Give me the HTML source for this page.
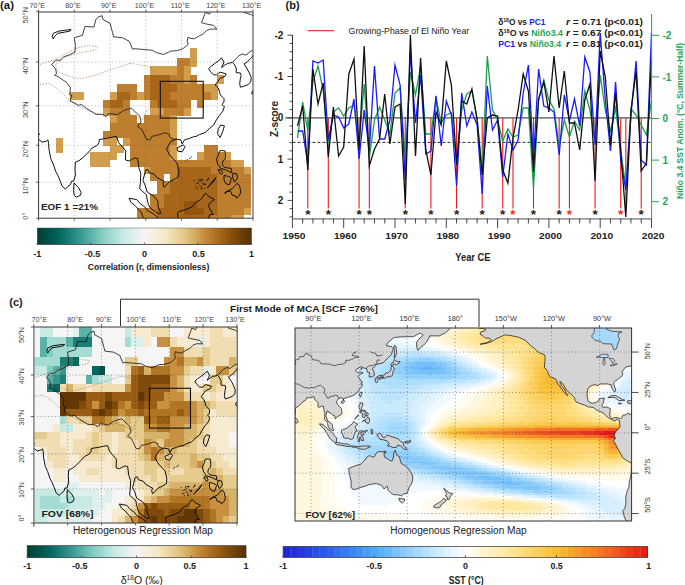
<!DOCTYPE html><html><head><meta charset="utf-8"><style>html,body{margin:0;padding:0;background:#fff;width:685px;height:585px;overflow:hidden}svg{display:block}</style></head><body><svg width="685" height="585" viewBox="0 0 685 585" font-family="'Liberation Sans', sans-serif"><defs><linearGradient id="gbrbg" x1="0" x2="1" y1="0" y2="0"><stop offset="0.000" stop-color="#003c30"/><stop offset="0.025" stop-color="#00473c"/><stop offset="0.050" stop-color="#005147"/><stop offset="0.075" stop-color="#015c53"/><stop offset="0.100" stop-color="#01665e"/><stop offset="0.125" stop-color="#0e726a"/><stop offset="0.150" stop-color="#1b7f77"/><stop offset="0.175" stop-color="#288b83"/><stop offset="0.200" stop-color="#35978f"/><stop offset="0.225" stop-color="#48a49c"/><stop offset="0.250" stop-color="#5ab2a8"/><stop offset="0.275" stop-color="#6dc0b4"/><stop offset="0.300" stop-color="#80cdc1"/><stop offset="0.325" stop-color="#92d4ca"/><stop offset="0.350" stop-color="#a4dcd3"/><stop offset="0.375" stop-color="#b5e3dc"/><stop offset="0.400" stop-color="#c7eae5"/><stop offset="0.425" stop-color="#d2ede9"/><stop offset="0.450" stop-color="#def0ed"/><stop offset="0.475" stop-color="#eaf2f1"/><stop offset="0.500" stop-color="#f5f5f5"/><stop offset="0.525" stop-color="#f5f2e8"/><stop offset="0.550" stop-color="#f6eedc"/><stop offset="0.575" stop-color="#f6ebd0"/><stop offset="0.600" stop-color="#f6e8c3"/><stop offset="0.625" stop-color="#f0deb2"/><stop offset="0.650" stop-color="#ead5a0"/><stop offset="0.675" stop-color="#e5cc8e"/><stop offset="0.700" stop-color="#dfc27d"/><stop offset="0.725" stop-color="#d7b269"/><stop offset="0.750" stop-color="#cfa255"/><stop offset="0.775" stop-color="#c79141"/><stop offset="0.800" stop-color="#bf812d"/><stop offset="0.825" stop-color="#b27524"/><stop offset="0.850" stop-color="#a6691c"/><stop offset="0.875" stop-color="#995d13"/><stop offset="0.900" stop-color="#8c510a"/><stop offset="0.925" stop-color="#7e4909"/><stop offset="0.950" stop-color="#704108"/><stop offset="0.975" stop-color="#623806"/><stop offset="1.000" stop-color="#543005"/></linearGradient><clipPath id="clipA"><rect x="38.6" y="12.0" width="214.4" height="206.2"/></clipPath><clipPath id="clipC"><rect x="33.8" y="327.0" width="203.39999999999998" height="196.0"/></clipPath><clipPath id="clipP"><rect x="295.0" y="328.0" width="336.6" height="193.0"/></clipPath></defs>
<text x="0.0" y="9.2" font-size="11.5" font-weight="bold" fill="#1a1a1a" text-anchor="start" >(a)</text>
<text x="285.5" y="9.2" font-size="11" font-weight="bold" fill="#1a1a1a" text-anchor="start" >(b)</text>
<text x="9.3" y="305.8" font-size="11" font-weight="bold" fill="#1a1a1a" text-anchor="start" >(c)</text>
<g clip-path="url(#clipA)">
<g shape-rendering="crispEdges">
<rect x="38.60" y="12.00" width="214.40" height="206.20" fill="#ffffff" />
<rect x="190.43" y="48.42" width="7.00" height="9.44" fill="#d09e4c" />
<rect x="177.03" y="57.57" width="7.00" height="9.18" fill="#bd7f2f" />
<rect x="183.73" y="57.57" width="7.00" height="9.18" fill="#bd7f2f" />
<rect x="190.43" y="57.57" width="7.00" height="9.18" fill="#d09e4c" />
<rect x="150.24" y="66.45" width="7.00" height="8.95" fill="#d09e4c" />
<rect x="156.94" y="66.45" width="7.00" height="8.95" fill="#d09e4c" />
<rect x="163.64" y="66.45" width="7.00" height="8.95" fill="#d09e4c" />
<rect x="170.34" y="66.45" width="7.00" height="8.95" fill="#d09e4c" />
<rect x="177.03" y="66.45" width="7.00" height="8.95" fill="#bd7f2f" />
<rect x="183.73" y="66.45" width="7.00" height="8.95" fill="#d09e4c" />
<rect x="143.54" y="75.10" width="7.00" height="8.73" fill="#bd7f2f" />
<rect x="150.24" y="75.10" width="7.00" height="8.73" fill="#a8661b" />
<rect x="156.94" y="75.10" width="7.00" height="8.73" fill="#a8661b" />
<rect x="163.64" y="75.10" width="7.00" height="8.73" fill="#a8661b" />
<rect x="170.34" y="75.10" width="7.00" height="8.73" fill="#bd7f2f" />
<rect x="177.03" y="75.10" width="7.00" height="8.73" fill="#bd7f2f" />
<rect x="183.73" y="75.10" width="7.00" height="8.73" fill="#d09e4c" />
<rect x="190.43" y="75.10" width="7.00" height="8.73" fill="#bd7f2f" />
<rect x="217.22" y="75.10" width="7.00" height="8.73" fill="#d09e4c" />
<rect x="116.75" y="83.53" width="7.00" height="8.54" fill="#bd7f2f" />
<rect x="123.45" y="83.53" width="7.00" height="8.54" fill="#bd7f2f" />
<rect x="130.15" y="83.53" width="7.00" height="8.54" fill="#bd7f2f" />
<rect x="143.54" y="83.53" width="7.00" height="8.54" fill="#bd7f2f" />
<rect x="150.24" y="83.53" width="7.00" height="8.54" fill="#a8661b" />
<rect x="156.94" y="83.53" width="7.00" height="8.54" fill="#a8661b" />
<rect x="163.64" y="83.53" width="7.00" height="8.54" fill="#a8661b" />
<rect x="170.34" y="83.53" width="7.00" height="8.54" fill="#a8661b" />
<rect x="177.03" y="83.53" width="7.00" height="8.54" fill="#bd7f2f" />
<rect x="183.73" y="83.53" width="7.00" height="8.54" fill="#bd7f2f" />
<rect x="190.43" y="83.53" width="7.00" height="8.54" fill="#bd7f2f" />
<rect x="197.13" y="83.53" width="7.00" height="8.54" fill="#bd7f2f" />
<rect x="203.83" y="83.53" width="7.00" height="8.54" fill="#d09e4c" />
<rect x="210.53" y="83.53" width="7.00" height="8.54" fill="#d09e4c" />
<rect x="69.86" y="91.77" width="7.00" height="8.36" fill="#d09e4c" />
<rect x="76.56" y="91.77" width="7.00" height="8.36" fill="#d09e4c" />
<rect x="110.05" y="91.77" width="7.00" height="8.36" fill="#d09e4c" />
<rect x="116.75" y="91.77" width="7.00" height="8.36" fill="#a8661b" />
<rect x="123.45" y="91.77" width="7.00" height="8.36" fill="#a8661b" />
<rect x="130.15" y="91.77" width="7.00" height="8.36" fill="#bd7f2f" />
<rect x="136.84" y="91.77" width="7.00" height="8.36" fill="#d09e4c" />
<rect x="143.54" y="91.77" width="7.00" height="8.36" fill="#bd7f2f" />
<rect x="150.24" y="91.77" width="7.00" height="8.36" fill="#a8661b" />
<rect x="156.94" y="91.77" width="7.00" height="8.36" fill="#a8661b" />
<rect x="163.64" y="91.77" width="7.00" height="8.36" fill="#a8661b" />
<rect x="170.34" y="91.77" width="7.00" height="8.36" fill="#bd7f2f" />
<rect x="177.03" y="91.77" width="7.00" height="8.36" fill="#bd7f2f" />
<rect x="183.73" y="91.77" width="7.00" height="8.36" fill="#bd7f2f" />
<rect x="190.43" y="91.77" width="7.00" height="8.36" fill="#bd7f2f" />
<rect x="197.13" y="91.77" width="7.00" height="8.36" fill="#bd7f2f" />
<rect x="203.83" y="91.77" width="7.00" height="8.36" fill="#bd7f2f" />
<rect x="210.53" y="91.77" width="7.00" height="8.36" fill="#d09e4c" />
<rect x="103.35" y="99.82" width="7.00" height="8.20" fill="#bd7f2f" />
<rect x="110.05" y="99.82" width="7.00" height="8.20" fill="#a8661b" />
<rect x="116.75" y="99.82" width="7.00" height="8.20" fill="#a8661b" />
<rect x="123.45" y="99.82" width="7.00" height="8.20" fill="#bd7f2f" />
<rect x="150.24" y="99.82" width="7.00" height="8.20" fill="#bd7f2f" />
<rect x="156.94" y="99.82" width="7.00" height="8.20" fill="#a8661b" />
<rect x="163.64" y="99.82" width="7.00" height="8.20" fill="#a8661b" />
<rect x="170.34" y="99.82" width="7.00" height="8.20" fill="#a8661b" />
<rect x="177.03" y="99.82" width="7.00" height="8.20" fill="#bd7f2f" />
<rect x="183.73" y="99.82" width="7.00" height="8.20" fill="#bd7f2f" />
<rect x="197.13" y="99.82" width="7.00" height="8.20" fill="#bd7f2f" />
<rect x="103.35" y="107.72" width="7.00" height="8.05" fill="#d09e4c" />
<rect x="110.05" y="107.72" width="7.00" height="8.05" fill="#bd7f2f" />
<rect x="116.75" y="107.72" width="7.00" height="8.05" fill="#bd7f2f" />
<rect x="123.45" y="107.72" width="7.00" height="8.05" fill="#bd7f2f" />
<rect x="150.24" y="107.72" width="7.00" height="8.05" fill="#d09e4c" />
<rect x="156.94" y="107.72" width="7.00" height="8.05" fill="#d09e4c" />
<rect x="163.64" y="107.72" width="7.00" height="8.05" fill="#bd7f2f" />
<rect x="170.34" y="107.72" width="7.00" height="8.05" fill="#bd7f2f" />
<rect x="177.03" y="107.72" width="7.00" height="8.05" fill="#bd7f2f" />
<rect x="183.73" y="107.72" width="7.00" height="8.05" fill="#d09e4c" />
<rect x="110.05" y="115.47" width="7.00" height="7.92" fill="#d09e4c" />
<rect x="116.75" y="115.47" width="7.00" height="7.92" fill="#bd7f2f" />
<rect x="123.45" y="115.47" width="7.00" height="7.92" fill="#bd7f2f" />
<rect x="130.15" y="115.47" width="7.00" height="7.92" fill="#bd7f2f" />
<rect x="143.54" y="115.47" width="7.00" height="7.92" fill="#bd7f2f" />
<rect x="150.24" y="115.47" width="7.00" height="7.92" fill="#bd7f2f" />
<rect x="156.94" y="115.47" width="7.00" height="7.92" fill="#bd7f2f" />
<rect x="163.64" y="115.47" width="7.00" height="7.92" fill="#bd7f2f" />
<rect x="170.34" y="115.47" width="7.00" height="7.92" fill="#d09e4c" />
<rect x="110.05" y="123.09" width="7.00" height="7.79" fill="#bd7f2f" />
<rect x="116.75" y="123.09" width="7.00" height="7.79" fill="#bd7f2f" />
<rect x="123.45" y="123.09" width="7.00" height="7.79" fill="#bd7f2f" />
<rect x="130.15" y="123.09" width="7.00" height="7.79" fill="#bd7f2f" />
<rect x="136.84" y="123.09" width="7.00" height="7.79" fill="#bd7f2f" />
<rect x="143.54" y="123.09" width="7.00" height="7.79" fill="#bd7f2f" />
<rect x="150.24" y="123.09" width="7.00" height="7.79" fill="#bd7f2f" />
<rect x="156.94" y="123.09" width="7.00" height="7.79" fill="#bd7f2f" />
<rect x="163.64" y="123.09" width="7.00" height="7.79" fill="#bd7f2f" />
<rect x="170.34" y="123.09" width="7.00" height="7.79" fill="#d09e4c" />
<rect x="103.35" y="130.58" width="7.00" height="7.69" fill="#bd7f2f" />
<rect x="110.05" y="130.58" width="7.00" height="7.69" fill="#bd7f2f" />
<rect x="116.75" y="130.58" width="7.00" height="7.69" fill="#bd7f2f" />
<rect x="123.45" y="130.58" width="7.00" height="7.69" fill="#bd7f2f" />
<rect x="130.15" y="130.58" width="7.00" height="7.69" fill="#bd7f2f" />
<rect x="136.84" y="130.58" width="7.00" height="7.69" fill="#bd7f2f" />
<rect x="143.54" y="130.58" width="7.00" height="7.69" fill="#bd7f2f" />
<rect x="150.24" y="130.58" width="7.00" height="7.69" fill="#bd7f2f" />
<rect x="156.94" y="130.58" width="7.00" height="7.69" fill="#bd7f2f" />
<rect x="163.64" y="130.58" width="7.00" height="7.69" fill="#bd7f2f" />
<rect x="170.34" y="130.58" width="7.00" height="7.69" fill="#d09e4c" />
<rect x="56.46" y="137.96" width="7.00" height="7.59" fill="#d09e4c" />
<rect x="103.35" y="137.96" width="7.00" height="7.59" fill="#d09e4c" />
<rect x="110.05" y="137.96" width="7.00" height="7.59" fill="#d09e4c" />
<rect x="123.45" y="137.96" width="7.00" height="7.59" fill="#d09e4c" />
<rect x="130.15" y="137.96" width="7.00" height="7.59" fill="#bd7f2f" />
<rect x="136.84" y="137.96" width="7.00" height="7.59" fill="#bd7f2f" />
<rect x="143.54" y="137.96" width="7.00" height="7.59" fill="#bd7f2f" />
<rect x="150.24" y="137.96" width="7.00" height="7.59" fill="#bd7f2f" />
<rect x="156.94" y="137.96" width="7.00" height="7.59" fill="#bd7f2f" />
<rect x="163.64" y="137.96" width="7.00" height="7.59" fill="#bd7f2f" />
<rect x="170.34" y="137.96" width="7.00" height="7.59" fill="#bd7f2f" />
<rect x="56.46" y="145.25" width="7.00" height="7.50" fill="#d09e4c" />
<rect x="110.05" y="145.25" width="7.00" height="7.50" fill="#d09e4c" />
<rect x="116.75" y="145.25" width="7.00" height="7.50" fill="#d09e4c" />
<rect x="130.15" y="145.25" width="7.00" height="7.50" fill="#bd7f2f" />
<rect x="136.84" y="145.25" width="7.00" height="7.50" fill="#bd7f2f" />
<rect x="143.54" y="145.25" width="7.00" height="7.50" fill="#bd7f2f" />
<rect x="150.24" y="145.25" width="7.00" height="7.50" fill="#bd7f2f" />
<rect x="156.94" y="145.25" width="7.00" height="7.50" fill="#bd7f2f" />
<rect x="163.64" y="145.25" width="7.00" height="7.50" fill="#bd7f2f" />
<rect x="170.34" y="145.25" width="7.00" height="7.50" fill="#d09e4c" />
<rect x="203.83" y="145.25" width="7.00" height="7.50" fill="#bd7f2f" />
<rect x="210.53" y="145.25" width="7.00" height="7.50" fill="#bd7f2f" />
<rect x="89.95" y="152.45" width="7.00" height="7.42" fill="#d09e4c" />
<rect x="96.65" y="152.45" width="7.00" height="7.42" fill="#d09e4c" />
<rect x="103.35" y="152.45" width="7.00" height="7.42" fill="#d09e4c" />
<rect x="110.05" y="152.45" width="7.00" height="7.42" fill="#d09e4c" />
<rect x="130.15" y="152.45" width="7.00" height="7.42" fill="#bd7f2f" />
<rect x="136.84" y="152.45" width="7.00" height="7.42" fill="#bd7f2f" />
<rect x="143.54" y="152.45" width="7.00" height="7.42" fill="#bd7f2f" />
<rect x="150.24" y="152.45" width="7.00" height="7.42" fill="#bd7f2f" />
<rect x="156.94" y="152.45" width="7.00" height="7.42" fill="#bd7f2f" />
<rect x="163.64" y="152.45" width="7.00" height="7.42" fill="#bd7f2f" />
<rect x="170.34" y="152.45" width="7.00" height="7.42" fill="#d09e4c" />
<rect x="197.13" y="152.45" width="7.00" height="7.42" fill="#d09e4c" />
<rect x="203.83" y="152.45" width="7.00" height="7.42" fill="#bd7f2f" />
<rect x="210.53" y="152.45" width="7.00" height="7.42" fill="#bd7f2f" />
<rect x="217.22" y="152.45" width="7.00" height="7.42" fill="#bd7f2f" />
<rect x="223.92" y="152.45" width="7.00" height="7.42" fill="#d09e4c" />
<rect x="89.95" y="159.57" width="7.00" height="7.35" fill="#d09e4c" />
<rect x="96.65" y="159.57" width="7.00" height="7.35" fill="#d09e4c" />
<rect x="103.35" y="159.57" width="7.00" height="7.35" fill="#d09e4c" />
<rect x="130.15" y="159.57" width="7.00" height="7.35" fill="#bd7f2f" />
<rect x="136.84" y="159.57" width="7.00" height="7.35" fill="#bd7f2f" />
<rect x="143.54" y="159.57" width="7.00" height="7.35" fill="#bd7f2f" />
<rect x="150.24" y="159.57" width="7.00" height="7.35" fill="#bd7f2f" />
<rect x="156.94" y="159.57" width="7.00" height="7.35" fill="#bd7f2f" />
<rect x="163.64" y="159.57" width="7.00" height="7.35" fill="#bd7f2f" />
<rect x="170.34" y="159.57" width="7.00" height="7.35" fill="#bd7f2f" />
<rect x="177.03" y="159.57" width="7.00" height="7.35" fill="#bd7f2f" />
<rect x="183.73" y="159.57" width="7.00" height="7.35" fill="#bd7f2f" />
<rect x="190.43" y="159.57" width="7.00" height="7.35" fill="#bd7f2f" />
<rect x="197.13" y="159.57" width="7.00" height="7.35" fill="#bd7f2f" />
<rect x="203.83" y="159.57" width="7.00" height="7.35" fill="#bd7f2f" />
<rect x="210.53" y="159.57" width="7.00" height="7.35" fill="#bd7f2f" />
<rect x="217.22" y="159.57" width="7.00" height="7.35" fill="#bd7f2f" />
<rect x="223.92" y="159.57" width="7.00" height="7.35" fill="#bd7f2f" />
<rect x="230.62" y="159.57" width="7.00" height="7.35" fill="#d09e4c" />
<rect x="237.32" y="159.57" width="7.00" height="7.35" fill="#d09e4c" />
<rect x="143.54" y="166.63" width="7.00" height="7.29" fill="#d09e4c" />
<rect x="150.24" y="166.63" width="7.00" height="7.29" fill="#bd7f2f" />
<rect x="156.94" y="166.63" width="7.00" height="7.29" fill="#bd7f2f" />
<rect x="163.64" y="166.63" width="7.00" height="7.29" fill="#bd7f2f" />
<rect x="170.34" y="166.63" width="7.00" height="7.29" fill="#bd7f2f" />
<rect x="177.03" y="166.63" width="7.00" height="7.29" fill="#a8661b" />
<rect x="183.73" y="166.63" width="7.00" height="7.29" fill="#a8661b" />
<rect x="190.43" y="166.63" width="7.00" height="7.29" fill="#a8661b" />
<rect x="197.13" y="166.63" width="7.00" height="7.29" fill="#a8661b" />
<rect x="203.83" y="166.63" width="7.00" height="7.29" fill="#a8661b" />
<rect x="210.53" y="166.63" width="7.00" height="7.29" fill="#bd7f2f" />
<rect x="217.22" y="166.63" width="7.00" height="7.29" fill="#bd7f2f" />
<rect x="223.92" y="166.63" width="7.00" height="7.29" fill="#bd7f2f" />
<rect x="230.62" y="166.63" width="7.00" height="7.29" fill="#bd7f2f" />
<rect x="237.32" y="166.63" width="7.00" height="7.29" fill="#bd7f2f" />
<rect x="244.02" y="166.63" width="7.00" height="7.29" fill="#d09e4c" />
<rect x="150.24" y="173.62" width="7.00" height="7.24" fill="#bd7f2f" />
<rect x="156.94" y="173.62" width="7.00" height="7.24" fill="#bd7f2f" />
<rect x="170.34" y="173.62" width="7.00" height="7.24" fill="#bd7f2f" />
<rect x="177.03" y="173.62" width="7.00" height="7.24" fill="#a8661b" />
<rect x="183.73" y="173.62" width="7.00" height="7.24" fill="#a8661b" />
<rect x="190.43" y="173.62" width="7.00" height="7.24" fill="#a8661b" />
<rect x="197.13" y="173.62" width="7.00" height="7.24" fill="#a8661b" />
<rect x="203.83" y="173.62" width="7.00" height="7.24" fill="#a8661b" />
<rect x="210.53" y="173.62" width="7.00" height="7.24" fill="#a8661b" />
<rect x="217.22" y="173.62" width="7.00" height="7.24" fill="#bd7f2f" />
<rect x="223.92" y="173.62" width="7.00" height="7.24" fill="#bd7f2f" />
<rect x="230.62" y="173.62" width="7.00" height="7.24" fill="#bd7f2f" />
<rect x="237.32" y="173.62" width="7.00" height="7.24" fill="#bd7f2f" />
<rect x="244.02" y="173.62" width="7.00" height="7.24" fill="#bd7f2f" />
<rect x="156.94" y="180.56" width="7.00" height="7.20" fill="#bd7f2f" />
<rect x="163.64" y="180.56" width="7.00" height="7.20" fill="#bd7f2f" />
<rect x="170.34" y="180.56" width="7.00" height="7.20" fill="#a8661b" />
<rect x="177.03" y="180.56" width="7.00" height="7.20" fill="#a8661b" />
<rect x="183.73" y="180.56" width="7.00" height="7.20" fill="#a8661b" />
<rect x="190.43" y="180.56" width="7.00" height="7.20" fill="#a8661b" />
<rect x="197.13" y="180.56" width="7.00" height="7.20" fill="#a8661b" />
<rect x="203.83" y="180.56" width="7.00" height="7.20" fill="#a8661b" />
<rect x="210.53" y="180.56" width="7.00" height="7.20" fill="#a8661b" />
<rect x="217.22" y="180.56" width="7.00" height="7.20" fill="#bd7f2f" />
<rect x="223.92" y="180.56" width="7.00" height="7.20" fill="#bd7f2f" />
<rect x="230.62" y="180.56" width="7.00" height="7.20" fill="#bd7f2f" />
<rect x="237.32" y="180.56" width="7.00" height="7.20" fill="#bd7f2f" />
<rect x="244.02" y="180.56" width="7.00" height="7.20" fill="#bd7f2f" />
<rect x="156.94" y="187.46" width="7.00" height="7.17" fill="#bd7f2f" />
<rect x="163.64" y="187.46" width="7.00" height="7.17" fill="#bd7f2f" />
<rect x="170.34" y="187.46" width="7.00" height="7.17" fill="#a8661b" />
<rect x="177.03" y="187.46" width="7.00" height="7.17" fill="#a8661b" />
<rect x="183.73" y="187.46" width="7.00" height="7.17" fill="#a8661b" />
<rect x="190.43" y="187.46" width="7.00" height="7.17" fill="#a8661b" />
<rect x="197.13" y="187.46" width="7.00" height="7.17" fill="#a8661b" />
<rect x="203.83" y="187.46" width="7.00" height="7.17" fill="#a8661b" />
<rect x="210.53" y="187.46" width="7.00" height="7.17" fill="#a8661b" />
<rect x="217.22" y="187.46" width="7.00" height="7.17" fill="#bd7f2f" />
<rect x="223.92" y="187.46" width="7.00" height="7.17" fill="#bd7f2f" />
<rect x="230.62" y="187.46" width="7.00" height="7.17" fill="#bd7f2f" />
<rect x="237.32" y="187.46" width="7.00" height="7.17" fill="#bd7f2f" />
<rect x="244.02" y="187.46" width="7.00" height="7.17" fill="#bd7f2f" />
<rect x="150.24" y="194.33" width="7.00" height="7.14" fill="#bd7f2f" />
<rect x="156.94" y="194.33" width="7.00" height="7.14" fill="#bd7f2f" />
<rect x="163.64" y="194.33" width="7.00" height="7.14" fill="#a8661b" />
<rect x="170.34" y="194.33" width="7.00" height="7.14" fill="#a8661b" />
<rect x="177.03" y="194.33" width="7.00" height="7.14" fill="#a8661b" />
<rect x="183.73" y="194.33" width="7.00" height="7.14" fill="#a8661b" />
<rect x="190.43" y="194.33" width="7.00" height="7.14" fill="#a8661b" />
<rect x="197.13" y="194.33" width="7.00" height="7.14" fill="#a8661b" />
<rect x="203.83" y="194.33" width="7.00" height="7.14" fill="#a8661b" />
<rect x="210.53" y="194.33" width="7.00" height="7.14" fill="#a8661b" />
<rect x="217.22" y="194.33" width="7.00" height="7.14" fill="#bd7f2f" />
<rect x="223.92" y="194.33" width="7.00" height="7.14" fill="#bd7f2f" />
<rect x="230.62" y="194.33" width="7.00" height="7.14" fill="#bd7f2f" />
<rect x="237.32" y="194.33" width="7.00" height="7.14" fill="#bd7f2f" />
<rect x="244.02" y="194.33" width="7.00" height="7.14" fill="#bd7f2f" />
<rect x="150.24" y="201.17" width="7.00" height="7.12" fill="#bd7f2f" />
<rect x="156.94" y="201.17" width="7.00" height="7.12" fill="#bd7f2f" />
<rect x="163.64" y="201.17" width="7.00" height="7.12" fill="#a8661b" />
<rect x="170.34" y="201.17" width="7.00" height="7.12" fill="#a8661b" />
<rect x="177.03" y="201.17" width="7.00" height="7.12" fill="#a8661b" />
<rect x="183.73" y="201.17" width="7.00" height="7.12" fill="#935410" />
<rect x="190.43" y="201.17" width="7.00" height="7.12" fill="#935410" />
<rect x="197.13" y="201.17" width="7.00" height="7.12" fill="#a8661b" />
<rect x="203.83" y="201.17" width="7.00" height="7.12" fill="#a8661b" />
<rect x="210.53" y="201.17" width="7.00" height="7.12" fill="#a8661b" />
<rect x="217.22" y="201.17" width="7.00" height="7.12" fill="#bd7f2f" />
<rect x="223.92" y="201.17" width="7.00" height="7.12" fill="#bd7f2f" />
<rect x="230.62" y="201.17" width="7.00" height="7.12" fill="#bd7f2f" />
<rect x="237.32" y="201.17" width="7.00" height="7.12" fill="#bd7f2f" />
<rect x="244.02" y="201.17" width="7.00" height="7.12" fill="#bd7f2f" />
<rect x="136.84" y="207.99" width="7.00" height="7.11" fill="#bd7f2f" />
<rect x="143.54" y="207.99" width="7.00" height="7.11" fill="#bd7f2f" />
<rect x="150.24" y="207.99" width="7.00" height="7.11" fill="#bd7f2f" />
<rect x="156.94" y="207.99" width="7.00" height="7.11" fill="#a8661b" />
<rect x="163.64" y="207.99" width="7.00" height="7.11" fill="#a8661b" />
<rect x="170.34" y="207.99" width="7.00" height="7.11" fill="#a8661b" />
<rect x="177.03" y="207.99" width="7.00" height="7.11" fill="#a8661b" />
<rect x="183.73" y="207.99" width="7.00" height="7.11" fill="#935410" />
<rect x="190.43" y="207.99" width="7.00" height="7.11" fill="#935410" />
<rect x="197.13" y="207.99" width="7.00" height="7.11" fill="#935410" />
<rect x="203.83" y="207.99" width="7.00" height="7.11" fill="#a8661b" />
<rect x="210.53" y="207.99" width="7.00" height="7.11" fill="#a8661b" />
<rect x="217.22" y="207.99" width="7.00" height="7.11" fill="#bd7f2f" />
<rect x="223.92" y="207.99" width="7.00" height="7.11" fill="#bd7f2f" />
<rect x="230.62" y="207.99" width="7.00" height="7.11" fill="#bd7f2f" />
<rect x="237.32" y="207.99" width="7.00" height="7.11" fill="#bd7f2f" />
<rect x="244.02" y="207.99" width="7.00" height="7.11" fill="#d09e4c" />
<rect x="136.84" y="214.80" width="7.00" height="7.11" fill="#bd7f2f" />
<rect x="143.54" y="214.80" width="7.00" height="7.11" fill="#bd7f2f" />
<rect x="150.24" y="214.80" width="7.00" height="7.11" fill="#bd7f2f" />
<rect x="156.94" y="214.80" width="7.00" height="7.11" fill="#a8661b" />
<rect x="163.64" y="214.80" width="7.00" height="7.11" fill="#a8661b" />
<rect x="170.34" y="214.80" width="7.00" height="7.11" fill="#a8661b" />
<rect x="177.03" y="214.80" width="7.00" height="7.11" fill="#a8661b" />
<rect x="183.73" y="214.80" width="7.00" height="7.11" fill="#a8661b" />
<rect x="190.43" y="214.80" width="7.00" height="7.11" fill="#a8661b" />
<rect x="197.13" y="214.80" width="7.00" height="7.11" fill="#a8661b" />
<rect x="203.83" y="214.80" width="7.00" height="7.11" fill="#a8661b" />
<rect x="210.53" y="214.80" width="7.00" height="7.11" fill="#bd7f2f" />
<rect x="217.22" y="214.80" width="7.00" height="7.11" fill="#bd7f2f" />
<rect x="223.92" y="214.80" width="7.00" height="7.11" fill="#bd7f2f" />
<rect x="230.62" y="214.80" width="7.00" height="7.11" fill="#d09e4c" />
<rect x="237.32" y="214.80" width="7.00" height="7.11" fill="#d09e4c" />
</g>
<line x1="74.32" y1="12.00" x2="74.32" y2="218.20" stroke="#444" stroke-width="0.7" stroke-dasharray="1.3,2.2" stroke-opacity="0.45"/>
<line x1="110.05" y1="12.00" x2="110.05" y2="218.20" stroke="#444" stroke-width="0.7" stroke-dasharray="1.3,2.2" stroke-opacity="0.45"/>
<line x1="145.78" y1="12.00" x2="145.78" y2="218.20" stroke="#444" stroke-width="0.7" stroke-dasharray="1.3,2.2" stroke-opacity="0.45"/>
<line x1="181.50" y1="12.00" x2="181.50" y2="218.20" stroke="#444" stroke-width="0.7" stroke-dasharray="1.3,2.2" stroke-opacity="0.45"/>
<line x1="217.22" y1="12.00" x2="217.22" y2="218.20" stroke="#444" stroke-width="0.7" stroke-dasharray="1.3,2.2" stroke-opacity="0.45"/>
<line x1="38.60" y1="182.29" x2="253.00" y2="182.29" stroke="#444" stroke-width="0.7" stroke-dasharray="1.3,2.2" stroke-opacity="0.45"/>
<line x1="38.60" y1="145.25" x2="253.00" y2="145.25" stroke="#444" stroke-width="0.7" stroke-dasharray="1.3,2.2" stroke-opacity="0.45"/>
<line x1="38.60" y1="105.76" x2="253.00" y2="105.76" stroke="#444" stroke-width="0.7" stroke-dasharray="1.3,2.2" stroke-opacity="0.45"/>
<line x1="38.60" y1="62.03" x2="253.00" y2="62.03" stroke="#444" stroke-width="0.7" stroke-dasharray="1.3,2.2" stroke-opacity="0.45"/>
<path d="M40.0,64.4 L53.3,60.0 L71.1,51.1 L77.8,47.8 L88.9,45.6 L97.8,46.7 L95.6,50.0 L82.2,52.2 L66.7,56.7 L55.6,64.4 L57.8,71.1 L66.7,75.6 L80.0,78.9 L93.3,75.6 L106.7,71.1 L120.0,66.7 L130.0,63.3" fill="none" stroke="#a0663a" stroke-width="0.7" stroke-dasharray="1.2,1.6"/>
<path d="M40.0,84.4 L48.9,83.3 L57.8,88.9 L66.7,97.8 L75.6,104.4 L84.4,108.9 L95.6,113.3 L106.7,115.6 L115.6,115.6 L124.4,113.3 L130.0,111.1" fill="none" stroke="#a0663a" stroke-width="0.7" stroke-dasharray="1.2,1.6"/>
<path d="M130.0,63.3 L135.0,64.0 L149.0,66.7 L156.7,75.6 L158.5,87.0 L155.6,100.0 L146.7,111.0 L142.2,120.0 L135.0,116.0 L124.4,112.2" fill="none" stroke="#a0663a" stroke-width="0.7" stroke-dasharray="1.2,1.6"/>
<path d="M52.2,36.7 L53.3,33.3 L58.9,31.1 L66.7,30.0 L71.1,29.6 L70.0,31.1 L64.4,32.2 L57.8,33.3 L54.4,36.7 L53.3,38.9 Z" fill="none" stroke="#111" stroke-width="1.0" stroke-linejoin="round"/>
<path d="M102.2,15.7 L98.6,16.8 L95.8,19.5 L94.0,27.0 L85.0,26.4 L82.5,35.2 L74.3,37.8 L75.4,45.3 L75.0,52.1 L69.0,55.0 L63.6,56.9 L60.0,60.2 L55.7,60.2 L51.8,64.4 L55.7,69.0 L56.5,73.9 L54.7,75.3 L58.2,76.6 L60.0,78.0 L66.5,82.4 L70.4,87.6 L69.7,94.9 L71.8,95.3 L70.0,100.8 L75.0,103.3 L78.3,105.3 L81.5,104.5 L86.8,108.6 L92.2,111.9 L95.8,114.3 L102.9,114.3 L105.8,116.8 L108.6,113.5 L111.8,113.9 L117.2,114.7 L122.6,111.1 L127.9,109.0 L131.5,108.2 L136.1,112.7 L139.7,115.9 L141.1,121.9 L137.6,126.7 L141.8,129.4 L144.0,134.1 L146.5,139.5 L150.1,139.9 L152.2,136.1 L153.6,136.1 L156.5,135.3 L160.1,134.5 L164.7,132.6 L169.7,134.5 L169.4,136.8 L174.0,139.5" fill="none" stroke="#111" stroke-width="0.8" stroke-linejoin="round"/>
<path d="M102.2,15.7 L102.9,19.5 L110.0,23.3 L112.6,32.7 L113.6,36.8 L122.6,37.8 L129.3,41.3 L132.6,49.2 L135.1,48.7 L145.8,49.7 L152.2,50.2 L156.5,52.6 L163.6,54.5 L170.8,51.1 L177.2,50.6 L182.9,48.7 L188.3,44.3 L187.2,41.3 L187.9,37.3 L190.4,38.3 L194.4,38.8 L199.4,35.8 L202.9,34.2 L206.5,30.6 L210.1,29.1 L216.9,29.1 L213.7,25.4 L205.4,23.8 L201.5,22.7 L205.4,12.4 L209.4,14.1 L211.9,8.5" fill="none" stroke="#111" stroke-width="0.8" stroke-linejoin="round"/>
<path d="M242.2,8.5 L244.0,12.4 L251.2,14.6 L254.7,17.4 L256.5,23.8 L261.9,23.8 L269.7,20.6" fill="none" stroke="#111" stroke-width="0.8" stroke-linejoin="round"/>
<path d="M232.6,62.5 L235.1,59.7 L238.7,55.9 L242.2,54.0 L245.8,55.0 L249.0,52.6 L251.9,50.6 L255.1,50.6 L257.2,48.2 L256.5,42.8 L257.2,37.8 L263.7,37.8" fill="none" stroke="#111" stroke-width="0.8" stroke-linejoin="round"/>
<path d="M258.3,47.7 L255.5,51.1 L251.9,57.3 L250.4,58.8 L247.2,62.0 L244.0,63.9 L247.2,69.0 L249.4,73.0 L251.2,77.5 L250.8,81.9 L247.9,84.6 L243.7,86.3 L240.4,87.2 L239.7,83.7 L240.4,78.0 L241.2,75.7 L240.4,73.0 L236.2,72.6 L236.2,68.0 L234.0,63.9 L232.6,62.5 L227.6,63.4 L225.1,64.8 L221.5,67.6 L222.9,64.8 L224.0,62.0 L221.5,57.8 L218.3,61.1 L215.4,63.0 L211.2,66.2 L208.7,68.5 L210.4,71.7 L213.7,74.8 L216.5,74.8 L220.1,72.1 L226.2,73.9 L225.1,76.2 L220.1,78.4 L215.1,85.0 L218.3,88.0 L220.4,94.9 L224.0,98.7 L224.0,102.0 L221.9,104.5 L224.4,106.6 L222.9,111.1 L219.4,115.5 L215.8,120.8 L213.7,125.1 L210.1,127.9 L205.1,132.6 L199.7,134.5 L196.1,136.4 L193.6,136.8 L189.4,138.4 L184.4,139.9 L182.2,144.1 L180.8,139.9 L176.1,139.1 L170.8,141.4 L169.0,144.5 L166.5,149.0 L169.4,154.7 L173.3,159.2 L177.2,163.2 L179.0,171.4 L178.6,176.5 L174.4,179.4 L170.1,181.2 L164.0,187.4 L162.9,183.7 L164.0,181.2 L161.5,180.1 L156.5,177.2 L154.3,174.3 L149.0,172.5 L147.9,169.5 L145.8,169.9 L142.9,180.5 L145.1,185.2 L147.2,192.0 L150.1,193.8 L153.6,196.0 L157.9,201.0 L157.9,206.0 L160.8,213.2 L158.3,213.6 L154.7,211.1 L150.4,208.2 L148.3,204.3 L146.8,197.8 L146.5,194.9 L139.7,188.8 L140.4,182.3 L140.8,173.2 L139.0,168.4 L137.6,158.4 L134.3,158.0 L129.0,161.0 L125.4,159.9 L125.8,150.9 L122.6,147.1 L118.6,142.6 L116.5,136.4 L111.8,137.2 L106.5,138.4 L99.3,139.5 L99.0,142.6 L96.8,145.6 L92.2,147.9 L89.0,151.7 L82.5,158.0 L79.0,160.7 L75.4,162.1 L75.0,169.5 L75.4,175.0 L73.6,181.2 L71.5,181.2 L70.4,184.8 L67.9,186.3 L65.4,189.2 L62.2,186.3 L60.0,180.5 L57.9,175.4 L55.7,171.4 L53.2,164.0 L50.7,158.4 L49.0,149.4 L48.6,143.3 L47.9,139.9 L46.5,141.1 L42.2,142.2 L38.6,139.1 L35.0,136.1 L39.7,134.1 L35.7,134.5 L32.9,131.8" fill="none" stroke="#111" stroke-width="1.0" stroke-linejoin="round"/>
<path d="M252.6,90.6 L256.2,89.3 L258.7,91.9 L259.7,96.2 L257.6,100.4 L255.1,101.2 L253.7,99.5 L253.7,94.9 L251.5,93.6 Z" fill="none" stroke="#111" stroke-width="1.0" stroke-linejoin="round"/>
<path d="M291.9,55.0 L294.0,59.7 L295.8,64.4 L294.0,69.9 L292.2,72.1 L292.2,78.8 L291.9,81.5 L288.0,85.0 L285.5,83.7 L284.4,86.3 L279.0,86.3 L275.1,88.0 L273.7,91.0 L271.2,89.3 L272.2,85.9 L268.0,85.9 L263.7,87.2 L260.1,89.3 L256.2,87.2 L261.5,82.8 L265.5,82.4 L271.9,81.9 L274.4,80.2 L277.2,74.4 L279.0,76.6 L283.3,73.9 L286.9,69.9 L288.7,63.9 L288.3,59.2 L289.7,56.4 Z" fill="none" stroke="#111" stroke-width="1.0" stroke-linejoin="round"/>
<path d="M262.2,92.3 L265.5,91.9 L269.7,89.8 L269.0,88.0 L265.1,87.2 L262.2,89.3 Z" fill="none" stroke="#111" stroke-width="1.0" stroke-linejoin="round"/>
<path d="M220.8,125.1 L224.4,125.9 L222.6,131.8 L220.1,137.6 L217.6,133.7 L218.3,128.7 Z" fill="none" stroke="#111" stroke-width="1.0" stroke-linejoin="round"/>
<path d="M176.9,147.9 L183.3,144.9 L185.1,146.8 L182.2,151.7 L177.9,151.3 Z" fill="none" stroke="#111" stroke-width="1.0" stroke-linejoin="round"/>
<path d="M219.4,150.9 L221.9,150.5 L225.1,150.9 L225.4,156.2 L225.1,159.2 L222.9,161.0 L222.2,164.7 L224.4,167.3 L227.9,168.0 L231.2,168.4 L231.9,172.8 L226.5,170.3 L220.1,168.0 L219.4,165.8 L217.9,164.7 L216.5,159.2 L218.7,154.3 Z" fill="none" stroke="#111" stroke-width="1.0" stroke-linejoin="round"/>
<path d="M224.4,193.1 L227.2,191.0 L232.2,188.8 L234.4,186.3 L236.9,183.4 L239.4,185.2 L240.8,192.0 L239.4,195.6 L236.5,198.2 L235.8,196.0 L232.2,195.3 L230.8,191.3 L227.9,191.3 L224.7,193.5 Z" fill="none" stroke="#111" stroke-width="1.0" stroke-linejoin="round"/>
<path d="M232.9,173.2 L236.9,173.9 L237.6,177.9 L235.1,181.6 L234.0,181.6 L232.6,177.2 Z" fill="none" stroke="#111" stroke-width="1.0" stroke-linejoin="round"/>
<path d="M224.0,175.4 L228.7,176.5 L231.5,178.3 L229.4,184.8 L225.8,183.7 L224.0,180.1 Z" fill="none" stroke="#111" stroke-width="1.0" stroke-linejoin="round"/>
<path d="M207.2,188.1 L211.2,184.1 L214.7,180.5 L215.8,177.6 L214.7,178.7 L209.0,185.9 Z" fill="none" stroke="#111" stroke-width="1.0" stroke-linejoin="round"/>
<path d="M218.3,169.5 L221.5,169.9 L222.6,172.8 L221.5,174.3 L219.7,173.2 Z" fill="none" stroke="#111" stroke-width="1.0" stroke-linejoin="round"/>
<path d="M177.6,212.8 L180.1,211.1 L185.8,209.6 L192.2,206.8 L195.4,202.5 L200.8,199.6 L202.9,196.7 L205.4,193.1 L209.0,196.7 L214.7,199.6 L209.4,203.2 L208.7,206.8 L213.3,214.6 L209.7,214.6 L208.3,218.2 L207.2,221.4 L205.1,225.3 L204.4,230.4 L202.9,232.1 L197.9,232.9 L192.2,229.6 L187.9,230.7 L182.6,228.6 L181.5,224.3 L179.4,220.7 L177.9,216.8 Z" fill="none" stroke="#111" stroke-width="1.0" stroke-linejoin="round"/>
<path d="M129.0,198.2 L136.8,199.6 L139.7,203.2 L144.7,206.8 L147.6,210.7 L153.6,213.9 L156.8,216.8 L159.4,219.6 L161.9,224.6 L167.2,229.3 L166.9,234.3 L166.5,239.0 L162.2,239.3 L154.0,232.5 L150.4,228.2 L146.1,220.0 L142.9,216.8 L141.1,212.1 L134.7,205.3 L131.1,202.5 Z" fill="none" stroke="#111" stroke-width="1.0" stroke-linejoin="round"/>
<path d="M74.0,183.0 L78.6,187.7 L81.1,192.4 L80.4,195.3 L76.5,197.1 L74.3,195.6 L73.6,190.2 Z" fill="none" stroke="#111" stroke-width="1.0" stroke-linejoin="round"/>
<circle cx="189.7" cy="158.4" r="0.55" fill="#111"/>
<circle cx="187.2" cy="159.5" r="0.55" fill="#111"/>
<circle cx="191.1" cy="156.9" r="0.55" fill="#111"/>
<circle cx="185.8" cy="161.0" r="0.55" fill="#111"/>
<circle cx="196.7" cy="183.6" r="0.55" fill="#111"/>
<circle cx="198.2" cy="183.0" r="0.55" fill="#111"/>
<circle cx="201.2" cy="188.8" r="0.55" fill="#111"/>
<circle cx="194.2" cy="180.4" r="0.55" fill="#111"/>
<circle cx="197.0" cy="187.0" r="0.55" fill="#111"/>
<circle cx="205.4" cy="184.4" r="0.55" fill="#111"/>
<circle cx="203.6" cy="184.4" r="0.55" fill="#111"/>
<circle cx="201.3" cy="187.9" r="0.55" fill="#111"/>
<circle cx="201.3" cy="180.1" r="0.55" fill="#111"/>
<circle cx="200.0" cy="181.5" r="0.55" fill="#111"/>
<circle cx="201.7" cy="188.8" r="0.55" fill="#111"/>
<circle cx="202.7" cy="183.1" r="0.55" fill="#111"/>
<circle cx="197.4" cy="189.2" r="0.55" fill="#111"/>
<circle cx="203.9" cy="184.4" r="0.55" fill="#111"/>
<circle cx="202.2" cy="180.0" r="0.55" fill="#111"/>
<circle cx="202.2" cy="179.5" r="0.55" fill="#111"/>
<circle cx="198.5" cy="180.8" r="0.55" fill="#111"/>
<circle cx="199.1" cy="179.4" r="0.55" fill="#111"/>
<circle cx="204.1" cy="188.5" r="0.55" fill="#111"/>
<circle cx="195.6" cy="187.2" r="0.55" fill="#111"/>
<circle cx="205.0" cy="184.8" r="0.55" fill="#111"/>
<circle cx="201.2" cy="186.3" r="0.55" fill="#111"/>
<circle cx="199.8" cy="185.3" r="0.55" fill="#111"/>
<circle cx="198.0" cy="183.2" r="0.55" fill="#111"/>
<circle cx="200.7" cy="179.7" r="0.55" fill="#111"/>
<circle cx="201.8" cy="179.4" r="0.55" fill="#111"/>
<circle cx="207.9" cy="179.2" r="0.55" fill="#111"/>
<circle cx="208.6" cy="178.4" r="0.55" fill="#111"/>
<circle cx="207.0" cy="180.4" r="0.55" fill="#111"/>
<circle cx="204.5" cy="183.8" r="0.55" fill="#111"/>
<circle cx="208.0" cy="179.2" r="0.55" fill="#111"/>
<circle cx="208.5" cy="178.5" r="0.55" fill="#111"/>
<rect x="160.3" y="81.3" width="42.9" height="36.8" fill="none" stroke="#111" stroke-width="1.1"/>
</g>
<rect x="38.6" y="12.0" width="214.4" height="206.2" fill="none" stroke="#3a3a3a" stroke-width="1"/>
<line x1="38.60" y1="12.00" x2="38.60" y2="9.50" stroke="#3a3a3a" stroke-width="0.8" />
<line x1="38.60" y1="218.20" x2="38.60" y2="220.70" stroke="#3a3a3a" stroke-width="0.8" />
<line x1="74.32" y1="12.00" x2="74.32" y2="9.50" stroke="#3a3a3a" stroke-width="0.8" />
<line x1="74.32" y1="218.20" x2="74.32" y2="220.70" stroke="#3a3a3a" stroke-width="0.8" />
<line x1="110.05" y1="12.00" x2="110.05" y2="9.50" stroke="#3a3a3a" stroke-width="0.8" />
<line x1="110.05" y1="218.20" x2="110.05" y2="220.70" stroke="#3a3a3a" stroke-width="0.8" />
<line x1="145.78" y1="12.00" x2="145.78" y2="9.50" stroke="#3a3a3a" stroke-width="0.8" />
<line x1="145.78" y1="218.20" x2="145.78" y2="220.70" stroke="#3a3a3a" stroke-width="0.8" />
<line x1="181.50" y1="12.00" x2="181.50" y2="9.50" stroke="#3a3a3a" stroke-width="0.8" />
<line x1="181.50" y1="218.20" x2="181.50" y2="220.70" stroke="#3a3a3a" stroke-width="0.8" />
<line x1="217.22" y1="12.00" x2="217.22" y2="9.50" stroke="#3a3a3a" stroke-width="0.8" />
<line x1="217.22" y1="218.20" x2="217.22" y2="220.70" stroke="#3a3a3a" stroke-width="0.8" />
<line x1="252.95" y1="12.00" x2="252.95" y2="9.50" stroke="#3a3a3a" stroke-width="0.8" />
<line x1="252.95" y1="218.20" x2="252.95" y2="220.70" stroke="#3a3a3a" stroke-width="0.8" />
<line x1="38.60" y1="218.20" x2="36.10" y2="218.20" stroke="#3a3a3a" stroke-width="0.8" />
<line x1="38.60" y1="182.29" x2="36.10" y2="182.29" stroke="#3a3a3a" stroke-width="0.8" />
<line x1="38.60" y1="145.25" x2="36.10" y2="145.25" stroke="#3a3a3a" stroke-width="0.8" />
<line x1="38.60" y1="105.76" x2="36.10" y2="105.76" stroke="#3a3a3a" stroke-width="0.8" />
<line x1="38.60" y1="62.03" x2="36.10" y2="62.03" stroke="#3a3a3a" stroke-width="0.8" />
<line x1="38.60" y1="11.31" x2="36.10" y2="11.31" stroke="#3a3a3a" stroke-width="0.8" />
<text x="37.3" y="8.1" font-size="7.1" font-weight="normal" fill="#444" text-anchor="middle" >70°E</text>
<text x="73.0" y="8.1" font-size="7.1" font-weight="normal" fill="#444" text-anchor="middle" >80°E</text>
<text x="108.7" y="8.1" font-size="7.1" font-weight="normal" fill="#444" text-anchor="middle" >90°E</text>
<text x="144.5" y="8.1" font-size="7.1" font-weight="normal" fill="#444" text-anchor="middle" >100°E</text>
<text x="180.2" y="8.1" font-size="7.1" font-weight="normal" fill="#444" text-anchor="middle" >110°E</text>
<text x="215.9" y="8.1" font-size="7.1" font-weight="normal" fill="#444" text-anchor="middle" >120°E</text>
<text x="251.6" y="8.1" font-size="7.1" font-weight="normal" fill="#444" text-anchor="middle" >130°E</text>
<text transform="translate(27.9,216.2) rotate(-90)" font-size="7.4" fill="#444" text-anchor="middle">0°</text>
<text transform="translate(27.9,186.3) rotate(-90)" font-size="7.4" fill="#444" text-anchor="middle">10°N</text>
<text transform="translate(27.9,149.2) rotate(-90)" font-size="7.4" fill="#444" text-anchor="middle">20°N</text>
<text transform="translate(27.9,109.8) rotate(-90)" font-size="7.4" fill="#444" text-anchor="middle">30°N</text>
<text transform="translate(27.9,66.0) rotate(-90)" font-size="7.4" fill="#444" text-anchor="middle">40°N</text>
<text transform="translate(27.9,15.3) rotate(-90)" font-size="7.4" fill="#444" text-anchor="middle">50°N</text>
<text x="41.0" y="210.0" font-size="9.6" font-weight="bold" fill="#222" text-anchor="start" textLength="57" lengthAdjust="spacingAndGlyphs" >EOF 1 =21%</text>
<rect x="37.20" y="228.00" width="214.40" height="16.50" fill="url(#gbrbg)" stroke="#444" stroke-width="0.4"/>
<line x1="37.20" y1="244.50" x2="251.60" y2="244.50" stroke="#555" stroke-width="1" />
<line x1="37.20" y1="244.50" x2="37.20" y2="242.50" stroke="#444" stroke-width="0.8" />
<text x="37.2" y="257.0" font-size="9" font-weight="bold" fill="#222" text-anchor="middle" >-1</text>
<line x1="90.80" y1="244.50" x2="90.80" y2="242.50" stroke="#444" stroke-width="0.8" />
<text x="92.4" y="257.0" font-size="9" font-weight="bold" fill="#222" text-anchor="middle" >-0.5</text>
<line x1="144.40" y1="244.50" x2="144.40" y2="242.50" stroke="#444" stroke-width="0.8" />
<text x="144.4" y="257.0" font-size="9" font-weight="bold" fill="#222" text-anchor="middle" >0</text>
<line x1="198.00" y1="244.50" x2="198.00" y2="242.50" stroke="#444" stroke-width="0.8" />
<text x="198.5" y="257.0" font-size="9" font-weight="bold" fill="#222" text-anchor="middle" >0.5</text>
<line x1="251.60" y1="244.50" x2="251.60" y2="242.50" stroke="#444" stroke-width="0.8" />
<text x="251.6" y="257.0" font-size="9" font-weight="bold" fill="#222" text-anchor="middle" >1</text>
<text x="148.5" y="269.5" font-size="9" font-weight="bold" fill="#222" text-anchor="middle" textLength="121.6" lengthAdjust="spacingAndGlyphs" >Correlation (r, dimensionless)</text>
<g clip-path="url(#clipC)">
<g shape-rendering="crispEdges">
<rect x="33.48" y="327.03" width="6.82" height="10.62" fill="#f5f5f5" />
<rect x="40.00" y="327.03" width="6.82" height="10.62" fill="#c7eae5" />
<rect x="46.52" y="327.03" width="6.82" height="10.62" fill="#c7eae5" />
<rect x="53.05" y="327.03" width="6.82" height="10.62" fill="#f5f5f5" />
<rect x="59.57" y="327.03" width="6.82" height="10.62" fill="#f5f5f5" />
<rect x="66.09" y="327.03" width="6.82" height="10.62" fill="#f5f5f5" />
<rect x="72.61" y="327.03" width="6.82" height="10.62" fill="#def0ed" />
<rect x="79.14" y="327.03" width="6.82" height="10.62" fill="#5ab2a8" />
<rect x="85.66" y="327.03" width="6.82" height="10.62" fill="#5ab2a8" />
<rect x="92.18" y="327.03" width="6.82" height="10.62" fill="#f5f5f5" />
<rect x="98.71" y="327.03" width="6.82" height="10.62" fill="#f5f5f5" />
<rect x="105.23" y="327.03" width="6.82" height="10.62" fill="#f5f5f5" />
<rect x="111.75" y="327.03" width="6.82" height="10.62" fill="#f5f5f5" />
<rect x="118.28" y="327.03" width="6.82" height="10.62" fill="#f5f5f5" />
<rect x="124.80" y="327.03" width="6.82" height="10.62" fill="#c7eae5" />
<rect x="131.32" y="327.03" width="6.82" height="10.62" fill="#f6ebd0" />
<rect x="137.84" y="327.03" width="6.82" height="10.62" fill="#f6ebd0" />
<rect x="144.37" y="327.03" width="6.82" height="10.62" fill="#f6ebd0" />
<rect x="150.89" y="327.03" width="6.82" height="10.62" fill="#f0deb2" />
<rect x="157.41" y="327.03" width="6.82" height="10.62" fill="#f0deb2" />
<rect x="163.94" y="327.03" width="6.82" height="10.62" fill="#f0deb2" />
<rect x="170.46" y="327.03" width="6.82" height="10.62" fill="#f5f5f5" />
<rect x="176.98" y="327.03" width="6.82" height="10.62" fill="#f5f5f5" />
<rect x="183.51" y="327.03" width="6.82" height="10.62" fill="#f6ebd0" />
<rect x="190.03" y="327.03" width="6.82" height="10.62" fill="#f6ebd0" />
<rect x="196.55" y="327.03" width="6.82" height="10.62" fill="#f6ebd0" />
<rect x="203.07" y="327.03" width="6.82" height="10.62" fill="#f6ebd0" />
<rect x="209.60" y="327.03" width="6.82" height="10.62" fill="#f0deb2" />
<rect x="216.12" y="327.03" width="6.82" height="10.62" fill="#f0deb2" />
<rect x="222.64" y="327.03" width="6.82" height="10.62" fill="#f6ebd0" />
<rect x="229.17" y="327.03" width="6.82" height="10.62" fill="#f6ebd0" />
<rect x="235.69" y="327.03" width="6.82" height="10.62" fill="#f6ebd0" />
<rect x="33.48" y="337.35" width="6.82" height="10.23" fill="#f5f5f5" />
<rect x="40.00" y="337.35" width="6.82" height="10.23" fill="#5ab2a8" />
<rect x="46.52" y="337.35" width="6.82" height="10.23" fill="#a4dcd3" />
<rect x="53.05" y="337.35" width="6.82" height="10.23" fill="#a4dcd3" />
<rect x="59.57" y="337.35" width="6.82" height="10.23" fill="#a4dcd3" />
<rect x="66.09" y="337.35" width="6.82" height="10.23" fill="#5ab2a8" />
<rect x="72.61" y="337.35" width="6.82" height="10.23" fill="#1b7f77" />
<rect x="79.14" y="337.35" width="6.82" height="10.23" fill="#1b7f77" />
<rect x="85.66" y="337.35" width="6.82" height="10.23" fill="#1b7f77" />
<rect x="92.18" y="337.35" width="6.82" height="10.23" fill="#f5f5f5" />
<rect x="98.71" y="337.35" width="6.82" height="10.23" fill="#f5f5f5" />
<rect x="105.23" y="337.35" width="6.82" height="10.23" fill="#f5f5f5" />
<rect x="111.75" y="337.35" width="6.82" height="10.23" fill="#f5f5f5" />
<rect x="118.28" y="337.35" width="6.82" height="10.23" fill="#f5f5f5" />
<rect x="124.80" y="337.35" width="6.82" height="10.23" fill="#a4dcd3" />
<rect x="131.32" y="337.35" width="6.82" height="10.23" fill="#def0ed" />
<rect x="137.84" y="337.35" width="6.82" height="10.23" fill="#def0ed" />
<rect x="144.37" y="337.35" width="6.82" height="10.23" fill="#f6ebd0" />
<rect x="150.89" y="337.35" width="6.82" height="10.23" fill="#f5f5f5" />
<rect x="157.41" y="337.35" width="6.82" height="10.23" fill="#c79141" />
<rect x="163.94" y="337.35" width="6.82" height="10.23" fill="#c79141" />
<rect x="170.46" y="337.35" width="6.82" height="10.23" fill="#f0deb2" />
<rect x="176.98" y="337.35" width="6.82" height="10.23" fill="#f6ebd0" />
<rect x="183.51" y="337.35" width="6.82" height="10.23" fill="#f6ebd0" />
<rect x="190.03" y="337.35" width="6.82" height="10.23" fill="#f6ebd0" />
<rect x="196.55" y="337.35" width="6.82" height="10.23" fill="#def0ed" />
<rect x="203.07" y="337.35" width="6.82" height="10.23" fill="#f6ebd0" />
<rect x="209.60" y="337.35" width="6.82" height="10.23" fill="#f0deb2" />
<rect x="216.12" y="337.35" width="6.82" height="10.23" fill="#f0deb2" />
<rect x="222.64" y="337.35" width="6.82" height="10.23" fill="#f0deb2" />
<rect x="229.17" y="337.35" width="6.82" height="10.23" fill="#f0deb2" />
<rect x="235.69" y="337.35" width="6.82" height="10.23" fill="#f6ebd0" />
<rect x="33.48" y="347.27" width="6.82" height="9.87" fill="#f5f5f5" />
<rect x="40.00" y="347.27" width="6.82" height="9.87" fill="#5ab2a8" />
<rect x="46.52" y="347.27" width="6.82" height="9.87" fill="#80cdc1" />
<rect x="53.05" y="347.27" width="6.82" height="9.87" fill="#a4dcd3" />
<rect x="59.57" y="347.27" width="6.82" height="9.87" fill="#a4dcd3" />
<rect x="66.09" y="347.27" width="6.82" height="9.87" fill="#a4dcd3" />
<rect x="72.61" y="347.27" width="6.82" height="9.87" fill="#a4dcd3" />
<rect x="79.14" y="347.27" width="6.82" height="9.87" fill="#a4dcd3" />
<rect x="85.66" y="347.27" width="6.82" height="9.87" fill="#a4dcd3" />
<rect x="92.18" y="347.27" width="6.82" height="9.87" fill="#f5f5f5" />
<rect x="98.71" y="347.27" width="6.82" height="9.87" fill="#f5f5f5" />
<rect x="105.23" y="347.27" width="6.82" height="9.87" fill="#f5f5f5" />
<rect x="111.75" y="347.27" width="6.82" height="9.87" fill="#f5f5f5" />
<rect x="118.28" y="347.27" width="6.82" height="9.87" fill="#f5f5f5" />
<rect x="124.80" y="347.27" width="6.82" height="9.87" fill="#f5f5f5" />
<rect x="131.32" y="347.27" width="6.82" height="9.87" fill="#f5f5f5" />
<rect x="137.84" y="347.27" width="6.82" height="9.87" fill="#f5f5f5" />
<rect x="144.37" y="347.27" width="6.82" height="9.87" fill="#f5f5f5" />
<rect x="150.89" y="347.27" width="6.82" height="9.87" fill="#f5f5f5" />
<rect x="157.41" y="347.27" width="6.82" height="9.87" fill="#f5f5f5" />
<rect x="163.94" y="347.27" width="6.82" height="9.87" fill="#f5f5f5" />
<rect x="170.46" y="347.27" width="6.82" height="9.87" fill="#c79141" />
<rect x="176.98" y="347.27" width="6.82" height="9.87" fill="#c79141" />
<rect x="183.51" y="347.27" width="6.82" height="9.87" fill="#f0deb2" />
<rect x="190.03" y="347.27" width="6.82" height="9.87" fill="#f0deb2" />
<rect x="196.55" y="347.27" width="6.82" height="9.87" fill="#f0deb2" />
<rect x="203.07" y="347.27" width="6.82" height="9.87" fill="#e5cc8e" />
<rect x="209.60" y="347.27" width="6.82" height="9.87" fill="#f0deb2" />
<rect x="216.12" y="347.27" width="6.82" height="9.87" fill="#f0deb2" />
<rect x="222.64" y="347.27" width="6.82" height="9.87" fill="#f0deb2" />
<rect x="229.17" y="347.27" width="6.82" height="9.87" fill="#f0deb2" />
<rect x="235.69" y="347.27" width="6.82" height="9.87" fill="#f6ebd0" />
<rect x="33.48" y="356.85" width="6.82" height="9.56" fill="#a4dcd3" />
<rect x="40.00" y="356.85" width="6.82" height="9.56" fill="#a4dcd3" />
<rect x="46.52" y="356.85" width="6.82" height="9.56" fill="#a4dcd3" />
<rect x="53.05" y="356.85" width="6.82" height="9.56" fill="#a4dcd3" />
<rect x="59.57" y="356.85" width="6.82" height="9.56" fill="#1b7f77" />
<rect x="66.09" y="356.85" width="6.82" height="9.56" fill="#1b7f77" />
<rect x="72.61" y="356.85" width="6.82" height="9.56" fill="#01665e" />
<rect x="79.14" y="356.85" width="6.82" height="9.56" fill="#f5f5f5" />
<rect x="85.66" y="356.85" width="6.82" height="9.56" fill="#f5f5f5" />
<rect x="92.18" y="356.85" width="6.82" height="9.56" fill="#f5f5f5" />
<rect x="98.71" y="356.85" width="6.82" height="9.56" fill="#f5f5f5" />
<rect x="105.23" y="356.85" width="6.82" height="9.56" fill="#f5f5f5" />
<rect x="111.75" y="356.85" width="6.82" height="9.56" fill="#f5f5f5" />
<rect x="118.28" y="356.85" width="6.82" height="9.56" fill="#f5f5f5" />
<rect x="124.80" y="356.85" width="6.82" height="9.56" fill="#e5cc8e" />
<rect x="131.32" y="356.85" width="6.82" height="9.56" fill="#e5cc8e" />
<rect x="137.84" y="356.85" width="6.82" height="9.56" fill="#f5f5f5" />
<rect x="144.37" y="356.85" width="6.82" height="9.56" fill="#f5f5f5" />
<rect x="150.89" y="356.85" width="6.82" height="9.56" fill="#f5f5f5" />
<rect x="157.41" y="356.85" width="6.82" height="9.56" fill="#f5f5f5" />
<rect x="163.94" y="356.85" width="6.82" height="9.56" fill="#c79141" />
<rect x="170.46" y="356.85" width="6.82" height="9.56" fill="#c79141" />
<rect x="176.98" y="356.85" width="6.82" height="9.56" fill="#b27524" />
<rect x="183.51" y="356.85" width="6.82" height="9.56" fill="#d7b269" />
<rect x="190.03" y="356.85" width="6.82" height="9.56" fill="#d7b269" />
<rect x="196.55" y="356.85" width="6.82" height="9.56" fill="#c79141" />
<rect x="203.07" y="356.85" width="6.82" height="9.56" fill="#e5cc8e" />
<rect x="209.60" y="356.85" width="6.82" height="9.56" fill="#f0deb2" />
<rect x="216.12" y="356.85" width="6.82" height="9.56" fill="#f0deb2" />
<rect x="222.64" y="356.85" width="6.82" height="9.56" fill="#f0deb2" />
<rect x="229.17" y="356.85" width="6.82" height="9.56" fill="#d7b269" />
<rect x="235.69" y="356.85" width="6.82" height="9.56" fill="#f0deb2" />
<rect x="33.48" y="366.10" width="6.82" height="9.27" fill="#c7eae5" />
<rect x="40.00" y="366.10" width="6.82" height="9.27" fill="#c7eae5" />
<rect x="46.52" y="366.10" width="6.82" height="9.27" fill="#80cdc1" />
<rect x="53.05" y="366.10" width="6.82" height="9.27" fill="#5ab2a8" />
<rect x="59.57" y="366.10" width="6.82" height="9.27" fill="#35978f" />
<rect x="66.09" y="366.10" width="6.82" height="9.27" fill="#f5f5f5" />
<rect x="72.61" y="366.10" width="6.82" height="9.27" fill="#f5f5f5" />
<rect x="79.14" y="366.10" width="6.82" height="9.27" fill="#f5f5f5" />
<rect x="85.66" y="366.10" width="6.82" height="9.27" fill="#f5f5f5" />
<rect x="92.18" y="366.10" width="6.82" height="9.27" fill="#01665e" />
<rect x="98.71" y="366.10" width="6.82" height="9.27" fill="#005147" />
<rect x="105.23" y="366.10" width="6.82" height="9.27" fill="#f5f5f5" />
<rect x="111.75" y="366.10" width="6.82" height="9.27" fill="#f5f5f5" />
<rect x="118.28" y="366.10" width="6.82" height="9.27" fill="#f5f5f5" />
<rect x="124.80" y="366.10" width="6.82" height="9.27" fill="#f0deb2" />
<rect x="131.32" y="366.10" width="6.82" height="9.27" fill="#b27524" />
<rect x="137.84" y="366.10" width="6.82" height="9.27" fill="#995d13" />
<rect x="144.37" y="366.10" width="6.82" height="9.27" fill="#d7b269" />
<rect x="150.89" y="366.10" width="6.82" height="9.27" fill="#b27524" />
<rect x="157.41" y="366.10" width="6.82" height="9.27" fill="#b27524" />
<rect x="163.94" y="366.10" width="6.82" height="9.27" fill="#b27524" />
<rect x="170.46" y="366.10" width="6.82" height="9.27" fill="#c79141" />
<rect x="176.98" y="366.10" width="6.82" height="9.27" fill="#c79141" />
<rect x="183.51" y="366.10" width="6.82" height="9.27" fill="#e5cc8e" />
<rect x="190.03" y="366.10" width="6.82" height="9.27" fill="#f0deb2" />
<rect x="196.55" y="366.10" width="6.82" height="9.27" fill="#f0deb2" />
<rect x="203.07" y="366.10" width="6.82" height="9.27" fill="#def0ed" />
<rect x="209.60" y="366.10" width="6.82" height="9.27" fill="#f6ebd0" />
<rect x="216.12" y="366.10" width="6.82" height="9.27" fill="#c79141" />
<rect x="222.64" y="366.10" width="6.82" height="9.27" fill="#c79141" />
<rect x="229.17" y="366.10" width="6.82" height="9.27" fill="#e5cc8e" />
<rect x="235.69" y="366.10" width="6.82" height="9.27" fill="#f6ebd0" />
<rect x="33.48" y="375.07" width="6.82" height="9.01" fill="#f5f5f5" />
<rect x="40.00" y="375.07" width="6.82" height="9.01" fill="#f5f5f5" />
<rect x="46.52" y="375.07" width="6.82" height="9.01" fill="#5ab2a8" />
<rect x="53.05" y="375.07" width="6.82" height="9.01" fill="#35978f" />
<rect x="59.57" y="375.07" width="6.82" height="9.01" fill="#1b7f77" />
<rect x="66.09" y="375.07" width="6.82" height="9.01" fill="#f5f5f5" />
<rect x="72.61" y="375.07" width="6.82" height="9.01" fill="#f5f5f5" />
<rect x="79.14" y="375.07" width="6.82" height="9.01" fill="#f5f5f5" />
<rect x="85.66" y="375.07" width="6.82" height="9.01" fill="#5ab2a8" />
<rect x="92.18" y="375.07" width="6.82" height="9.01" fill="#a4dcd3" />
<rect x="98.71" y="375.07" width="6.82" height="9.01" fill="#c7eae5" />
<rect x="105.23" y="375.07" width="6.82" height="9.01" fill="#c7eae5" />
<rect x="111.75" y="375.07" width="6.82" height="9.01" fill="#f5f5f5" />
<rect x="118.28" y="375.07" width="6.82" height="9.01" fill="#f5f5f5" />
<rect x="124.80" y="375.07" width="6.82" height="9.01" fill="#e5cc8e" />
<rect x="131.32" y="375.07" width="6.82" height="9.01" fill="#995d13" />
<rect x="137.84" y="375.07" width="6.82" height="9.01" fill="#7e4909" />
<rect x="144.37" y="375.07" width="6.82" height="9.01" fill="#7e4909" />
<rect x="150.89" y="375.07" width="6.82" height="9.01" fill="#7e4909" />
<rect x="157.41" y="375.07" width="6.82" height="9.01" fill="#7e4909" />
<rect x="163.94" y="375.07" width="6.82" height="9.01" fill="#7e4909" />
<rect x="170.46" y="375.07" width="6.82" height="9.01" fill="#c79141" />
<rect x="176.98" y="375.07" width="6.82" height="9.01" fill="#d7b269" />
<rect x="183.51" y="375.07" width="6.82" height="9.01" fill="#f0deb2" />
<rect x="190.03" y="375.07" width="6.82" height="9.01" fill="#f6ebd0" />
<rect x="196.55" y="375.07" width="6.82" height="9.01" fill="#f5f5f5" />
<rect x="203.07" y="375.07" width="6.82" height="9.01" fill="#f5f5f5" />
<rect x="209.60" y="375.07" width="6.82" height="9.01" fill="#e5cc8e" />
<rect x="216.12" y="375.07" width="6.82" height="9.01" fill="#e5cc8e" />
<rect x="222.64" y="375.07" width="6.82" height="9.01" fill="#f6ebd0" />
<rect x="229.17" y="375.07" width="6.82" height="9.01" fill="#f5f5f5" />
<rect x="235.69" y="375.07" width="6.82" height="9.01" fill="#f5f5f5" />
<rect x="33.48" y="383.78" width="6.82" height="8.78" fill="#f5f5f5" />
<rect x="40.00" y="383.78" width="6.82" height="8.78" fill="#f5f5f5" />
<rect x="46.52" y="383.78" width="6.82" height="8.78" fill="#1b7f77" />
<rect x="53.05" y="383.78" width="6.82" height="8.78" fill="#01665e" />
<rect x="59.57" y="383.78" width="6.82" height="8.78" fill="#f0deb2" />
<rect x="66.09" y="383.78" width="6.82" height="8.78" fill="#d7b269" />
<rect x="72.61" y="383.78" width="6.82" height="8.78" fill="#f0deb2" />
<rect x="79.14" y="383.78" width="6.82" height="8.78" fill="#f0deb2" />
<rect x="85.66" y="383.78" width="6.82" height="8.78" fill="#f6ebd0" />
<rect x="92.18" y="383.78" width="6.82" height="8.78" fill="#f0deb2" />
<rect x="98.71" y="383.78" width="6.82" height="8.78" fill="#f0deb2" />
<rect x="105.23" y="383.78" width="6.82" height="8.78" fill="#f0deb2" />
<rect x="111.75" y="383.78" width="6.82" height="8.78" fill="#f0deb2" />
<rect x="118.28" y="383.78" width="6.82" height="8.78" fill="#f0deb2" />
<rect x="124.80" y="383.78" width="6.82" height="8.78" fill="#c79141" />
<rect x="131.32" y="383.78" width="6.82" height="8.78" fill="#995d13" />
<rect x="137.84" y="383.78" width="6.82" height="8.78" fill="#7e4909" />
<rect x="144.37" y="383.78" width="6.82" height="8.78" fill="#7e4909" />
<rect x="150.89" y="383.78" width="6.82" height="8.78" fill="#995d13" />
<rect x="157.41" y="383.78" width="6.82" height="8.78" fill="#995d13" />
<rect x="163.94" y="383.78" width="6.82" height="8.78" fill="#995d13" />
<rect x="170.46" y="383.78" width="6.82" height="8.78" fill="#c79141" />
<rect x="176.98" y="383.78" width="6.82" height="8.78" fill="#d7b269" />
<rect x="183.51" y="383.78" width="6.82" height="8.78" fill="#f0deb2" />
<rect x="190.03" y="383.78" width="6.82" height="8.78" fill="#f6ebd0" />
<rect x="196.55" y="383.78" width="6.82" height="8.78" fill="#f6ebd0" />
<rect x="203.07" y="383.78" width="6.82" height="8.78" fill="#e5cc8e" />
<rect x="209.60" y="383.78" width="6.82" height="8.78" fill="#e5cc8e" />
<rect x="216.12" y="383.78" width="6.82" height="8.78" fill="#f0deb2" />
<rect x="222.64" y="383.78" width="6.82" height="8.78" fill="#f6ebd0" />
<rect x="229.17" y="383.78" width="6.82" height="8.78" fill="#f6ebd0" />
<rect x="235.69" y="383.78" width="6.82" height="8.78" fill="#f5f5f5" />
<rect x="33.48" y="392.26" width="6.82" height="8.56" fill="#f5f5f5" />
<rect x="40.00" y="392.26" width="6.82" height="8.56" fill="#f5f5f5" />
<rect x="46.52" y="392.26" width="6.82" height="8.56" fill="#f5f5f5" />
<rect x="53.05" y="392.26" width="6.82" height="8.56" fill="#f5f5f5" />
<rect x="59.57" y="392.26" width="6.82" height="8.56" fill="#623806" />
<rect x="66.09" y="392.26" width="6.82" height="8.56" fill="#623806" />
<rect x="72.61" y="392.26" width="6.82" height="8.56" fill="#623806" />
<rect x="79.14" y="392.26" width="6.82" height="8.56" fill="#623806" />
<rect x="85.66" y="392.26" width="6.82" height="8.56" fill="#995d13" />
<rect x="92.18" y="392.26" width="6.82" height="8.56" fill="#995d13" />
<rect x="98.71" y="392.26" width="6.82" height="8.56" fill="#995d13" />
<rect x="105.23" y="392.26" width="6.82" height="8.56" fill="#7e4909" />
<rect x="111.75" y="392.26" width="6.82" height="8.56" fill="#995d13" />
<rect x="118.28" y="392.26" width="6.82" height="8.56" fill="#995d13" />
<rect x="124.80" y="392.26" width="6.82" height="8.56" fill="#995d13" />
<rect x="131.32" y="392.26" width="6.82" height="8.56" fill="#995d13" />
<rect x="137.84" y="392.26" width="6.82" height="8.56" fill="#623806" />
<rect x="144.37" y="392.26" width="6.82" height="8.56" fill="#7e4909" />
<rect x="150.89" y="392.26" width="6.82" height="8.56" fill="#995d13" />
<rect x="157.41" y="392.26" width="6.82" height="8.56" fill="#995d13" />
<rect x="163.94" y="392.26" width="6.82" height="8.56" fill="#c79141" />
<rect x="170.46" y="392.26" width="6.82" height="8.56" fill="#c79141" />
<rect x="176.98" y="392.26" width="6.82" height="8.56" fill="#c79141" />
<rect x="183.51" y="392.26" width="6.82" height="8.56" fill="#e5cc8e" />
<rect x="190.03" y="392.26" width="6.82" height="8.56" fill="#f0deb2" />
<rect x="196.55" y="392.26" width="6.82" height="8.56" fill="#f0deb2" />
<rect x="203.07" y="392.26" width="6.82" height="8.56" fill="#f6ebd0" />
<rect x="209.60" y="392.26" width="6.82" height="8.56" fill="#f0deb2" />
<rect x="216.12" y="392.26" width="6.82" height="8.56" fill="#f6ebd0" />
<rect x="222.64" y="392.26" width="6.82" height="8.56" fill="#f6ebd0" />
<rect x="229.17" y="392.26" width="6.82" height="8.56" fill="#f6ebd0" />
<rect x="235.69" y="392.26" width="6.82" height="8.56" fill="#f5f5f5" />
<rect x="33.48" y="400.52" width="6.82" height="8.37" fill="#f5f5f5" />
<rect x="40.00" y="400.52" width="6.82" height="8.37" fill="#f5f5f5" />
<rect x="46.52" y="400.52" width="6.82" height="8.37" fill="#f5f5f5" />
<rect x="53.05" y="400.52" width="6.82" height="8.37" fill="#f5f5f5" />
<rect x="59.57" y="400.52" width="6.82" height="8.37" fill="#623806" />
<rect x="66.09" y="400.52" width="6.82" height="8.37" fill="#623806" />
<rect x="72.61" y="400.52" width="6.82" height="8.37" fill="#623806" />
<rect x="79.14" y="400.52" width="6.82" height="8.37" fill="#7e4909" />
<rect x="85.66" y="400.52" width="6.82" height="8.37" fill="#995d13" />
<rect x="92.18" y="400.52" width="6.82" height="8.37" fill="#c79141" />
<rect x="98.71" y="400.52" width="6.82" height="8.37" fill="#995d13" />
<rect x="105.23" y="400.52" width="6.82" height="8.37" fill="#623806" />
<rect x="111.75" y="400.52" width="6.82" height="8.37" fill="#7e4909" />
<rect x="118.28" y="400.52" width="6.82" height="8.37" fill="#b27524" />
<rect x="124.80" y="400.52" width="6.82" height="8.37" fill="#c79141" />
<rect x="131.32" y="400.52" width="6.82" height="8.37" fill="#995d13" />
<rect x="137.84" y="400.52" width="6.82" height="8.37" fill="#7e4909" />
<rect x="144.37" y="400.52" width="6.82" height="8.37" fill="#995d13" />
<rect x="150.89" y="400.52" width="6.82" height="8.37" fill="#995d13" />
<rect x="157.41" y="400.52" width="6.82" height="8.37" fill="#c79141" />
<rect x="163.94" y="400.52" width="6.82" height="8.37" fill="#c79141" />
<rect x="170.46" y="400.52" width="6.82" height="8.37" fill="#b27524" />
<rect x="176.98" y="400.52" width="6.82" height="8.37" fill="#b27524" />
<rect x="183.51" y="400.52" width="6.82" height="8.37" fill="#b27524" />
<rect x="190.03" y="400.52" width="6.82" height="8.37" fill="#c79141" />
<rect x="196.55" y="400.52" width="6.82" height="8.37" fill="#d7b269" />
<rect x="203.07" y="400.52" width="6.82" height="8.37" fill="#d7b269" />
<rect x="209.60" y="400.52" width="6.82" height="8.37" fill="#e5cc8e" />
<rect x="216.12" y="400.52" width="6.82" height="8.37" fill="#f0deb2" />
<rect x="222.64" y="400.52" width="6.82" height="8.37" fill="#f0deb2" />
<rect x="229.17" y="400.52" width="6.82" height="8.37" fill="#f0deb2" />
<rect x="235.69" y="400.52" width="6.82" height="8.37" fill="#f6ebd0" />
<rect x="33.48" y="408.59" width="6.82" height="8.20" fill="#f5f5f5" />
<rect x="40.00" y="408.59" width="6.82" height="8.20" fill="#f5f5f5" />
<rect x="46.52" y="408.59" width="6.82" height="8.20" fill="#f5f5f5" />
<rect x="53.05" y="408.59" width="6.82" height="8.20" fill="#f5f5f5" />
<rect x="59.57" y="408.59" width="6.82" height="8.20" fill="#623806" />
<rect x="66.09" y="408.59" width="6.82" height="8.20" fill="#995d13" />
<rect x="72.61" y="408.59" width="6.82" height="8.20" fill="#995d13" />
<rect x="79.14" y="408.59" width="6.82" height="8.20" fill="#995d13" />
<rect x="85.66" y="408.59" width="6.82" height="8.20" fill="#995d13" />
<rect x="92.18" y="408.59" width="6.82" height="8.20" fill="#7e4909" />
<rect x="98.71" y="408.59" width="6.82" height="8.20" fill="#623806" />
<rect x="105.23" y="408.59" width="6.82" height="8.20" fill="#7e4909" />
<rect x="111.75" y="408.59" width="6.82" height="8.20" fill="#995d13" />
<rect x="118.28" y="408.59" width="6.82" height="8.20" fill="#c79141" />
<rect x="124.80" y="408.59" width="6.82" height="8.20" fill="#b27524" />
<rect x="131.32" y="408.59" width="6.82" height="8.20" fill="#b27524" />
<rect x="137.84" y="408.59" width="6.82" height="8.20" fill="#995d13" />
<rect x="144.37" y="408.59" width="6.82" height="8.20" fill="#b27524" />
<rect x="150.89" y="408.59" width="6.82" height="8.20" fill="#b27524" />
<rect x="157.41" y="408.59" width="6.82" height="8.20" fill="#b27524" />
<rect x="163.94" y="408.59" width="6.82" height="8.20" fill="#b27524" />
<rect x="170.46" y="408.59" width="6.82" height="8.20" fill="#b27524" />
<rect x="176.98" y="408.59" width="6.82" height="8.20" fill="#995d13" />
<rect x="183.51" y="408.59" width="6.82" height="8.20" fill="#b27524" />
<rect x="190.03" y="408.59" width="6.82" height="8.20" fill="#c79141" />
<rect x="196.55" y="408.59" width="6.82" height="8.20" fill="#d7b269" />
<rect x="203.07" y="408.59" width="6.82" height="8.20" fill="#e5cc8e" />
<rect x="209.60" y="408.59" width="6.82" height="8.20" fill="#f6ebd0" />
<rect x="216.12" y="408.59" width="6.82" height="8.20" fill="#f0deb2" />
<rect x="222.64" y="408.59" width="6.82" height="8.20" fill="#f0deb2" />
<rect x="229.17" y="408.59" width="6.82" height="8.20" fill="#f0deb2" />
<rect x="235.69" y="408.59" width="6.82" height="8.20" fill="#f6ebd0" />
<rect x="33.48" y="416.49" width="6.82" height="8.04" fill="#f5f5f5" />
<rect x="40.00" y="416.49" width="6.82" height="8.04" fill="#f5f5f5" />
<rect x="46.52" y="416.49" width="6.82" height="8.04" fill="#f5f5f5" />
<rect x="53.05" y="416.49" width="6.82" height="8.04" fill="#f5f5f5" />
<rect x="59.57" y="416.49" width="6.82" height="8.04" fill="#a4dcd3" />
<rect x="66.09" y="416.49" width="6.82" height="8.04" fill="#f0deb2" />
<rect x="72.61" y="416.49" width="6.82" height="8.04" fill="#f0deb2" />
<rect x="79.14" y="416.49" width="6.82" height="8.04" fill="#e5cc8e" />
<rect x="85.66" y="416.49" width="6.82" height="8.04" fill="#e5cc8e" />
<rect x="92.18" y="416.49" width="6.82" height="8.04" fill="#b27524" />
<rect x="98.71" y="416.49" width="6.82" height="8.04" fill="#b27524" />
<rect x="105.23" y="416.49" width="6.82" height="8.04" fill="#c79141" />
<rect x="111.75" y="416.49" width="6.82" height="8.04" fill="#d7b269" />
<rect x="118.28" y="416.49" width="6.82" height="8.04" fill="#e5cc8e" />
<rect x="124.80" y="416.49" width="6.82" height="8.04" fill="#d7b269" />
<rect x="131.32" y="416.49" width="6.82" height="8.04" fill="#e5cc8e" />
<rect x="137.84" y="416.49" width="6.82" height="8.04" fill="#e5cc8e" />
<rect x="144.37" y="416.49" width="6.82" height="8.04" fill="#995d13" />
<rect x="150.89" y="416.49" width="6.82" height="8.04" fill="#b27524" />
<rect x="157.41" y="416.49" width="6.82" height="8.04" fill="#995d13" />
<rect x="163.94" y="416.49" width="6.82" height="8.04" fill="#995d13" />
<rect x="170.46" y="416.49" width="6.82" height="8.04" fill="#c79141" />
<rect x="176.98" y="416.49" width="6.82" height="8.04" fill="#c79141" />
<rect x="183.51" y="416.49" width="6.82" height="8.04" fill="#c79141" />
<rect x="190.03" y="416.49" width="6.82" height="8.04" fill="#c79141" />
<rect x="196.55" y="416.49" width="6.82" height="8.04" fill="#d7b269" />
<rect x="203.07" y="416.49" width="6.82" height="8.04" fill="#e5cc8e" />
<rect x="209.60" y="416.49" width="6.82" height="8.04" fill="#f6ebd0" />
<rect x="216.12" y="416.49" width="6.82" height="8.04" fill="#f6ebd0" />
<rect x="222.64" y="416.49" width="6.82" height="8.04" fill="#f6ebd0" />
<rect x="229.17" y="416.49" width="6.82" height="8.04" fill="#f6ebd0" />
<rect x="235.69" y="416.49" width="6.82" height="8.04" fill="#f6ebd0" />
<rect x="33.48" y="424.23" width="6.82" height="7.90" fill="#f5f5f5" />
<rect x="40.00" y="424.23" width="6.82" height="7.90" fill="#f5f5f5" />
<rect x="46.52" y="424.23" width="6.82" height="7.90" fill="#f5f5f5" />
<rect x="53.05" y="424.23" width="6.82" height="7.90" fill="#f6ebd0" />
<rect x="59.57" y="424.23" width="6.82" height="7.90" fill="#c7eae5" />
<rect x="66.09" y="424.23" width="6.82" height="7.90" fill="#c7eae5" />
<rect x="72.61" y="424.23" width="6.82" height="7.90" fill="#f6ebd0" />
<rect x="79.14" y="424.23" width="6.82" height="7.90" fill="#f6ebd0" />
<rect x="85.66" y="424.23" width="6.82" height="7.90" fill="#f6ebd0" />
<rect x="92.18" y="424.23" width="6.82" height="7.90" fill="#f0deb2" />
<rect x="98.71" y="424.23" width="6.82" height="7.90" fill="#e5cc8e" />
<rect x="105.23" y="424.23" width="6.82" height="7.90" fill="#d7b269" />
<rect x="111.75" y="424.23" width="6.82" height="7.90" fill="#d7b269" />
<rect x="118.28" y="424.23" width="6.82" height="7.90" fill="#d7b269" />
<rect x="124.80" y="424.23" width="6.82" height="7.90" fill="#e5cc8e" />
<rect x="131.32" y="424.23" width="6.82" height="7.90" fill="#e5cc8e" />
<rect x="137.84" y="424.23" width="6.82" height="7.90" fill="#e5cc8e" />
<rect x="144.37" y="424.23" width="6.82" height="7.90" fill="#c79141" />
<rect x="150.89" y="424.23" width="6.82" height="7.90" fill="#c79141" />
<rect x="157.41" y="424.23" width="6.82" height="7.90" fill="#b27524" />
<rect x="163.94" y="424.23" width="6.82" height="7.90" fill="#b27524" />
<rect x="170.46" y="424.23" width="6.82" height="7.90" fill="#c79141" />
<rect x="176.98" y="424.23" width="6.82" height="7.90" fill="#c79141" />
<rect x="183.51" y="424.23" width="6.82" height="7.90" fill="#d7b269" />
<rect x="190.03" y="424.23" width="6.82" height="7.90" fill="#d7b269" />
<rect x="196.55" y="424.23" width="6.82" height="7.90" fill="#e5cc8e" />
<rect x="203.07" y="424.23" width="6.82" height="7.90" fill="#f0deb2" />
<rect x="209.60" y="424.23" width="6.82" height="7.90" fill="#f6ebd0" />
<rect x="216.12" y="424.23" width="6.82" height="7.90" fill="#f6ebd0" />
<rect x="222.64" y="424.23" width="6.82" height="7.90" fill="#f6ebd0" />
<rect x="229.17" y="424.23" width="6.82" height="7.90" fill="#f6ebd0" />
<rect x="235.69" y="424.23" width="6.82" height="7.90" fill="#f5f5f5" />
<rect x="33.48" y="431.83" width="6.82" height="7.77" fill="#e5cc8e" />
<rect x="40.00" y="431.83" width="6.82" height="7.77" fill="#e5cc8e" />
<rect x="46.52" y="431.83" width="6.82" height="7.77" fill="#f0deb2" />
<rect x="53.05" y="431.83" width="6.82" height="7.77" fill="#f0deb2" />
<rect x="59.57" y="431.83" width="6.82" height="7.77" fill="#f6ebd0" />
<rect x="66.09" y="431.83" width="6.82" height="7.77" fill="#f6ebd0" />
<rect x="72.61" y="431.83" width="6.82" height="7.77" fill="#f6ebd0" />
<rect x="79.14" y="431.83" width="6.82" height="7.77" fill="#f6ebd0" />
<rect x="85.66" y="431.83" width="6.82" height="7.77" fill="#f0deb2" />
<rect x="92.18" y="431.83" width="6.82" height="7.77" fill="#e5cc8e" />
<rect x="98.71" y="431.83" width="6.82" height="7.77" fill="#f0deb2" />
<rect x="105.23" y="431.83" width="6.82" height="7.77" fill="#f0deb2" />
<rect x="111.75" y="431.83" width="6.82" height="7.77" fill="#f6ebd0" />
<rect x="118.28" y="431.83" width="6.82" height="7.77" fill="#f0deb2" />
<rect x="124.80" y="431.83" width="6.82" height="7.77" fill="#e5cc8e" />
<rect x="131.32" y="431.83" width="6.82" height="7.77" fill="#e5cc8e" />
<rect x="137.84" y="431.83" width="6.82" height="7.77" fill="#e5cc8e" />
<rect x="144.37" y="431.83" width="6.82" height="7.77" fill="#d7b269" />
<rect x="150.89" y="431.83" width="6.82" height="7.77" fill="#d7b269" />
<rect x="157.41" y="431.83" width="6.82" height="7.77" fill="#d7b269" />
<rect x="163.94" y="431.83" width="6.82" height="7.77" fill="#d7b269" />
<rect x="170.46" y="431.83" width="6.82" height="7.77" fill="#c79141" />
<rect x="176.98" y="431.83" width="6.82" height="7.77" fill="#c79141" />
<rect x="183.51" y="431.83" width="6.82" height="7.77" fill="#d7b269" />
<rect x="190.03" y="431.83" width="6.82" height="7.77" fill="#d7b269" />
<rect x="196.55" y="431.83" width="6.82" height="7.77" fill="#e5cc8e" />
<rect x="203.07" y="431.83" width="6.82" height="7.77" fill="#f0deb2" />
<rect x="209.60" y="431.83" width="6.82" height="7.77" fill="#f6ebd0" />
<rect x="216.12" y="431.83" width="6.82" height="7.77" fill="#f6ebd0" />
<rect x="222.64" y="431.83" width="6.82" height="7.77" fill="#f6ebd0" />
<rect x="229.17" y="431.83" width="6.82" height="7.77" fill="#f5f5f5" />
<rect x="235.69" y="431.83" width="6.82" height="7.77" fill="#f5f5f5" />
<rect x="33.48" y="439.29" width="6.82" height="7.65" fill="#f0deb2" />
<rect x="40.00" y="439.29" width="6.82" height="7.65" fill="#f0deb2" />
<rect x="46.52" y="439.29" width="6.82" height="7.65" fill="#f0deb2" />
<rect x="53.05" y="439.29" width="6.82" height="7.65" fill="#f0deb2" />
<rect x="59.57" y="439.29" width="6.82" height="7.65" fill="#f6ebd0" />
<rect x="66.09" y="439.29" width="6.82" height="7.65" fill="#f6ebd0" />
<rect x="72.61" y="439.29" width="6.82" height="7.65" fill="#f0deb2" />
<rect x="79.14" y="439.29" width="6.82" height="7.65" fill="#f0deb2" />
<rect x="85.66" y="439.29" width="6.82" height="7.65" fill="#f0deb2" />
<rect x="92.18" y="439.29" width="6.82" height="7.65" fill="#e5cc8e" />
<rect x="98.71" y="439.29" width="6.82" height="7.65" fill="#f0deb2" />
<rect x="105.23" y="439.29" width="6.82" height="7.65" fill="#f0deb2" />
<rect x="111.75" y="439.29" width="6.82" height="7.65" fill="#f6ebd0" />
<rect x="118.28" y="439.29" width="6.82" height="7.65" fill="#f0deb2" />
<rect x="124.80" y="439.29" width="6.82" height="7.65" fill="#f0deb2" />
<rect x="131.32" y="439.29" width="6.82" height="7.65" fill="#f0deb2" />
<rect x="137.84" y="439.29" width="6.82" height="7.65" fill="#e5cc8e" />
<rect x="144.37" y="439.29" width="6.82" height="7.65" fill="#c79141" />
<rect x="150.89" y="439.29" width="6.82" height="7.65" fill="#d7b269" />
<rect x="157.41" y="439.29" width="6.82" height="7.65" fill="#e5cc8e" />
<rect x="163.94" y="439.29" width="6.82" height="7.65" fill="#c79141" />
<rect x="170.46" y="439.29" width="6.82" height="7.65" fill="#c79141" />
<rect x="176.98" y="439.29" width="6.82" height="7.65" fill="#c79141" />
<rect x="183.51" y="439.29" width="6.82" height="7.65" fill="#d7b269" />
<rect x="190.03" y="439.29" width="6.82" height="7.65" fill="#e5cc8e" />
<rect x="196.55" y="439.29" width="6.82" height="7.65" fill="#f0deb2" />
<rect x="203.07" y="439.29" width="6.82" height="7.65" fill="#f0deb2" />
<rect x="209.60" y="439.29" width="6.82" height="7.65" fill="#f6ebd0" />
<rect x="216.12" y="439.29" width="6.82" height="7.65" fill="#f6ebd0" />
<rect x="222.64" y="439.29" width="6.82" height="7.65" fill="#f6ebd0" />
<rect x="229.17" y="439.29" width="6.82" height="7.65" fill="#f5f5f5" />
<rect x="235.69" y="439.29" width="6.82" height="7.65" fill="#f5f5f5" />
<rect x="33.48" y="446.65" width="6.82" height="7.55" fill="#f5f5f5" />
<rect x="40.00" y="446.65" width="6.82" height="7.55" fill="#f6ebd0" />
<rect x="46.52" y="446.65" width="6.82" height="7.55" fill="#f0deb2" />
<rect x="53.05" y="446.65" width="6.82" height="7.55" fill="#f0deb2" />
<rect x="59.57" y="446.65" width="6.82" height="7.55" fill="#f0deb2" />
<rect x="66.09" y="446.65" width="6.82" height="7.55" fill="#f6ebd0" />
<rect x="72.61" y="446.65" width="6.82" height="7.55" fill="#f0deb2" />
<rect x="79.14" y="446.65" width="6.82" height="7.55" fill="#f0deb2" />
<rect x="85.66" y="446.65" width="6.82" height="7.55" fill="#e5cc8e" />
<rect x="92.18" y="446.65" width="6.82" height="7.55" fill="#e5cc8e" />
<rect x="98.71" y="446.65" width="6.82" height="7.55" fill="#f0deb2" />
<rect x="105.23" y="446.65" width="6.82" height="7.55" fill="#f0deb2" />
<rect x="111.75" y="446.65" width="6.82" height="7.55" fill="#f6ebd0" />
<rect x="118.28" y="446.65" width="6.82" height="7.55" fill="#f0deb2" />
<rect x="124.80" y="446.65" width="6.82" height="7.55" fill="#f0deb2" />
<rect x="131.32" y="446.65" width="6.82" height="7.55" fill="#f0deb2" />
<rect x="137.84" y="446.65" width="6.82" height="7.55" fill="#e5cc8e" />
<rect x="144.37" y="446.65" width="6.82" height="7.55" fill="#c79141" />
<rect x="150.89" y="446.65" width="6.82" height="7.55" fill="#b27524" />
<rect x="157.41" y="446.65" width="6.82" height="7.55" fill="#c79141" />
<rect x="163.94" y="446.65" width="6.82" height="7.55" fill="#d7b269" />
<rect x="170.46" y="446.65" width="6.82" height="7.55" fill="#d7b269" />
<rect x="176.98" y="446.65" width="6.82" height="7.55" fill="#e5cc8e" />
<rect x="183.51" y="446.65" width="6.82" height="7.55" fill="#e5cc8e" />
<rect x="190.03" y="446.65" width="6.82" height="7.55" fill="#e5cc8e" />
<rect x="196.55" y="446.65" width="6.82" height="7.55" fill="#f0deb2" />
<rect x="203.07" y="446.65" width="6.82" height="7.55" fill="#f0deb2" />
<rect x="209.60" y="446.65" width="6.82" height="7.55" fill="#f0deb2" />
<rect x="216.12" y="446.65" width="6.82" height="7.55" fill="#f6ebd0" />
<rect x="222.64" y="446.65" width="6.82" height="7.55" fill="#f6ebd0" />
<rect x="229.17" y="446.65" width="6.82" height="7.55" fill="#f6ebd0" />
<rect x="235.69" y="446.65" width="6.82" height="7.55" fill="#f6ebd0" />
<rect x="33.48" y="453.90" width="6.82" height="7.46" fill="#f5f5f5" />
<rect x="40.00" y="453.90" width="6.82" height="7.46" fill="#f5f5f5" />
<rect x="46.52" y="453.90" width="6.82" height="7.46" fill="#f0deb2" />
<rect x="53.05" y="453.90" width="6.82" height="7.46" fill="#f0deb2" />
<rect x="59.57" y="453.90" width="6.82" height="7.46" fill="#f0deb2" />
<rect x="66.09" y="453.90" width="6.82" height="7.46" fill="#f6ebd0" />
<rect x="72.61" y="453.90" width="6.82" height="7.46" fill="#f6ebd0" />
<rect x="79.14" y="453.90" width="6.82" height="7.46" fill="#f0deb2" />
<rect x="85.66" y="453.90" width="6.82" height="7.46" fill="#f0deb2" />
<rect x="92.18" y="453.90" width="6.82" height="7.46" fill="#f0deb2" />
<rect x="98.71" y="453.90" width="6.82" height="7.46" fill="#f0deb2" />
<rect x="105.23" y="453.90" width="6.82" height="7.46" fill="#f6ebd0" />
<rect x="111.75" y="453.90" width="6.82" height="7.46" fill="#f0deb2" />
<rect x="118.28" y="453.90" width="6.82" height="7.46" fill="#f0deb2" />
<rect x="124.80" y="453.90" width="6.82" height="7.46" fill="#f0deb2" />
<rect x="131.32" y="453.90" width="6.82" height="7.46" fill="#f0deb2" />
<rect x="137.84" y="453.90" width="6.82" height="7.46" fill="#e5cc8e" />
<rect x="144.37" y="453.90" width="6.82" height="7.46" fill="#d7b269" />
<rect x="150.89" y="453.90" width="6.82" height="7.46" fill="#b27524" />
<rect x="157.41" y="453.90" width="6.82" height="7.46" fill="#d7b269" />
<rect x="163.94" y="453.90" width="6.82" height="7.46" fill="#e5cc8e" />
<rect x="170.46" y="453.90" width="6.82" height="7.46" fill="#e5cc8e" />
<rect x="176.98" y="453.90" width="6.82" height="7.46" fill="#e5cc8e" />
<rect x="183.51" y="453.90" width="6.82" height="7.46" fill="#e5cc8e" />
<rect x="190.03" y="453.90" width="6.82" height="7.46" fill="#d7b269" />
<rect x="196.55" y="453.90" width="6.82" height="7.46" fill="#e5cc8e" />
<rect x="203.07" y="453.90" width="6.82" height="7.46" fill="#e5cc8e" />
<rect x="209.60" y="453.90" width="6.82" height="7.46" fill="#f0deb2" />
<rect x="216.12" y="453.90" width="6.82" height="7.46" fill="#f0deb2" />
<rect x="222.64" y="453.90" width="6.82" height="7.46" fill="#f6ebd0" />
<rect x="229.17" y="453.90" width="6.82" height="7.46" fill="#f6ebd0" />
<rect x="235.69" y="453.90" width="6.82" height="7.46" fill="#f6ebd0" />
<rect x="33.48" y="461.06" width="6.82" height="7.38" fill="#f5f5f5" />
<rect x="40.00" y="461.06" width="6.82" height="7.38" fill="#f5f5f5" />
<rect x="46.52" y="461.06" width="6.82" height="7.38" fill="#f6ebd0" />
<rect x="53.05" y="461.06" width="6.82" height="7.38" fill="#f0deb2" />
<rect x="59.57" y="461.06" width="6.82" height="7.38" fill="#f0deb2" />
<rect x="66.09" y="461.06" width="6.82" height="7.38" fill="#f6ebd0" />
<rect x="72.61" y="461.06" width="6.82" height="7.38" fill="#f6ebd0" />
<rect x="79.14" y="461.06" width="6.82" height="7.38" fill="#f6ebd0" />
<rect x="85.66" y="461.06" width="6.82" height="7.38" fill="#f6ebd0" />
<rect x="92.18" y="461.06" width="6.82" height="7.38" fill="#f6ebd0" />
<rect x="98.71" y="461.06" width="6.82" height="7.38" fill="#f6ebd0" />
<rect x="105.23" y="461.06" width="6.82" height="7.38" fill="#f6ebd0" />
<rect x="111.75" y="461.06" width="6.82" height="7.38" fill="#f0deb2" />
<rect x="118.28" y="461.06" width="6.82" height="7.38" fill="#f0deb2" />
<rect x="124.80" y="461.06" width="6.82" height="7.38" fill="#f0deb2" />
<rect x="131.32" y="461.06" width="6.82" height="7.38" fill="#f0deb2" />
<rect x="137.84" y="461.06" width="6.82" height="7.38" fill="#f0deb2" />
<rect x="144.37" y="461.06" width="6.82" height="7.38" fill="#e5cc8e" />
<rect x="150.89" y="461.06" width="6.82" height="7.38" fill="#e5cc8e" />
<rect x="157.41" y="461.06" width="6.82" height="7.38" fill="#e5cc8e" />
<rect x="163.94" y="461.06" width="6.82" height="7.38" fill="#d7b269" />
<rect x="170.46" y="461.06" width="6.82" height="7.38" fill="#e5cc8e" />
<rect x="176.98" y="461.06" width="6.82" height="7.38" fill="#e5cc8e" />
<rect x="183.51" y="461.06" width="6.82" height="7.38" fill="#e5cc8e" />
<rect x="190.03" y="461.06" width="6.82" height="7.38" fill="#d7b269" />
<rect x="196.55" y="461.06" width="6.82" height="7.38" fill="#c79141" />
<rect x="203.07" y="461.06" width="6.82" height="7.38" fill="#e5cc8e" />
<rect x="209.60" y="461.06" width="6.82" height="7.38" fill="#e5cc8e" />
<rect x="216.12" y="461.06" width="6.82" height="7.38" fill="#f0deb2" />
<rect x="222.64" y="461.06" width="6.82" height="7.38" fill="#f0deb2" />
<rect x="229.17" y="461.06" width="6.82" height="7.38" fill="#f6ebd0" />
<rect x="235.69" y="461.06" width="6.82" height="7.38" fill="#f6ebd0" />
<rect x="33.48" y="468.14" width="6.82" height="7.31" fill="#f5f5f5" />
<rect x="40.00" y="468.14" width="6.82" height="7.31" fill="#f5f5f5" />
<rect x="46.52" y="468.14" width="6.82" height="7.31" fill="#f5f5f5" />
<rect x="53.05" y="468.14" width="6.82" height="7.31" fill="#f6ebd0" />
<rect x="59.57" y="468.14" width="6.82" height="7.31" fill="#f6ebd0" />
<rect x="66.09" y="468.14" width="6.82" height="7.31" fill="#f5f5f5" />
<rect x="72.61" y="468.14" width="6.82" height="7.31" fill="#f6ebd0" />
<rect x="79.14" y="468.14" width="6.82" height="7.31" fill="#f6ebd0" />
<rect x="85.66" y="468.14" width="6.82" height="7.31" fill="#f0deb2" />
<rect x="92.18" y="468.14" width="6.82" height="7.31" fill="#f0deb2" />
<rect x="98.71" y="468.14" width="6.82" height="7.31" fill="#f6ebd0" />
<rect x="105.23" y="468.14" width="6.82" height="7.31" fill="#f6ebd0" />
<rect x="111.75" y="468.14" width="6.82" height="7.31" fill="#f6ebd0" />
<rect x="118.28" y="468.14" width="6.82" height="7.31" fill="#f6ebd0" />
<rect x="124.80" y="468.14" width="6.82" height="7.31" fill="#f0deb2" />
<rect x="131.32" y="468.14" width="6.82" height="7.31" fill="#f0deb2" />
<rect x="137.84" y="468.14" width="6.82" height="7.31" fill="#f0deb2" />
<rect x="144.37" y="468.14" width="6.82" height="7.31" fill="#e5cc8e" />
<rect x="150.89" y="468.14" width="6.82" height="7.31" fill="#e5cc8e" />
<rect x="157.41" y="468.14" width="6.82" height="7.31" fill="#f0deb2" />
<rect x="163.94" y="468.14" width="6.82" height="7.31" fill="#e5cc8e" />
<rect x="170.46" y="468.14" width="6.82" height="7.31" fill="#f0deb2" />
<rect x="176.98" y="468.14" width="6.82" height="7.31" fill="#f0deb2" />
<rect x="183.51" y="468.14" width="6.82" height="7.31" fill="#e5cc8e" />
<rect x="190.03" y="468.14" width="6.82" height="7.31" fill="#e5cc8e" />
<rect x="196.55" y="468.14" width="6.82" height="7.31" fill="#e5cc8e" />
<rect x="203.07" y="468.14" width="6.82" height="7.31" fill="#e5cc8e" />
<rect x="209.60" y="468.14" width="6.82" height="7.31" fill="#d7b269" />
<rect x="216.12" y="468.14" width="6.82" height="7.31" fill="#e5cc8e" />
<rect x="222.64" y="468.14" width="6.82" height="7.31" fill="#f0deb2" />
<rect x="229.17" y="468.14" width="6.82" height="7.31" fill="#f0deb2" />
<rect x="235.69" y="468.14" width="6.82" height="7.31" fill="#f0deb2" />
<rect x="33.48" y="475.14" width="6.82" height="7.25" fill="#f5f5f5" />
<rect x="40.00" y="475.14" width="6.82" height="7.25" fill="#f5f5f5" />
<rect x="46.52" y="475.14" width="6.82" height="7.25" fill="#f5f5f5" />
<rect x="53.05" y="475.14" width="6.82" height="7.25" fill="#f6ebd0" />
<rect x="59.57" y="475.14" width="6.82" height="7.25" fill="#f6ebd0" />
<rect x="66.09" y="475.14" width="6.82" height="7.25" fill="#f5f5f5" />
<rect x="72.61" y="475.14" width="6.82" height="7.25" fill="#f5f5f5" />
<rect x="79.14" y="475.14" width="6.82" height="7.25" fill="#f6ebd0" />
<rect x="85.66" y="475.14" width="6.82" height="7.25" fill="#f6ebd0" />
<rect x="92.18" y="475.14" width="6.82" height="7.25" fill="#f6ebd0" />
<rect x="98.71" y="475.14" width="6.82" height="7.25" fill="#f6ebd0" />
<rect x="105.23" y="475.14" width="6.82" height="7.25" fill="#f6ebd0" />
<rect x="111.75" y="475.14" width="6.82" height="7.25" fill="#f6ebd0" />
<rect x="118.28" y="475.14" width="6.82" height="7.25" fill="#f6ebd0" />
<rect x="124.80" y="475.14" width="6.82" height="7.25" fill="#f6ebd0" />
<rect x="131.32" y="475.14" width="6.82" height="7.25" fill="#f0deb2" />
<rect x="137.84" y="475.14" width="6.82" height="7.25" fill="#f0deb2" />
<rect x="144.37" y="475.14" width="6.82" height="7.25" fill="#f0deb2" />
<rect x="150.89" y="475.14" width="6.82" height="7.25" fill="#e5cc8e" />
<rect x="157.41" y="475.14" width="6.82" height="7.25" fill="#f0deb2" />
<rect x="163.94" y="475.14" width="6.82" height="7.25" fill="#f0deb2" />
<rect x="170.46" y="475.14" width="6.82" height="7.25" fill="#e5cc8e" />
<rect x="176.98" y="475.14" width="6.82" height="7.25" fill="#e5cc8e" />
<rect x="183.51" y="475.14" width="6.82" height="7.25" fill="#e5cc8e" />
<rect x="190.03" y="475.14" width="6.82" height="7.25" fill="#e5cc8e" />
<rect x="196.55" y="475.14" width="6.82" height="7.25" fill="#e5cc8e" />
<rect x="203.07" y="475.14" width="6.82" height="7.25" fill="#d7b269" />
<rect x="209.60" y="475.14" width="6.82" height="7.25" fill="#d7b269" />
<rect x="216.12" y="475.14" width="6.82" height="7.25" fill="#d7b269" />
<rect x="222.64" y="475.14" width="6.82" height="7.25" fill="#e5cc8e" />
<rect x="229.17" y="475.14" width="6.82" height="7.25" fill="#e5cc8e" />
<rect x="235.69" y="475.14" width="6.82" height="7.25" fill="#e5cc8e" />
<rect x="33.48" y="482.09" width="6.82" height="7.20" fill="#f5f5f5" />
<rect x="40.00" y="482.09" width="6.82" height="7.20" fill="#f5f5f5" />
<rect x="46.52" y="482.09" width="6.82" height="7.20" fill="#f5f5f5" />
<rect x="53.05" y="482.09" width="6.82" height="7.20" fill="#f5f5f5" />
<rect x="59.57" y="482.09" width="6.82" height="7.20" fill="#f5f5f5" />
<rect x="66.09" y="482.09" width="6.82" height="7.20" fill="#def0ed" />
<rect x="72.61" y="482.09" width="6.82" height="7.20" fill="#def0ed" />
<rect x="79.14" y="482.09" width="6.82" height="7.20" fill="#f5f5f5" />
<rect x="85.66" y="482.09" width="6.82" height="7.20" fill="#f5f5f5" />
<rect x="92.18" y="482.09" width="6.82" height="7.20" fill="#f5f5f5" />
<rect x="98.71" y="482.09" width="6.82" height="7.20" fill="#f5f5f5" />
<rect x="105.23" y="482.09" width="6.82" height="7.20" fill="#f5f5f5" />
<rect x="111.75" y="482.09" width="6.82" height="7.20" fill="#f5f5f5" />
<rect x="118.28" y="482.09" width="6.82" height="7.20" fill="#f5f5f5" />
<rect x="124.80" y="482.09" width="6.82" height="7.20" fill="#f6ebd0" />
<rect x="131.32" y="482.09" width="6.82" height="7.20" fill="#f6ebd0" />
<rect x="137.84" y="482.09" width="6.82" height="7.20" fill="#f0deb2" />
<rect x="144.37" y="482.09" width="6.82" height="7.20" fill="#f0deb2" />
<rect x="150.89" y="482.09" width="6.82" height="7.20" fill="#f0deb2" />
<rect x="157.41" y="482.09" width="6.82" height="7.20" fill="#e5cc8e" />
<rect x="163.94" y="482.09" width="6.82" height="7.20" fill="#e5cc8e" />
<rect x="170.46" y="482.09" width="6.82" height="7.20" fill="#d7b269" />
<rect x="176.98" y="482.09" width="6.82" height="7.20" fill="#d7b269" />
<rect x="183.51" y="482.09" width="6.82" height="7.20" fill="#d7b269" />
<rect x="190.03" y="482.09" width="6.82" height="7.20" fill="#d7b269" />
<rect x="196.55" y="482.09" width="6.82" height="7.20" fill="#d7b269" />
<rect x="203.07" y="482.09" width="6.82" height="7.20" fill="#c79141" />
<rect x="209.60" y="482.09" width="6.82" height="7.20" fill="#d7b269" />
<rect x="216.12" y="482.09" width="6.82" height="7.20" fill="#d7b269" />
<rect x="222.64" y="482.09" width="6.82" height="7.20" fill="#e5cc8e" />
<rect x="229.17" y="482.09" width="6.82" height="7.20" fill="#e5cc8e" />
<rect x="235.69" y="482.09" width="6.82" height="7.20" fill="#e5cc8e" />
<rect x="33.48" y="488.98" width="6.82" height="7.15" fill="#c7eae5" />
<rect x="40.00" y="488.98" width="6.82" height="7.15" fill="#c7eae5" />
<rect x="46.52" y="488.98" width="6.82" height="7.15" fill="#c7eae5" />
<rect x="53.05" y="488.98" width="6.82" height="7.15" fill="#c7eae5" />
<rect x="59.57" y="488.98" width="6.82" height="7.15" fill="#def0ed" />
<rect x="66.09" y="488.98" width="6.82" height="7.15" fill="#c7eae5" />
<rect x="72.61" y="488.98" width="6.82" height="7.15" fill="#def0ed" />
<rect x="79.14" y="488.98" width="6.82" height="7.15" fill="#def0ed" />
<rect x="85.66" y="488.98" width="6.82" height="7.15" fill="#def0ed" />
<rect x="92.18" y="488.98" width="6.82" height="7.15" fill="#def0ed" />
<rect x="98.71" y="488.98" width="6.82" height="7.15" fill="#f5f5f5" />
<rect x="105.23" y="488.98" width="6.82" height="7.15" fill="#def0ed" />
<rect x="111.75" y="488.98" width="6.82" height="7.15" fill="#f5f5f5" />
<rect x="118.28" y="488.98" width="6.82" height="7.15" fill="#f5f5f5" />
<rect x="124.80" y="488.98" width="6.82" height="7.15" fill="#f5f5f5" />
<rect x="131.32" y="488.98" width="6.82" height="7.15" fill="#f5f5f5" />
<rect x="137.84" y="488.98" width="6.82" height="7.15" fill="#f6ebd0" />
<rect x="144.37" y="488.98" width="6.82" height="7.15" fill="#f0deb2" />
<rect x="150.89" y="488.98" width="6.82" height="7.15" fill="#e5cc8e" />
<rect x="157.41" y="488.98" width="6.82" height="7.15" fill="#e5cc8e" />
<rect x="163.94" y="488.98" width="6.82" height="7.15" fill="#d7b269" />
<rect x="170.46" y="488.98" width="6.82" height="7.15" fill="#c79141" />
<rect x="176.98" y="488.98" width="6.82" height="7.15" fill="#c79141" />
<rect x="183.51" y="488.98" width="6.82" height="7.15" fill="#c79141" />
<rect x="190.03" y="488.98" width="6.82" height="7.15" fill="#c79141" />
<rect x="196.55" y="488.98" width="6.82" height="7.15" fill="#c79141" />
<rect x="203.07" y="488.98" width="6.82" height="7.15" fill="#c79141" />
<rect x="209.60" y="488.98" width="6.82" height="7.15" fill="#c79141" />
<rect x="216.12" y="488.98" width="6.82" height="7.15" fill="#c79141" />
<rect x="222.64" y="488.98" width="6.82" height="7.15" fill="#d7b269" />
<rect x="229.17" y="488.98" width="6.82" height="7.15" fill="#d7b269" />
<rect x="235.69" y="488.98" width="6.82" height="7.15" fill="#d7b269" />
<rect x="33.48" y="495.84" width="6.82" height="7.12" fill="#c7eae5" />
<rect x="40.00" y="495.84" width="6.82" height="7.12" fill="#a4dcd3" />
<rect x="46.52" y="495.84" width="6.82" height="7.12" fill="#a4dcd3" />
<rect x="53.05" y="495.84" width="6.82" height="7.12" fill="#a4dcd3" />
<rect x="59.57" y="495.84" width="6.82" height="7.12" fill="#c7eae5" />
<rect x="66.09" y="495.84" width="6.82" height="7.12" fill="#a4dcd3" />
<rect x="72.61" y="495.84" width="6.82" height="7.12" fill="#c7eae5" />
<rect x="79.14" y="495.84" width="6.82" height="7.12" fill="#c7eae5" />
<rect x="85.66" y="495.84" width="6.82" height="7.12" fill="#c7eae5" />
<rect x="92.18" y="495.84" width="6.82" height="7.12" fill="#def0ed" />
<rect x="98.71" y="495.84" width="6.82" height="7.12" fill="#def0ed" />
<rect x="105.23" y="495.84" width="6.82" height="7.12" fill="#def0ed" />
<rect x="111.75" y="495.84" width="6.82" height="7.12" fill="#f5f5f5" />
<rect x="118.28" y="495.84" width="6.82" height="7.12" fill="#f5f5f5" />
<rect x="124.80" y="495.84" width="6.82" height="7.12" fill="#f6ebd0" />
<rect x="131.32" y="495.84" width="6.82" height="7.12" fill="#f6ebd0" />
<rect x="137.84" y="495.84" width="6.82" height="7.12" fill="#f6ebd0" />
<rect x="144.37" y="495.84" width="6.82" height="7.12" fill="#e5cc8e" />
<rect x="150.89" y="495.84" width="6.82" height="7.12" fill="#d7b269" />
<rect x="157.41" y="495.84" width="6.82" height="7.12" fill="#c79141" />
<rect x="163.94" y="495.84" width="6.82" height="7.12" fill="#c79141" />
<rect x="170.46" y="495.84" width="6.82" height="7.12" fill="#b27524" />
<rect x="176.98" y="495.84" width="6.82" height="7.12" fill="#b27524" />
<rect x="183.51" y="495.84" width="6.82" height="7.12" fill="#b27524" />
<rect x="190.03" y="495.84" width="6.82" height="7.12" fill="#b27524" />
<rect x="196.55" y="495.84" width="6.82" height="7.12" fill="#b27524" />
<rect x="203.07" y="495.84" width="6.82" height="7.12" fill="#b27524" />
<rect x="209.60" y="495.84" width="6.82" height="7.12" fill="#c79141" />
<rect x="216.12" y="495.84" width="6.82" height="7.12" fill="#c79141" />
<rect x="222.64" y="495.84" width="6.82" height="7.12" fill="#c79141" />
<rect x="229.17" y="495.84" width="6.82" height="7.12" fill="#d7b269" />
<rect x="235.69" y="495.84" width="6.82" height="7.12" fill="#d7b269" />
<rect x="33.48" y="502.66" width="6.82" height="7.09" fill="#c7eae5" />
<rect x="40.00" y="502.66" width="6.82" height="7.09" fill="#a4dcd3" />
<rect x="46.52" y="502.66" width="6.82" height="7.09" fill="#a4dcd3" />
<rect x="53.05" y="502.66" width="6.82" height="7.09" fill="#a4dcd3" />
<rect x="59.57" y="502.66" width="6.82" height="7.09" fill="#a4dcd3" />
<rect x="66.09" y="502.66" width="6.82" height="7.09" fill="#c7eae5" />
<rect x="72.61" y="502.66" width="6.82" height="7.09" fill="#c7eae5" />
<rect x="79.14" y="502.66" width="6.82" height="7.09" fill="#c7eae5" />
<rect x="85.66" y="502.66" width="6.82" height="7.09" fill="#c7eae5" />
<rect x="92.18" y="502.66" width="6.82" height="7.09" fill="#def0ed" />
<rect x="98.71" y="502.66" width="6.82" height="7.09" fill="#def0ed" />
<rect x="105.23" y="502.66" width="6.82" height="7.09" fill="#f5f5f5" />
<rect x="111.75" y="502.66" width="6.82" height="7.09" fill="#f5f5f5" />
<rect x="118.28" y="502.66" width="6.82" height="7.09" fill="#f6ebd0" />
<rect x="124.80" y="502.66" width="6.82" height="7.09" fill="#f6ebd0" />
<rect x="131.32" y="502.66" width="6.82" height="7.09" fill="#f0deb2" />
<rect x="137.84" y="502.66" width="6.82" height="7.09" fill="#c79141" />
<rect x="144.37" y="502.66" width="6.82" height="7.09" fill="#995d13" />
<rect x="150.89" y="502.66" width="6.82" height="7.09" fill="#7e4909" />
<rect x="157.41" y="502.66" width="6.82" height="7.09" fill="#995d13" />
<rect x="163.94" y="502.66" width="6.82" height="7.09" fill="#995d13" />
<rect x="170.46" y="502.66" width="6.82" height="7.09" fill="#995d13" />
<rect x="176.98" y="502.66" width="6.82" height="7.09" fill="#995d13" />
<rect x="183.51" y="502.66" width="6.82" height="7.09" fill="#995d13" />
<rect x="190.03" y="502.66" width="6.82" height="7.09" fill="#b27524" />
<rect x="196.55" y="502.66" width="6.82" height="7.09" fill="#b27524" />
<rect x="203.07" y="502.66" width="6.82" height="7.09" fill="#b27524" />
<rect x="209.60" y="502.66" width="6.82" height="7.09" fill="#c79141" />
<rect x="216.12" y="502.66" width="6.82" height="7.09" fill="#c79141" />
<rect x="222.64" y="502.66" width="6.82" height="7.09" fill="#c79141" />
<rect x="229.17" y="502.66" width="6.82" height="7.09" fill="#d7b269" />
<rect x="235.69" y="502.66" width="6.82" height="7.09" fill="#d7b269" />
<rect x="33.48" y="509.45" width="6.82" height="7.08" fill="#c7eae5" />
<rect x="40.00" y="509.45" width="6.82" height="7.08" fill="#c7eae5" />
<rect x="46.52" y="509.45" width="6.82" height="7.08" fill="#c7eae5" />
<rect x="53.05" y="509.45" width="6.82" height="7.08" fill="#c7eae5" />
<rect x="59.57" y="509.45" width="6.82" height="7.08" fill="#c7eae5" />
<rect x="66.09" y="509.45" width="6.82" height="7.08" fill="#c7eae5" />
<rect x="72.61" y="509.45" width="6.82" height="7.08" fill="#def0ed" />
<rect x="79.14" y="509.45" width="6.82" height="7.08" fill="#def0ed" />
<rect x="85.66" y="509.45" width="6.82" height="7.08" fill="#def0ed" />
<rect x="92.18" y="509.45" width="6.82" height="7.08" fill="#def0ed" />
<rect x="98.71" y="509.45" width="6.82" height="7.08" fill="#f5f5f5" />
<rect x="105.23" y="509.45" width="6.82" height="7.08" fill="#f5f5f5" />
<rect x="111.75" y="509.45" width="6.82" height="7.08" fill="#f6ebd0" />
<rect x="118.28" y="509.45" width="6.82" height="7.08" fill="#f6ebd0" />
<rect x="124.80" y="509.45" width="6.82" height="7.08" fill="#f0deb2" />
<rect x="131.32" y="509.45" width="6.82" height="7.08" fill="#e5cc8e" />
<rect x="137.84" y="509.45" width="6.82" height="7.08" fill="#b27524" />
<rect x="144.37" y="509.45" width="6.82" height="7.08" fill="#7e4909" />
<rect x="150.89" y="509.45" width="6.82" height="7.08" fill="#7e4909" />
<rect x="157.41" y="509.45" width="6.82" height="7.08" fill="#7e4909" />
<rect x="163.94" y="509.45" width="6.82" height="7.08" fill="#995d13" />
<rect x="170.46" y="509.45" width="6.82" height="7.08" fill="#7e4909" />
<rect x="176.98" y="509.45" width="6.82" height="7.08" fill="#7e4909" />
<rect x="183.51" y="509.45" width="6.82" height="7.08" fill="#623806" />
<rect x="190.03" y="509.45" width="6.82" height="7.08" fill="#623806" />
<rect x="196.55" y="509.45" width="6.82" height="7.08" fill="#7e4909" />
<rect x="203.07" y="509.45" width="6.82" height="7.08" fill="#995d13" />
<rect x="209.60" y="509.45" width="6.82" height="7.08" fill="#b27524" />
<rect x="216.12" y="509.45" width="6.82" height="7.08" fill="#c79141" />
<rect x="222.64" y="509.45" width="6.82" height="7.08" fill="#c79141" />
<rect x="229.17" y="509.45" width="6.82" height="7.08" fill="#d7b269" />
<rect x="235.69" y="509.45" width="6.82" height="7.08" fill="#e5cc8e" />
<rect x="33.48" y="516.23" width="6.82" height="7.07" fill="#c7eae5" />
<rect x="40.00" y="516.23" width="6.82" height="7.07" fill="#c7eae5" />
<rect x="46.52" y="516.23" width="6.82" height="7.07" fill="#def0ed" />
<rect x="53.05" y="516.23" width="6.82" height="7.07" fill="#def0ed" />
<rect x="59.57" y="516.23" width="6.82" height="7.07" fill="#def0ed" />
<rect x="66.09" y="516.23" width="6.82" height="7.07" fill="#def0ed" />
<rect x="72.61" y="516.23" width="6.82" height="7.07" fill="#def0ed" />
<rect x="79.14" y="516.23" width="6.82" height="7.07" fill="#def0ed" />
<rect x="85.66" y="516.23" width="6.82" height="7.07" fill="#def0ed" />
<rect x="92.18" y="516.23" width="6.82" height="7.07" fill="#f5f5f5" />
<rect x="98.71" y="516.23" width="6.82" height="7.07" fill="#f5f5f5" />
<rect x="105.23" y="516.23" width="6.82" height="7.07" fill="#f5f5f5" />
<rect x="111.75" y="516.23" width="6.82" height="7.07" fill="#f6ebd0" />
<rect x="118.28" y="516.23" width="6.82" height="7.07" fill="#f0deb2" />
<rect x="124.80" y="516.23" width="6.82" height="7.07" fill="#d7b269" />
<rect x="131.32" y="516.23" width="6.82" height="7.07" fill="#c79141" />
<rect x="137.84" y="516.23" width="6.82" height="7.07" fill="#995d13" />
<rect x="144.37" y="516.23" width="6.82" height="7.07" fill="#7e4909" />
<rect x="150.89" y="516.23" width="6.82" height="7.07" fill="#623806" />
<rect x="157.41" y="516.23" width="6.82" height="7.07" fill="#7e4909" />
<rect x="163.94" y="516.23" width="6.82" height="7.07" fill="#7e4909" />
<rect x="170.46" y="516.23" width="6.82" height="7.07" fill="#7e4909" />
<rect x="176.98" y="516.23" width="6.82" height="7.07" fill="#623806" />
<rect x="183.51" y="516.23" width="6.82" height="7.07" fill="#623806" />
<rect x="190.03" y="516.23" width="6.82" height="7.07" fill="#623806" />
<rect x="196.55" y="516.23" width="6.82" height="7.07" fill="#7e4909" />
<rect x="203.07" y="516.23" width="6.82" height="7.07" fill="#995d13" />
<rect x="209.60" y="516.23" width="6.82" height="7.07" fill="#b27524" />
<rect x="216.12" y="516.23" width="6.82" height="7.07" fill="#c79141" />
<rect x="222.64" y="516.23" width="6.82" height="7.07" fill="#d7b269" />
<rect x="229.17" y="516.23" width="6.82" height="7.07" fill="#e5cc8e" />
<rect x="235.69" y="516.23" width="6.82" height="7.07" fill="#e5cc8e" />
</g>
<line x1="67.65" y1="327.00" x2="67.65" y2="523.00" stroke="#333" stroke-width="0.7" stroke-dasharray="1.3,2.2" stroke-opacity="0.55"/>
<line x1="101.50" y1="327.00" x2="101.50" y2="523.00" stroke="#333" stroke-width="0.7" stroke-dasharray="1.3,2.2" stroke-opacity="0.55"/>
<line x1="135.35" y1="327.00" x2="135.35" y2="523.00" stroke="#333" stroke-width="0.7" stroke-dasharray="1.3,2.2" stroke-opacity="0.55"/>
<line x1="169.20" y1="327.00" x2="169.20" y2="523.00" stroke="#333" stroke-width="0.7" stroke-dasharray="1.3,2.2" stroke-opacity="0.55"/>
<line x1="203.05" y1="327.00" x2="203.05" y2="523.00" stroke="#333" stroke-width="0.7" stroke-dasharray="1.3,2.2" stroke-opacity="0.55"/>
<line x1="33.80" y1="488.98" x2="237.20" y2="488.98" stroke="#333" stroke-width="0.7" stroke-dasharray="1.3,2.2" stroke-opacity="0.55"/>
<line x1="33.80" y1="453.90" x2="237.20" y2="453.90" stroke="#333" stroke-width="0.7" stroke-dasharray="1.3,2.2" stroke-opacity="0.55"/>
<line x1="33.80" y1="416.49" x2="237.20" y2="416.49" stroke="#333" stroke-width="0.7" stroke-dasharray="1.3,2.2" stroke-opacity="0.55"/>
<line x1="33.80" y1="375.07" x2="237.20" y2="375.07" stroke="#333" stroke-width="0.7" stroke-dasharray="1.3,2.2" stroke-opacity="0.55"/>
<path d="M35.1,377.4 L47.8,373.1 L64.6,364.7 L70.9,361.6 L81.4,359.5 L89.9,360.5 L87.8,363.7 L75.1,365.8 L60.4,370.0 L49.9,377.4 L52.0,383.7 L60.4,387.9 L73.0,391.0 L85.7,387.9 L98.3,383.7 L110.9,379.5 L120.4,376.3" fill="none" stroke="#a0663a" stroke-width="0.7" stroke-dasharray="1.2,1.6"/>
<path d="M35.1,396.3 L43.5,395.2 L52.0,400.5 L60.4,408.9 L68.8,415.2 L77.2,419.5 L87.8,423.7 L98.3,425.8 L106.7,425.8 L115.1,423.7 L120.4,421.6" fill="none" stroke="#a0663a" stroke-width="0.7" stroke-dasharray="1.2,1.6"/>
<path d="M120.4,376.3 L125.1,376.9 L138.4,379.5 L145.7,387.9 L147.4,398.7 L144.7,411.0 L136.2,421.5 L132.0,430.0 L125.1,426.2 L115.1,422.6" fill="none" stroke="#a0663a" stroke-width="0.7" stroke-dasharray="1.2,1.6"/>
<path d="M46.7,351.0 L47.8,347.9 L53.0,345.8 L60.4,344.7 L64.6,344.3 L63.6,345.8 L58.3,346.8 L52.0,347.9 L48.8,351.0 L47.8,353.1 Z" fill="none" stroke="#111" stroke-width="1.0" stroke-linejoin="round"/>
<path d="M94.1,331.2 L90.7,332.2 L88.0,334.8 L86.3,341.9 L77.8,341.4 L75.4,349.7 L67.6,352.1 L68.7,359.2 L68.3,365.6 L62.6,368.4 L57.5,370.2 L54.1,373.3 L50.0,373.3 L46.3,377.3 L50.0,381.6 L50.7,386.3 L49.0,387.6 L52.4,388.9 L54.1,390.2 L60.2,394.3 L63.9,399.3 L63.2,406.2 L65.3,406.6 L63.6,411.8 L68.3,414.1 L71.4,416.1 L74.4,415.3 L79.5,419.2 L84.6,422.3 L88.0,424.6 L94.7,424.6 L97.4,426.9 L100.1,423.8 L103.2,424.2 L108.3,425.0 L113.3,421.5 L118.4,419.6 L121.8,418.8 L126.2,423.1 L129.6,426.1 L130.9,431.8 L127.6,436.3 L131.6,438.9 L133.7,443.4 L136.0,448.5 L139.4,448.8 L141.4,445.2 L142.8,445.2 L145.5,444.5 L148.9,443.7 L153.3,441.9 L158.0,443.7 L157.7,445.9 L162.1,448.5" fill="none" stroke="#111" stroke-width="0.8" stroke-linejoin="round"/>
<path d="M94.1,331.2 L94.7,334.8 L101.5,338.4 L103.9,347.3 L104.9,351.1 L113.3,352.1 L119.8,355.4 L122.8,362.9 L125.2,362.4 L135.3,363.4 L141.4,363.8 L145.5,366.1 L152.3,367.9 L159.0,364.7 L165.1,364.3 L170.6,362.4 L175.6,358.3 L174.6,355.4 L175.3,351.6 L177.7,352.6 L181.4,353.1 L186.1,350.2 L189.5,348.7 L192.9,345.3 L196.3,343.8 L202.7,343.8 L199.7,340.4 L191.9,338.9 L188.2,337.9 L191.9,328.1 L195.6,329.6 L198.0,324.4" fill="none" stroke="#111" stroke-width="0.8" stroke-linejoin="round"/>
<path d="M226.7,324.4 L228.4,328.1 L235.2,330.2 L238.6,332.8 L240.3,338.9 L245.4,338.9 L252.8,335.8" fill="none" stroke="#111" stroke-width="0.8" stroke-linejoin="round"/>
<path d="M217.6,375.5 L220.0,372.9 L223.4,369.3 L226.7,367.5 L230.1,368.4 L233.2,366.1 L235.9,364.3 L238.9,364.3 L241.0,362.0 L240.3,356.8 L241.0,352.1 L247.1,352.1" fill="none" stroke="#111" stroke-width="0.8" stroke-linejoin="round"/>
<path d="M242.0,361.5 L239.3,364.7 L235.9,370.6 L234.5,372.0 L231.5,375.1 L228.4,376.8 L231.5,381.6 L233.5,385.5 L235.2,389.7 L234.9,393.9 L232.2,396.4 L228.1,398.1 L225.1,398.9 L224.4,395.6 L225.1,390.2 L225.7,388.0 L225.1,385.5 L221.0,385.1 L221.0,380.8 L219.0,376.8 L217.6,375.5 L212.9,376.4 L210.5,377.7 L207.1,380.3 L208.5,377.7 L209.5,375.1 L207.1,371.1 L204.1,374.2 L201.4,376.0 L197.3,379.0 L194.9,381.2 L196.6,384.2 L199.7,387.2 L202.4,387.2 L205.8,384.6 L211.5,386.3 L210.5,388.5 L205.8,390.6 L201.0,396.8 L204.1,399.7 L206.1,406.2 L209.5,409.8 L209.5,413.0 L207.5,415.3 L209.8,417.3 L208.5,421.5 L205.1,425.8 L201.7,430.7 L199.7,434.8 L196.3,437.4 L191.5,441.9 L186.5,443.7 L183.1,445.6 L180.7,445.9 L176.6,447.4 L171.9,448.8 L169.9,452.8 L168.5,448.8 L164.1,448.1 L159.0,450.3 L157.4,453.2 L155.0,457.5 L157.7,462.8 L161.4,467.1 L165.1,470.9 L166.8,478.6 L166.5,483.5 L162.4,486.2 L158.4,488.0 L152.6,493.8 L151.6,490.4 L152.6,488.0 L150.2,486.9 L145.5,484.2 L143.5,481.4 L138.4,479.7 L137.4,476.9 L135.3,477.2 L132.6,487.3 L134.7,491.7 L136.7,498.2 L139.4,499.9 L142.8,502.0 L146.9,506.7 L146.9,511.5 L149.6,518.3 L147.2,518.6 L143.8,516.2 L139.8,513.5 L137.7,509.8 L136.4,503.7 L136.0,501.0 L129.6,495.2 L130.3,489.0 L130.6,480.4 L128.9,475.8 L127.6,466.4 L124.5,466.0 L119.4,468.8 L116.1,467.8 L116.4,459.3 L113.3,455.7 L109.6,451.4 L107.6,445.6 L103.2,446.3 L98.1,447.4 L91.3,448.5 L91.0,451.4 L89.0,454.3 L84.6,456.4 L81.5,460.0 L75.4,466.0 L72.1,468.5 L68.7,469.9 L68.3,476.9 L68.7,482.1 L67.0,488.0 L64.9,488.0 L63.9,491.4 L61.6,492.8 L59.2,495.5 L56.1,492.8 L54.1,487.3 L52.1,482.4 L50.0,478.6 L47.7,471.6 L45.3,466.4 L43.6,457.8 L43.3,452.1 L42.6,448.8 L41.2,449.9 L37.2,451.0 L33.8,448.1 L30.4,445.2 L34.8,443.4 L31.1,443.7 L28.4,441.1" fill="none" stroke="#111" stroke-width="1.0" stroke-linejoin="round"/>
<path d="M236.6,402.2 L239.9,400.9 L242.3,403.4 L243.3,407.4 L241.3,411.4 L238.9,412.2 L237.6,410.6 L237.6,406.2 L235.5,405.0 Z" fill="none" stroke="#111" stroke-width="1.0" stroke-linejoin="round"/>
<path d="M273.8,368.4 L275.8,372.9 L277.5,377.3 L275.8,382.5 L274.1,384.6 L274.1,391.0 L273.8,393.5 L270.1,396.8 L267.7,395.6 L266.7,398.1 L261.6,398.1 L257.9,399.7 L256.5,402.6 L254.2,400.9 L255.2,397.7 L251.1,397.7 L247.1,398.9 L243.7,400.9 L239.9,398.9 L245.0,394.8 L248.7,394.3 L254.8,393.9 L257.2,392.3 L259.9,386.8 L261.6,388.9 L265.7,386.3 L269.1,382.5 L270.8,376.8 L270.4,372.4 L271.8,369.7 Z" fill="none" stroke="#111" stroke-width="1.0" stroke-linejoin="round"/>
<path d="M245.7,403.8 L248.7,403.4 L252.8,401.3 L252.1,399.7 L248.4,398.9 L245.7,400.9 Z" fill="none" stroke="#111" stroke-width="1.0" stroke-linejoin="round"/>
<path d="M206.4,434.8 L209.8,435.6 L208.1,441.1 L205.8,446.6 L203.4,443.0 L204.1,438.2 Z" fill="none" stroke="#111" stroke-width="1.0" stroke-linejoin="round"/>
<path d="M164.8,456.4 L170.9,453.5 L172.6,455.3 L169.9,460.0 L165.8,459.6 Z" fill="none" stroke="#111" stroke-width="1.0" stroke-linejoin="round"/>
<path d="M205.1,459.3 L207.5,458.9 L210.5,459.3 L210.8,464.3 L210.5,467.1 L208.5,468.8 L207.8,472.3 L209.8,474.8 L213.2,475.5 L216.3,475.8 L216.9,480.0 L211.9,477.6 L205.8,475.5 L205.1,473.4 L203.7,472.3 L202.4,467.1 L204.4,462.5 Z" fill="none" stroke="#111" stroke-width="1.0" stroke-linejoin="round"/>
<path d="M209.8,499.3 L212.5,497.2 L217.3,495.2 L219.3,492.8 L221.7,490.0 L224.0,491.7 L225.4,498.2 L224.0,501.6 L221.3,504.0 L220.7,502.0 L217.3,501.3 L215.9,497.5 L213.2,497.5 L210.2,499.6 Z" fill="none" stroke="#111" stroke-width="1.0" stroke-linejoin="round"/>
<path d="M217.9,480.4 L221.7,481.1 L222.3,484.9 L220.0,488.3 L219.0,488.3 L217.6,484.2 Z" fill="none" stroke="#111" stroke-width="1.0" stroke-linejoin="round"/>
<path d="M209.5,482.4 L213.9,483.5 L216.6,485.2 L214.6,491.4 L211.2,490.4 L209.5,486.9 Z" fill="none" stroke="#111" stroke-width="1.0" stroke-linejoin="round"/>
<path d="M193.6,494.5 L197.3,490.7 L200.7,487.3 L201.7,484.5 L200.7,485.5 L195.3,492.4 Z" fill="none" stroke="#111" stroke-width="1.0" stroke-linejoin="round"/>
<path d="M204.1,476.9 L207.1,477.2 L208.1,480.0 L207.1,481.4 L205.4,480.4 Z" fill="none" stroke="#111" stroke-width="1.0" stroke-linejoin="round"/>
<path d="M165.5,517.9 L167.8,516.2 L173.3,514.9 L179.4,512.2 L182.4,508.1 L187.5,505.4 L189.5,502.7 L191.9,499.3 L195.3,502.7 L200.7,505.4 L195.6,508.8 L194.9,512.2 L199.3,519.6 L195.9,519.6 L194.6,523.0 L193.6,526.0 L191.5,529.8 L190.9,534.5 L189.5,536.2 L184.8,536.9 L179.4,533.8 L175.3,534.9 L170.2,532.8 L169.2,528.8 L167.2,525.4 L165.8,521.6 Z" fill="none" stroke="#111" stroke-width="1.0" stroke-linejoin="round"/>
<path d="M119.4,504.0 L126.9,505.4 L129.6,508.8 L134.3,512.2 L137.0,515.9 L142.8,518.9 L145.8,521.6 L148.2,524.4 L150.6,529.1 L155.7,533.5 L155.3,538.2 L155.0,542.7 L150.9,543.0 L143.1,536.5 L139.8,532.5 L135.7,524.7 L132.6,521.6 L130.9,517.2 L124.9,510.8 L121.5,508.1 Z" fill="none" stroke="#111" stroke-width="1.0" stroke-linejoin="round"/>
<path d="M67.3,489.7 L71.7,494.1 L74.1,498.6 L73.4,501.3 L69.7,503.0 L67.6,501.6 L67.0,496.5 Z" fill="none" stroke="#111" stroke-width="1.0" stroke-linejoin="round"/>
<circle cx="177.0" cy="466.4" r="0.55" fill="#111"/>
<circle cx="174.6" cy="467.4" r="0.55" fill="#111"/>
<circle cx="178.3" cy="465.0" r="0.55" fill="#111"/>
<circle cx="173.3" cy="468.8" r="0.55" fill="#111"/>
<circle cx="183.6" cy="490.2" r="0.55" fill="#111"/>
<circle cx="185.1" cy="489.6" r="0.55" fill="#111"/>
<circle cx="187.8" cy="495.2" r="0.55" fill="#111"/>
<circle cx="181.2" cy="487.2" r="0.55" fill="#111"/>
<circle cx="183.9" cy="493.4" r="0.55" fill="#111"/>
<circle cx="191.8" cy="491.0" r="0.55" fill="#111"/>
<circle cx="190.1" cy="490.9" r="0.55" fill="#111"/>
<circle cx="188.0" cy="494.3" r="0.55" fill="#111"/>
<circle cx="187.9" cy="486.9" r="0.55" fill="#111"/>
<circle cx="186.7" cy="488.2" r="0.55" fill="#111"/>
<circle cx="188.3" cy="495.2" r="0.55" fill="#111"/>
<circle cx="189.3" cy="489.8" r="0.55" fill="#111"/>
<circle cx="184.3" cy="495.5" r="0.55" fill="#111"/>
<circle cx="190.4" cy="491.0" r="0.55" fill="#111"/>
<circle cx="188.8" cy="486.8" r="0.55" fill="#111"/>
<circle cx="188.8" cy="486.4" r="0.55" fill="#111"/>
<circle cx="185.3" cy="487.6" r="0.55" fill="#111"/>
<circle cx="185.9" cy="486.2" r="0.55" fill="#111"/>
<circle cx="190.6" cy="494.8" r="0.55" fill="#111"/>
<circle cx="182.5" cy="493.6" r="0.55" fill="#111"/>
<circle cx="191.5" cy="491.4" r="0.55" fill="#111"/>
<circle cx="187.8" cy="492.7" r="0.55" fill="#111"/>
<circle cx="186.5" cy="491.9" r="0.55" fill="#111"/>
<circle cx="184.8" cy="489.8" r="0.55" fill="#111"/>
<circle cx="187.4" cy="486.5" r="0.55" fill="#111"/>
<circle cx="188.4" cy="486.3" r="0.55" fill="#111"/>
<circle cx="194.2" cy="486.1" r="0.55" fill="#111"/>
<circle cx="194.9" cy="485.3" r="0.55" fill="#111"/>
<circle cx="193.4" cy="487.2" r="0.55" fill="#111"/>
<circle cx="191.0" cy="490.4" r="0.55" fill="#111"/>
<circle cx="194.3" cy="486.1" r="0.55" fill="#111"/>
<circle cx="194.8" cy="485.4" r="0.55" fill="#111"/>
<rect x="149.4" y="388.3" width="41.1" height="39.8" fill="none" stroke="#111" stroke-width="1.1"/>
</g>
<rect x="33.8" y="327.0" width="203.39999999999998" height="196.0" fill="none" stroke="#3a3a3a" stroke-width="1"/>
<line x1="33.80" y1="327.50" x2="33.80" y2="527.00" stroke="#9a9a9a" stroke-width="1.3" />
<line x1="33.80" y1="327.00" x2="33.80" y2="324.00" stroke="#3a3a3a" stroke-width="0.8" />
<line x1="33.80" y1="523.00" x2="33.80" y2="525.50" stroke="#3a3a3a" stroke-width="0.8" />
<line x1="67.65" y1="327.00" x2="67.65" y2="324.00" stroke="#3a3a3a" stroke-width="0.8" />
<line x1="67.65" y1="523.00" x2="67.65" y2="525.50" stroke="#3a3a3a" stroke-width="0.8" />
<line x1="101.50" y1="327.00" x2="101.50" y2="324.00" stroke="#3a3a3a" stroke-width="0.8" />
<line x1="101.50" y1="523.00" x2="101.50" y2="525.50" stroke="#3a3a3a" stroke-width="0.8" />
<line x1="135.35" y1="327.00" x2="135.35" y2="324.00" stroke="#3a3a3a" stroke-width="0.8" />
<line x1="135.35" y1="523.00" x2="135.35" y2="525.50" stroke="#3a3a3a" stroke-width="0.8" />
<line x1="169.20" y1="327.00" x2="169.20" y2="324.00" stroke="#3a3a3a" stroke-width="0.8" />
<line x1="169.20" y1="523.00" x2="169.20" y2="525.50" stroke="#3a3a3a" stroke-width="0.8" />
<line x1="203.05" y1="327.00" x2="203.05" y2="324.00" stroke="#3a3a3a" stroke-width="0.8" />
<line x1="203.05" y1="523.00" x2="203.05" y2="525.50" stroke="#3a3a3a" stroke-width="0.8" />
<line x1="236.90" y1="327.00" x2="236.90" y2="324.00" stroke="#3a3a3a" stroke-width="0.8" />
<line x1="236.90" y1="523.00" x2="236.90" y2="525.50" stroke="#3a3a3a" stroke-width="0.8" />
<line x1="33.80" y1="523.00" x2="30.80" y2="523.00" stroke="#3a3a3a" stroke-width="0.8" />
<line x1="33.80" y1="488.98" x2="30.80" y2="488.98" stroke="#3a3a3a" stroke-width="0.8" />
<line x1="33.80" y1="453.90" x2="30.80" y2="453.90" stroke="#3a3a3a" stroke-width="0.8" />
<line x1="33.80" y1="416.49" x2="30.80" y2="416.49" stroke="#3a3a3a" stroke-width="0.8" />
<line x1="33.80" y1="375.07" x2="30.80" y2="375.07" stroke="#3a3a3a" stroke-width="0.8" />
<line x1="33.80" y1="327.03" x2="30.80" y2="327.03" stroke="#3a3a3a" stroke-width="0.8" />
<text x="39.4" y="322.3" font-size="7.2" font-weight="normal" fill="#444" text-anchor="middle" >70°E</text>
<text x="75.2" y="322.3" font-size="7.2" font-weight="normal" fill="#444" text-anchor="middle" >80°E</text>
<text x="103.7" y="322.3" font-size="7.2" font-weight="normal" fill="#444" text-anchor="middle" >90°E</text>
<text x="136.2" y="322.3" font-size="7.2" font-weight="normal" fill="#444" text-anchor="middle" >100°E</text>
<text x="171.8" y="322.3" font-size="7.2" font-weight="normal" fill="#444" text-anchor="middle" >110°E</text>
<text x="204.3" y="322.3" font-size="7.2" font-weight="normal" fill="#444" text-anchor="middle" >120°E</text>
<text x="235.1" y="322.3" font-size="7.2" font-weight="normal" fill="#444" text-anchor="middle" >130°E</text>
<text transform="translate(24.2,518.0) rotate(-90)" font-size="7.2" fill="#444" text-anchor="middle">0°</text>
<text transform="translate(24.2,490.0) rotate(-90)" font-size="7.2" fill="#444" text-anchor="middle">10°N</text>
<text transform="translate(24.2,454.9) rotate(-90)" font-size="7.2" fill="#444" text-anchor="middle">20°N</text>
<text transform="translate(24.2,417.5) rotate(-90)" font-size="7.2" fill="#444" text-anchor="middle">30°N</text>
<text transform="translate(24.2,376.1) rotate(-90)" font-size="7.2" fill="#444" text-anchor="middle">40°N</text>
<text transform="translate(24.2,335.0) rotate(-90)" font-size="7.2" fill="#444" text-anchor="middle">50°N</text>
<text x="41.5" y="516.5" font-size="9.6" font-weight="bold" fill="#222" text-anchor="start" textLength="52" lengthAdjust="spacingAndGlyphs" >FOV [68%]</text>
<text x="142.9" y="534.2" font-size="10" font-weight="normal" fill="#222" text-anchor="middle" textLength="140" lengthAdjust="spacingAndGlyphs" >Heterogenous Regression Map</text>
<rect x="27.20" y="545.70" width="218.80" height="12.00" fill="url(#gbrbg)" stroke="#333" stroke-width="0.7"/>
<line x1="27.20" y1="557.70" x2="27.20" y2="555.50" stroke="#444" stroke-width="0.8" />
<text x="27.2" y="568.5" font-size="9" font-weight="bold" fill="#222" text-anchor="middle" >-1</text>
<line x1="81.90" y1="557.70" x2="81.90" y2="555.50" stroke="#444" stroke-width="0.8" />
<text x="79.7" y="568.5" font-size="9" font-weight="bold" fill="#222" text-anchor="middle" >-0.5</text>
<line x1="136.60" y1="557.70" x2="136.60" y2="555.50" stroke="#444" stroke-width="0.8" />
<text x="136.6" y="568.5" font-size="9" font-weight="bold" fill="#222" text-anchor="middle" >0</text>
<line x1="191.30" y1="557.70" x2="191.30" y2="555.50" stroke="#444" stroke-width="0.8" />
<text x="189.8" y="568.5" font-size="9" font-weight="bold" fill="#222" text-anchor="middle" >0.5</text>
<line x1="246.00" y1="557.70" x2="246.00" y2="555.50" stroke="#444" stroke-width="0.8" />
<text x="246.0" y="568.5" font-size="9" font-weight="bold" fill="#222" text-anchor="middle" >1</text>
<text x="141.7" y="583.5" font-size="10.5" fill="#222" text-anchor="middle" textLength="42" lengthAdjust="spacingAndGlyphs">δ<tspan font-size="6.5" dy="-4">18</tspan><tspan dy="4">O (‰)</tspan></text>
<path d="M120.5,326 V299.2 H479 V327" fill="none" stroke="#333" stroke-width="1"/>
<text x="230.0" y="312.2" font-size="9.6" font-weight="bold" fill="#1a1a1a" text-anchor="start" textLength="148" lengthAdjust="spacingAndGlyphs" >First Mode of MCA [SCF =76%]</text>
<g clip-path="url(#clipP)">
<rect x="295.0" y="328.0" width="336.6" height="193.0" fill="#fff"/>
<rect x="372.5" y="328.0" width="20.2" height="2.7" fill="#f1f9ff"/>
<rect x="427.5" y="328.0" width="15.2" height="2.7" fill="#fffbee"/>
<rect x="442.5" y="328.0" width="12.7" height="2.7" fill="#fff7dd"/>
<rect x="455.0" y="328.0" width="10.2" height="2.7" fill="#fff3cd"/>
<rect x="465.0" y="328.0" width="12.7" height="2.7" fill="#feefbc"/>
<rect x="477.5" y="328.0" width="15.2" height="2.7" fill="#feebab"/>
<rect x="492.5" y="328.0" width="62.7" height="2.7" fill="#fee79a"/>
<rect x="555.0" y="328.0" width="15.2" height="2.7" fill="#feebab"/>
<rect x="570.0" y="328.0" width="17.7" height="2.7" fill="#feefbc"/>
<rect x="587.5" y="328.0" width="12.7" height="2.7" fill="#fff3cd"/>
<rect x="600.0" y="328.0" width="15.2" height="2.7" fill="#fff7dd"/>
<rect x="615.0" y="328.0" width="17.7" height="2.7" fill="#fffbee"/>
<rect x="360.0" y="330.5" width="40.2" height="2.7" fill="#f1f9ff"/>
<rect x="425.0" y="330.5" width="12.7" height="2.7" fill="#fffbee"/>
<rect x="437.5" y="330.5" width="10.2" height="2.7" fill="#fff7dd"/>
<rect x="447.5" y="330.5" width="10.2" height="2.7" fill="#fff3cd"/>
<rect x="457.5" y="330.5" width="10.2" height="2.7" fill="#feefbc"/>
<rect x="467.5" y="330.5" width="10.2" height="2.7" fill="#feebab"/>
<rect x="477.5" y="330.5" width="15.2" height="2.7" fill="#fee79a"/>
<rect x="492.5" y="330.5" width="57.7" height="2.7" fill="#fee18a"/>
<rect x="550.0" y="330.5" width="12.7" height="2.7" fill="#fee79a"/>
<rect x="562.5" y="330.5" width="17.7" height="2.7" fill="#feebab"/>
<rect x="580.0" y="330.5" width="15.2" height="2.7" fill="#feefbc"/>
<rect x="595.0" y="330.5" width="10.2" height="2.7" fill="#fff3cd"/>
<rect x="605.0" y="330.5" width="12.7" height="2.7" fill="#fff7dd"/>
<rect x="617.5" y="330.5" width="15.2" height="2.7" fill="#fffbee"/>
<rect x="352.5" y="333.0" width="52.7" height="2.7" fill="#f1f9ff"/>
<rect x="425.0" y="333.0" width="10.2" height="2.7" fill="#fffbee"/>
<rect x="435.0" y="333.0" width="10.2" height="2.7" fill="#fff7dd"/>
<rect x="445.0" y="333.0" width="7.7" height="2.7" fill="#fff3cd"/>
<rect x="452.5" y="333.0" width="7.7" height="2.7" fill="#feefbc"/>
<rect x="460.0" y="333.0" width="10.2" height="2.7" fill="#feebab"/>
<rect x="470.0" y="333.0" width="10.2" height="2.7" fill="#fee79a"/>
<rect x="480.0" y="333.0" width="17.7" height="2.7" fill="#fee18a"/>
<rect x="497.5" y="333.0" width="42.7" height="2.7" fill="#fddb7a"/>
<rect x="540.0" y="333.0" width="17.7" height="2.7" fill="#fee18a"/>
<rect x="557.5" y="333.0" width="15.2" height="2.7" fill="#fee79a"/>
<rect x="572.5" y="333.0" width="15.2" height="2.7" fill="#feebab"/>
<rect x="587.5" y="333.0" width="10.2" height="2.7" fill="#feefbc"/>
<rect x="597.5" y="333.0" width="10.2" height="2.7" fill="#fff3cd"/>
<rect x="607.5" y="333.0" width="10.2" height="2.7" fill="#fff7dd"/>
<rect x="617.5" y="333.0" width="15.2" height="2.7" fill="#fffbee"/>
<rect x="347.5" y="335.5" width="62.7" height="2.7" fill="#f1f9ff"/>
<rect x="425.0" y="335.5" width="10.2" height="2.7" fill="#fffbee"/>
<rect x="435.0" y="335.5" width="7.7" height="2.7" fill="#fff7dd"/>
<rect x="442.5" y="335.5" width="7.7" height="2.7" fill="#fff3cd"/>
<rect x="450.0" y="335.5" width="7.7" height="2.7" fill="#feefbc"/>
<rect x="457.5" y="335.5" width="7.7" height="2.7" fill="#feebab"/>
<rect x="465.0" y="335.5" width="10.2" height="2.7" fill="#fee79a"/>
<rect x="475.0" y="335.5" width="12.7" height="2.7" fill="#fee18a"/>
<rect x="487.5" y="335.5" width="60.2" height="2.7" fill="#fddb7a"/>
<rect x="547.5" y="335.5" width="15.2" height="2.7" fill="#fee18a"/>
<rect x="562.5" y="335.5" width="17.7" height="2.7" fill="#fee79a"/>
<rect x="580.0" y="335.5" width="12.7" height="2.7" fill="#feebab"/>
<rect x="592.5" y="335.5" width="10.2" height="2.7" fill="#feefbc"/>
<rect x="602.5" y="335.5" width="7.7" height="2.7" fill="#fff3cd"/>
<rect x="610.0" y="335.5" width="10.2" height="2.7" fill="#fff7dd"/>
<rect x="620.0" y="335.5" width="12.7" height="2.7" fill="#fffbee"/>
<rect x="342.5" y="338.0" width="70.2" height="2.7" fill="#f1f9ff"/>
<rect x="427.5" y="338.0" width="7.7" height="2.7" fill="#fffbee"/>
<rect x="435.0" y="338.0" width="7.7" height="2.7" fill="#fff7dd"/>
<rect x="442.5" y="338.0" width="7.7" height="2.7" fill="#fff3cd"/>
<rect x="450.0" y="338.0" width="7.7" height="2.7" fill="#feefbc"/>
<rect x="457.5" y="338.0" width="7.7" height="2.7" fill="#feebab"/>
<rect x="465.0" y="338.0" width="10.2" height="2.7" fill="#fee79a"/>
<rect x="475.0" y="338.0" width="12.7" height="2.7" fill="#fee18a"/>
<rect x="487.5" y="338.0" width="65.2" height="2.7" fill="#fddb7a"/>
<rect x="552.5" y="338.0" width="15.2" height="2.7" fill="#fee18a"/>
<rect x="567.5" y="338.0" width="20.2" height="2.7" fill="#fee79a"/>
<rect x="587.5" y="338.0" width="7.7" height="2.7" fill="#feebab"/>
<rect x="595.0" y="338.0" width="10.2" height="2.7" fill="#feefbc"/>
<rect x="605.0" y="338.0" width="7.7" height="2.7" fill="#fff3cd"/>
<rect x="612.5" y="338.0" width="7.7" height="2.7" fill="#fff7dd"/>
<rect x="620.0" y="338.0" width="12.7" height="2.7" fill="#fffbee"/>
<rect x="340.0" y="340.5" width="77.7" height="2.7" fill="#f1f9ff"/>
<rect x="430.0" y="340.5" width="7.7" height="2.7" fill="#fffbee"/>
<rect x="437.5" y="340.5" width="7.7" height="2.7" fill="#fff7dd"/>
<rect x="445.0" y="340.5" width="7.7" height="2.7" fill="#fff3cd"/>
<rect x="452.5" y="340.5" width="7.7" height="2.7" fill="#feefbc"/>
<rect x="460.0" y="340.5" width="7.7" height="2.7" fill="#feebab"/>
<rect x="467.5" y="340.5" width="10.2" height="2.7" fill="#fee79a"/>
<rect x="477.5" y="340.5" width="17.7" height="2.7" fill="#fee18a"/>
<rect x="495.0" y="340.5" width="60.2" height="2.7" fill="#fddb7a"/>
<rect x="555.0" y="340.5" width="22.7" height="2.7" fill="#fee18a"/>
<rect x="577.5" y="340.5" width="15.2" height="2.7" fill="#fee79a"/>
<rect x="592.5" y="340.5" width="7.7" height="2.7" fill="#feebab"/>
<rect x="600.0" y="340.5" width="7.7" height="2.7" fill="#feefbc"/>
<rect x="607.5" y="340.5" width="7.7" height="2.7" fill="#fff3cd"/>
<rect x="615.0" y="340.5" width="5.2" height="2.7" fill="#fff7dd"/>
<rect x="620.0" y="340.5" width="12.7" height="2.7" fill="#fffbee"/>
<rect x="337.5" y="343.0" width="32.7" height="2.7" fill="#f1f9ff"/>
<rect x="370.0" y="343.0" width="40.2" height="2.7" fill="#e4f4fe"/>
<rect x="410.0" y="343.0" width="15.2" height="2.7" fill="#f1f9ff"/>
<rect x="435.0" y="343.0" width="7.7" height="2.7" fill="#fffbee"/>
<rect x="442.5" y="343.0" width="7.7" height="2.7" fill="#fff7dd"/>
<rect x="450.0" y="343.0" width="7.7" height="2.7" fill="#fff3cd"/>
<rect x="457.5" y="343.0" width="7.7" height="2.7" fill="#feefbc"/>
<rect x="465.0" y="343.0" width="10.2" height="2.7" fill="#feebab"/>
<rect x="475.0" y="343.0" width="12.7" height="2.7" fill="#fee79a"/>
<rect x="487.5" y="343.0" width="35.2" height="2.7" fill="#fee18a"/>
<rect x="522.5" y="343.0" width="37.7" height="2.7" fill="#fddb7a"/>
<rect x="560.0" y="343.0" width="27.7" height="2.7" fill="#fee18a"/>
<rect x="587.5" y="343.0" width="7.7" height="2.7" fill="#fee79a"/>
<rect x="595.0" y="343.0" width="7.7" height="2.7" fill="#feebab"/>
<rect x="602.5" y="343.0" width="7.7" height="2.7" fill="#feefbc"/>
<rect x="610.0" y="343.0" width="5.2" height="2.7" fill="#fff3cd"/>
<rect x="615.0" y="343.0" width="5.2" height="2.7" fill="#fff7dd"/>
<rect x="620.0" y="343.0" width="12.7" height="2.7" fill="#fffbee"/>
<rect x="335.0" y="345.5" width="27.7" height="2.7" fill="#f1f9ff"/>
<rect x="362.5" y="345.5" width="57.7" height="2.7" fill="#e4f4fe"/>
<rect x="420.0" y="345.5" width="12.7" height="2.7" fill="#f1f9ff"/>
<rect x="442.5" y="345.5" width="7.7" height="2.7" fill="#fffbee"/>
<rect x="450.0" y="345.5" width="7.7" height="2.7" fill="#fff7dd"/>
<rect x="457.5" y="345.5" width="7.7" height="2.7" fill="#fff3cd"/>
<rect x="465.0" y="345.5" width="10.2" height="2.7" fill="#feefbc"/>
<rect x="475.0" y="345.5" width="10.2" height="2.7" fill="#feebab"/>
<rect x="485.0" y="345.5" width="20.2" height="2.7" fill="#fee79a"/>
<rect x="505.0" y="345.5" width="22.7" height="2.7" fill="#fee18a"/>
<rect x="527.5" y="345.5" width="50.2" height="2.7" fill="#fddb7a"/>
<rect x="577.5" y="345.5" width="15.2" height="2.7" fill="#fee18a"/>
<rect x="592.5" y="345.5" width="5.2" height="2.7" fill="#fee79a"/>
<rect x="597.5" y="345.5" width="7.7" height="2.7" fill="#feebab"/>
<rect x="605.0" y="345.5" width="5.2" height="2.7" fill="#feefbc"/>
<rect x="610.0" y="345.5" width="5.2" height="2.7" fill="#fff3cd"/>
<rect x="615.0" y="345.5" width="5.2" height="2.7" fill="#fff7dd"/>
<rect x="620.0" y="345.5" width="7.7" height="2.7" fill="#fffbee"/>
<rect x="332.5" y="348.0" width="22.7" height="2.7" fill="#f1f9ff"/>
<rect x="355.0" y="348.0" width="27.7" height="2.7" fill="#e4f4fe"/>
<rect x="382.5" y="348.0" width="37.7" height="2.7" fill="#d6eefe"/>
<rect x="420.0" y="348.0" width="12.7" height="2.7" fill="#e4f4fe"/>
<rect x="432.5" y="348.0" width="10.2" height="2.7" fill="#f1f9ff"/>
<rect x="450.0" y="348.0" width="7.7" height="2.7" fill="#fffbee"/>
<rect x="457.5" y="348.0" width="7.7" height="2.7" fill="#fff7dd"/>
<rect x="465.0" y="348.0" width="10.2" height="2.7" fill="#fff3cd"/>
<rect x="475.0" y="348.0" width="10.2" height="2.7" fill="#feefbc"/>
<rect x="485.0" y="348.0" width="12.7" height="2.7" fill="#feebab"/>
<rect x="497.5" y="348.0" width="17.7" height="2.7" fill="#fee79a"/>
<rect x="515.0" y="348.0" width="12.7" height="2.7" fill="#fee18a"/>
<rect x="527.5" y="348.0" width="12.7" height="2.7" fill="#fddb7a"/>
<rect x="540.0" y="348.0" width="17.7" height="2.7" fill="#fcd46a"/>
<rect x="557.5" y="348.0" width="30.2" height="2.7" fill="#fddb7a"/>
<rect x="587.5" y="348.0" width="7.7" height="2.7" fill="#fee18a"/>
<rect x="595.0" y="348.0" width="5.2" height="2.7" fill="#fee79a"/>
<rect x="600.0" y="348.0" width="7.7" height="2.7" fill="#feebab"/>
<rect x="607.5" y="348.0" width="5.2" height="2.7" fill="#feefbc"/>
<rect x="612.5" y="348.0" width="5.2" height="2.7" fill="#fff3cd"/>
<rect x="617.5" y="348.0" width="2.7" height="2.7" fill="#fff7dd"/>
<rect x="620.0" y="348.0" width="7.7" height="2.7" fill="#fffbee"/>
<rect x="330.0" y="350.5" width="22.7" height="2.7" fill="#f1f9ff"/>
<rect x="352.5" y="350.5" width="20.2" height="2.7" fill="#e4f4fe"/>
<rect x="372.5" y="350.5" width="25.2" height="2.7" fill="#d6eefe"/>
<rect x="397.5" y="350.5" width="22.7" height="2.7" fill="#c9e9fd"/>
<rect x="420.0" y="350.5" width="15.2" height="2.7" fill="#d6eefe"/>
<rect x="435.0" y="350.5" width="10.2" height="2.7" fill="#e4f4fe"/>
<rect x="445.0" y="350.5" width="7.7" height="2.7" fill="#f1f9ff"/>
<rect x="460.0" y="350.5" width="7.7" height="2.7" fill="#fffbee"/>
<rect x="467.5" y="350.5" width="7.7" height="2.7" fill="#fff7dd"/>
<rect x="475.0" y="350.5" width="7.7" height="2.7" fill="#fff3cd"/>
<rect x="482.5" y="350.5" width="10.2" height="2.7" fill="#feefbc"/>
<rect x="492.5" y="350.5" width="15.2" height="2.7" fill="#feebab"/>
<rect x="507.5" y="350.5" width="10.2" height="2.7" fill="#fee79a"/>
<rect x="517.5" y="350.5" width="10.2" height="2.7" fill="#fee18a"/>
<rect x="527.5" y="350.5" width="7.7" height="2.7" fill="#fddb7a"/>
<rect x="535.0" y="350.5" width="47.7" height="2.7" fill="#fcd46a"/>
<rect x="582.5" y="350.5" width="10.2" height="2.7" fill="#fddb7a"/>
<rect x="592.5" y="350.5" width="5.2" height="2.7" fill="#fee18a"/>
<rect x="597.5" y="350.5" width="5.2" height="2.7" fill="#fee79a"/>
<rect x="602.5" y="350.5" width="5.2" height="2.7" fill="#feebab"/>
<rect x="607.5" y="350.5" width="5.2" height="2.7" fill="#feefbc"/>
<rect x="612.5" y="350.5" width="5.2" height="2.7" fill="#fff3cd"/>
<rect x="617.5" y="350.5" width="2.7" height="2.7" fill="#fff7dd"/>
<rect x="620.0" y="350.5" width="5.2" height="2.7" fill="#fffbee"/>
<rect x="327.5" y="353.0" width="20.2" height="2.7" fill="#f1f9ff"/>
<rect x="347.5" y="353.0" width="20.2" height="2.7" fill="#e4f4fe"/>
<rect x="367.5" y="353.0" width="17.7" height="2.7" fill="#d6eefe"/>
<rect x="385.0" y="353.0" width="20.2" height="2.7" fill="#c9e9fd"/>
<rect x="405.0" y="353.0" width="22.7" height="2.7" fill="#bbe3fd"/>
<rect x="427.5" y="353.0" width="12.7" height="2.7" fill="#c9e9fd"/>
<rect x="440.0" y="353.0" width="7.7" height="2.7" fill="#d6eefe"/>
<rect x="447.5" y="353.0" width="7.7" height="2.7" fill="#e4f4fe"/>
<rect x="455.0" y="353.0" width="5.2" height="2.7" fill="#f1f9ff"/>
<rect x="467.5" y="353.0" width="7.7" height="2.7" fill="#fffbee"/>
<rect x="475.0" y="353.0" width="7.7" height="2.7" fill="#fff7dd"/>
<rect x="482.5" y="353.0" width="7.7" height="2.7" fill="#fff3cd"/>
<rect x="490.0" y="353.0" width="10.2" height="2.7" fill="#feefbc"/>
<rect x="500.0" y="353.0" width="10.2" height="2.7" fill="#feebab"/>
<rect x="510.0" y="353.0" width="10.2" height="2.7" fill="#fee79a"/>
<rect x="520.0" y="353.0" width="7.7" height="2.7" fill="#fee18a"/>
<rect x="527.5" y="353.0" width="5.2" height="2.7" fill="#fddb7a"/>
<rect x="532.5" y="353.0" width="10.2" height="2.7" fill="#fcd46a"/>
<rect x="542.5" y="353.0" width="20.2" height="2.7" fill="#fcce5a"/>
<rect x="562.5" y="353.0" width="27.7" height="2.7" fill="#fcd46a"/>
<rect x="590.0" y="353.0" width="5.2" height="2.7" fill="#fddb7a"/>
<rect x="595.0" y="353.0" width="5.2" height="2.7" fill="#fee18a"/>
<rect x="600.0" y="353.0" width="5.2" height="2.7" fill="#fee79a"/>
<rect x="605.0" y="353.0" width="5.2" height="2.7" fill="#feebab"/>
<rect x="610.0" y="353.0" width="2.7" height="2.7" fill="#feefbc"/>
<rect x="612.5" y="353.0" width="5.2" height="2.7" fill="#fff3cd"/>
<rect x="617.5" y="353.0" width="2.7" height="2.7" fill="#fff7dd"/>
<rect x="620.0" y="353.0" width="5.2" height="2.7" fill="#fffbee"/>
<rect x="327.5" y="355.5" width="17.7" height="2.7" fill="#f1f9ff"/>
<rect x="345.0" y="355.5" width="17.7" height="2.7" fill="#e4f4fe"/>
<rect x="362.5" y="355.5" width="15.2" height="2.7" fill="#d6eefe"/>
<rect x="377.5" y="355.5" width="12.7" height="2.7" fill="#c9e9fd"/>
<rect x="390.0" y="355.5" width="15.2" height="2.7" fill="#bbe3fd"/>
<rect x="405.0" y="355.5" width="30.2" height="2.7" fill="#adddfc"/>
<rect x="435.0" y="355.5" width="10.2" height="2.7" fill="#bbe3fd"/>
<rect x="445.0" y="355.5" width="5.2" height="2.7" fill="#c9e9fd"/>
<rect x="450.0" y="355.5" width="7.7" height="2.7" fill="#d6eefe"/>
<rect x="457.5" y="355.5" width="5.2" height="2.7" fill="#e4f4fe"/>
<rect x="462.5" y="355.5" width="5.2" height="2.7" fill="#f1f9ff"/>
<rect x="472.5" y="355.5" width="7.7" height="2.7" fill="#fffbee"/>
<rect x="480.0" y="355.5" width="7.7" height="2.7" fill="#fff7dd"/>
<rect x="487.5" y="355.5" width="7.7" height="2.7" fill="#fff3cd"/>
<rect x="495.0" y="355.5" width="7.7" height="2.7" fill="#feefbc"/>
<rect x="502.5" y="355.5" width="7.7" height="2.7" fill="#feebab"/>
<rect x="510.0" y="355.5" width="7.7" height="2.7" fill="#fee79a"/>
<rect x="517.5" y="355.5" width="7.7" height="2.7" fill="#fee18a"/>
<rect x="525.0" y="355.5" width="7.7" height="2.7" fill="#fddb7a"/>
<rect x="532.5" y="355.5" width="5.2" height="2.7" fill="#fcd46a"/>
<rect x="537.5" y="355.5" width="47.7" height="2.7" fill="#fcce5a"/>
<rect x="585.0" y="355.5" width="7.7" height="2.7" fill="#fcd46a"/>
<rect x="592.5" y="355.5" width="5.2" height="2.7" fill="#fddb7a"/>
<rect x="597.5" y="355.5" width="5.2" height="2.7" fill="#fee18a"/>
<rect x="602.5" y="355.5" width="5.2" height="2.7" fill="#fee79a"/>
<rect x="607.5" y="355.5" width="2.7" height="2.7" fill="#feebab"/>
<rect x="610.0" y="355.5" width="5.2" height="2.7" fill="#feefbc"/>
<rect x="615.0" y="355.5" width="2.7" height="2.7" fill="#fff3cd"/>
<rect x="617.5" y="355.5" width="2.7" height="2.7" fill="#fff7dd"/>
<rect x="620.0" y="355.5" width="5.2" height="2.7" fill="#fffbee"/>
<rect x="327.5" y="358.0" width="17.7" height="2.7" fill="#f1f9ff"/>
<rect x="345.0" y="358.0" width="12.7" height="2.7" fill="#e4f4fe"/>
<rect x="357.5" y="358.0" width="15.2" height="2.7" fill="#d6eefe"/>
<rect x="372.5" y="358.0" width="10.2" height="2.7" fill="#c9e9fd"/>
<rect x="382.5" y="358.0" width="12.7" height="2.7" fill="#bbe3fd"/>
<rect x="395.0" y="358.0" width="10.2" height="2.7" fill="#adddfc"/>
<rect x="405.0" y="358.0" width="12.7" height="2.7" fill="#9fd6fc"/>
<rect x="417.5" y="358.0" width="12.7" height="2.7" fill="#8fcefb"/>
<rect x="430.0" y="358.0" width="10.2" height="2.7" fill="#9fd6fc"/>
<rect x="440.0" y="358.0" width="7.7" height="2.7" fill="#adddfc"/>
<rect x="447.5" y="358.0" width="5.2" height="2.7" fill="#bbe3fd"/>
<rect x="452.5" y="358.0" width="5.2" height="2.7" fill="#c9e9fd"/>
<rect x="457.5" y="358.0" width="5.2" height="2.7" fill="#d6eefe"/>
<rect x="462.5" y="358.0" width="5.2" height="2.7" fill="#e4f4fe"/>
<rect x="467.5" y="358.0" width="5.2" height="2.7" fill="#f1f9ff"/>
<rect x="477.5" y="358.0" width="7.7" height="2.7" fill="#fffbee"/>
<rect x="485.0" y="358.0" width="5.2" height="2.7" fill="#fff7dd"/>
<rect x="490.0" y="358.0" width="7.7" height="2.7" fill="#fff3cd"/>
<rect x="497.5" y="358.0" width="7.7" height="2.7" fill="#feefbc"/>
<rect x="505.0" y="358.0" width="7.7" height="2.7" fill="#feebab"/>
<rect x="512.5" y="358.0" width="5.2" height="2.7" fill="#fee79a"/>
<rect x="517.5" y="358.0" width="7.7" height="2.7" fill="#fee18a"/>
<rect x="525.0" y="358.0" width="5.2" height="2.7" fill="#fddb7a"/>
<rect x="530.0" y="358.0" width="5.2" height="2.7" fill="#fcd46a"/>
<rect x="535.0" y="358.0" width="7.7" height="2.7" fill="#fcce5a"/>
<rect x="542.5" y="358.0" width="37.7" height="2.7" fill="#fbc84a"/>
<rect x="580.0" y="358.0" width="10.2" height="2.7" fill="#fcce5a"/>
<rect x="590.0" y="358.0" width="5.2" height="2.7" fill="#fcd46a"/>
<rect x="595.0" y="358.0" width="5.2" height="2.7" fill="#fddb7a"/>
<rect x="600.0" y="358.0" width="5.2" height="2.7" fill="#fee18a"/>
<rect x="605.0" y="358.0" width="2.7" height="2.7" fill="#fee79a"/>
<rect x="607.5" y="358.0" width="5.2" height="2.7" fill="#feebab"/>
<rect x="612.5" y="358.0" width="2.7" height="2.7" fill="#feefbc"/>
<rect x="615.0" y="358.0" width="2.7" height="2.7" fill="#fff3cd"/>
<rect x="617.5" y="358.0" width="2.7" height="2.7" fill="#fff7dd"/>
<rect x="620.0" y="358.0" width="5.2" height="2.7" fill="#fffbee"/>
<rect x="325.0" y="360.5" width="17.7" height="2.7" fill="#f1f9ff"/>
<rect x="342.5" y="360.5" width="12.7" height="2.7" fill="#e4f4fe"/>
<rect x="355.0" y="360.5" width="12.7" height="2.7" fill="#d6eefe"/>
<rect x="367.5" y="360.5" width="10.2" height="2.7" fill="#c9e9fd"/>
<rect x="377.5" y="360.5" width="10.2" height="2.7" fill="#bbe3fd"/>
<rect x="387.5" y="360.5" width="10.2" height="2.7" fill="#adddfc"/>
<rect x="397.5" y="360.5" width="7.7" height="2.7" fill="#9fd6fc"/>
<rect x="405.0" y="360.5" width="10.2" height="2.7" fill="#8fcefb"/>
<rect x="415.0" y="360.5" width="20.2" height="2.7" fill="#80c6fb"/>
<rect x="435.0" y="360.5" width="7.7" height="2.7" fill="#8fcefb"/>
<rect x="442.5" y="360.5" width="7.7" height="2.7" fill="#9fd6fc"/>
<rect x="450.0" y="360.5" width="5.2" height="2.7" fill="#adddfc"/>
<rect x="455.0" y="360.5" width="2.7" height="2.7" fill="#bbe3fd"/>
<rect x="457.5" y="360.5" width="5.2" height="2.7" fill="#c9e9fd"/>
<rect x="462.5" y="360.5" width="5.2" height="2.7" fill="#d6eefe"/>
<rect x="467.5" y="360.5" width="5.2" height="2.7" fill="#e4f4fe"/>
<rect x="472.5" y="360.5" width="5.2" height="2.7" fill="#f1f9ff"/>
<rect x="482.5" y="360.5" width="5.2" height="2.7" fill="#fffbee"/>
<rect x="487.5" y="360.5" width="5.2" height="2.7" fill="#fff7dd"/>
<rect x="492.5" y="360.5" width="7.7" height="2.7" fill="#fff3cd"/>
<rect x="500.0" y="360.5" width="5.2" height="2.7" fill="#feefbc"/>
<rect x="505.0" y="360.5" width="7.7" height="2.7" fill="#feebab"/>
<rect x="512.5" y="360.5" width="5.2" height="2.7" fill="#fee79a"/>
<rect x="517.5" y="360.5" width="5.2" height="2.7" fill="#fee18a"/>
<rect x="522.5" y="360.5" width="5.2" height="2.7" fill="#fddb7a"/>
<rect x="527.5" y="360.5" width="5.2" height="2.7" fill="#fcd46a"/>
<rect x="532.5" y="360.5" width="7.7" height="2.7" fill="#fcce5a"/>
<rect x="540.0" y="360.5" width="45.2" height="2.7" fill="#fbc84a"/>
<rect x="585.0" y="360.5" width="7.7" height="2.7" fill="#fcce5a"/>
<rect x="592.5" y="360.5" width="5.2" height="2.7" fill="#fcd46a"/>
<rect x="597.5" y="360.5" width="2.7" height="2.7" fill="#fddb7a"/>
<rect x="600.0" y="360.5" width="5.2" height="2.7" fill="#fee18a"/>
<rect x="605.0" y="360.5" width="2.7" height="2.7" fill="#fee79a"/>
<rect x="607.5" y="360.5" width="5.2" height="2.7" fill="#feebab"/>
<rect x="612.5" y="360.5" width="2.7" height="2.7" fill="#feefbc"/>
<rect x="615.0" y="360.5" width="2.7" height="2.7" fill="#fff3cd"/>
<rect x="617.5" y="360.5" width="2.7" height="2.7" fill="#fff7dd"/>
<rect x="620.0" y="360.5" width="2.7" height="2.7" fill="#fffbee"/>
<rect x="627.5" y="360.5" width="5.2" height="2.7" fill="#f1f9ff"/>
<rect x="325.0" y="363.0" width="15.2" height="2.7" fill="#f1f9ff"/>
<rect x="340.0" y="363.0" width="12.7" height="2.7" fill="#e4f4fe"/>
<rect x="352.5" y="363.0" width="12.7" height="2.7" fill="#d6eefe"/>
<rect x="365.0" y="363.0" width="10.2" height="2.7" fill="#c9e9fd"/>
<rect x="375.0" y="363.0" width="10.2" height="2.7" fill="#bbe3fd"/>
<rect x="385.0" y="363.0" width="7.7" height="2.7" fill="#adddfc"/>
<rect x="392.5" y="363.0" width="7.7" height="2.7" fill="#9fd6fc"/>
<rect x="400.0" y="363.0" width="7.7" height="2.7" fill="#8fcefb"/>
<rect x="407.5" y="363.0" width="7.7" height="2.7" fill="#80c6fb"/>
<rect x="415.0" y="363.0" width="22.7" height="2.7" fill="#71befb"/>
<rect x="437.5" y="363.0" width="7.7" height="2.7" fill="#80c6fb"/>
<rect x="445.0" y="363.0" width="5.2" height="2.7" fill="#8fcefb"/>
<rect x="450.0" y="363.0" width="5.2" height="2.7" fill="#9fd6fc"/>
<rect x="455.0" y="363.0" width="2.7" height="2.7" fill="#adddfc"/>
<rect x="457.5" y="363.0" width="5.2" height="2.7" fill="#bbe3fd"/>
<rect x="462.5" y="363.0" width="5.2" height="2.7" fill="#c9e9fd"/>
<rect x="467.5" y="363.0" width="5.2" height="2.7" fill="#d6eefe"/>
<rect x="472.5" y="363.0" width="5.2" height="2.7" fill="#e4f4fe"/>
<rect x="477.5" y="363.0" width="2.7" height="2.7" fill="#f1f9ff"/>
<rect x="485.0" y="363.0" width="7.7" height="2.7" fill="#fffbee"/>
<rect x="492.5" y="363.0" width="5.2" height="2.7" fill="#fff7dd"/>
<rect x="497.5" y="363.0" width="5.2" height="2.7" fill="#fff3cd"/>
<rect x="502.5" y="363.0" width="5.2" height="2.7" fill="#feefbc"/>
<rect x="507.5" y="363.0" width="5.2" height="2.7" fill="#feebab"/>
<rect x="512.5" y="363.0" width="5.2" height="2.7" fill="#fee79a"/>
<rect x="517.5" y="363.0" width="5.2" height="2.7" fill="#fee18a"/>
<rect x="522.5" y="363.0" width="5.2" height="2.7" fill="#fddb7a"/>
<rect x="527.5" y="363.0" width="5.2" height="2.7" fill="#fcd46a"/>
<rect x="532.5" y="363.0" width="5.2" height="2.7" fill="#fcce5a"/>
<rect x="537.5" y="363.0" width="7.7" height="2.7" fill="#fbc84a"/>
<rect x="545.0" y="363.0" width="35.2" height="2.7" fill="#fac13a"/>
<rect x="580.0" y="363.0" width="10.2" height="2.7" fill="#fbc84a"/>
<rect x="590.0" y="363.0" width="5.2" height="2.7" fill="#fcce5a"/>
<rect x="595.0" y="363.0" width="2.7" height="2.7" fill="#fcd46a"/>
<rect x="597.5" y="363.0" width="5.2" height="2.7" fill="#fddb7a"/>
<rect x="602.5" y="363.0" width="2.7" height="2.7" fill="#fee18a"/>
<rect x="605.0" y="363.0" width="5.2" height="2.7" fill="#fee79a"/>
<rect x="610.0" y="363.0" width="2.7" height="2.7" fill="#feebab"/>
<rect x="612.5" y="363.0" width="2.7" height="2.7" fill="#feefbc"/>
<rect x="615.0" y="363.0" width="2.7" height="2.7" fill="#fff3cd"/>
<rect x="617.5" y="363.0" width="2.7" height="2.7" fill="#fff7dd"/>
<rect x="620.0" y="363.0" width="2.7" height="2.7" fill="#fffbee"/>
<rect x="627.5" y="363.0" width="5.2" height="2.7" fill="#f1f9ff"/>
<rect x="325.0" y="365.5" width="15.2" height="2.7" fill="#f1f9ff"/>
<rect x="340.0" y="365.5" width="12.7" height="2.7" fill="#e4f4fe"/>
<rect x="352.5" y="365.5" width="10.2" height="2.7" fill="#d6eefe"/>
<rect x="362.5" y="365.5" width="10.2" height="2.7" fill="#c9e9fd"/>
<rect x="372.5" y="365.5" width="10.2" height="2.7" fill="#bbe3fd"/>
<rect x="382.5" y="365.5" width="7.7" height="2.7" fill="#adddfc"/>
<rect x="390.0" y="365.5" width="7.7" height="2.7" fill="#9fd6fc"/>
<rect x="397.5" y="365.5" width="5.2" height="2.7" fill="#8fcefb"/>
<rect x="402.5" y="365.5" width="7.7" height="2.7" fill="#80c6fb"/>
<rect x="410.0" y="365.5" width="12.7" height="2.7" fill="#71befb"/>
<rect x="422.5" y="365.5" width="10.2" height="2.7" fill="#62b6fa"/>
<rect x="432.5" y="365.5" width="10.2" height="2.7" fill="#71befb"/>
<rect x="442.5" y="365.5" width="5.2" height="2.7" fill="#80c6fb"/>
<rect x="447.5" y="365.5" width="5.2" height="2.7" fill="#8fcefb"/>
<rect x="452.5" y="365.5" width="5.2" height="2.7" fill="#9fd6fc"/>
<rect x="457.5" y="365.5" width="5.2" height="2.7" fill="#adddfc"/>
<rect x="462.5" y="365.5" width="5.2" height="2.7" fill="#bbe3fd"/>
<rect x="467.5" y="365.5" width="5.2" height="2.7" fill="#c9e9fd"/>
<rect x="472.5" y="365.5" width="5.2" height="2.7" fill="#d6eefe"/>
<rect x="477.5" y="365.5" width="2.7" height="2.7" fill="#e4f4fe"/>
<rect x="480.0" y="365.5" width="5.2" height="2.7" fill="#f1f9ff"/>
<rect x="490.0" y="365.5" width="5.2" height="2.7" fill="#fffbee"/>
<rect x="495.0" y="365.5" width="5.2" height="2.7" fill="#fff7dd"/>
<rect x="500.0" y="365.5" width="5.2" height="2.7" fill="#fff3cd"/>
<rect x="505.0" y="365.5" width="5.2" height="2.7" fill="#feefbc"/>
<rect x="510.0" y="365.5" width="5.2" height="2.7" fill="#feebab"/>
<rect x="515.0" y="365.5" width="5.2" height="2.7" fill="#fee79a"/>
<rect x="520.0" y="365.5" width="2.7" height="2.7" fill="#fee18a"/>
<rect x="522.5" y="365.5" width="5.2" height="2.7" fill="#fddb7a"/>
<rect x="527.5" y="365.5" width="5.2" height="2.7" fill="#fcd46a"/>
<rect x="532.5" y="365.5" width="2.7" height="2.7" fill="#fcce5a"/>
<rect x="535.0" y="365.5" width="7.7" height="2.7" fill="#fbc84a"/>
<rect x="542.5" y="365.5" width="40.2" height="2.7" fill="#fac13a"/>
<rect x="582.5" y="365.5" width="7.7" height="2.7" fill="#fbc84a"/>
<rect x="590.0" y="365.5" width="5.2" height="2.7" fill="#fcce5a"/>
<rect x="595.0" y="365.5" width="2.7" height="2.7" fill="#fcd46a"/>
<rect x="597.5" y="365.5" width="5.2" height="2.7" fill="#fddb7a"/>
<rect x="602.5" y="365.5" width="2.7" height="2.7" fill="#fee18a"/>
<rect x="605.0" y="365.5" width="5.2" height="2.7" fill="#fee79a"/>
<rect x="610.0" y="365.5" width="2.7" height="2.7" fill="#feebab"/>
<rect x="612.5" y="365.5" width="2.7" height="2.7" fill="#feefbc"/>
<rect x="615.0" y="365.5" width="2.7" height="2.7" fill="#fff3cd"/>
<rect x="617.5" y="365.5" width="2.7" height="2.7" fill="#fff7dd"/>
<rect x="620.0" y="365.5" width="2.7" height="2.7" fill="#fffbee"/>
<rect x="625.0" y="365.5" width="7.7" height="2.7" fill="#f1f9ff"/>
<rect x="325.0" y="368.0" width="15.2" height="2.7" fill="#f1f9ff"/>
<rect x="340.0" y="368.0" width="10.2" height="2.7" fill="#e4f4fe"/>
<rect x="350.0" y="368.0" width="10.2" height="2.7" fill="#d6eefe"/>
<rect x="360.0" y="368.0" width="10.2" height="2.7" fill="#c9e9fd"/>
<rect x="370.0" y="368.0" width="10.2" height="2.7" fill="#bbe3fd"/>
<rect x="380.0" y="368.0" width="7.7" height="2.7" fill="#adddfc"/>
<rect x="387.5" y="368.0" width="7.7" height="2.7" fill="#9fd6fc"/>
<rect x="395.0" y="368.0" width="7.7" height="2.7" fill="#8fcefb"/>
<rect x="402.5" y="368.0" width="7.7" height="2.7" fill="#80c6fb"/>
<rect x="410.0" y="368.0" width="10.2" height="2.7" fill="#71befb"/>
<rect x="420.0" y="368.0" width="15.2" height="2.7" fill="#62b6fa"/>
<rect x="435.0" y="368.0" width="10.2" height="2.7" fill="#71befb"/>
<rect x="445.0" y="368.0" width="5.2" height="2.7" fill="#80c6fb"/>
<rect x="450.0" y="368.0" width="7.7" height="2.7" fill="#8fcefb"/>
<rect x="457.5" y="368.0" width="5.2" height="2.7" fill="#9fd6fc"/>
<rect x="462.5" y="368.0" width="5.2" height="2.7" fill="#adddfc"/>
<rect x="467.5" y="368.0" width="5.2" height="2.7" fill="#bbe3fd"/>
<rect x="472.5" y="368.0" width="5.2" height="2.7" fill="#c9e9fd"/>
<rect x="477.5" y="368.0" width="5.2" height="2.7" fill="#d6eefe"/>
<rect x="482.5" y="368.0" width="5.2" height="2.7" fill="#e4f4fe"/>
<rect x="487.5" y="368.0" width="5.2" height="2.7" fill="#f1f9ff"/>
<rect x="497.5" y="368.0" width="2.7" height="2.7" fill="#fffbee"/>
<rect x="500.0" y="368.0" width="5.2" height="2.7" fill="#fff7dd"/>
<rect x="505.0" y="368.0" width="5.2" height="2.7" fill="#fff3cd"/>
<rect x="510.0" y="368.0" width="2.7" height="2.7" fill="#feefbc"/>
<rect x="512.5" y="368.0" width="5.2" height="2.7" fill="#feebab"/>
<rect x="517.5" y="368.0" width="2.7" height="2.7" fill="#fee79a"/>
<rect x="520.0" y="368.0" width="5.2" height="2.7" fill="#fee18a"/>
<rect x="525.0" y="368.0" width="2.7" height="2.7" fill="#fddb7a"/>
<rect x="527.5" y="368.0" width="5.2" height="2.7" fill="#fcd46a"/>
<rect x="532.5" y="368.0" width="2.7" height="2.7" fill="#fcce5a"/>
<rect x="535.0" y="368.0" width="5.2" height="2.7" fill="#fbc84a"/>
<rect x="540.0" y="368.0" width="10.2" height="2.7" fill="#fac13a"/>
<rect x="550.0" y="368.0" width="7.7" height="2.7" fill="#f9b831"/>
<rect x="557.5" y="368.0" width="27.7" height="2.7" fill="#fac13a"/>
<rect x="585.0" y="368.0" width="5.2" height="2.7" fill="#fbc84a"/>
<rect x="590.0" y="368.0" width="5.2" height="2.7" fill="#fcce5a"/>
<rect x="595.0" y="368.0" width="2.7" height="2.7" fill="#fcd46a"/>
<rect x="597.5" y="368.0" width="5.2" height="2.7" fill="#fddb7a"/>
<rect x="602.5" y="368.0" width="2.7" height="2.7" fill="#fee18a"/>
<rect x="605.0" y="368.0" width="2.7" height="2.7" fill="#fee79a"/>
<rect x="607.5" y="368.0" width="5.2" height="2.7" fill="#feebab"/>
<rect x="612.5" y="368.0" width="2.7" height="2.7" fill="#feefbc"/>
<rect x="615.0" y="368.0" width="2.7" height="2.7" fill="#fff3cd"/>
<rect x="617.5" y="368.0" width="2.7" height="2.7" fill="#fff7dd"/>
<rect x="620.0" y="368.0" width="2.7" height="2.7" fill="#fffbee"/>
<rect x="625.0" y="368.0" width="7.7" height="2.7" fill="#f1f9ff"/>
<rect x="325.0" y="370.5" width="12.7" height="2.7" fill="#f1f9ff"/>
<rect x="337.5" y="370.5" width="12.7" height="2.7" fill="#e4f4fe"/>
<rect x="350.0" y="370.5" width="10.2" height="2.7" fill="#d6eefe"/>
<rect x="360.0" y="370.5" width="10.2" height="2.7" fill="#c9e9fd"/>
<rect x="370.0" y="370.5" width="10.2" height="2.7" fill="#bbe3fd"/>
<rect x="380.0" y="370.5" width="7.7" height="2.7" fill="#adddfc"/>
<rect x="387.5" y="370.5" width="7.7" height="2.7" fill="#9fd6fc"/>
<rect x="395.0" y="370.5" width="10.2" height="2.7" fill="#8fcefb"/>
<rect x="405.0" y="370.5" width="7.7" height="2.7" fill="#80c6fb"/>
<rect x="412.5" y="370.5" width="32.7" height="2.7" fill="#71befb"/>
<rect x="445.0" y="370.5" width="7.7" height="2.7" fill="#80c6fb"/>
<rect x="452.5" y="370.5" width="7.7" height="2.7" fill="#8fcefb"/>
<rect x="460.0" y="370.5" width="5.2" height="2.7" fill="#9fd6fc"/>
<rect x="465.0" y="370.5" width="7.7" height="2.7" fill="#adddfc"/>
<rect x="472.5" y="370.5" width="5.2" height="2.7" fill="#bbe3fd"/>
<rect x="477.5" y="370.5" width="5.2" height="2.7" fill="#c9e9fd"/>
<rect x="482.5" y="370.5" width="5.2" height="2.7" fill="#d6eefe"/>
<rect x="487.5" y="370.5" width="5.2" height="2.7" fill="#e4f4fe"/>
<rect x="492.5" y="370.5" width="5.2" height="2.7" fill="#f1f9ff"/>
<rect x="500.0" y="370.5" width="5.2" height="2.7" fill="#fffbee"/>
<rect x="505.0" y="370.5" width="2.7" height="2.7" fill="#fff7dd"/>
<rect x="507.5" y="370.5" width="5.2" height="2.7" fill="#fff3cd"/>
<rect x="512.5" y="370.5" width="2.7" height="2.7" fill="#feefbc"/>
<rect x="515.0" y="370.5" width="5.2" height="2.7" fill="#feebab"/>
<rect x="520.0" y="370.5" width="2.7" height="2.7" fill="#fee79a"/>
<rect x="522.5" y="370.5" width="2.7" height="2.7" fill="#fee18a"/>
<rect x="525.0" y="370.5" width="2.7" height="2.7" fill="#fddb7a"/>
<rect x="527.5" y="370.5" width="5.2" height="2.7" fill="#fcd46a"/>
<rect x="532.5" y="370.5" width="2.7" height="2.7" fill="#fcce5a"/>
<rect x="535.0" y="370.5" width="5.2" height="2.7" fill="#fbc84a"/>
<rect x="540.0" y="370.5" width="7.7" height="2.7" fill="#fac13a"/>
<rect x="547.5" y="370.5" width="20.2" height="2.7" fill="#f9b831"/>
<rect x="567.5" y="370.5" width="17.7" height="2.7" fill="#fac13a"/>
<rect x="585.0" y="370.5" width="5.2" height="2.7" fill="#fbc84a"/>
<rect x="590.0" y="370.5" width="5.2" height="2.7" fill="#fcce5a"/>
<rect x="595.0" y="370.5" width="2.7" height="2.7" fill="#fcd46a"/>
<rect x="597.5" y="370.5" width="2.7" height="2.7" fill="#fddb7a"/>
<rect x="600.0" y="370.5" width="5.2" height="2.7" fill="#fee18a"/>
<rect x="605.0" y="370.5" width="2.7" height="2.7" fill="#fee79a"/>
<rect x="607.5" y="370.5" width="2.7" height="2.7" fill="#feebab"/>
<rect x="610.0" y="370.5" width="2.7" height="2.7" fill="#feefbc"/>
<rect x="612.5" y="370.5" width="2.7" height="2.7" fill="#fff3cd"/>
<rect x="615.0" y="370.5" width="2.7" height="2.7" fill="#fff7dd"/>
<rect x="617.5" y="370.5" width="2.7" height="2.7" fill="#fffbee"/>
<rect x="622.5" y="370.5" width="5.2" height="2.7" fill="#f1f9ff"/>
<rect x="627.5" y="370.5" width="2.7" height="2.7" fill="#e4f4fe"/>
<rect x="630.0" y="370.5" width="2.7" height="2.7" fill="#f1f9ff"/>
<rect x="325.0" y="373.0" width="12.7" height="2.7" fill="#f1f9ff"/>
<rect x="337.5" y="373.0" width="12.7" height="2.7" fill="#e4f4fe"/>
<rect x="350.0" y="373.0" width="10.2" height="2.7" fill="#d6eefe"/>
<rect x="360.0" y="373.0" width="10.2" height="2.7" fill="#c9e9fd"/>
<rect x="370.0" y="373.0" width="7.7" height="2.7" fill="#bbe3fd"/>
<rect x="377.5" y="373.0" width="10.2" height="2.7" fill="#adddfc"/>
<rect x="387.5" y="373.0" width="10.2" height="2.7" fill="#9fd6fc"/>
<rect x="397.5" y="373.0" width="10.2" height="2.7" fill="#8fcefb"/>
<rect x="407.5" y="373.0" width="20.2" height="2.7" fill="#80c6fb"/>
<rect x="427.5" y="373.0" width="5.2" height="2.7" fill="#71befb"/>
<rect x="432.5" y="373.0" width="17.7" height="2.7" fill="#80c6fb"/>
<rect x="450.0" y="373.0" width="10.2" height="2.7" fill="#8fcefb"/>
<rect x="460.0" y="373.0" width="10.2" height="2.7" fill="#9fd6fc"/>
<rect x="470.0" y="373.0" width="7.7" height="2.7" fill="#adddfc"/>
<rect x="477.5" y="373.0" width="5.2" height="2.7" fill="#bbe3fd"/>
<rect x="482.5" y="373.0" width="5.2" height="2.7" fill="#c9e9fd"/>
<rect x="487.5" y="373.0" width="5.2" height="2.7" fill="#d6eefe"/>
<rect x="492.5" y="373.0" width="5.2" height="2.7" fill="#e4f4fe"/>
<rect x="497.5" y="373.0" width="2.7" height="2.7" fill="#f1f9ff"/>
<rect x="505.0" y="373.0" width="2.7" height="2.7" fill="#fffbee"/>
<rect x="507.5" y="373.0" width="2.7" height="2.7" fill="#fff7dd"/>
<rect x="510.0" y="373.0" width="5.2" height="2.7" fill="#fff3cd"/>
<rect x="515.0" y="373.0" width="2.7" height="2.7" fill="#feefbc"/>
<rect x="517.5" y="373.0" width="2.7" height="2.7" fill="#feebab"/>
<rect x="520.0" y="373.0" width="2.7" height="2.7" fill="#fee79a"/>
<rect x="522.5" y="373.0" width="2.7" height="2.7" fill="#fee18a"/>
<rect x="525.0" y="373.0" width="5.2" height="2.7" fill="#fddb7a"/>
<rect x="530.0" y="373.0" width="2.7" height="2.7" fill="#fcd46a"/>
<rect x="532.5" y="373.0" width="2.7" height="2.7" fill="#fcce5a"/>
<rect x="535.0" y="373.0" width="5.2" height="2.7" fill="#fbc84a"/>
<rect x="540.0" y="373.0" width="5.2" height="2.7" fill="#fac13a"/>
<rect x="545.0" y="373.0" width="25.2" height="2.7" fill="#f9b831"/>
<rect x="570.0" y="373.0" width="12.7" height="2.7" fill="#fac13a"/>
<rect x="582.5" y="373.0" width="5.2" height="2.7" fill="#fbc84a"/>
<rect x="587.5" y="373.0" width="5.2" height="2.7" fill="#fcce5a"/>
<rect x="592.5" y="373.0" width="5.2" height="2.7" fill="#fcd46a"/>
<rect x="597.5" y="373.0" width="2.7" height="2.7" fill="#fddb7a"/>
<rect x="600.0" y="373.0" width="2.7" height="2.7" fill="#fee18a"/>
<rect x="602.5" y="373.0" width="5.2" height="2.7" fill="#fee79a"/>
<rect x="607.5" y="373.0" width="2.7" height="2.7" fill="#feebab"/>
<rect x="610.0" y="373.0" width="2.7" height="2.7" fill="#feefbc"/>
<rect x="612.5" y="373.0" width="2.7" height="2.7" fill="#fff3cd"/>
<rect x="615.0" y="373.0" width="2.7" height="2.7" fill="#fff7dd"/>
<rect x="617.5" y="373.0" width="2.7" height="2.7" fill="#fffbee"/>
<rect x="622.5" y="373.0" width="2.7" height="2.7" fill="#f1f9ff"/>
<rect x="625.0" y="373.0" width="7.7" height="2.7" fill="#e4f4fe"/>
<rect x="295.0" y="375.5" width="5.2" height="2.7" fill="#fffbee"/>
<rect x="325.0" y="375.5" width="12.7" height="2.7" fill="#f1f9ff"/>
<rect x="337.5" y="375.5" width="12.7" height="2.7" fill="#e4f4fe"/>
<rect x="350.0" y="375.5" width="7.7" height="2.7" fill="#d6eefe"/>
<rect x="357.5" y="375.5" width="10.2" height="2.7" fill="#c9e9fd"/>
<rect x="367.5" y="375.5" width="12.7" height="2.7" fill="#bbe3fd"/>
<rect x="380.0" y="375.5" width="10.2" height="2.7" fill="#adddfc"/>
<rect x="390.0" y="375.5" width="12.7" height="2.7" fill="#9fd6fc"/>
<rect x="402.5" y="375.5" width="52.7" height="2.7" fill="#8fcefb"/>
<rect x="455.0" y="375.5" width="12.7" height="2.7" fill="#9fd6fc"/>
<rect x="467.5" y="375.5" width="10.2" height="2.7" fill="#adddfc"/>
<rect x="477.5" y="375.5" width="7.7" height="2.7" fill="#bbe3fd"/>
<rect x="485.0" y="375.5" width="5.2" height="2.7" fill="#c9e9fd"/>
<rect x="490.0" y="375.5" width="5.2" height="2.7" fill="#d6eefe"/>
<rect x="495.0" y="375.5" width="2.7" height="2.7" fill="#e4f4fe"/>
<rect x="497.5" y="375.5" width="5.2" height="2.7" fill="#f1f9ff"/>
<rect x="505.0" y="375.5" width="2.7" height="2.7" fill="#fffbee"/>
<rect x="507.5" y="375.5" width="5.2" height="2.7" fill="#fff7dd"/>
<rect x="512.5" y="375.5" width="2.7" height="2.7" fill="#fff3cd"/>
<rect x="515.0" y="375.5" width="2.7" height="2.7" fill="#feefbc"/>
<rect x="517.5" y="375.5" width="2.7" height="2.7" fill="#feebab"/>
<rect x="520.0" y="375.5" width="2.7" height="2.7" fill="#fee79a"/>
<rect x="522.5" y="375.5" width="2.7" height="2.7" fill="#fee18a"/>
<rect x="525.0" y="375.5" width="5.2" height="2.7" fill="#fddb7a"/>
<rect x="530.0" y="375.5" width="2.7" height="2.7" fill="#fcd46a"/>
<rect x="532.5" y="375.5" width="2.7" height="2.7" fill="#fcce5a"/>
<rect x="535.0" y="375.5" width="5.2" height="2.7" fill="#fbc84a"/>
<rect x="540.0" y="375.5" width="5.2" height="2.7" fill="#fac13a"/>
<rect x="545.0" y="375.5" width="25.2" height="2.7" fill="#f9b831"/>
<rect x="570.0" y="375.5" width="10.2" height="2.7" fill="#fac13a"/>
<rect x="580.0" y="375.5" width="7.7" height="2.7" fill="#fbc84a"/>
<rect x="587.5" y="375.5" width="2.7" height="2.7" fill="#fcce5a"/>
<rect x="590.0" y="375.5" width="5.2" height="2.7" fill="#fcd46a"/>
<rect x="595.0" y="375.5" width="2.7" height="2.7" fill="#fddb7a"/>
<rect x="597.5" y="375.5" width="2.7" height="2.7" fill="#fee18a"/>
<rect x="600.0" y="375.5" width="5.2" height="2.7" fill="#fee79a"/>
<rect x="605.0" y="375.5" width="2.7" height="2.7" fill="#feebab"/>
<rect x="607.5" y="375.5" width="2.7" height="2.7" fill="#feefbc"/>
<rect x="610.0" y="375.5" width="5.2" height="2.7" fill="#fff3cd"/>
<rect x="615.0" y="375.5" width="2.7" height="2.7" fill="#fff7dd"/>
<rect x="617.5" y="375.5" width="2.7" height="2.7" fill="#fffbee"/>
<rect x="622.5" y="375.5" width="2.7" height="2.7" fill="#f1f9ff"/>
<rect x="625.0" y="375.5" width="7.7" height="2.7" fill="#e4f4fe"/>
<rect x="295.0" y="378.0" width="12.7" height="2.7" fill="#fffbee"/>
<rect x="327.5" y="378.0" width="10.2" height="2.7" fill="#f1f9ff"/>
<rect x="337.5" y="378.0" width="12.7" height="2.7" fill="#e4f4fe"/>
<rect x="350.0" y="378.0" width="7.7" height="2.7" fill="#d6eefe"/>
<rect x="357.5" y="378.0" width="10.2" height="2.7" fill="#c9e9fd"/>
<rect x="367.5" y="378.0" width="12.7" height="2.7" fill="#bbe3fd"/>
<rect x="380.0" y="378.0" width="15.2" height="2.7" fill="#adddfc"/>
<rect x="395.0" y="378.0" width="57.7" height="2.7" fill="#9fd6fc"/>
<rect x="452.5" y="378.0" width="20.2" height="2.7" fill="#adddfc"/>
<rect x="472.5" y="378.0" width="7.7" height="2.7" fill="#bbe3fd"/>
<rect x="480.0" y="378.0" width="7.7" height="2.7" fill="#c9e9fd"/>
<rect x="487.5" y="378.0" width="5.2" height="2.7" fill="#d6eefe"/>
<rect x="492.5" y="378.0" width="2.7" height="2.7" fill="#e4f4fe"/>
<rect x="495.0" y="378.0" width="5.2" height="2.7" fill="#f1f9ff"/>
<rect x="502.5" y="378.0" width="5.2" height="2.7" fill="#fffbee"/>
<rect x="507.5" y="378.0" width="2.7" height="2.7" fill="#fff7dd"/>
<rect x="510.0" y="378.0" width="2.7" height="2.7" fill="#fff3cd"/>
<rect x="512.5" y="378.0" width="5.2" height="2.7" fill="#feefbc"/>
<rect x="517.5" y="378.0" width="2.7" height="2.7" fill="#feebab"/>
<rect x="520.0" y="378.0" width="2.7" height="2.7" fill="#fee79a"/>
<rect x="522.5" y="378.0" width="2.7" height="2.7" fill="#fee18a"/>
<rect x="525.0" y="378.0" width="5.2" height="2.7" fill="#fddb7a"/>
<rect x="530.0" y="378.0" width="2.7" height="2.7" fill="#fcd46a"/>
<rect x="532.5" y="378.0" width="2.7" height="2.7" fill="#fcce5a"/>
<rect x="535.0" y="378.0" width="5.2" height="2.7" fill="#fbc84a"/>
<rect x="540.0" y="378.0" width="5.2" height="2.7" fill="#fac13a"/>
<rect x="545.0" y="378.0" width="22.7" height="2.7" fill="#f9b831"/>
<rect x="567.5" y="378.0" width="10.2" height="2.7" fill="#fac13a"/>
<rect x="577.5" y="378.0" width="5.2" height="2.7" fill="#fbc84a"/>
<rect x="582.5" y="378.0" width="5.2" height="2.7" fill="#fcce5a"/>
<rect x="587.5" y="378.0" width="2.7" height="2.7" fill="#fcd46a"/>
<rect x="590.0" y="378.0" width="5.2" height="2.7" fill="#fddb7a"/>
<rect x="595.0" y="378.0" width="2.7" height="2.7" fill="#fee18a"/>
<rect x="597.5" y="378.0" width="2.7" height="2.7" fill="#fee79a"/>
<rect x="600.0" y="378.0" width="5.2" height="2.7" fill="#feebab"/>
<rect x="605.0" y="378.0" width="2.7" height="2.7" fill="#feefbc"/>
<rect x="607.5" y="378.0" width="5.2" height="2.7" fill="#fff3cd"/>
<rect x="612.5" y="378.0" width="2.7" height="2.7" fill="#fff7dd"/>
<rect x="615.0" y="378.0" width="2.7" height="2.7" fill="#fffbee"/>
<rect x="620.0" y="378.0" width="2.7" height="2.7" fill="#f1f9ff"/>
<rect x="622.5" y="378.0" width="5.2" height="2.7" fill="#e4f4fe"/>
<rect x="627.5" y="378.0" width="2.7" height="2.7" fill="#d6eefe"/>
<rect x="630.0" y="378.0" width="2.7" height="2.7" fill="#e4f4fe"/>
<rect x="295.0" y="380.5" width="15.2" height="2.7" fill="#fffbee"/>
<rect x="327.5" y="380.5" width="12.7" height="2.7" fill="#f1f9ff"/>
<rect x="340.0" y="380.5" width="10.2" height="2.7" fill="#e4f4fe"/>
<rect x="350.0" y="380.5" width="10.2" height="2.7" fill="#d6eefe"/>
<rect x="360.0" y="380.5" width="7.7" height="2.7" fill="#c9e9fd"/>
<rect x="367.5" y="380.5" width="12.7" height="2.7" fill="#bbe3fd"/>
<rect x="380.0" y="380.5" width="65.2" height="2.7" fill="#adddfc"/>
<rect x="445.0" y="380.5" width="22.7" height="2.7" fill="#bbe3fd"/>
<rect x="467.5" y="380.5" width="12.7" height="2.7" fill="#c9e9fd"/>
<rect x="480.0" y="380.5" width="5.2" height="2.7" fill="#d6eefe"/>
<rect x="485.0" y="380.5" width="7.7" height="2.7" fill="#e4f4fe"/>
<rect x="492.5" y="380.5" width="2.7" height="2.7" fill="#f1f9ff"/>
<rect x="500.0" y="380.5" width="5.2" height="2.7" fill="#fffbee"/>
<rect x="505.0" y="380.5" width="2.7" height="2.7" fill="#fff7dd"/>
<rect x="507.5" y="380.5" width="5.2" height="2.7" fill="#fff3cd"/>
<rect x="512.5" y="380.5" width="2.7" height="2.7" fill="#feefbc"/>
<rect x="515.0" y="380.5" width="2.7" height="2.7" fill="#feebab"/>
<rect x="517.5" y="380.5" width="5.2" height="2.7" fill="#fee79a"/>
<rect x="522.5" y="380.5" width="2.7" height="2.7" fill="#fee18a"/>
<rect x="525.0" y="380.5" width="2.7" height="2.7" fill="#fddb7a"/>
<rect x="527.5" y="380.5" width="2.7" height="2.7" fill="#fcd46a"/>
<rect x="530.0" y="380.5" width="5.2" height="2.7" fill="#fcce5a"/>
<rect x="535.0" y="380.5" width="2.7" height="2.7" fill="#fbc84a"/>
<rect x="537.5" y="380.5" width="7.7" height="2.7" fill="#fac13a"/>
<rect x="545.0" y="380.5" width="20.2" height="2.7" fill="#f9b831"/>
<rect x="565.0" y="380.5" width="10.2" height="2.7" fill="#fac13a"/>
<rect x="575.0" y="380.5" width="5.2" height="2.7" fill="#fbc84a"/>
<rect x="580.0" y="380.5" width="5.2" height="2.7" fill="#fcce5a"/>
<rect x="585.0" y="380.5" width="2.7" height="2.7" fill="#fcd46a"/>
<rect x="587.5" y="380.5" width="2.7" height="2.7" fill="#fddb7a"/>
<rect x="590.0" y="380.5" width="5.2" height="2.7" fill="#fee18a"/>
<rect x="595.0" y="380.5" width="2.7" height="2.7" fill="#fee79a"/>
<rect x="597.5" y="380.5" width="2.7" height="2.7" fill="#feebab"/>
<rect x="600.0" y="380.5" width="5.2" height="2.7" fill="#feefbc"/>
<rect x="605.0" y="380.5" width="2.7" height="2.7" fill="#fff3cd"/>
<rect x="607.5" y="380.5" width="5.2" height="2.7" fill="#fff7dd"/>
<rect x="612.5" y="380.5" width="2.7" height="2.7" fill="#fffbee"/>
<rect x="617.5" y="380.5" width="2.7" height="2.7" fill="#f1f9ff"/>
<rect x="620.0" y="380.5" width="5.2" height="2.7" fill="#e4f4fe"/>
<rect x="625.0" y="380.5" width="7.7" height="2.7" fill="#d6eefe"/>
<rect x="295.0" y="383.0" width="20.2" height="2.7" fill="#fffbee"/>
<rect x="330.0" y="383.0" width="10.2" height="2.7" fill="#f1f9ff"/>
<rect x="340.0" y="383.0" width="10.2" height="2.7" fill="#e4f4fe"/>
<rect x="350.0" y="383.0" width="10.2" height="2.7" fill="#d6eefe"/>
<rect x="360.0" y="383.0" width="10.2" height="2.7" fill="#c9e9fd"/>
<rect x="370.0" y="383.0" width="12.7" height="2.7" fill="#bbe3fd"/>
<rect x="382.5" y="383.0" width="37.7" height="2.7" fill="#adddfc"/>
<rect x="420.0" y="383.0" width="20.2" height="2.7" fill="#bbe3fd"/>
<rect x="440.0" y="383.0" width="20.2" height="2.7" fill="#c9e9fd"/>
<rect x="460.0" y="383.0" width="15.2" height="2.7" fill="#d6eefe"/>
<rect x="475.0" y="383.0" width="7.7" height="2.7" fill="#e4f4fe"/>
<rect x="482.5" y="383.0" width="7.7" height="2.7" fill="#f1f9ff"/>
<rect x="495.0" y="383.0" width="5.2" height="2.7" fill="#fffbee"/>
<rect x="500.0" y="383.0" width="5.2" height="2.7" fill="#fff7dd"/>
<rect x="505.0" y="383.0" width="2.7" height="2.7" fill="#fff3cd"/>
<rect x="507.5" y="383.0" width="5.2" height="2.7" fill="#feefbc"/>
<rect x="512.5" y="383.0" width="2.7" height="2.7" fill="#feebab"/>
<rect x="515.0" y="383.0" width="5.2" height="2.7" fill="#fee79a"/>
<rect x="520.0" y="383.0" width="2.7" height="2.7" fill="#fee18a"/>
<rect x="522.5" y="383.0" width="5.2" height="2.7" fill="#fddb7a"/>
<rect x="527.5" y="383.0" width="2.7" height="2.7" fill="#fcd46a"/>
<rect x="530.0" y="383.0" width="5.2" height="2.7" fill="#fcce5a"/>
<rect x="535.0" y="383.0" width="2.7" height="2.7" fill="#fbc84a"/>
<rect x="537.5" y="383.0" width="7.7" height="2.7" fill="#fac13a"/>
<rect x="545.0" y="383.0" width="15.2" height="2.7" fill="#f9b831"/>
<rect x="560.0" y="383.0" width="10.2" height="2.7" fill="#fac13a"/>
<rect x="570.0" y="383.0" width="7.7" height="2.7" fill="#fbc84a"/>
<rect x="577.5" y="383.0" width="2.7" height="2.7" fill="#fcce5a"/>
<rect x="580.0" y="383.0" width="5.2" height="2.7" fill="#fcd46a"/>
<rect x="585.0" y="383.0" width="2.7" height="2.7" fill="#fddb7a"/>
<rect x="587.5" y="383.0" width="2.7" height="2.7" fill="#fee18a"/>
<rect x="590.0" y="383.0" width="2.7" height="2.7" fill="#fee79a"/>
<rect x="592.5" y="383.0" width="5.2" height="2.7" fill="#feebab"/>
<rect x="597.5" y="383.0" width="2.7" height="2.7" fill="#feefbc"/>
<rect x="600.0" y="383.0" width="2.7" height="2.7" fill="#fff3cd"/>
<rect x="602.5" y="383.0" width="5.2" height="2.7" fill="#fff7dd"/>
<rect x="607.5" y="383.0" width="5.2" height="2.7" fill="#fffbee"/>
<rect x="615.0" y="383.0" width="5.2" height="2.7" fill="#f1f9ff"/>
<rect x="620.0" y="383.0" width="2.7" height="2.7" fill="#e4f4fe"/>
<rect x="622.5" y="383.0" width="10.2" height="2.7" fill="#d6eefe"/>
<rect x="295.0" y="385.5" width="22.7" height="2.7" fill="#fffbee"/>
<rect x="330.0" y="385.5" width="12.7" height="2.7" fill="#f1f9ff"/>
<rect x="342.5" y="385.5" width="10.2" height="2.7" fill="#e4f4fe"/>
<rect x="352.5" y="385.5" width="7.7" height="2.7" fill="#d6eefe"/>
<rect x="360.0" y="385.5" width="10.2" height="2.7" fill="#c9e9fd"/>
<rect x="370.0" y="385.5" width="17.7" height="2.7" fill="#bbe3fd"/>
<rect x="387.5" y="385.5" width="17.7" height="2.7" fill="#adddfc"/>
<rect x="405.0" y="385.5" width="20.2" height="2.7" fill="#bbe3fd"/>
<rect x="425.0" y="385.5" width="17.7" height="2.7" fill="#c9e9fd"/>
<rect x="442.5" y="385.5" width="15.2" height="2.7" fill="#d6eefe"/>
<rect x="457.5" y="385.5" width="12.7" height="2.7" fill="#e4f4fe"/>
<rect x="470.0" y="385.5" width="10.2" height="2.7" fill="#f1f9ff"/>
<rect x="487.5" y="385.5" width="5.2" height="2.7" fill="#fffbee"/>
<rect x="492.5" y="385.5" width="7.7" height="2.7" fill="#fff7dd"/>
<rect x="500.0" y="385.5" width="5.2" height="2.7" fill="#fff3cd"/>
<rect x="505.0" y="385.5" width="5.2" height="2.7" fill="#feefbc"/>
<rect x="510.0" y="385.5" width="2.7" height="2.7" fill="#feebab"/>
<rect x="512.5" y="385.5" width="5.2" height="2.7" fill="#fee79a"/>
<rect x="517.5" y="385.5" width="5.2" height="2.7" fill="#fee18a"/>
<rect x="522.5" y="385.5" width="2.7" height="2.7" fill="#fddb7a"/>
<rect x="525.0" y="385.5" width="5.2" height="2.7" fill="#fcd46a"/>
<rect x="530.0" y="385.5" width="2.7" height="2.7" fill="#fcce5a"/>
<rect x="532.5" y="385.5" width="5.2" height="2.7" fill="#fbc84a"/>
<rect x="537.5" y="385.5" width="7.7" height="2.7" fill="#fac13a"/>
<rect x="545.0" y="385.5" width="12.7" height="2.7" fill="#f9b831"/>
<rect x="557.5" y="385.5" width="10.2" height="2.7" fill="#fac13a"/>
<rect x="567.5" y="385.5" width="5.2" height="2.7" fill="#fbc84a"/>
<rect x="572.5" y="385.5" width="5.2" height="2.7" fill="#fcce5a"/>
<rect x="577.5" y="385.5" width="5.2" height="2.7" fill="#fcd46a"/>
<rect x="582.5" y="385.5" width="2.7" height="2.7" fill="#fddb7a"/>
<rect x="585.0" y="385.5" width="2.7" height="2.7" fill="#fee18a"/>
<rect x="587.5" y="385.5" width="2.7" height="2.7" fill="#fee79a"/>
<rect x="590.0" y="385.5" width="2.7" height="2.7" fill="#feebab"/>
<rect x="592.5" y="385.5" width="2.7" height="2.7" fill="#feefbc"/>
<rect x="595.0" y="385.5" width="2.7" height="2.7" fill="#fff3cd"/>
<rect x="597.5" y="385.5" width="5.2" height="2.7" fill="#fff7dd"/>
<rect x="602.5" y="385.5" width="5.2" height="2.7" fill="#fffbee"/>
<rect x="612.5" y="385.5" width="5.2" height="2.7" fill="#f1f9ff"/>
<rect x="617.5" y="385.5" width="2.7" height="2.7" fill="#e4f4fe"/>
<rect x="620.0" y="385.5" width="12.7" height="2.7" fill="#d6eefe"/>
<rect x="295.0" y="388.0" width="25.2" height="2.7" fill="#fffbee"/>
<rect x="332.5" y="388.0" width="12.7" height="2.7" fill="#f1f9ff"/>
<rect x="345.0" y="388.0" width="10.2" height="2.7" fill="#e4f4fe"/>
<rect x="355.0" y="388.0" width="7.7" height="2.7" fill="#d6eefe"/>
<rect x="362.5" y="388.0" width="7.7" height="2.7" fill="#c9e9fd"/>
<rect x="370.0" y="388.0" width="47.7" height="2.7" fill="#bbe3fd"/>
<rect x="417.5" y="388.0" width="15.2" height="2.7" fill="#c9e9fd"/>
<rect x="432.5" y="388.0" width="12.7" height="2.7" fill="#d6eefe"/>
<rect x="445.0" y="388.0" width="12.7" height="2.7" fill="#e4f4fe"/>
<rect x="457.5" y="388.0" width="12.7" height="2.7" fill="#f1f9ff"/>
<rect x="477.5" y="388.0" width="10.2" height="2.7" fill="#fffbee"/>
<rect x="487.5" y="388.0" width="5.2" height="2.7" fill="#fff7dd"/>
<rect x="492.5" y="388.0" width="7.7" height="2.7" fill="#fff3cd"/>
<rect x="500.0" y="388.0" width="5.2" height="2.7" fill="#feefbc"/>
<rect x="505.0" y="388.0" width="5.2" height="2.7" fill="#feebab"/>
<rect x="510.0" y="388.0" width="5.2" height="2.7" fill="#fee79a"/>
<rect x="515.0" y="388.0" width="5.2" height="2.7" fill="#fee18a"/>
<rect x="520.0" y="388.0" width="5.2" height="2.7" fill="#fddb7a"/>
<rect x="525.0" y="388.0" width="5.2" height="2.7" fill="#fcd46a"/>
<rect x="530.0" y="388.0" width="2.7" height="2.7" fill="#fcce5a"/>
<rect x="532.5" y="388.0" width="7.7" height="2.7" fill="#fbc84a"/>
<rect x="540.0" y="388.0" width="25.2" height="2.7" fill="#fac13a"/>
<rect x="565.0" y="388.0" width="5.2" height="2.7" fill="#fbc84a"/>
<rect x="570.0" y="388.0" width="5.2" height="2.7" fill="#fcce5a"/>
<rect x="575.0" y="388.0" width="5.2" height="2.7" fill="#fcd46a"/>
<rect x="580.0" y="388.0" width="2.7" height="2.7" fill="#fddb7a"/>
<rect x="582.5" y="388.0" width="2.7" height="2.7" fill="#fee18a"/>
<rect x="585.0" y="388.0" width="2.7" height="2.7" fill="#fee79a"/>
<rect x="587.5" y="388.0" width="2.7" height="2.7" fill="#feebab"/>
<rect x="590.0" y="388.0" width="2.7" height="2.7" fill="#feefbc"/>
<rect x="592.5" y="388.0" width="2.7" height="2.7" fill="#fff3cd"/>
<rect x="595.0" y="388.0" width="2.7" height="2.7" fill="#fff7dd"/>
<rect x="597.5" y="388.0" width="2.7" height="2.7" fill="#fffbee"/>
<rect x="605.0" y="388.0" width="7.7" height="2.7" fill="#f1f9ff"/>
<rect x="612.5" y="388.0" width="5.2" height="2.7" fill="#e4f4fe"/>
<rect x="617.5" y="388.0" width="7.7" height="2.7" fill="#d6eefe"/>
<rect x="625.0" y="388.0" width="5.2" height="2.7" fill="#c9e9fd"/>
<rect x="630.0" y="388.0" width="2.7" height="2.7" fill="#d6eefe"/>
<rect x="295.0" y="390.5" width="27.7" height="2.7" fill="#fffbee"/>
<rect x="335.0" y="390.5" width="12.7" height="2.7" fill="#f1f9ff"/>
<rect x="347.5" y="390.5" width="7.7" height="2.7" fill="#e4f4fe"/>
<rect x="355.0" y="390.5" width="7.7" height="2.7" fill="#d6eefe"/>
<rect x="362.5" y="390.5" width="10.2" height="2.7" fill="#c9e9fd"/>
<rect x="372.5" y="390.5" width="40.2" height="2.7" fill="#bbe3fd"/>
<rect x="412.5" y="390.5" width="12.7" height="2.7" fill="#c9e9fd"/>
<rect x="425.0" y="390.5" width="12.7" height="2.7" fill="#d6eefe"/>
<rect x="437.5" y="390.5" width="12.7" height="2.7" fill="#e4f4fe"/>
<rect x="450.0" y="390.5" width="12.7" height="2.7" fill="#f1f9ff"/>
<rect x="472.5" y="390.5" width="7.7" height="2.7" fill="#fffbee"/>
<rect x="480.0" y="390.5" width="10.2" height="2.7" fill="#fff7dd"/>
<rect x="490.0" y="390.5" width="5.2" height="2.7" fill="#fff3cd"/>
<rect x="495.0" y="390.5" width="7.7" height="2.7" fill="#feefbc"/>
<rect x="502.5" y="390.5" width="7.7" height="2.7" fill="#feebab"/>
<rect x="510.0" y="390.5" width="5.2" height="2.7" fill="#fee79a"/>
<rect x="515.0" y="390.5" width="5.2" height="2.7" fill="#fee18a"/>
<rect x="520.0" y="390.5" width="5.2" height="2.7" fill="#fddb7a"/>
<rect x="525.0" y="390.5" width="5.2" height="2.7" fill="#fcd46a"/>
<rect x="530.0" y="390.5" width="5.2" height="2.7" fill="#fcce5a"/>
<rect x="535.0" y="390.5" width="5.2" height="2.7" fill="#fbc84a"/>
<rect x="540.0" y="390.5" width="20.2" height="2.7" fill="#fac13a"/>
<rect x="560.0" y="390.5" width="7.7" height="2.7" fill="#fbc84a"/>
<rect x="567.5" y="390.5" width="5.2" height="2.7" fill="#fcce5a"/>
<rect x="572.5" y="390.5" width="5.2" height="2.7" fill="#fcd46a"/>
<rect x="577.5" y="390.5" width="2.7" height="2.7" fill="#fddb7a"/>
<rect x="580.0" y="390.5" width="2.7" height="2.7" fill="#fee18a"/>
<rect x="582.5" y="390.5" width="2.7" height="2.7" fill="#fee79a"/>
<rect x="585.0" y="390.5" width="2.7" height="2.7" fill="#feebab"/>
<rect x="587.5" y="390.5" width="2.7" height="2.7" fill="#feefbc"/>
<rect x="590.0" y="390.5" width="2.7" height="2.7" fill="#fff3cd"/>
<rect x="592.5" y="390.5" width="2.7" height="2.7" fill="#fff7dd"/>
<rect x="595.0" y="390.5" width="2.7" height="2.7" fill="#fffbee"/>
<rect x="600.0" y="390.5" width="7.7" height="2.7" fill="#f1f9ff"/>
<rect x="607.5" y="390.5" width="7.7" height="2.7" fill="#e4f4fe"/>
<rect x="615.0" y="390.5" width="7.7" height="2.7" fill="#d6eefe"/>
<rect x="622.5" y="390.5" width="7.7" height="2.7" fill="#c9e9fd"/>
<rect x="630.0" y="390.5" width="2.7" height="2.7" fill="#d6eefe"/>
<rect x="295.0" y="393.0" width="2.7" height="2.7" fill="#fffbee"/>
<rect x="297.5" y="393.0" width="12.7" height="2.7" fill="#fff7dd"/>
<rect x="310.0" y="393.0" width="15.2" height="2.7" fill="#fffbee"/>
<rect x="337.5" y="393.0" width="12.7" height="2.7" fill="#f1f9ff"/>
<rect x="350.0" y="393.0" width="7.7" height="2.7" fill="#e4f4fe"/>
<rect x="357.5" y="393.0" width="7.7" height="2.7" fill="#d6eefe"/>
<rect x="365.0" y="393.0" width="10.2" height="2.7" fill="#c9e9fd"/>
<rect x="375.0" y="393.0" width="32.7" height="2.7" fill="#bbe3fd"/>
<rect x="407.5" y="393.0" width="15.2" height="2.7" fill="#c9e9fd"/>
<rect x="422.5" y="393.0" width="12.7" height="2.7" fill="#d6eefe"/>
<rect x="435.0" y="393.0" width="10.2" height="2.7" fill="#e4f4fe"/>
<rect x="445.0" y="393.0" width="12.7" height="2.7" fill="#f1f9ff"/>
<rect x="467.5" y="393.0" width="10.2" height="2.7" fill="#fffbee"/>
<rect x="477.5" y="393.0" width="7.7" height="2.7" fill="#fff7dd"/>
<rect x="485.0" y="393.0" width="10.2" height="2.7" fill="#fff3cd"/>
<rect x="495.0" y="393.0" width="7.7" height="2.7" fill="#feefbc"/>
<rect x="502.5" y="393.0" width="5.2" height="2.7" fill="#feebab"/>
<rect x="507.5" y="393.0" width="7.7" height="2.7" fill="#fee79a"/>
<rect x="515.0" y="393.0" width="5.2" height="2.7" fill="#fee18a"/>
<rect x="520.0" y="393.0" width="5.2" height="2.7" fill="#fddb7a"/>
<rect x="525.0" y="393.0" width="5.2" height="2.7" fill="#fcd46a"/>
<rect x="530.0" y="393.0" width="7.7" height="2.7" fill="#fcce5a"/>
<rect x="537.5" y="393.0" width="7.7" height="2.7" fill="#fbc84a"/>
<rect x="545.0" y="393.0" width="10.2" height="2.7" fill="#fac13a"/>
<rect x="555.0" y="393.0" width="10.2" height="2.7" fill="#fbc84a"/>
<rect x="565.0" y="393.0" width="5.2" height="2.7" fill="#fcce5a"/>
<rect x="570.0" y="393.0" width="5.2" height="2.7" fill="#fcd46a"/>
<rect x="575.0" y="393.0" width="2.7" height="2.7" fill="#fddb7a"/>
<rect x="577.5" y="393.0" width="2.7" height="2.7" fill="#fee18a"/>
<rect x="580.0" y="393.0" width="2.7" height="2.7" fill="#fee79a"/>
<rect x="582.5" y="393.0" width="2.7" height="2.7" fill="#feebab"/>
<rect x="585.0" y="393.0" width="2.7" height="2.7" fill="#feefbc"/>
<rect x="587.5" y="393.0" width="2.7" height="2.7" fill="#fff3cd"/>
<rect x="590.0" y="393.0" width="2.7" height="2.7" fill="#fff7dd"/>
<rect x="592.5" y="393.0" width="2.7" height="2.7" fill="#fffbee"/>
<rect x="597.5" y="393.0" width="5.2" height="2.7" fill="#f1f9ff"/>
<rect x="602.5" y="393.0" width="10.2" height="2.7" fill="#e4f4fe"/>
<rect x="612.5" y="393.0" width="7.7" height="2.7" fill="#d6eefe"/>
<rect x="620.0" y="393.0" width="10.2" height="2.7" fill="#c9e9fd"/>
<rect x="630.0" y="393.0" width="2.7" height="2.7" fill="#d6eefe"/>
<rect x="295.0" y="395.5" width="20.2" height="2.7" fill="#fff7dd"/>
<rect x="315.0" y="395.5" width="12.7" height="2.7" fill="#fffbee"/>
<rect x="342.5" y="395.5" width="10.2" height="2.7" fill="#f1f9ff"/>
<rect x="352.5" y="395.5" width="7.7" height="2.7" fill="#e4f4fe"/>
<rect x="360.0" y="395.5" width="5.2" height="2.7" fill="#d6eefe"/>
<rect x="365.0" y="395.5" width="12.7" height="2.7" fill="#c9e9fd"/>
<rect x="377.5" y="395.5" width="27.7" height="2.7" fill="#bbe3fd"/>
<rect x="405.0" y="395.5" width="15.2" height="2.7" fill="#c9e9fd"/>
<rect x="420.0" y="395.5" width="10.2" height="2.7" fill="#d6eefe"/>
<rect x="430.0" y="395.5" width="12.7" height="2.7" fill="#e4f4fe"/>
<rect x="442.5" y="395.5" width="10.2" height="2.7" fill="#f1f9ff"/>
<rect x="465.0" y="395.5" width="10.2" height="2.7" fill="#fffbee"/>
<rect x="475.0" y="395.5" width="10.2" height="2.7" fill="#fff7dd"/>
<rect x="485.0" y="395.5" width="7.7" height="2.7" fill="#fff3cd"/>
<rect x="492.5" y="395.5" width="7.7" height="2.7" fill="#feefbc"/>
<rect x="500.0" y="395.5" width="7.7" height="2.7" fill="#feebab"/>
<rect x="507.5" y="395.5" width="7.7" height="2.7" fill="#fee79a"/>
<rect x="515.0" y="395.5" width="7.7" height="2.7" fill="#fee18a"/>
<rect x="522.5" y="395.5" width="5.2" height="2.7" fill="#fddb7a"/>
<rect x="527.5" y="395.5" width="5.2" height="2.7" fill="#fcd46a"/>
<rect x="532.5" y="395.5" width="7.7" height="2.7" fill="#fcce5a"/>
<rect x="540.0" y="395.5" width="20.2" height="2.7" fill="#fbc84a"/>
<rect x="560.0" y="395.5" width="7.7" height="2.7" fill="#fcce5a"/>
<rect x="567.5" y="395.5" width="5.2" height="2.7" fill="#fcd46a"/>
<rect x="572.5" y="395.5" width="5.2" height="2.7" fill="#fddb7a"/>
<rect x="577.5" y="395.5" width="2.7" height="2.7" fill="#fee18a"/>
<rect x="580.0" y="395.5" width="2.7" height="2.7" fill="#fee79a"/>
<rect x="582.5" y="395.5" width="2.7" height="2.7" fill="#feebab"/>
<rect x="585.0" y="395.5" width="2.7" height="2.7" fill="#feefbc"/>
<rect x="587.5" y="395.5" width="2.7" height="2.7" fill="#fff3cd"/>
<rect x="590.0" y="395.5" width="2.7" height="2.7" fill="#fff7dd"/>
<rect x="592.5" y="395.5" width="2.7" height="2.7" fill="#fffbee"/>
<rect x="597.5" y="395.5" width="5.2" height="2.7" fill="#f1f9ff"/>
<rect x="602.5" y="395.5" width="7.7" height="2.7" fill="#e4f4fe"/>
<rect x="610.0" y="395.5" width="12.7" height="2.7" fill="#d6eefe"/>
<rect x="622.5" y="395.5" width="5.2" height="2.7" fill="#c9e9fd"/>
<rect x="627.5" y="395.5" width="5.2" height="2.7" fill="#d6eefe"/>
<rect x="295.0" y="398.0" width="25.2" height="2.7" fill="#fff7dd"/>
<rect x="320.0" y="398.0" width="10.2" height="2.7" fill="#fffbee"/>
<rect x="350.0" y="398.0" width="5.2" height="2.7" fill="#f1f9ff"/>
<rect x="355.0" y="398.0" width="5.2" height="2.7" fill="#e4f4fe"/>
<rect x="360.0" y="398.0" width="7.7" height="2.7" fill="#d6eefe"/>
<rect x="367.5" y="398.0" width="12.7" height="2.7" fill="#c9e9fd"/>
<rect x="380.0" y="398.0" width="20.2" height="2.7" fill="#bbe3fd"/>
<rect x="400.0" y="398.0" width="15.2" height="2.7" fill="#c9e9fd"/>
<rect x="415.0" y="398.0" width="12.7" height="2.7" fill="#d6eefe"/>
<rect x="427.5" y="398.0" width="12.7" height="2.7" fill="#e4f4fe"/>
<rect x="440.0" y="398.0" width="10.2" height="2.7" fill="#f1f9ff"/>
<rect x="462.5" y="398.0" width="10.2" height="2.7" fill="#fffbee"/>
<rect x="472.5" y="398.0" width="12.7" height="2.7" fill="#fff7dd"/>
<rect x="485.0" y="398.0" width="7.7" height="2.7" fill="#fff3cd"/>
<rect x="492.5" y="398.0" width="10.2" height="2.7" fill="#feefbc"/>
<rect x="502.5" y="398.0" width="7.7" height="2.7" fill="#feebab"/>
<rect x="510.0" y="398.0" width="7.7" height="2.7" fill="#fee79a"/>
<rect x="517.5" y="398.0" width="5.2" height="2.7" fill="#fee18a"/>
<rect x="522.5" y="398.0" width="5.2" height="2.7" fill="#fddb7a"/>
<rect x="527.5" y="398.0" width="7.7" height="2.7" fill="#fcd46a"/>
<rect x="535.0" y="398.0" width="7.7" height="2.7" fill="#fcce5a"/>
<rect x="542.5" y="398.0" width="12.7" height="2.7" fill="#fbc84a"/>
<rect x="555.0" y="398.0" width="10.2" height="2.7" fill="#fcce5a"/>
<rect x="565.0" y="398.0" width="5.2" height="2.7" fill="#fcd46a"/>
<rect x="570.0" y="398.0" width="5.2" height="2.7" fill="#fddb7a"/>
<rect x="575.0" y="398.0" width="2.7" height="2.7" fill="#fee18a"/>
<rect x="577.5" y="398.0" width="5.2" height="2.7" fill="#fee79a"/>
<rect x="582.5" y="398.0" width="2.7" height="2.7" fill="#feebab"/>
<rect x="585.0" y="398.0" width="2.7" height="2.7" fill="#feefbc"/>
<rect x="587.5" y="398.0" width="2.7" height="2.7" fill="#fff3cd"/>
<rect x="590.0" y="398.0" width="2.7" height="2.7" fill="#fff7dd"/>
<rect x="592.5" y="398.0" width="2.7" height="2.7" fill="#fffbee"/>
<rect x="597.5" y="398.0" width="5.2" height="2.7" fill="#f1f9ff"/>
<rect x="602.5" y="398.0" width="12.7" height="2.7" fill="#e4f4fe"/>
<rect x="615.0" y="398.0" width="17.7" height="2.7" fill="#d6eefe"/>
<rect x="295.0" y="400.5" width="7.7" height="2.7" fill="#fff7dd"/>
<rect x="302.5" y="400.5" width="7.7" height="2.7" fill="#fff3cd"/>
<rect x="310.0" y="400.5" width="12.7" height="2.7" fill="#fff7dd"/>
<rect x="322.5" y="400.5" width="10.2" height="2.7" fill="#fffbee"/>
<rect x="352.5" y="400.5" width="5.2" height="2.7" fill="#f1f9ff"/>
<rect x="357.5" y="400.5" width="5.2" height="2.7" fill="#e4f4fe"/>
<rect x="362.5" y="400.5" width="5.2" height="2.7" fill="#d6eefe"/>
<rect x="367.5" y="400.5" width="17.7" height="2.7" fill="#c9e9fd"/>
<rect x="385.0" y="400.5" width="7.7" height="2.7" fill="#bbe3fd"/>
<rect x="392.5" y="400.5" width="20.2" height="2.7" fill="#c9e9fd"/>
<rect x="412.5" y="400.5" width="12.7" height="2.7" fill="#d6eefe"/>
<rect x="425.0" y="400.5" width="12.7" height="2.7" fill="#e4f4fe"/>
<rect x="437.5" y="400.5" width="10.2" height="2.7" fill="#f1f9ff"/>
<rect x="460.0" y="400.5" width="12.7" height="2.7" fill="#fffbee"/>
<rect x="472.5" y="400.5" width="10.2" height="2.7" fill="#fff7dd"/>
<rect x="482.5" y="400.5" width="10.2" height="2.7" fill="#fff3cd"/>
<rect x="492.5" y="400.5" width="10.2" height="2.7" fill="#feefbc"/>
<rect x="502.5" y="400.5" width="7.7" height="2.7" fill="#feebab"/>
<rect x="510.0" y="400.5" width="7.7" height="2.7" fill="#fee79a"/>
<rect x="517.5" y="400.5" width="7.7" height="2.7" fill="#fee18a"/>
<rect x="525.0" y="400.5" width="5.2" height="2.7" fill="#fddb7a"/>
<rect x="530.0" y="400.5" width="7.7" height="2.7" fill="#fcd46a"/>
<rect x="537.5" y="400.5" width="25.2" height="2.7" fill="#fcce5a"/>
<rect x="562.5" y="400.5" width="7.7" height="2.7" fill="#fcd46a"/>
<rect x="570.0" y="400.5" width="5.2" height="2.7" fill="#fddb7a"/>
<rect x="575.0" y="400.5" width="2.7" height="2.7" fill="#fee18a"/>
<rect x="577.5" y="400.5" width="5.2" height="2.7" fill="#fee79a"/>
<rect x="582.5" y="400.5" width="2.7" height="2.7" fill="#feebab"/>
<rect x="585.0" y="400.5" width="2.7" height="2.7" fill="#feefbc"/>
<rect x="587.5" y="400.5" width="2.7" height="2.7" fill="#fff3cd"/>
<rect x="590.0" y="400.5" width="2.7" height="2.7" fill="#fff7dd"/>
<rect x="592.5" y="400.5" width="2.7" height="2.7" fill="#fffbee"/>
<rect x="600.0" y="400.5" width="7.7" height="2.7" fill="#f1f9ff"/>
<rect x="607.5" y="400.5" width="12.7" height="2.7" fill="#e4f4fe"/>
<rect x="620.0" y="400.5" width="10.2" height="2.7" fill="#d6eefe"/>
<rect x="630.0" y="400.5" width="2.7" height="2.7" fill="#e4f4fe"/>
<rect x="295.0" y="403.0" width="2.7" height="2.7" fill="#fff7dd"/>
<rect x="297.5" y="403.0" width="17.7" height="2.7" fill="#fff3cd"/>
<rect x="315.0" y="403.0" width="10.2" height="2.7" fill="#fff7dd"/>
<rect x="325.0" y="403.0" width="12.7" height="2.7" fill="#fffbee"/>
<rect x="355.0" y="403.0" width="2.7" height="2.7" fill="#f1f9ff"/>
<rect x="357.5" y="403.0" width="5.2" height="2.7" fill="#e4f4fe"/>
<rect x="362.5" y="403.0" width="7.7" height="2.7" fill="#d6eefe"/>
<rect x="370.0" y="403.0" width="42.7" height="2.7" fill="#c9e9fd"/>
<rect x="412.5" y="403.0" width="10.2" height="2.7" fill="#d6eefe"/>
<rect x="422.5" y="403.0" width="10.2" height="2.7" fill="#e4f4fe"/>
<rect x="432.5" y="403.0" width="12.7" height="2.7" fill="#f1f9ff"/>
<rect x="457.5" y="403.0" width="12.7" height="2.7" fill="#fffbee"/>
<rect x="470.0" y="403.0" width="12.7" height="2.7" fill="#fff7dd"/>
<rect x="482.5" y="403.0" width="10.2" height="2.7" fill="#fff3cd"/>
<rect x="492.5" y="403.0" width="10.2" height="2.7" fill="#feefbc"/>
<rect x="502.5" y="403.0" width="7.7" height="2.7" fill="#feebab"/>
<rect x="510.0" y="403.0" width="10.2" height="2.7" fill="#fee79a"/>
<rect x="520.0" y="403.0" width="5.2" height="2.7" fill="#fee18a"/>
<rect x="525.0" y="403.0" width="7.7" height="2.7" fill="#fddb7a"/>
<rect x="532.5" y="403.0" width="10.2" height="2.7" fill="#fcd46a"/>
<rect x="542.5" y="403.0" width="15.2" height="2.7" fill="#fcce5a"/>
<rect x="557.5" y="403.0" width="10.2" height="2.7" fill="#fcd46a"/>
<rect x="567.5" y="403.0" width="5.2" height="2.7" fill="#fddb7a"/>
<rect x="572.5" y="403.0" width="5.2" height="2.7" fill="#fee18a"/>
<rect x="577.5" y="403.0" width="5.2" height="2.7" fill="#fee79a"/>
<rect x="582.5" y="403.0" width="2.7" height="2.7" fill="#feebab"/>
<rect x="585.0" y="403.0" width="2.7" height="2.7" fill="#feefbc"/>
<rect x="587.5" y="403.0" width="5.2" height="2.7" fill="#fff3cd"/>
<rect x="592.5" y="403.0" width="2.7" height="2.7" fill="#fff7dd"/>
<rect x="595.0" y="403.0" width="5.2" height="2.7" fill="#fffbee"/>
<rect x="605.0" y="403.0" width="12.7" height="2.7" fill="#f1f9ff"/>
<rect x="617.5" y="403.0" width="15.2" height="2.7" fill="#e4f4fe"/>
<rect x="295.0" y="405.5" width="22.7" height="2.7" fill="#fff3cd"/>
<rect x="317.5" y="405.5" width="10.2" height="2.7" fill="#fff7dd"/>
<rect x="327.5" y="405.5" width="20.2" height="2.7" fill="#fffbee"/>
<rect x="355.0" y="405.5" width="5.2" height="2.7" fill="#f1f9ff"/>
<rect x="360.0" y="405.5" width="5.2" height="2.7" fill="#e4f4fe"/>
<rect x="365.0" y="405.5" width="5.2" height="2.7" fill="#d6eefe"/>
<rect x="370.0" y="405.5" width="40.2" height="2.7" fill="#c9e9fd"/>
<rect x="410.0" y="405.5" width="10.2" height="2.7" fill="#d6eefe"/>
<rect x="420.0" y="405.5" width="10.2" height="2.7" fill="#e4f4fe"/>
<rect x="430.0" y="405.5" width="10.2" height="2.7" fill="#f1f9ff"/>
<rect x="452.5" y="405.5" width="12.7" height="2.7" fill="#fffbee"/>
<rect x="465.0" y="405.5" width="15.2" height="2.7" fill="#fff7dd"/>
<rect x="480.0" y="405.5" width="10.2" height="2.7" fill="#fff3cd"/>
<rect x="490.0" y="405.5" width="12.7" height="2.7" fill="#feefbc"/>
<rect x="502.5" y="405.5" width="7.7" height="2.7" fill="#feebab"/>
<rect x="510.0" y="405.5" width="10.2" height="2.7" fill="#fee79a"/>
<rect x="520.0" y="405.5" width="7.7" height="2.7" fill="#fee18a"/>
<rect x="527.5" y="405.5" width="7.7" height="2.7" fill="#fddb7a"/>
<rect x="535.0" y="405.5" width="30.2" height="2.7" fill="#fcd46a"/>
<rect x="565.0" y="405.5" width="7.7" height="2.7" fill="#fddb7a"/>
<rect x="572.5" y="405.5" width="5.2" height="2.7" fill="#fee18a"/>
<rect x="577.5" y="405.5" width="5.2" height="2.7" fill="#fee79a"/>
<rect x="582.5" y="405.5" width="5.2" height="2.7" fill="#feebab"/>
<rect x="587.5" y="405.5" width="2.7" height="2.7" fill="#feefbc"/>
<rect x="590.0" y="405.5" width="5.2" height="2.7" fill="#fff3cd"/>
<rect x="595.0" y="405.5" width="5.2" height="2.7" fill="#fff7dd"/>
<rect x="600.0" y="405.5" width="5.2" height="2.7" fill="#fffbee"/>
<rect x="615.0" y="405.5" width="17.7" height="2.7" fill="#f1f9ff"/>
<rect x="295.0" y="408.0" width="10.2" height="2.7" fill="#fff3cd"/>
<rect x="305.0" y="408.0" width="2.7" height="2.7" fill="#feefbc"/>
<rect x="307.5" y="408.0" width="12.7" height="2.7" fill="#fff3cd"/>
<rect x="320.0" y="408.0" width="7.7" height="2.7" fill="#fff7dd"/>
<rect x="327.5" y="408.0" width="22.7" height="2.7" fill="#fffbee"/>
<rect x="355.0" y="408.0" width="5.2" height="2.7" fill="#f1f9ff"/>
<rect x="360.0" y="408.0" width="5.2" height="2.7" fill="#e4f4fe"/>
<rect x="365.0" y="408.0" width="5.2" height="2.7" fill="#d6eefe"/>
<rect x="370.0" y="408.0" width="40.2" height="2.7" fill="#c9e9fd"/>
<rect x="410.0" y="408.0" width="10.2" height="2.7" fill="#d6eefe"/>
<rect x="420.0" y="408.0" width="7.7" height="2.7" fill="#e4f4fe"/>
<rect x="427.5" y="408.0" width="10.2" height="2.7" fill="#f1f9ff"/>
<rect x="447.5" y="408.0" width="12.7" height="2.7" fill="#fffbee"/>
<rect x="460.0" y="408.0" width="15.2" height="2.7" fill="#fff7dd"/>
<rect x="475.0" y="408.0" width="12.7" height="2.7" fill="#fff3cd"/>
<rect x="487.5" y="408.0" width="12.7" height="2.7" fill="#feefbc"/>
<rect x="500.0" y="408.0" width="10.2" height="2.7" fill="#feebab"/>
<rect x="510.0" y="408.0" width="10.2" height="2.7" fill="#fee79a"/>
<rect x="520.0" y="408.0" width="7.7" height="2.7" fill="#fee18a"/>
<rect x="527.5" y="408.0" width="7.7" height="2.7" fill="#fddb7a"/>
<rect x="535.0" y="408.0" width="30.2" height="2.7" fill="#fcd46a"/>
<rect x="565.0" y="408.0" width="10.2" height="2.7" fill="#fddb7a"/>
<rect x="575.0" y="408.0" width="5.2" height="2.7" fill="#fee18a"/>
<rect x="580.0" y="408.0" width="5.2" height="2.7" fill="#fee79a"/>
<rect x="585.0" y="408.0" width="5.2" height="2.7" fill="#feebab"/>
<rect x="590.0" y="408.0" width="5.2" height="2.7" fill="#feefbc"/>
<rect x="595.0" y="408.0" width="5.2" height="2.7" fill="#fff3cd"/>
<rect x="600.0" y="408.0" width="7.7" height="2.7" fill="#fff7dd"/>
<rect x="607.5" y="408.0" width="7.7" height="2.7" fill="#fffbee"/>
<rect x="625.0" y="408.0" width="5.2" height="2.7" fill="#f1f9ff"/>
<rect x="295.0" y="410.5" width="5.2" height="2.7" fill="#fff3cd"/>
<rect x="300.0" y="410.5" width="12.7" height="2.7" fill="#feefbc"/>
<rect x="312.5" y="410.5" width="10.2" height="2.7" fill="#fff3cd"/>
<rect x="322.5" y="410.5" width="7.7" height="2.7" fill="#fff7dd"/>
<rect x="330.0" y="410.5" width="20.2" height="2.7" fill="#fffbee"/>
<rect x="355.0" y="410.5" width="5.2" height="2.7" fill="#f1f9ff"/>
<rect x="360.0" y="410.5" width="5.2" height="2.7" fill="#e4f4fe"/>
<rect x="365.0" y="410.5" width="5.2" height="2.7" fill="#d6eefe"/>
<rect x="370.0" y="410.5" width="40.2" height="2.7" fill="#c9e9fd"/>
<rect x="410.0" y="410.5" width="10.2" height="2.7" fill="#d6eefe"/>
<rect x="420.0" y="410.5" width="7.7" height="2.7" fill="#e4f4fe"/>
<rect x="427.5" y="410.5" width="7.7" height="2.7" fill="#f1f9ff"/>
<rect x="442.5" y="410.5" width="10.2" height="2.7" fill="#fffbee"/>
<rect x="452.5" y="410.5" width="15.2" height="2.7" fill="#fff7dd"/>
<rect x="467.5" y="410.5" width="15.2" height="2.7" fill="#fff3cd"/>
<rect x="482.5" y="410.5" width="12.7" height="2.7" fill="#feefbc"/>
<rect x="495.0" y="410.5" width="12.7" height="2.7" fill="#feebab"/>
<rect x="507.5" y="410.5" width="10.2" height="2.7" fill="#fee79a"/>
<rect x="517.5" y="410.5" width="10.2" height="2.7" fill="#fee18a"/>
<rect x="527.5" y="410.5" width="10.2" height="2.7" fill="#fddb7a"/>
<rect x="537.5" y="410.5" width="27.7" height="2.7" fill="#fcd46a"/>
<rect x="565.0" y="410.5" width="10.2" height="2.7" fill="#fddb7a"/>
<rect x="575.0" y="410.5" width="7.7" height="2.7" fill="#fee18a"/>
<rect x="582.5" y="410.5" width="5.2" height="2.7" fill="#fee79a"/>
<rect x="587.5" y="410.5" width="7.7" height="2.7" fill="#feebab"/>
<rect x="595.0" y="410.5" width="5.2" height="2.7" fill="#feefbc"/>
<rect x="600.0" y="410.5" width="7.7" height="2.7" fill="#fff3cd"/>
<rect x="607.5" y="410.5" width="7.7" height="2.7" fill="#fff7dd"/>
<rect x="615.0" y="410.5" width="7.7" height="2.7" fill="#fffbee"/>
<rect x="630.0" y="410.5" width="2.7" height="2.7" fill="#fffbee"/>
<rect x="295.0" y="413.0" width="2.7" height="2.7" fill="#fff3cd"/>
<rect x="297.5" y="413.0" width="17.7" height="2.7" fill="#feefbc"/>
<rect x="315.0" y="413.0" width="7.7" height="2.7" fill="#fff3cd"/>
<rect x="322.5" y="413.0" width="7.7" height="2.7" fill="#fff7dd"/>
<rect x="330.0" y="413.0" width="20.2" height="2.7" fill="#fffbee"/>
<rect x="355.0" y="413.0" width="5.2" height="2.7" fill="#f1f9ff"/>
<rect x="360.0" y="413.0" width="5.2" height="2.7" fill="#e4f4fe"/>
<rect x="365.0" y="413.0" width="5.2" height="2.7" fill="#d6eefe"/>
<rect x="370.0" y="413.0" width="12.7" height="2.7" fill="#c9e9fd"/>
<rect x="382.5" y="413.0" width="20.2" height="2.7" fill="#bbe3fd"/>
<rect x="402.5" y="413.0" width="10.2" height="2.7" fill="#c9e9fd"/>
<rect x="412.5" y="413.0" width="7.7" height="2.7" fill="#d6eefe"/>
<rect x="420.0" y="413.0" width="5.2" height="2.7" fill="#e4f4fe"/>
<rect x="425.0" y="413.0" width="7.7" height="2.7" fill="#f1f9ff"/>
<rect x="440.0" y="413.0" width="5.2" height="2.7" fill="#fffbee"/>
<rect x="445.0" y="413.0" width="12.7" height="2.7" fill="#fff7dd"/>
<rect x="457.5" y="413.0" width="17.7" height="2.7" fill="#fff3cd"/>
<rect x="475.0" y="413.0" width="15.2" height="2.7" fill="#feefbc"/>
<rect x="490.0" y="413.0" width="12.7" height="2.7" fill="#feebab"/>
<rect x="502.5" y="413.0" width="12.7" height="2.7" fill="#fee79a"/>
<rect x="515.0" y="413.0" width="10.2" height="2.7" fill="#fee18a"/>
<rect x="525.0" y="413.0" width="10.2" height="2.7" fill="#fddb7a"/>
<rect x="535.0" y="413.0" width="32.7" height="2.7" fill="#fcd46a"/>
<rect x="567.5" y="413.0" width="10.2" height="2.7" fill="#fddb7a"/>
<rect x="577.5" y="413.0" width="10.2" height="2.7" fill="#fee18a"/>
<rect x="587.5" y="413.0" width="5.2" height="2.7" fill="#fee79a"/>
<rect x="592.5" y="413.0" width="7.7" height="2.7" fill="#feebab"/>
<rect x="600.0" y="413.0" width="7.7" height="2.7" fill="#feefbc"/>
<rect x="607.5" y="413.0" width="10.2" height="2.7" fill="#fff3cd"/>
<rect x="617.5" y="413.0" width="7.7" height="2.7" fill="#fff7dd"/>
<rect x="625.0" y="413.0" width="7.7" height="2.7" fill="#fffbee"/>
<rect x="295.0" y="415.5" width="2.7" height="2.7" fill="#fff3cd"/>
<rect x="297.5" y="415.5" width="17.7" height="2.7" fill="#feefbc"/>
<rect x="315.0" y="415.5" width="7.7" height="2.7" fill="#fff3cd"/>
<rect x="322.5" y="415.5" width="7.7" height="2.7" fill="#fff7dd"/>
<rect x="330.0" y="415.5" width="15.2" height="2.7" fill="#fffbee"/>
<rect x="355.0" y="415.5" width="2.7" height="2.7" fill="#f1f9ff"/>
<rect x="357.5" y="415.5" width="5.2" height="2.7" fill="#e4f4fe"/>
<rect x="362.5" y="415.5" width="5.2" height="2.7" fill="#d6eefe"/>
<rect x="367.5" y="415.5" width="10.2" height="2.7" fill="#c9e9fd"/>
<rect x="377.5" y="415.5" width="30.2" height="2.7" fill="#bbe3fd"/>
<rect x="407.5" y="415.5" width="7.7" height="2.7" fill="#c9e9fd"/>
<rect x="415.0" y="415.5" width="5.2" height="2.7" fill="#d6eefe"/>
<rect x="420.0" y="415.5" width="5.2" height="2.7" fill="#e4f4fe"/>
<rect x="425.0" y="415.5" width="5.2" height="2.7" fill="#f1f9ff"/>
<rect x="437.5" y="415.5" width="5.2" height="2.7" fill="#fffbee"/>
<rect x="442.5" y="415.5" width="5.2" height="2.7" fill="#fff7dd"/>
<rect x="447.5" y="415.5" width="15.2" height="2.7" fill="#fff3cd"/>
<rect x="462.5" y="415.5" width="17.7" height="2.7" fill="#feefbc"/>
<rect x="480.0" y="415.5" width="17.7" height="2.7" fill="#feebab"/>
<rect x="497.5" y="415.5" width="12.7" height="2.7" fill="#fee79a"/>
<rect x="510.0" y="415.5" width="12.7" height="2.7" fill="#fee18a"/>
<rect x="522.5" y="415.5" width="12.7" height="2.7" fill="#fddb7a"/>
<rect x="535.0" y="415.5" width="35.2" height="2.7" fill="#fcd46a"/>
<rect x="570.0" y="415.5" width="12.7" height="2.7" fill="#fddb7a"/>
<rect x="582.5" y="415.5" width="10.2" height="2.7" fill="#fee18a"/>
<rect x="592.5" y="415.5" width="7.7" height="2.7" fill="#fee79a"/>
<rect x="600.0" y="415.5" width="10.2" height="2.7" fill="#feebab"/>
<rect x="610.0" y="415.5" width="7.7" height="2.7" fill="#feefbc"/>
<rect x="617.5" y="415.5" width="7.7" height="2.7" fill="#fff3cd"/>
<rect x="625.0" y="415.5" width="5.2" height="2.7" fill="#fff7dd"/>
<rect x="630.0" y="415.5" width="2.7" height="2.7" fill="#fff3cd"/>
<rect x="295.0" y="418.0" width="2.7" height="2.7" fill="#fff3cd"/>
<rect x="297.5" y="418.0" width="17.7" height="2.7" fill="#feefbc"/>
<rect x="315.0" y="418.0" width="7.7" height="2.7" fill="#fff3cd"/>
<rect x="322.5" y="418.0" width="5.2" height="2.7" fill="#fff7dd"/>
<rect x="327.5" y="418.0" width="12.7" height="2.7" fill="#fffbee"/>
<rect x="352.5" y="418.0" width="5.2" height="2.7" fill="#f1f9ff"/>
<rect x="357.5" y="418.0" width="5.2" height="2.7" fill="#e4f4fe"/>
<rect x="362.5" y="418.0" width="5.2" height="2.7" fill="#d6eefe"/>
<rect x="367.5" y="418.0" width="7.7" height="2.7" fill="#c9e9fd"/>
<rect x="375.0" y="418.0" width="15.2" height="2.7" fill="#bbe3fd"/>
<rect x="390.0" y="418.0" width="12.7" height="2.7" fill="#adddfc"/>
<rect x="402.5" y="418.0" width="7.7" height="2.7" fill="#bbe3fd"/>
<rect x="410.0" y="418.0" width="5.2" height="2.7" fill="#c9e9fd"/>
<rect x="415.0" y="418.0" width="5.2" height="2.7" fill="#d6eefe"/>
<rect x="420.0" y="418.0" width="5.2" height="2.7" fill="#e4f4fe"/>
<rect x="425.0" y="418.0" width="5.2" height="2.7" fill="#f1f9ff"/>
<rect x="435.0" y="418.0" width="5.2" height="2.7" fill="#fffbee"/>
<rect x="440.0" y="418.0" width="5.2" height="2.7" fill="#fff7dd"/>
<rect x="445.0" y="418.0" width="5.2" height="2.7" fill="#fff3cd"/>
<rect x="450.0" y="418.0" width="17.7" height="2.7" fill="#feefbc"/>
<rect x="467.5" y="418.0" width="17.7" height="2.7" fill="#feebab"/>
<rect x="485.0" y="418.0" width="17.7" height="2.7" fill="#fee79a"/>
<rect x="502.5" y="418.0" width="15.2" height="2.7" fill="#fee18a"/>
<rect x="517.5" y="418.0" width="12.7" height="2.7" fill="#fddb7a"/>
<rect x="530.0" y="418.0" width="15.2" height="2.7" fill="#fcd46a"/>
<rect x="545.0" y="418.0" width="10.2" height="2.7" fill="#fcce5a"/>
<rect x="555.0" y="418.0" width="22.7" height="2.7" fill="#fcd46a"/>
<rect x="577.5" y="418.0" width="12.7" height="2.7" fill="#fddb7a"/>
<rect x="590.0" y="418.0" width="12.7" height="2.7" fill="#fee18a"/>
<rect x="602.5" y="418.0" width="10.2" height="2.7" fill="#fee79a"/>
<rect x="612.5" y="418.0" width="7.7" height="2.7" fill="#feebab"/>
<rect x="620.0" y="418.0" width="12.7" height="2.7" fill="#feefbc"/>
<rect x="295.0" y="420.5" width="2.7" height="2.7" fill="#fff3cd"/>
<rect x="297.5" y="420.5" width="15.2" height="2.7" fill="#feefbc"/>
<rect x="312.5" y="420.5" width="7.7" height="2.7" fill="#fff3cd"/>
<rect x="320.0" y="420.5" width="7.7" height="2.7" fill="#fff7dd"/>
<rect x="327.5" y="420.5" width="7.7" height="2.7" fill="#fffbee"/>
<rect x="350.0" y="420.5" width="5.2" height="2.7" fill="#f1f9ff"/>
<rect x="355.0" y="420.5" width="5.2" height="2.7" fill="#e4f4fe"/>
<rect x="360.0" y="420.5" width="5.2" height="2.7" fill="#d6eefe"/>
<rect x="365.0" y="420.5" width="7.7" height="2.7" fill="#c9e9fd"/>
<rect x="372.5" y="420.5" width="10.2" height="2.7" fill="#bbe3fd"/>
<rect x="382.5" y="420.5" width="25.2" height="2.7" fill="#adddfc"/>
<rect x="407.5" y="420.5" width="5.2" height="2.7" fill="#bbe3fd"/>
<rect x="412.5" y="420.5" width="5.2" height="2.7" fill="#c9e9fd"/>
<rect x="417.5" y="420.5" width="5.2" height="2.7" fill="#d6eefe"/>
<rect x="422.5" y="420.5" width="2.7" height="2.7" fill="#e4f4fe"/>
<rect x="425.0" y="420.5" width="5.2" height="2.7" fill="#f1f9ff"/>
<rect x="432.5" y="420.5" width="5.2" height="2.7" fill="#fffbee"/>
<rect x="437.5" y="420.5" width="2.7" height="2.7" fill="#fff7dd"/>
<rect x="440.0" y="420.5" width="5.2" height="2.7" fill="#fff3cd"/>
<rect x="445.0" y="420.5" width="7.7" height="2.7" fill="#feefbc"/>
<rect x="452.5" y="420.5" width="15.2" height="2.7" fill="#feebab"/>
<rect x="467.5" y="420.5" width="20.2" height="2.7" fill="#fee79a"/>
<rect x="487.5" y="420.5" width="17.7" height="2.7" fill="#fee18a"/>
<rect x="505.0" y="420.5" width="15.2" height="2.7" fill="#fddb7a"/>
<rect x="520.0" y="420.5" width="15.2" height="2.7" fill="#fcd46a"/>
<rect x="535.0" y="420.5" width="40.2" height="2.7" fill="#fcce5a"/>
<rect x="575.0" y="420.5" width="17.7" height="2.7" fill="#fcd46a"/>
<rect x="592.5" y="420.5" width="12.7" height="2.7" fill="#fddb7a"/>
<rect x="605.0" y="420.5" width="10.2" height="2.7" fill="#fee18a"/>
<rect x="615.0" y="420.5" width="7.7" height="2.7" fill="#fee79a"/>
<rect x="622.5" y="420.5" width="10.2" height="2.7" fill="#feebab"/>
<rect x="295.0" y="423.0" width="2.7" height="2.7" fill="#fff3cd"/>
<rect x="297.5" y="423.0" width="12.7" height="2.7" fill="#feefbc"/>
<rect x="310.0" y="423.0" width="7.7" height="2.7" fill="#fff3cd"/>
<rect x="317.5" y="423.0" width="7.7" height="2.7" fill="#fff7dd"/>
<rect x="325.0" y="423.0" width="7.7" height="2.7" fill="#fffbee"/>
<rect x="345.0" y="423.0" width="7.7" height="2.7" fill="#f1f9ff"/>
<rect x="352.5" y="423.0" width="7.7" height="2.7" fill="#e4f4fe"/>
<rect x="360.0" y="423.0" width="5.2" height="2.7" fill="#d6eefe"/>
<rect x="365.0" y="423.0" width="5.2" height="2.7" fill="#c9e9fd"/>
<rect x="370.0" y="423.0" width="10.2" height="2.7" fill="#bbe3fd"/>
<rect x="380.0" y="423.0" width="12.7" height="2.7" fill="#adddfc"/>
<rect x="392.5" y="423.0" width="10.2" height="2.7" fill="#9fd6fc"/>
<rect x="402.5" y="423.0" width="7.7" height="2.7" fill="#adddfc"/>
<rect x="410.0" y="423.0" width="5.2" height="2.7" fill="#bbe3fd"/>
<rect x="415.0" y="423.0" width="2.7" height="2.7" fill="#c9e9fd"/>
<rect x="417.5" y="423.0" width="5.2" height="2.7" fill="#d6eefe"/>
<rect x="422.5" y="423.0" width="2.7" height="2.7" fill="#e4f4fe"/>
<rect x="425.0" y="423.0" width="2.7" height="2.7" fill="#f1f9ff"/>
<rect x="430.0" y="423.0" width="5.2" height="2.7" fill="#fffbee"/>
<rect x="435.0" y="423.0" width="2.7" height="2.7" fill="#fff7dd"/>
<rect x="437.5" y="423.0" width="5.2" height="2.7" fill="#fff3cd"/>
<rect x="442.5" y="423.0" width="2.7" height="2.7" fill="#feefbc"/>
<rect x="445.0" y="423.0" width="5.2" height="2.7" fill="#feebab"/>
<rect x="450.0" y="423.0" width="10.2" height="2.7" fill="#fee79a"/>
<rect x="460.0" y="423.0" width="17.7" height="2.7" fill="#fee18a"/>
<rect x="477.5" y="423.0" width="20.2" height="2.7" fill="#fddb7a"/>
<rect x="497.5" y="423.0" width="17.7" height="2.7" fill="#fcd46a"/>
<rect x="515.0" y="423.0" width="12.7" height="2.7" fill="#fcce5a"/>
<rect x="527.5" y="423.0" width="22.7" height="2.7" fill="#fbc84a"/>
<rect x="550.0" y="423.0" width="5.2" height="2.7" fill="#fac13a"/>
<rect x="555.0" y="423.0" width="35.2" height="2.7" fill="#fbc84a"/>
<rect x="590.0" y="423.0" width="22.7" height="2.7" fill="#fcce5a"/>
<rect x="612.5" y="423.0" width="7.7" height="2.7" fill="#fcd46a"/>
<rect x="620.0" y="423.0" width="12.7" height="2.7" fill="#fddb7a"/>
<rect x="295.0" y="425.5" width="7.7" height="2.7" fill="#fff3cd"/>
<rect x="302.5" y="425.5" width="2.7" height="2.7" fill="#feefbc"/>
<rect x="305.0" y="425.5" width="10.2" height="2.7" fill="#fff3cd"/>
<rect x="315.0" y="425.5" width="7.7" height="2.7" fill="#fff7dd"/>
<rect x="322.5" y="425.5" width="7.7" height="2.7" fill="#fffbee"/>
<rect x="340.0" y="425.5" width="10.2" height="2.7" fill="#f1f9ff"/>
<rect x="350.0" y="425.5" width="7.7" height="2.7" fill="#e4f4fe"/>
<rect x="357.5" y="425.5" width="5.2" height="2.7" fill="#d6eefe"/>
<rect x="362.5" y="425.5" width="7.7" height="2.7" fill="#c9e9fd"/>
<rect x="370.0" y="425.5" width="7.7" height="2.7" fill="#bbe3fd"/>
<rect x="377.5" y="425.5" width="10.2" height="2.7" fill="#adddfc"/>
<rect x="387.5" y="425.5" width="20.2" height="2.7" fill="#9fd6fc"/>
<rect x="407.5" y="425.5" width="2.7" height="2.7" fill="#adddfc"/>
<rect x="410.0" y="425.5" width="5.2" height="2.7" fill="#bbe3fd"/>
<rect x="415.0" y="425.5" width="2.7" height="2.7" fill="#c9e9fd"/>
<rect x="417.5" y="425.5" width="2.7" height="2.7" fill="#d6eefe"/>
<rect x="420.0" y="425.5" width="2.7" height="2.7" fill="#e4f4fe"/>
<rect x="422.5" y="425.5" width="2.7" height="2.7" fill="#f1f9ff"/>
<rect x="430.0" y="425.5" width="2.7" height="2.7" fill="#fffbee"/>
<rect x="432.5" y="425.5" width="2.7" height="2.7" fill="#fff7dd"/>
<rect x="435.0" y="425.5" width="2.7" height="2.7" fill="#fff3cd"/>
<rect x="437.5" y="425.5" width="2.7" height="2.7" fill="#feefbc"/>
<rect x="440.0" y="425.5" width="2.7" height="2.7" fill="#feebab"/>
<rect x="442.5" y="425.5" width="5.2" height="2.7" fill="#fee79a"/>
<rect x="447.5" y="425.5" width="2.7" height="2.7" fill="#fee18a"/>
<rect x="450.0" y="425.5" width="10.2" height="2.7" fill="#fddb7a"/>
<rect x="460.0" y="425.5" width="12.7" height="2.7" fill="#fcd46a"/>
<rect x="472.5" y="425.5" width="15.2" height="2.7" fill="#fcce5a"/>
<rect x="487.5" y="425.5" width="17.7" height="2.7" fill="#fbc84a"/>
<rect x="505.0" y="425.5" width="12.7" height="2.7" fill="#fac13a"/>
<rect x="517.5" y="425.5" width="15.2" height="2.7" fill="#f9b831"/>
<rect x="532.5" y="425.5" width="87.7" height="2.7" fill="#f8ac2e"/>
<rect x="620.0" y="425.5" width="5.2" height="2.7" fill="#f9b831"/>
<rect x="625.0" y="425.5" width="7.7" height="2.7" fill="#fac13a"/>
<rect x="295.0" y="428.0" width="17.7" height="2.7" fill="#fff3cd"/>
<rect x="312.5" y="428.0" width="7.7" height="2.7" fill="#fff7dd"/>
<rect x="320.0" y="428.0" width="7.7" height="2.7" fill="#fffbee"/>
<rect x="335.0" y="428.0" width="10.2" height="2.7" fill="#f1f9ff"/>
<rect x="345.0" y="428.0" width="10.2" height="2.7" fill="#e4f4fe"/>
<rect x="355.0" y="428.0" width="5.2" height="2.7" fill="#d6eefe"/>
<rect x="360.0" y="428.0" width="7.7" height="2.7" fill="#c9e9fd"/>
<rect x="367.5" y="428.0" width="10.2" height="2.7" fill="#bbe3fd"/>
<rect x="377.5" y="428.0" width="10.2" height="2.7" fill="#adddfc"/>
<rect x="387.5" y="428.0" width="20.2" height="2.7" fill="#9fd6fc"/>
<rect x="407.5" y="428.0" width="5.2" height="2.7" fill="#adddfc"/>
<rect x="412.5" y="428.0" width="2.7" height="2.7" fill="#bbe3fd"/>
<rect x="415.0" y="428.0" width="2.7" height="2.7" fill="#c9e9fd"/>
<rect x="417.5" y="428.0" width="2.7" height="2.7" fill="#d6eefe"/>
<rect x="420.0" y="428.0" width="2.7" height="2.7" fill="#e4f4fe"/>
<rect x="422.5" y="428.0" width="2.7" height="2.7" fill="#f1f9ff"/>
<rect x="427.5" y="428.0" width="2.7" height="2.7" fill="#fffbee"/>
<rect x="430.0" y="428.0" width="2.7" height="2.7" fill="#fff3cd"/>
<rect x="432.5" y="428.0" width="2.7" height="2.7" fill="#feefbc"/>
<rect x="435.0" y="428.0" width="2.7" height="2.7" fill="#feebab"/>
<rect x="437.5" y="428.0" width="2.7" height="2.7" fill="#fee79a"/>
<rect x="440.0" y="428.0" width="2.7" height="2.7" fill="#fee18a"/>
<rect x="442.5" y="428.0" width="2.7" height="2.7" fill="#fddb7a"/>
<rect x="445.0" y="428.0" width="2.7" height="2.7" fill="#fcd46a"/>
<rect x="447.5" y="428.0" width="5.2" height="2.7" fill="#fcce5a"/>
<rect x="452.5" y="428.0" width="7.7" height="2.7" fill="#fbc84a"/>
<rect x="460.0" y="428.0" width="10.2" height="2.7" fill="#fac13a"/>
<rect x="470.0" y="428.0" width="15.2" height="2.7" fill="#f9b831"/>
<rect x="485.0" y="428.0" width="12.7" height="2.7" fill="#f8ac2e"/>
<rect x="497.5" y="428.0" width="12.7" height="2.7" fill="#f7a02b"/>
<rect x="510.0" y="428.0" width="12.7" height="2.7" fill="#f69428"/>
<rect x="522.5" y="428.0" width="12.7" height="2.7" fill="#f48825"/>
<rect x="535.0" y="428.0" width="20.2" height="2.7" fill="#f37c22"/>
<rect x="555.0" y="428.0" width="40.2" height="2.7" fill="#f26f1f"/>
<rect x="595.0" y="428.0" width="12.7" height="2.7" fill="#f0601d"/>
<rect x="607.5" y="428.0" width="7.7" height="2.7" fill="#ee521a"/>
<rect x="615.0" y="428.0" width="7.7" height="2.7" fill="#f0601d"/>
<rect x="622.5" y="428.0" width="5.2" height="2.7" fill="#f26f1f"/>
<rect x="627.5" y="428.0" width="5.2" height="2.7" fill="#f37c22"/>
<rect x="295.0" y="430.5" width="15.2" height="2.7" fill="#fff3cd"/>
<rect x="310.0" y="430.5" width="7.7" height="2.7" fill="#fff7dd"/>
<rect x="317.5" y="430.5" width="7.7" height="2.7" fill="#fffbee"/>
<rect x="332.5" y="430.5" width="7.7" height="2.7" fill="#f1f9ff"/>
<rect x="340.0" y="430.5" width="10.2" height="2.7" fill="#e4f4fe"/>
<rect x="350.0" y="430.5" width="7.7" height="2.7" fill="#d6eefe"/>
<rect x="357.5" y="430.5" width="10.2" height="2.7" fill="#c9e9fd"/>
<rect x="367.5" y="430.5" width="7.7" height="2.7" fill="#bbe3fd"/>
<rect x="375.0" y="430.5" width="12.7" height="2.7" fill="#adddfc"/>
<rect x="387.5" y="430.5" width="20.2" height="2.7" fill="#9fd6fc"/>
<rect x="407.5" y="430.5" width="5.2" height="2.7" fill="#adddfc"/>
<rect x="412.5" y="430.5" width="2.7" height="2.7" fill="#bbe3fd"/>
<rect x="415.0" y="430.5" width="2.7" height="2.7" fill="#c9e9fd"/>
<rect x="417.5" y="430.5" width="2.7" height="2.7" fill="#d6eefe"/>
<rect x="420.0" y="430.5" width="2.7" height="2.7" fill="#e4f4fe"/>
<rect x="425.0" y="430.5" width="2.7" height="2.7" fill="#fffbee"/>
<rect x="427.5" y="430.5" width="2.7" height="2.7" fill="#fff7dd"/>
<rect x="430.0" y="430.5" width="2.7" height="2.7" fill="#feefbc"/>
<rect x="432.5" y="430.5" width="2.7" height="2.7" fill="#feebab"/>
<rect x="435.0" y="430.5" width="2.7" height="2.7" fill="#fee79a"/>
<rect x="437.5" y="430.5" width="2.7" height="2.7" fill="#fee18a"/>
<rect x="440.0" y="430.5" width="2.7" height="2.7" fill="#fcd46a"/>
<rect x="442.5" y="430.5" width="5.2" height="2.7" fill="#fcce5a"/>
<rect x="447.5" y="430.5" width="2.7" height="2.7" fill="#fbc84a"/>
<rect x="450.0" y="430.5" width="5.2" height="2.7" fill="#fac13a"/>
<rect x="455.0" y="430.5" width="5.2" height="2.7" fill="#f9b831"/>
<rect x="460.0" y="430.5" width="7.7" height="2.7" fill="#f8ac2e"/>
<rect x="467.5" y="430.5" width="10.2" height="2.7" fill="#f7a02b"/>
<rect x="477.5" y="430.5" width="12.7" height="2.7" fill="#f69428"/>
<rect x="490.0" y="430.5" width="12.7" height="2.7" fill="#f48825"/>
<rect x="502.5" y="430.5" width="10.2" height="2.7" fill="#f37c22"/>
<rect x="512.5" y="430.5" width="10.2" height="2.7" fill="#f26f1f"/>
<rect x="522.5" y="430.5" width="12.7" height="2.7" fill="#f0601d"/>
<rect x="535.0" y="430.5" width="15.2" height="2.7" fill="#ee521a"/>
<rect x="550.0" y="430.5" width="27.7" height="2.7" fill="#ed4318"/>
<rect x="577.5" y="430.5" width="17.7" height="2.7" fill="#eb3415"/>
<rect x="595.0" y="430.5" width="7.7" height="2.7" fill="#ea2513"/>
<rect x="602.5" y="430.5" width="20.2" height="2.7" fill="#e81610"/>
<rect x="622.5" y="430.5" width="5.2" height="2.7" fill="#ea2513"/>
<rect x="627.5" y="430.5" width="5.2" height="2.7" fill="#eb3415"/>
<rect x="295.0" y="433.0" width="12.7" height="2.7" fill="#fff3cd"/>
<rect x="307.5" y="433.0" width="7.7" height="2.7" fill="#fff7dd"/>
<rect x="315.0" y="433.0" width="7.7" height="2.7" fill="#fffbee"/>
<rect x="327.5" y="433.0" width="7.7" height="2.7" fill="#f1f9ff"/>
<rect x="335.0" y="433.0" width="10.2" height="2.7" fill="#e4f4fe"/>
<rect x="345.0" y="433.0" width="10.2" height="2.7" fill="#d6eefe"/>
<rect x="355.0" y="433.0" width="10.2" height="2.7" fill="#c9e9fd"/>
<rect x="365.0" y="433.0" width="10.2" height="2.7" fill="#bbe3fd"/>
<rect x="375.0" y="433.0" width="17.7" height="2.7" fill="#adddfc"/>
<rect x="392.5" y="433.0" width="12.7" height="2.7" fill="#9fd6fc"/>
<rect x="405.0" y="433.0" width="5.2" height="2.7" fill="#adddfc"/>
<rect x="410.0" y="433.0" width="5.2" height="2.7" fill="#bbe3fd"/>
<rect x="415.0" y="433.0" width="2.7" height="2.7" fill="#c9e9fd"/>
<rect x="417.5" y="433.0" width="2.7" height="2.7" fill="#d6eefe"/>
<rect x="420.0" y="433.0" width="2.7" height="2.7" fill="#e4f4fe"/>
<rect x="425.0" y="433.0" width="2.7" height="2.7" fill="#fffbee"/>
<rect x="427.5" y="433.0" width="2.7" height="2.7" fill="#fff7dd"/>
<rect x="430.0" y="433.0" width="2.7" height="2.7" fill="#fff3cd"/>
<rect x="432.5" y="433.0" width="2.7" height="2.7" fill="#feebab"/>
<rect x="435.0" y="433.0" width="2.7" height="2.7" fill="#fee79a"/>
<rect x="437.5" y="433.0" width="2.7" height="2.7" fill="#fee18a"/>
<rect x="440.0" y="433.0" width="2.7" height="2.7" fill="#fddb7a"/>
<rect x="442.5" y="433.0" width="2.7" height="2.7" fill="#fcd46a"/>
<rect x="445.0" y="433.0" width="2.7" height="2.7" fill="#fcce5a"/>
<rect x="447.5" y="433.0" width="2.7" height="2.7" fill="#fbc84a"/>
<rect x="450.0" y="433.0" width="5.2" height="2.7" fill="#fac13a"/>
<rect x="455.0" y="433.0" width="7.7" height="2.7" fill="#f9b831"/>
<rect x="462.5" y="433.0" width="7.7" height="2.7" fill="#f8ac2e"/>
<rect x="470.0" y="433.0" width="10.2" height="2.7" fill="#f7a02b"/>
<rect x="480.0" y="433.0" width="12.7" height="2.7" fill="#f69428"/>
<rect x="492.5" y="433.0" width="12.7" height="2.7" fill="#f48825"/>
<rect x="505.0" y="433.0" width="10.2" height="2.7" fill="#f37c22"/>
<rect x="515.0" y="433.0" width="12.7" height="2.7" fill="#f26f1f"/>
<rect x="527.5" y="433.0" width="12.7" height="2.7" fill="#f0601d"/>
<rect x="540.0" y="433.0" width="20.2" height="2.7" fill="#ee521a"/>
<rect x="560.0" y="433.0" width="22.7" height="2.7" fill="#ed4318"/>
<rect x="582.5" y="433.0" width="12.7" height="2.7" fill="#eb3415"/>
<rect x="595.0" y="433.0" width="5.2" height="2.7" fill="#ea2513"/>
<rect x="600.0" y="433.0" width="25.2" height="2.7" fill="#e81610"/>
<rect x="625.0" y="433.0" width="2.7" height="2.7" fill="#ea2513"/>
<rect x="627.5" y="433.0" width="5.2" height="2.7" fill="#eb3415"/>
<rect x="295.0" y="435.5" width="2.7" height="2.7" fill="#fff7dd"/>
<rect x="297.5" y="435.5" width="7.7" height="2.7" fill="#fff3cd"/>
<rect x="305.0" y="435.5" width="7.7" height="2.7" fill="#fff7dd"/>
<rect x="312.5" y="435.5" width="7.7" height="2.7" fill="#fffbee"/>
<rect x="327.5" y="435.5" width="5.2" height="2.7" fill="#f1f9ff"/>
<rect x="332.5" y="435.5" width="7.7" height="2.7" fill="#e4f4fe"/>
<rect x="340.0" y="435.5" width="10.2" height="2.7" fill="#d6eefe"/>
<rect x="350.0" y="435.5" width="10.2" height="2.7" fill="#c9e9fd"/>
<rect x="360.0" y="435.5" width="15.2" height="2.7" fill="#bbe3fd"/>
<rect x="375.0" y="435.5" width="35.2" height="2.7" fill="#adddfc"/>
<rect x="410.0" y="435.5" width="5.2" height="2.7" fill="#bbe3fd"/>
<rect x="415.0" y="435.5" width="2.7" height="2.7" fill="#c9e9fd"/>
<rect x="417.5" y="435.5" width="2.7" height="2.7" fill="#d6eefe"/>
<rect x="420.0" y="435.5" width="2.7" height="2.7" fill="#e4f4fe"/>
<rect x="422.5" y="435.5" width="2.7" height="2.7" fill="#f1f9ff"/>
<rect x="427.5" y="435.5" width="2.7" height="2.7" fill="#fffbee"/>
<rect x="430.0" y="435.5" width="2.7" height="2.7" fill="#fff7dd"/>
<rect x="432.5" y="435.5" width="2.7" height="2.7" fill="#feefbc"/>
<rect x="435.0" y="435.5" width="2.7" height="2.7" fill="#feebab"/>
<rect x="437.5" y="435.5" width="2.7" height="2.7" fill="#fee79a"/>
<rect x="440.0" y="435.5" width="2.7" height="2.7" fill="#fee18a"/>
<rect x="442.5" y="435.5" width="5.2" height="2.7" fill="#fddb7a"/>
<rect x="447.5" y="435.5" width="2.7" height="2.7" fill="#fcd46a"/>
<rect x="450.0" y="435.5" width="5.2" height="2.7" fill="#fcce5a"/>
<rect x="455.0" y="435.5" width="10.2" height="2.7" fill="#fbc84a"/>
<rect x="465.0" y="435.5" width="10.2" height="2.7" fill="#fac13a"/>
<rect x="475.0" y="435.5" width="15.2" height="2.7" fill="#f9b831"/>
<rect x="490.0" y="435.5" width="12.7" height="2.7" fill="#f8ac2e"/>
<rect x="502.5" y="435.5" width="12.7" height="2.7" fill="#f7a02b"/>
<rect x="515.0" y="435.5" width="15.2" height="2.7" fill="#f69428"/>
<rect x="530.0" y="435.5" width="17.7" height="2.7" fill="#f48825"/>
<rect x="547.5" y="435.5" width="37.7" height="2.7" fill="#f37c22"/>
<rect x="585.0" y="435.5" width="12.7" height="2.7" fill="#f26f1f"/>
<rect x="597.5" y="435.5" width="5.2" height="2.7" fill="#f0601d"/>
<rect x="602.5" y="435.5" width="2.7" height="2.7" fill="#ee521a"/>
<rect x="605.0" y="435.5" width="2.7" height="2.7" fill="#ed4318"/>
<rect x="607.5" y="435.5" width="2.7" height="2.7" fill="#eb3415"/>
<rect x="610.0" y="435.5" width="7.7" height="2.7" fill="#ea2513"/>
<rect x="617.5" y="435.5" width="2.7" height="2.7" fill="#eb3415"/>
<rect x="620.0" y="435.5" width="2.7" height="2.7" fill="#ed4318"/>
<rect x="622.5" y="435.5" width="2.7" height="2.7" fill="#ee521a"/>
<rect x="625.0" y="435.5" width="2.7" height="2.7" fill="#f0601d"/>
<rect x="627.5" y="435.5" width="2.7" height="2.7" fill="#f26f1f"/>
<rect x="630.0" y="435.5" width="2.7" height="2.7" fill="#f37c22"/>
<rect x="295.0" y="438.0" width="17.7" height="2.7" fill="#fff7dd"/>
<rect x="312.5" y="438.0" width="5.2" height="2.7" fill="#fffbee"/>
<rect x="325.0" y="438.0" width="5.2" height="2.7" fill="#f1f9ff"/>
<rect x="330.0" y="438.0" width="7.7" height="2.7" fill="#e4f4fe"/>
<rect x="337.5" y="438.0" width="7.7" height="2.7" fill="#d6eefe"/>
<rect x="345.0" y="438.0" width="10.2" height="2.7" fill="#c9e9fd"/>
<rect x="355.0" y="438.0" width="15.2" height="2.7" fill="#bbe3fd"/>
<rect x="370.0" y="438.0" width="40.2" height="2.7" fill="#adddfc"/>
<rect x="410.0" y="438.0" width="5.2" height="2.7" fill="#bbe3fd"/>
<rect x="415.0" y="438.0" width="2.7" height="2.7" fill="#c9e9fd"/>
<rect x="417.5" y="438.0" width="2.7" height="2.7" fill="#d6eefe"/>
<rect x="420.0" y="438.0" width="5.2" height="2.7" fill="#e4f4fe"/>
<rect x="425.0" y="438.0" width="2.7" height="2.7" fill="#f1f9ff"/>
<rect x="430.0" y="438.0" width="2.7" height="2.7" fill="#fffbee"/>
<rect x="432.5" y="438.0" width="2.7" height="2.7" fill="#fff7dd"/>
<rect x="435.0" y="438.0" width="2.7" height="2.7" fill="#fff3cd"/>
<rect x="437.5" y="438.0" width="2.7" height="2.7" fill="#feefbc"/>
<rect x="440.0" y="438.0" width="5.2" height="2.7" fill="#feebab"/>
<rect x="445.0" y="438.0" width="2.7" height="2.7" fill="#fee79a"/>
<rect x="447.5" y="438.0" width="5.2" height="2.7" fill="#fee18a"/>
<rect x="452.5" y="438.0" width="7.7" height="2.7" fill="#fddb7a"/>
<rect x="460.0" y="438.0" width="15.2" height="2.7" fill="#fcd46a"/>
<rect x="475.0" y="438.0" width="17.7" height="2.7" fill="#fcce5a"/>
<rect x="492.5" y="438.0" width="15.2" height="2.7" fill="#fbc84a"/>
<rect x="507.5" y="438.0" width="17.7" height="2.7" fill="#fac13a"/>
<rect x="525.0" y="438.0" width="20.2" height="2.7" fill="#f9b831"/>
<rect x="545.0" y="438.0" width="52.7" height="2.7" fill="#f8ac2e"/>
<rect x="597.5" y="438.0" width="2.7" height="2.7" fill="#f7a02b"/>
<rect x="600.0" y="438.0" width="2.7" height="2.7" fill="#f69428"/>
<rect x="602.5" y="438.0" width="2.7" height="2.7" fill="#f48825"/>
<rect x="605.0" y="438.0" width="2.7" height="2.7" fill="#f37c22"/>
<rect x="607.5" y="438.0" width="5.2" height="2.7" fill="#f26f1f"/>
<rect x="612.5" y="438.0" width="5.2" height="2.7" fill="#f0601d"/>
<rect x="617.5" y="438.0" width="2.7" height="2.7" fill="#f26f1f"/>
<rect x="620.0" y="438.0" width="2.7" height="2.7" fill="#f37c22"/>
<rect x="622.5" y="438.0" width="2.7" height="2.7" fill="#f48825"/>
<rect x="625.0" y="438.0" width="2.7" height="2.7" fill="#f7a02b"/>
<rect x="627.5" y="438.0" width="2.7" height="2.7" fill="#f8ac2e"/>
<rect x="630.0" y="438.0" width="2.7" height="2.7" fill="#f9b831"/>
<rect x="295.0" y="440.5" width="17.7" height="2.7" fill="#fff7dd"/>
<rect x="312.5" y="440.5" width="5.2" height="2.7" fill="#fffbee"/>
<rect x="325.0" y="440.5" width="5.2" height="2.7" fill="#f1f9ff"/>
<rect x="330.0" y="440.5" width="7.7" height="2.7" fill="#e4f4fe"/>
<rect x="337.5" y="440.5" width="5.2" height="2.7" fill="#d6eefe"/>
<rect x="342.5" y="440.5" width="10.2" height="2.7" fill="#c9e9fd"/>
<rect x="352.5" y="440.5" width="10.2" height="2.7" fill="#bbe3fd"/>
<rect x="362.5" y="440.5" width="47.7" height="2.7" fill="#adddfc"/>
<rect x="410.0" y="440.5" width="5.2" height="2.7" fill="#bbe3fd"/>
<rect x="415.0" y="440.5" width="5.2" height="2.7" fill="#c9e9fd"/>
<rect x="420.0" y="440.5" width="2.7" height="2.7" fill="#d6eefe"/>
<rect x="422.5" y="440.5" width="5.2" height="2.7" fill="#e4f4fe"/>
<rect x="427.5" y="440.5" width="2.7" height="2.7" fill="#f1f9ff"/>
<rect x="432.5" y="440.5" width="2.7" height="2.7" fill="#fffbee"/>
<rect x="435.0" y="440.5" width="5.2" height="2.7" fill="#fff7dd"/>
<rect x="440.0" y="440.5" width="2.7" height="2.7" fill="#fff3cd"/>
<rect x="442.5" y="440.5" width="5.2" height="2.7" fill="#feefbc"/>
<rect x="447.5" y="440.5" width="2.7" height="2.7" fill="#feebab"/>
<rect x="450.0" y="440.5" width="10.2" height="2.7" fill="#fee79a"/>
<rect x="460.0" y="440.5" width="17.7" height="2.7" fill="#fee18a"/>
<rect x="477.5" y="440.5" width="17.7" height="2.7" fill="#fddb7a"/>
<rect x="495.0" y="440.5" width="17.7" height="2.7" fill="#fcd46a"/>
<rect x="512.5" y="440.5" width="17.7" height="2.7" fill="#fcce5a"/>
<rect x="530.0" y="440.5" width="67.7" height="2.7" fill="#fbc84a"/>
<rect x="597.5" y="440.5" width="2.7" height="2.7" fill="#fac13a"/>
<rect x="600.0" y="440.5" width="2.7" height="2.7" fill="#f9b831"/>
<rect x="602.5" y="440.5" width="2.7" height="2.7" fill="#f8ac2e"/>
<rect x="605.0" y="440.5" width="2.7" height="2.7" fill="#f7a02b"/>
<rect x="607.5" y="440.5" width="2.7" height="2.7" fill="#f69428"/>
<rect x="610.0" y="440.5" width="10.2" height="2.7" fill="#f48825"/>
<rect x="620.0" y="440.5" width="2.7" height="2.7" fill="#f7a02b"/>
<rect x="622.5" y="440.5" width="2.7" height="2.7" fill="#f8ac2e"/>
<rect x="625.0" y="440.5" width="2.7" height="2.7" fill="#f9b831"/>
<rect x="627.5" y="440.5" width="2.7" height="2.7" fill="#fbc84a"/>
<rect x="630.0" y="440.5" width="2.7" height="2.7" fill="#fcce5a"/>
<rect x="295.0" y="443.0" width="17.7" height="2.7" fill="#fff7dd"/>
<rect x="312.5" y="443.0" width="5.2" height="2.7" fill="#fffbee"/>
<rect x="325.0" y="443.0" width="5.2" height="2.7" fill="#f1f9ff"/>
<rect x="330.0" y="443.0" width="5.2" height="2.7" fill="#e4f4fe"/>
<rect x="335.0" y="443.0" width="7.7" height="2.7" fill="#d6eefe"/>
<rect x="342.5" y="443.0" width="7.7" height="2.7" fill="#c9e9fd"/>
<rect x="350.0" y="443.0" width="7.7" height="2.7" fill="#bbe3fd"/>
<rect x="357.5" y="443.0" width="25.2" height="2.7" fill="#adddfc"/>
<rect x="382.5" y="443.0" width="15.2" height="2.7" fill="#9fd6fc"/>
<rect x="397.5" y="443.0" width="12.7" height="2.7" fill="#adddfc"/>
<rect x="410.0" y="443.0" width="7.7" height="2.7" fill="#bbe3fd"/>
<rect x="417.5" y="443.0" width="2.7" height="2.7" fill="#c9e9fd"/>
<rect x="420.0" y="443.0" width="5.2" height="2.7" fill="#d6eefe"/>
<rect x="425.0" y="443.0" width="5.2" height="2.7" fill="#e4f4fe"/>
<rect x="430.0" y="443.0" width="2.7" height="2.7" fill="#f1f9ff"/>
<rect x="435.0" y="443.0" width="5.2" height="2.7" fill="#fffbee"/>
<rect x="440.0" y="443.0" width="2.7" height="2.7" fill="#fff7dd"/>
<rect x="442.5" y="443.0" width="5.2" height="2.7" fill="#fff3cd"/>
<rect x="447.5" y="443.0" width="5.2" height="2.7" fill="#feefbc"/>
<rect x="452.5" y="443.0" width="12.7" height="2.7" fill="#feebab"/>
<rect x="465.0" y="443.0" width="15.2" height="2.7" fill="#fee79a"/>
<rect x="480.0" y="443.0" width="17.7" height="2.7" fill="#fee18a"/>
<rect x="497.5" y="443.0" width="17.7" height="2.7" fill="#fddb7a"/>
<rect x="515.0" y="443.0" width="17.7" height="2.7" fill="#fcd46a"/>
<rect x="532.5" y="443.0" width="65.2" height="2.7" fill="#fcce5a"/>
<rect x="597.5" y="443.0" width="2.7" height="2.7" fill="#fbc84a"/>
<rect x="600.0" y="443.0" width="2.7" height="2.7" fill="#fac13a"/>
<rect x="602.5" y="443.0" width="2.7" height="2.7" fill="#f9b831"/>
<rect x="605.0" y="443.0" width="2.7" height="2.7" fill="#f8ac2e"/>
<rect x="607.5" y="443.0" width="2.7" height="2.7" fill="#f7a02b"/>
<rect x="610.0" y="443.0" width="2.7" height="2.7" fill="#f69428"/>
<rect x="612.5" y="443.0" width="2.7" height="2.7" fill="#f48825"/>
<rect x="615.0" y="443.0" width="5.2" height="2.7" fill="#f69428"/>
<rect x="620.0" y="443.0" width="2.7" height="2.7" fill="#f8ac2e"/>
<rect x="622.5" y="443.0" width="2.7" height="2.7" fill="#f9b831"/>
<rect x="625.0" y="443.0" width="2.7" height="2.7" fill="#fbc84a"/>
<rect x="627.5" y="443.0" width="2.7" height="2.7" fill="#fcce5a"/>
<rect x="630.0" y="443.0" width="2.7" height="2.7" fill="#fcd46a"/>
<rect x="295.0" y="445.5" width="17.7" height="2.7" fill="#fff7dd"/>
<rect x="312.5" y="445.5" width="7.7" height="2.7" fill="#fffbee"/>
<rect x="325.0" y="445.5" width="5.2" height="2.7" fill="#f1f9ff"/>
<rect x="330.0" y="445.5" width="7.7" height="2.7" fill="#e4f4fe"/>
<rect x="337.5" y="445.5" width="5.2" height="2.7" fill="#d6eefe"/>
<rect x="342.5" y="445.5" width="7.7" height="2.7" fill="#c9e9fd"/>
<rect x="350.0" y="445.5" width="7.7" height="2.7" fill="#bbe3fd"/>
<rect x="357.5" y="445.5" width="12.7" height="2.7" fill="#adddfc"/>
<rect x="370.0" y="445.5" width="37.7" height="2.7" fill="#9fd6fc"/>
<rect x="407.5" y="445.5" width="7.7" height="2.7" fill="#adddfc"/>
<rect x="415.0" y="445.5" width="5.2" height="2.7" fill="#bbe3fd"/>
<rect x="420.0" y="445.5" width="5.2" height="2.7" fill="#c9e9fd"/>
<rect x="425.0" y="445.5" width="2.7" height="2.7" fill="#d6eefe"/>
<rect x="427.5" y="445.5" width="5.2" height="2.7" fill="#e4f4fe"/>
<rect x="432.5" y="445.5" width="2.7" height="2.7" fill="#f1f9ff"/>
<rect x="440.0" y="445.5" width="5.2" height="2.7" fill="#fffbee"/>
<rect x="445.0" y="445.5" width="2.7" height="2.7" fill="#fff7dd"/>
<rect x="447.5" y="445.5" width="7.7" height="2.7" fill="#fff3cd"/>
<rect x="455.0" y="445.5" width="10.2" height="2.7" fill="#feefbc"/>
<rect x="465.0" y="445.5" width="12.7" height="2.7" fill="#feebab"/>
<rect x="477.5" y="445.5" width="15.2" height="2.7" fill="#fee79a"/>
<rect x="492.5" y="445.5" width="15.2" height="2.7" fill="#fee18a"/>
<rect x="507.5" y="445.5" width="15.2" height="2.7" fill="#fddb7a"/>
<rect x="522.5" y="445.5" width="22.7" height="2.7" fill="#fcd46a"/>
<rect x="545.0" y="445.5" width="30.2" height="2.7" fill="#fcce5a"/>
<rect x="575.0" y="445.5" width="20.2" height="2.7" fill="#fcd46a"/>
<rect x="595.0" y="445.5" width="5.2" height="2.7" fill="#fcce5a"/>
<rect x="600.0" y="445.5" width="2.7" height="2.7" fill="#fbc84a"/>
<rect x="602.5" y="445.5" width="2.7" height="2.7" fill="#fac13a"/>
<rect x="605.0" y="445.5" width="2.7" height="2.7" fill="#f9b831"/>
<rect x="607.5" y="445.5" width="2.7" height="2.7" fill="#f7a02b"/>
<rect x="610.0" y="445.5" width="7.7" height="2.7" fill="#f69428"/>
<rect x="617.5" y="445.5" width="2.7" height="2.7" fill="#f7a02b"/>
<rect x="620.0" y="445.5" width="2.7" height="2.7" fill="#f8ac2e"/>
<rect x="622.5" y="445.5" width="2.7" height="2.7" fill="#fac13a"/>
<rect x="625.0" y="445.5" width="2.7" height="2.7" fill="#fbc84a"/>
<rect x="627.5" y="445.5" width="2.7" height="2.7" fill="#fcd46a"/>
<rect x="630.0" y="445.5" width="2.7" height="2.7" fill="#fddb7a"/>
<rect x="295.0" y="448.0" width="17.7" height="2.7" fill="#fff7dd"/>
<rect x="312.5" y="448.0" width="7.7" height="2.7" fill="#fffbee"/>
<rect x="327.5" y="448.0" width="5.2" height="2.7" fill="#f1f9ff"/>
<rect x="332.5" y="448.0" width="5.2" height="2.7" fill="#e4f4fe"/>
<rect x="337.5" y="448.0" width="7.7" height="2.7" fill="#d6eefe"/>
<rect x="345.0" y="448.0" width="5.2" height="2.7" fill="#c9e9fd"/>
<rect x="350.0" y="448.0" width="7.7" height="2.7" fill="#bbe3fd"/>
<rect x="357.5" y="448.0" width="10.2" height="2.7" fill="#adddfc"/>
<rect x="367.5" y="448.0" width="45.2" height="2.7" fill="#9fd6fc"/>
<rect x="412.5" y="448.0" width="7.7" height="2.7" fill="#adddfc"/>
<rect x="420.0" y="448.0" width="5.2" height="2.7" fill="#bbe3fd"/>
<rect x="425.0" y="448.0" width="2.7" height="2.7" fill="#c9e9fd"/>
<rect x="427.5" y="448.0" width="5.2" height="2.7" fill="#d6eefe"/>
<rect x="432.5" y="448.0" width="5.2" height="2.7" fill="#e4f4fe"/>
<rect x="437.5" y="448.0" width="2.7" height="2.7" fill="#f1f9ff"/>
<rect x="445.0" y="448.0" width="5.2" height="2.7" fill="#fffbee"/>
<rect x="450.0" y="448.0" width="5.2" height="2.7" fill="#fff7dd"/>
<rect x="455.0" y="448.0" width="10.2" height="2.7" fill="#fff3cd"/>
<rect x="465.0" y="448.0" width="10.2" height="2.7" fill="#feefbc"/>
<rect x="475.0" y="448.0" width="12.7" height="2.7" fill="#feebab"/>
<rect x="487.5" y="448.0" width="12.7" height="2.7" fill="#fee79a"/>
<rect x="500.0" y="448.0" width="12.7" height="2.7" fill="#fee18a"/>
<rect x="512.5" y="448.0" width="15.2" height="2.7" fill="#fddb7a"/>
<rect x="527.5" y="448.0" width="27.7" height="2.7" fill="#fcd46a"/>
<rect x="555.0" y="448.0" width="7.7" height="2.7" fill="#fcce5a"/>
<rect x="562.5" y="448.0" width="35.2" height="2.7" fill="#fcd46a"/>
<rect x="597.5" y="448.0" width="5.2" height="2.7" fill="#fcce5a"/>
<rect x="602.5" y="448.0" width="2.7" height="2.7" fill="#fac13a"/>
<rect x="605.0" y="448.0" width="2.7" height="2.7" fill="#f9b831"/>
<rect x="607.5" y="448.0" width="2.7" height="2.7" fill="#f8ac2e"/>
<rect x="610.0" y="448.0" width="7.7" height="2.7" fill="#f7a02b"/>
<rect x="617.5" y="448.0" width="2.7" height="2.7" fill="#f8ac2e"/>
<rect x="620.0" y="448.0" width="2.7" height="2.7" fill="#f9b831"/>
<rect x="622.5" y="448.0" width="2.7" height="2.7" fill="#fbc84a"/>
<rect x="625.0" y="448.0" width="2.7" height="2.7" fill="#fcce5a"/>
<rect x="627.5" y="448.0" width="2.7" height="2.7" fill="#fddb7a"/>
<rect x="630.0" y="448.0" width="2.7" height="2.7" fill="#fee18a"/>
<rect x="295.0" y="450.5" width="20.2" height="2.7" fill="#fff7dd"/>
<rect x="315.0" y="450.5" width="7.7" height="2.7" fill="#fffbee"/>
<rect x="327.5" y="450.5" width="7.7" height="2.7" fill="#f1f9ff"/>
<rect x="335.0" y="450.5" width="5.2" height="2.7" fill="#e4f4fe"/>
<rect x="340.0" y="450.5" width="5.2" height="2.7" fill="#d6eefe"/>
<rect x="345.0" y="450.5" width="7.7" height="2.7" fill="#c9e9fd"/>
<rect x="352.5" y="450.5" width="7.7" height="2.7" fill="#bbe3fd"/>
<rect x="360.0" y="450.5" width="7.7" height="2.7" fill="#adddfc"/>
<rect x="367.5" y="450.5" width="15.2" height="2.7" fill="#9fd6fc"/>
<rect x="382.5" y="450.5" width="27.7" height="2.7" fill="#8fcefb"/>
<rect x="410.0" y="450.5" width="7.7" height="2.7" fill="#9fd6fc"/>
<rect x="417.5" y="450.5" width="7.7" height="2.7" fill="#adddfc"/>
<rect x="425.0" y="450.5" width="5.2" height="2.7" fill="#bbe3fd"/>
<rect x="430.0" y="450.5" width="2.7" height="2.7" fill="#c9e9fd"/>
<rect x="432.5" y="450.5" width="5.2" height="2.7" fill="#d6eefe"/>
<rect x="437.5" y="450.5" width="5.2" height="2.7" fill="#e4f4fe"/>
<rect x="442.5" y="450.5" width="2.7" height="2.7" fill="#f1f9ff"/>
<rect x="450.0" y="450.5" width="7.7" height="2.7" fill="#fffbee"/>
<rect x="457.5" y="450.5" width="7.7" height="2.7" fill="#fff7dd"/>
<rect x="465.0" y="450.5" width="10.2" height="2.7" fill="#fff3cd"/>
<rect x="475.0" y="450.5" width="10.2" height="2.7" fill="#feefbc"/>
<rect x="485.0" y="450.5" width="10.2" height="2.7" fill="#feebab"/>
<rect x="495.0" y="450.5" width="10.2" height="2.7" fill="#fee79a"/>
<rect x="505.0" y="450.5" width="12.7" height="2.7" fill="#fee18a"/>
<rect x="517.5" y="450.5" width="15.2" height="2.7" fill="#fddb7a"/>
<rect x="532.5" y="450.5" width="67.7" height="2.7" fill="#fcd46a"/>
<rect x="600.0" y="450.5" width="2.7" height="2.7" fill="#fcce5a"/>
<rect x="602.5" y="450.5" width="2.7" height="2.7" fill="#fbc84a"/>
<rect x="605.0" y="450.5" width="2.7" height="2.7" fill="#fac13a"/>
<rect x="607.5" y="450.5" width="2.7" height="2.7" fill="#f9b831"/>
<rect x="610.0" y="450.5" width="7.7" height="2.7" fill="#f8ac2e"/>
<rect x="617.5" y="450.5" width="2.7" height="2.7" fill="#f9b831"/>
<rect x="620.0" y="450.5" width="2.7" height="2.7" fill="#fac13a"/>
<rect x="622.5" y="450.5" width="2.7" height="2.7" fill="#fcce5a"/>
<rect x="625.0" y="450.5" width="2.7" height="2.7" fill="#fcd46a"/>
<rect x="627.5" y="450.5" width="2.7" height="2.7" fill="#fddb7a"/>
<rect x="630.0" y="450.5" width="2.7" height="2.7" fill="#fee18a"/>
<rect x="295.0" y="453.0" width="22.7" height="2.7" fill="#fff7dd"/>
<rect x="317.5" y="453.0" width="7.7" height="2.7" fill="#fffbee"/>
<rect x="330.0" y="453.0" width="7.7" height="2.7" fill="#f1f9ff"/>
<rect x="337.5" y="453.0" width="5.2" height="2.7" fill="#e4f4fe"/>
<rect x="342.5" y="453.0" width="5.2" height="2.7" fill="#d6eefe"/>
<rect x="347.5" y="453.0" width="7.7" height="2.7" fill="#c9e9fd"/>
<rect x="355.0" y="453.0" width="7.7" height="2.7" fill="#bbe3fd"/>
<rect x="362.5" y="453.0" width="7.7" height="2.7" fill="#adddfc"/>
<rect x="370.0" y="453.0" width="12.7" height="2.7" fill="#9fd6fc"/>
<rect x="382.5" y="453.0" width="35.2" height="2.7" fill="#8fcefb"/>
<rect x="417.5" y="453.0" width="7.7" height="2.7" fill="#9fd6fc"/>
<rect x="425.0" y="453.0" width="5.2" height="2.7" fill="#adddfc"/>
<rect x="430.0" y="453.0" width="5.2" height="2.7" fill="#bbe3fd"/>
<rect x="435.0" y="453.0" width="5.2" height="2.7" fill="#c9e9fd"/>
<rect x="440.0" y="453.0" width="5.2" height="2.7" fill="#d6eefe"/>
<rect x="445.0" y="453.0" width="2.7" height="2.7" fill="#e4f4fe"/>
<rect x="447.5" y="453.0" width="7.7" height="2.7" fill="#f1f9ff"/>
<rect x="460.0" y="453.0" width="7.7" height="2.7" fill="#fffbee"/>
<rect x="467.5" y="453.0" width="7.7" height="2.7" fill="#fff7dd"/>
<rect x="475.0" y="453.0" width="7.7" height="2.7" fill="#fff3cd"/>
<rect x="482.5" y="453.0" width="10.2" height="2.7" fill="#feefbc"/>
<rect x="492.5" y="453.0" width="10.2" height="2.7" fill="#feebab"/>
<rect x="502.5" y="453.0" width="10.2" height="2.7" fill="#fee79a"/>
<rect x="512.5" y="453.0" width="10.2" height="2.7" fill="#fee18a"/>
<rect x="522.5" y="453.0" width="15.2" height="2.7" fill="#fddb7a"/>
<rect x="537.5" y="453.0" width="45.2" height="2.7" fill="#fcd46a"/>
<rect x="582.5" y="453.0" width="15.2" height="2.7" fill="#fddb7a"/>
<rect x="597.5" y="453.0" width="5.2" height="2.7" fill="#fcd46a"/>
<rect x="602.5" y="453.0" width="2.7" height="2.7" fill="#fcce5a"/>
<rect x="605.0" y="453.0" width="2.7" height="2.7" fill="#fbc84a"/>
<rect x="607.5" y="453.0" width="12.7" height="2.7" fill="#fac13a"/>
<rect x="620.0" y="453.0" width="2.7" height="2.7" fill="#fbc84a"/>
<rect x="622.5" y="453.0" width="2.7" height="2.7" fill="#fcd46a"/>
<rect x="625.0" y="453.0" width="2.7" height="2.7" fill="#fddb7a"/>
<rect x="627.5" y="453.0" width="2.7" height="2.7" fill="#fee18a"/>
<rect x="630.0" y="453.0" width="2.7" height="2.7" fill="#fee79a"/>
<rect x="295.0" y="455.5" width="5.2" height="2.7" fill="#fff7dd"/>
<rect x="300.0" y="455.5" width="2.7" height="2.7" fill="#fff3cd"/>
<rect x="302.5" y="455.5" width="15.2" height="2.7" fill="#fff7dd"/>
<rect x="317.5" y="455.5" width="7.7" height="2.7" fill="#fffbee"/>
<rect x="332.5" y="455.5" width="7.7" height="2.7" fill="#f1f9ff"/>
<rect x="340.0" y="455.5" width="5.2" height="2.7" fill="#e4f4fe"/>
<rect x="345.0" y="455.5" width="7.7" height="2.7" fill="#d6eefe"/>
<rect x="352.5" y="455.5" width="5.2" height="2.7" fill="#c9e9fd"/>
<rect x="357.5" y="455.5" width="7.7" height="2.7" fill="#bbe3fd"/>
<rect x="365.0" y="455.5" width="10.2" height="2.7" fill="#adddfc"/>
<rect x="375.0" y="455.5" width="10.2" height="2.7" fill="#9fd6fc"/>
<rect x="385.0" y="455.5" width="15.2" height="2.7" fill="#8fcefb"/>
<rect x="400.0" y="455.5" width="12.7" height="2.7" fill="#80c6fb"/>
<rect x="412.5" y="455.5" width="12.7" height="2.7" fill="#8fcefb"/>
<rect x="425.0" y="455.5" width="7.7" height="2.7" fill="#9fd6fc"/>
<rect x="432.5" y="455.5" width="5.2" height="2.7" fill="#adddfc"/>
<rect x="437.5" y="455.5" width="5.2" height="2.7" fill="#bbe3fd"/>
<rect x="442.5" y="455.5" width="5.2" height="2.7" fill="#c9e9fd"/>
<rect x="447.5" y="455.5" width="5.2" height="2.7" fill="#d6eefe"/>
<rect x="452.5" y="455.5" width="5.2" height="2.7" fill="#e4f4fe"/>
<rect x="457.5" y="455.5" width="7.7" height="2.7" fill="#f1f9ff"/>
<rect x="470.0" y="455.5" width="7.7" height="2.7" fill="#fffbee"/>
<rect x="477.5" y="455.5" width="7.7" height="2.7" fill="#fff7dd"/>
<rect x="485.0" y="455.5" width="7.7" height="2.7" fill="#fff3cd"/>
<rect x="492.5" y="455.5" width="7.7" height="2.7" fill="#feefbc"/>
<rect x="500.0" y="455.5" width="7.7" height="2.7" fill="#feebab"/>
<rect x="507.5" y="455.5" width="10.2" height="2.7" fill="#fee79a"/>
<rect x="517.5" y="455.5" width="10.2" height="2.7" fill="#fee18a"/>
<rect x="527.5" y="455.5" width="17.7" height="2.7" fill="#fddb7a"/>
<rect x="545.0" y="455.5" width="30.2" height="2.7" fill="#fcd46a"/>
<rect x="575.0" y="455.5" width="27.7" height="2.7" fill="#fddb7a"/>
<rect x="602.5" y="455.5" width="2.7" height="2.7" fill="#fcd46a"/>
<rect x="605.0" y="455.5" width="5.2" height="2.7" fill="#fcce5a"/>
<rect x="610.0" y="455.5" width="5.2" height="2.7" fill="#fbc84a"/>
<rect x="615.0" y="455.5" width="5.2" height="2.7" fill="#fcce5a"/>
<rect x="620.0" y="455.5" width="2.7" height="2.7" fill="#fcd46a"/>
<rect x="622.5" y="455.5" width="2.7" height="2.7" fill="#fddb7a"/>
<rect x="625.0" y="455.5" width="2.7" height="2.7" fill="#fee18a"/>
<rect x="627.5" y="455.5" width="2.7" height="2.7" fill="#fee79a"/>
<rect x="630.0" y="455.5" width="2.7" height="2.7" fill="#feebab"/>
<rect x="295.0" y="458.0" width="25.2" height="2.7" fill="#fff7dd"/>
<rect x="320.0" y="458.0" width="7.7" height="2.7" fill="#fffbee"/>
<rect x="335.0" y="458.0" width="7.7" height="2.7" fill="#f1f9ff"/>
<rect x="342.5" y="458.0" width="5.2" height="2.7" fill="#e4f4fe"/>
<rect x="347.5" y="458.0" width="7.7" height="2.7" fill="#d6eefe"/>
<rect x="355.0" y="458.0" width="7.7" height="2.7" fill="#c9e9fd"/>
<rect x="362.5" y="458.0" width="10.2" height="2.7" fill="#bbe3fd"/>
<rect x="372.5" y="458.0" width="7.7" height="2.7" fill="#adddfc"/>
<rect x="380.0" y="458.0" width="12.7" height="2.7" fill="#9fd6fc"/>
<rect x="392.5" y="458.0" width="10.2" height="2.7" fill="#8fcefb"/>
<rect x="402.5" y="458.0" width="20.2" height="2.7" fill="#80c6fb"/>
<rect x="422.5" y="458.0" width="10.2" height="2.7" fill="#8fcefb"/>
<rect x="432.5" y="458.0" width="7.7" height="2.7" fill="#9fd6fc"/>
<rect x="440.0" y="458.0" width="5.2" height="2.7" fill="#adddfc"/>
<rect x="445.0" y="458.0" width="5.2" height="2.7" fill="#bbe3fd"/>
<rect x="450.0" y="458.0" width="7.7" height="2.7" fill="#c9e9fd"/>
<rect x="457.5" y="458.0" width="5.2" height="2.7" fill="#d6eefe"/>
<rect x="462.5" y="458.0" width="5.2" height="2.7" fill="#e4f4fe"/>
<rect x="467.5" y="458.0" width="7.7" height="2.7" fill="#f1f9ff"/>
<rect x="480.0" y="458.0" width="5.2" height="2.7" fill="#fffbee"/>
<rect x="485.0" y="458.0" width="7.7" height="2.7" fill="#fff7dd"/>
<rect x="492.5" y="458.0" width="7.7" height="2.7" fill="#fff3cd"/>
<rect x="500.0" y="458.0" width="7.7" height="2.7" fill="#feefbc"/>
<rect x="507.5" y="458.0" width="7.7" height="2.7" fill="#feebab"/>
<rect x="515.0" y="458.0" width="10.2" height="2.7" fill="#fee79a"/>
<rect x="525.0" y="458.0" width="12.7" height="2.7" fill="#fee18a"/>
<rect x="537.5" y="458.0" width="47.7" height="2.7" fill="#fddb7a"/>
<rect x="585.0" y="458.0" width="15.2" height="2.7" fill="#fee18a"/>
<rect x="600.0" y="458.0" width="7.7" height="2.7" fill="#fddb7a"/>
<rect x="607.5" y="458.0" width="10.2" height="2.7" fill="#fcd46a"/>
<rect x="617.5" y="458.0" width="5.2" height="2.7" fill="#fddb7a"/>
<rect x="622.5" y="458.0" width="2.7" height="2.7" fill="#fee18a"/>
<rect x="625.0" y="458.0" width="2.7" height="2.7" fill="#fee79a"/>
<rect x="627.5" y="458.0" width="5.2" height="2.7" fill="#feebab"/>
<rect x="295.0" y="460.5" width="25.2" height="2.7" fill="#fff7dd"/>
<rect x="320.0" y="460.5" width="10.2" height="2.7" fill="#fffbee"/>
<rect x="337.5" y="460.5" width="7.7" height="2.7" fill="#f1f9ff"/>
<rect x="345.0" y="460.5" width="7.7" height="2.7" fill="#e4f4fe"/>
<rect x="352.5" y="460.5" width="7.7" height="2.7" fill="#d6eefe"/>
<rect x="360.0" y="460.5" width="10.2" height="2.7" fill="#c9e9fd"/>
<rect x="370.0" y="460.5" width="7.7" height="2.7" fill="#bbe3fd"/>
<rect x="377.5" y="460.5" width="10.2" height="2.7" fill="#adddfc"/>
<rect x="387.5" y="460.5" width="10.2" height="2.7" fill="#9fd6fc"/>
<rect x="397.5" y="460.5" width="12.7" height="2.7" fill="#8fcefb"/>
<rect x="410.0" y="460.5" width="20.2" height="2.7" fill="#80c6fb"/>
<rect x="430.0" y="460.5" width="10.2" height="2.7" fill="#8fcefb"/>
<rect x="440.0" y="460.5" width="7.7" height="2.7" fill="#9fd6fc"/>
<rect x="447.5" y="460.5" width="7.7" height="2.7" fill="#adddfc"/>
<rect x="455.0" y="460.5" width="5.2" height="2.7" fill="#bbe3fd"/>
<rect x="460.0" y="460.5" width="7.7" height="2.7" fill="#c9e9fd"/>
<rect x="467.5" y="460.5" width="5.2" height="2.7" fill="#d6eefe"/>
<rect x="472.5" y="460.5" width="5.2" height="2.7" fill="#e4f4fe"/>
<rect x="477.5" y="460.5" width="5.2" height="2.7" fill="#f1f9ff"/>
<rect x="490.0" y="460.5" width="5.2" height="2.7" fill="#fffbee"/>
<rect x="495.0" y="460.5" width="5.2" height="2.7" fill="#fff7dd"/>
<rect x="500.0" y="460.5" width="7.7" height="2.7" fill="#fff3cd"/>
<rect x="507.5" y="460.5" width="7.7" height="2.7" fill="#feefbc"/>
<rect x="515.0" y="460.5" width="7.7" height="2.7" fill="#feebab"/>
<rect x="522.5" y="460.5" width="12.7" height="2.7" fill="#fee79a"/>
<rect x="535.0" y="460.5" width="22.7" height="2.7" fill="#fee18a"/>
<rect x="557.5" y="460.5" width="7.7" height="2.7" fill="#fddb7a"/>
<rect x="565.0" y="460.5" width="30.2" height="2.7" fill="#fee18a"/>
<rect x="595.0" y="460.5" width="2.7" height="2.7" fill="#fee79a"/>
<rect x="597.5" y="460.5" width="22.7" height="2.7" fill="#fee18a"/>
<rect x="620.0" y="460.5" width="5.2" height="2.7" fill="#fee79a"/>
<rect x="625.0" y="460.5" width="5.2" height="2.7" fill="#feebab"/>
<rect x="630.0" y="460.5" width="2.7" height="2.7" fill="#feefbc"/>
<rect x="295.0" y="463.0" width="27.7" height="2.7" fill="#fff7dd"/>
<rect x="322.5" y="463.0" width="7.7" height="2.7" fill="#fffbee"/>
<rect x="337.5" y="463.0" width="10.2" height="2.7" fill="#f1f9ff"/>
<rect x="347.5" y="463.0" width="7.7" height="2.7" fill="#e4f4fe"/>
<rect x="355.0" y="463.0" width="10.2" height="2.7" fill="#d6eefe"/>
<rect x="365.0" y="463.0" width="10.2" height="2.7" fill="#c9e9fd"/>
<rect x="375.0" y="463.0" width="12.7" height="2.7" fill="#bbe3fd"/>
<rect x="387.5" y="463.0" width="10.2" height="2.7" fill="#adddfc"/>
<rect x="397.5" y="463.0" width="7.7" height="2.7" fill="#9fd6fc"/>
<rect x="405.0" y="463.0" width="15.2" height="2.7" fill="#8fcefb"/>
<rect x="420.0" y="463.0" width="17.7" height="2.7" fill="#80c6fb"/>
<rect x="437.5" y="463.0" width="12.7" height="2.7" fill="#8fcefb"/>
<rect x="450.0" y="463.0" width="10.2" height="2.7" fill="#9fd6fc"/>
<rect x="460.0" y="463.0" width="5.2" height="2.7" fill="#adddfc"/>
<rect x="465.0" y="463.0" width="7.7" height="2.7" fill="#bbe3fd"/>
<rect x="472.5" y="463.0" width="5.2" height="2.7" fill="#c9e9fd"/>
<rect x="477.5" y="463.0" width="5.2" height="2.7" fill="#d6eefe"/>
<rect x="482.5" y="463.0" width="5.2" height="2.7" fill="#e4f4fe"/>
<rect x="487.5" y="463.0" width="5.2" height="2.7" fill="#f1f9ff"/>
<rect x="500.0" y="463.0" width="5.2" height="2.7" fill="#fffbee"/>
<rect x="505.0" y="463.0" width="5.2" height="2.7" fill="#fff7dd"/>
<rect x="510.0" y="463.0" width="7.7" height="2.7" fill="#fff3cd"/>
<rect x="517.5" y="463.0" width="7.7" height="2.7" fill="#feefbc"/>
<rect x="525.0" y="463.0" width="10.2" height="2.7" fill="#feebab"/>
<rect x="535.0" y="463.0" width="20.2" height="2.7" fill="#fee79a"/>
<rect x="555.0" y="463.0" width="17.7" height="2.7" fill="#fee18a"/>
<rect x="572.5" y="463.0" width="45.2" height="2.7" fill="#fee79a"/>
<rect x="617.5" y="463.0" width="7.7" height="2.7" fill="#feebab"/>
<rect x="625.0" y="463.0" width="5.2" height="2.7" fill="#feefbc"/>
<rect x="630.0" y="463.0" width="2.7" height="2.7" fill="#fff3cd"/>
<rect x="295.0" y="465.5" width="27.7" height="2.7" fill="#fff7dd"/>
<rect x="322.5" y="465.5" width="10.2" height="2.7" fill="#fffbee"/>
<rect x="340.0" y="465.5" width="10.2" height="2.7" fill="#f1f9ff"/>
<rect x="350.0" y="465.5" width="10.2" height="2.7" fill="#e4f4fe"/>
<rect x="360.0" y="465.5" width="12.7" height="2.7" fill="#d6eefe"/>
<rect x="372.5" y="465.5" width="12.7" height="2.7" fill="#c9e9fd"/>
<rect x="385.0" y="465.5" width="10.2" height="2.7" fill="#bbe3fd"/>
<rect x="395.0" y="465.5" width="10.2" height="2.7" fill="#adddfc"/>
<rect x="405.0" y="465.5" width="10.2" height="2.7" fill="#9fd6fc"/>
<rect x="415.0" y="465.5" width="15.2" height="2.7" fill="#8fcefb"/>
<rect x="430.0" y="465.5" width="20.2" height="2.7" fill="#80c6fb"/>
<rect x="450.0" y="465.5" width="12.7" height="2.7" fill="#8fcefb"/>
<rect x="462.5" y="465.5" width="7.7" height="2.7" fill="#9fd6fc"/>
<rect x="470.0" y="465.5" width="7.7" height="2.7" fill="#adddfc"/>
<rect x="477.5" y="465.5" width="5.2" height="2.7" fill="#bbe3fd"/>
<rect x="482.5" y="465.5" width="5.2" height="2.7" fill="#c9e9fd"/>
<rect x="487.5" y="465.5" width="5.2" height="2.7" fill="#d6eefe"/>
<rect x="492.5" y="465.5" width="5.2" height="2.7" fill="#e4f4fe"/>
<rect x="497.5" y="465.5" width="5.2" height="2.7" fill="#f1f9ff"/>
<rect x="510.0" y="465.5" width="5.2" height="2.7" fill="#fffbee"/>
<rect x="515.0" y="465.5" width="7.7" height="2.7" fill="#fff7dd"/>
<rect x="522.5" y="465.5" width="7.7" height="2.7" fill="#fff3cd"/>
<rect x="530.0" y="465.5" width="10.2" height="2.7" fill="#feefbc"/>
<rect x="540.0" y="465.5" width="20.2" height="2.7" fill="#feebab"/>
<rect x="560.0" y="465.5" width="15.2" height="2.7" fill="#fee79a"/>
<rect x="575.0" y="465.5" width="40.2" height="2.7" fill="#feebab"/>
<rect x="615.0" y="465.5" width="10.2" height="2.7" fill="#feefbc"/>
<rect x="625.0" y="465.5" width="7.7" height="2.7" fill="#fff3cd"/>
<rect x="295.0" y="468.0" width="27.7" height="2.7" fill="#fff7dd"/>
<rect x="322.5" y="468.0" width="10.2" height="2.7" fill="#fffbee"/>
<rect x="342.5" y="468.0" width="10.2" height="2.7" fill="#f1f9ff"/>
<rect x="352.5" y="468.0" width="12.7" height="2.7" fill="#e4f4fe"/>
<rect x="365.0" y="468.0" width="17.7" height="2.7" fill="#d6eefe"/>
<rect x="382.5" y="468.0" width="12.7" height="2.7" fill="#c9e9fd"/>
<rect x="395.0" y="468.0" width="12.7" height="2.7" fill="#bbe3fd"/>
<rect x="407.5" y="468.0" width="7.7" height="2.7" fill="#adddfc"/>
<rect x="415.0" y="468.0" width="10.2" height="2.7" fill="#9fd6fc"/>
<rect x="425.0" y="468.0" width="15.2" height="2.7" fill="#8fcefb"/>
<rect x="440.0" y="468.0" width="25.2" height="2.7" fill="#80c6fb"/>
<rect x="465.0" y="468.0" width="10.2" height="2.7" fill="#8fcefb"/>
<rect x="475.0" y="468.0" width="7.7" height="2.7" fill="#9fd6fc"/>
<rect x="482.5" y="468.0" width="5.2" height="2.7" fill="#adddfc"/>
<rect x="487.5" y="468.0" width="5.2" height="2.7" fill="#bbe3fd"/>
<rect x="492.5" y="468.0" width="7.7" height="2.7" fill="#c9e9fd"/>
<rect x="500.0" y="468.0" width="5.2" height="2.7" fill="#d6eefe"/>
<rect x="505.0" y="468.0" width="5.2" height="2.7" fill="#e4f4fe"/>
<rect x="510.0" y="468.0" width="5.2" height="2.7" fill="#f1f9ff"/>
<rect x="520.0" y="468.0" width="7.7" height="2.7" fill="#fffbee"/>
<rect x="527.5" y="468.0" width="7.7" height="2.7" fill="#fff7dd"/>
<rect x="535.0" y="468.0" width="10.2" height="2.7" fill="#fff3cd"/>
<rect x="545.0" y="468.0" width="70.2" height="2.7" fill="#feefbc"/>
<rect x="615.0" y="468.0" width="12.7" height="2.7" fill="#fff3cd"/>
<rect x="627.5" y="468.0" width="5.2" height="2.7" fill="#fff7dd"/>
<rect x="295.0" y="470.5" width="27.7" height="2.7" fill="#fff7dd"/>
<rect x="322.5" y="470.5" width="10.2" height="2.7" fill="#fffbee"/>
<rect x="342.5" y="470.5" width="12.7" height="2.7" fill="#f1f9ff"/>
<rect x="355.0" y="470.5" width="17.7" height="2.7" fill="#e4f4fe"/>
<rect x="372.5" y="470.5" width="22.7" height="2.7" fill="#d6eefe"/>
<rect x="395.0" y="470.5" width="12.7" height="2.7" fill="#c9e9fd"/>
<rect x="407.5" y="470.5" width="10.2" height="2.7" fill="#bbe3fd"/>
<rect x="417.5" y="470.5" width="10.2" height="2.7" fill="#adddfc"/>
<rect x="427.5" y="470.5" width="7.7" height="2.7" fill="#9fd6fc"/>
<rect x="435.0" y="470.5" width="12.7" height="2.7" fill="#8fcefb"/>
<rect x="447.5" y="470.5" width="30.2" height="2.7" fill="#80c6fb"/>
<rect x="477.5" y="470.5" width="10.2" height="2.7" fill="#8fcefb"/>
<rect x="487.5" y="470.5" width="5.2" height="2.7" fill="#9fd6fc"/>
<rect x="492.5" y="470.5" width="7.7" height="2.7" fill="#adddfc"/>
<rect x="500.0" y="470.5" width="5.2" height="2.7" fill="#bbe3fd"/>
<rect x="505.0" y="470.5" width="5.2" height="2.7" fill="#c9e9fd"/>
<rect x="510.0" y="470.5" width="5.2" height="2.7" fill="#d6eefe"/>
<rect x="515.0" y="470.5" width="5.2" height="2.7" fill="#e4f4fe"/>
<rect x="520.0" y="470.5" width="7.7" height="2.7" fill="#f1f9ff"/>
<rect x="532.5" y="470.5" width="10.2" height="2.7" fill="#fffbee"/>
<rect x="542.5" y="470.5" width="10.2" height="2.7" fill="#fff7dd"/>
<rect x="552.5" y="470.5" width="65.2" height="2.7" fill="#fff3cd"/>
<rect x="617.5" y="470.5" width="15.2" height="2.7" fill="#fff7dd"/>
<rect x="295.0" y="473.0" width="27.7" height="2.7" fill="#fff7dd"/>
<rect x="322.5" y="473.0" width="10.2" height="2.7" fill="#fffbee"/>
<rect x="342.5" y="473.0" width="15.2" height="2.7" fill="#f1f9ff"/>
<rect x="357.5" y="473.0" width="27.7" height="2.7" fill="#e4f4fe"/>
<rect x="385.0" y="473.0" width="22.7" height="2.7" fill="#d6eefe"/>
<rect x="407.5" y="473.0" width="12.7" height="2.7" fill="#c9e9fd"/>
<rect x="420.0" y="473.0" width="7.7" height="2.7" fill="#bbe3fd"/>
<rect x="427.5" y="473.0" width="10.2" height="2.7" fill="#adddfc"/>
<rect x="437.5" y="473.0" width="7.7" height="2.7" fill="#9fd6fc"/>
<rect x="445.0" y="473.0" width="10.2" height="2.7" fill="#8fcefb"/>
<rect x="455.0" y="473.0" width="35.2" height="2.7" fill="#80c6fb"/>
<rect x="490.0" y="473.0" width="7.7" height="2.7" fill="#8fcefb"/>
<rect x="497.5" y="473.0" width="7.7" height="2.7" fill="#9fd6fc"/>
<rect x="505.0" y="473.0" width="5.2" height="2.7" fill="#adddfc"/>
<rect x="510.0" y="473.0" width="7.7" height="2.7" fill="#bbe3fd"/>
<rect x="517.5" y="473.0" width="5.2" height="2.7" fill="#c9e9fd"/>
<rect x="522.5" y="473.0" width="5.2" height="2.7" fill="#d6eefe"/>
<rect x="527.5" y="473.0" width="5.2" height="2.7" fill="#e4f4fe"/>
<rect x="532.5" y="473.0" width="7.7" height="2.7" fill="#f1f9ff"/>
<rect x="547.5" y="473.0" width="12.7" height="2.7" fill="#fffbee"/>
<rect x="560.0" y="473.0" width="65.2" height="2.7" fill="#fff7dd"/>
<rect x="625.0" y="473.0" width="7.7" height="2.7" fill="#fffbee"/>
<rect x="295.0" y="475.5" width="27.7" height="2.7" fill="#fff7dd"/>
<rect x="322.5" y="475.5" width="12.7" height="2.7" fill="#fffbee"/>
<rect x="345.0" y="475.5" width="15.2" height="2.7" fill="#f1f9ff"/>
<rect x="360.0" y="475.5" width="42.7" height="2.7" fill="#e4f4fe"/>
<rect x="402.5" y="475.5" width="17.7" height="2.7" fill="#d6eefe"/>
<rect x="420.0" y="475.5" width="10.2" height="2.7" fill="#c9e9fd"/>
<rect x="430.0" y="475.5" width="10.2" height="2.7" fill="#bbe3fd"/>
<rect x="440.0" y="475.5" width="7.7" height="2.7" fill="#adddfc"/>
<rect x="447.5" y="475.5" width="7.7" height="2.7" fill="#9fd6fc"/>
<rect x="455.0" y="475.5" width="7.7" height="2.7" fill="#8fcefb"/>
<rect x="462.5" y="475.5" width="15.2" height="2.7" fill="#80c6fb"/>
<rect x="477.5" y="475.5" width="12.7" height="2.7" fill="#71befb"/>
<rect x="490.0" y="475.5" width="12.7" height="2.7" fill="#80c6fb"/>
<rect x="502.5" y="475.5" width="7.7" height="2.7" fill="#8fcefb"/>
<rect x="510.0" y="475.5" width="7.7" height="2.7" fill="#9fd6fc"/>
<rect x="517.5" y="475.5" width="5.2" height="2.7" fill="#adddfc"/>
<rect x="522.5" y="475.5" width="5.2" height="2.7" fill="#bbe3fd"/>
<rect x="527.5" y="475.5" width="7.7" height="2.7" fill="#c9e9fd"/>
<rect x="535.0" y="475.5" width="5.2" height="2.7" fill="#d6eefe"/>
<rect x="540.0" y="475.5" width="7.7" height="2.7" fill="#e4f4fe"/>
<rect x="547.5" y="475.5" width="7.7" height="2.7" fill="#f1f9ff"/>
<rect x="567.5" y="475.5" width="65.2" height="2.7" fill="#fffbee"/>
<rect x="295.0" y="478.0" width="27.7" height="2.7" fill="#fff7dd"/>
<rect x="322.5" y="478.0" width="12.7" height="2.7" fill="#fffbee"/>
<rect x="345.0" y="478.0" width="17.7" height="2.7" fill="#f1f9ff"/>
<rect x="362.5" y="478.0" width="55.2" height="2.7" fill="#e4f4fe"/>
<rect x="417.5" y="478.0" width="15.2" height="2.7" fill="#d6eefe"/>
<rect x="432.5" y="478.0" width="7.7" height="2.7" fill="#c9e9fd"/>
<rect x="440.0" y="478.0" width="10.2" height="2.7" fill="#bbe3fd"/>
<rect x="450.0" y="478.0" width="7.7" height="2.7" fill="#adddfc"/>
<rect x="457.5" y="478.0" width="7.7" height="2.7" fill="#9fd6fc"/>
<rect x="465.0" y="478.0" width="7.7" height="2.7" fill="#8fcefb"/>
<rect x="472.5" y="478.0" width="12.7" height="2.7" fill="#80c6fb"/>
<rect x="485.0" y="478.0" width="17.7" height="2.7" fill="#71befb"/>
<rect x="502.5" y="478.0" width="10.2" height="2.7" fill="#80c6fb"/>
<rect x="512.5" y="478.0" width="7.7" height="2.7" fill="#8fcefb"/>
<rect x="520.0" y="478.0" width="7.7" height="2.7" fill="#9fd6fc"/>
<rect x="527.5" y="478.0" width="7.7" height="2.7" fill="#adddfc"/>
<rect x="535.0" y="478.0" width="5.2" height="2.7" fill="#bbe3fd"/>
<rect x="540.0" y="478.0" width="7.7" height="2.7" fill="#c9e9fd"/>
<rect x="547.5" y="478.0" width="5.2" height="2.7" fill="#d6eefe"/>
<rect x="552.5" y="478.0" width="7.7" height="2.7" fill="#e4f4fe"/>
<rect x="560.0" y="478.0" width="10.2" height="2.7" fill="#f1f9ff"/>
<rect x="590.0" y="478.0" width="42.7" height="2.7" fill="#fffbee"/>
<rect x="295.0" y="480.5" width="27.7" height="2.7" fill="#fff7dd"/>
<rect x="322.5" y="480.5" width="12.7" height="2.7" fill="#fffbee"/>
<rect x="347.5" y="480.5" width="20.2" height="2.7" fill="#f1f9ff"/>
<rect x="367.5" y="480.5" width="65.2" height="2.7" fill="#e4f4fe"/>
<rect x="432.5" y="480.5" width="10.2" height="2.7" fill="#d6eefe"/>
<rect x="442.5" y="480.5" width="10.2" height="2.7" fill="#c9e9fd"/>
<rect x="452.5" y="480.5" width="7.7" height="2.7" fill="#bbe3fd"/>
<rect x="460.0" y="480.5" width="5.2" height="2.7" fill="#adddfc"/>
<rect x="465.0" y="480.5" width="7.7" height="2.7" fill="#9fd6fc"/>
<rect x="472.5" y="480.5" width="10.2" height="2.7" fill="#8fcefb"/>
<rect x="482.5" y="480.5" width="10.2" height="2.7" fill="#80c6fb"/>
<rect x="492.5" y="480.5" width="20.2" height="2.7" fill="#71befb"/>
<rect x="512.5" y="480.5" width="12.7" height="2.7" fill="#80c6fb"/>
<rect x="525.0" y="480.5" width="7.7" height="2.7" fill="#8fcefb"/>
<rect x="532.5" y="480.5" width="5.2" height="2.7" fill="#9fd6fc"/>
<rect x="537.5" y="480.5" width="7.7" height="2.7" fill="#adddfc"/>
<rect x="545.0" y="480.5" width="7.7" height="2.7" fill="#bbe3fd"/>
<rect x="552.5" y="480.5" width="5.2" height="2.7" fill="#c9e9fd"/>
<rect x="557.5" y="480.5" width="7.7" height="2.7" fill="#d6eefe"/>
<rect x="565.0" y="480.5" width="10.2" height="2.7" fill="#e4f4fe"/>
<rect x="575.0" y="480.5" width="12.7" height="2.7" fill="#f1f9ff"/>
<rect x="295.0" y="483.0" width="27.7" height="2.7" fill="#fff7dd"/>
<rect x="322.5" y="483.0" width="12.7" height="2.7" fill="#fffbee"/>
<rect x="347.5" y="483.0" width="77.7" height="2.7" fill="#f1f9ff"/>
<rect x="425.0" y="483.0" width="17.7" height="2.7" fill="#e4f4fe"/>
<rect x="442.5" y="483.0" width="10.2" height="2.7" fill="#d6eefe"/>
<rect x="452.5" y="483.0" width="10.2" height="2.7" fill="#c9e9fd"/>
<rect x="462.5" y="483.0" width="7.7" height="2.7" fill="#bbe3fd"/>
<rect x="470.0" y="483.0" width="5.2" height="2.7" fill="#adddfc"/>
<rect x="475.0" y="483.0" width="7.7" height="2.7" fill="#9fd6fc"/>
<rect x="482.5" y="483.0" width="10.2" height="2.7" fill="#8fcefb"/>
<rect x="492.5" y="483.0" width="12.7" height="2.7" fill="#80c6fb"/>
<rect x="505.0" y="483.0" width="15.2" height="2.7" fill="#71befb"/>
<rect x="520.0" y="483.0" width="12.7" height="2.7" fill="#80c6fb"/>
<rect x="532.5" y="483.0" width="7.7" height="2.7" fill="#8fcefb"/>
<rect x="540.0" y="483.0" width="7.7" height="2.7" fill="#9fd6fc"/>
<rect x="547.5" y="483.0" width="7.7" height="2.7" fill="#adddfc"/>
<rect x="555.0" y="483.0" width="7.7" height="2.7" fill="#bbe3fd"/>
<rect x="562.5" y="483.0" width="7.7" height="2.7" fill="#c9e9fd"/>
<rect x="570.0" y="483.0" width="7.7" height="2.7" fill="#d6eefe"/>
<rect x="577.5" y="483.0" width="10.2" height="2.7" fill="#e4f4fe"/>
<rect x="587.5" y="483.0" width="15.2" height="2.7" fill="#f1f9ff"/>
<rect x="295.0" y="485.5" width="27.7" height="2.7" fill="#fff7dd"/>
<rect x="322.5" y="485.5" width="12.7" height="2.7" fill="#fffbee"/>
<rect x="347.5" y="485.5" width="92.7" height="2.7" fill="#f1f9ff"/>
<rect x="440.0" y="485.5" width="15.2" height="2.7" fill="#e4f4fe"/>
<rect x="455.0" y="485.5" width="10.2" height="2.7" fill="#d6eefe"/>
<rect x="465.0" y="485.5" width="7.7" height="2.7" fill="#c9e9fd"/>
<rect x="472.5" y="485.5" width="7.7" height="2.7" fill="#bbe3fd"/>
<rect x="480.0" y="485.5" width="7.7" height="2.7" fill="#adddfc"/>
<rect x="487.5" y="485.5" width="7.7" height="2.7" fill="#9fd6fc"/>
<rect x="495.0" y="485.5" width="10.2" height="2.7" fill="#8fcefb"/>
<rect x="505.0" y="485.5" width="35.2" height="2.7" fill="#80c6fb"/>
<rect x="540.0" y="485.5" width="10.2" height="2.7" fill="#8fcefb"/>
<rect x="550.0" y="485.5" width="7.7" height="2.7" fill="#9fd6fc"/>
<rect x="557.5" y="485.5" width="5.2" height="2.7" fill="#adddfc"/>
<rect x="562.5" y="485.5" width="7.7" height="2.7" fill="#bbe3fd"/>
<rect x="570.0" y="485.5" width="7.7" height="2.7" fill="#c9e9fd"/>
<rect x="577.5" y="485.5" width="10.2" height="2.7" fill="#d6eefe"/>
<rect x="587.5" y="485.5" width="10.2" height="2.7" fill="#e4f4fe"/>
<rect x="597.5" y="485.5" width="17.7" height="2.7" fill="#f1f9ff"/>
<rect x="295.0" y="488.0" width="27.7" height="2.7" fill="#fff7dd"/>
<rect x="322.5" y="488.0" width="12.7" height="2.7" fill="#fffbee"/>
<rect x="350.0" y="488.0" width="105.2" height="2.7" fill="#f1f9ff"/>
<rect x="455.0" y="488.0" width="12.7" height="2.7" fill="#e4f4fe"/>
<rect x="467.5" y="488.0" width="10.2" height="2.7" fill="#d6eefe"/>
<rect x="477.5" y="488.0" width="7.7" height="2.7" fill="#c9e9fd"/>
<rect x="485.0" y="488.0" width="7.7" height="2.7" fill="#bbe3fd"/>
<rect x="492.5" y="488.0" width="7.7" height="2.7" fill="#adddfc"/>
<rect x="500.0" y="488.0" width="10.2" height="2.7" fill="#9fd6fc"/>
<rect x="510.0" y="488.0" width="12.7" height="2.7" fill="#8fcefb"/>
<rect x="522.5" y="488.0" width="17.7" height="2.7" fill="#80c6fb"/>
<rect x="540.0" y="488.0" width="15.2" height="2.7" fill="#8fcefb"/>
<rect x="555.0" y="488.0" width="7.7" height="2.7" fill="#9fd6fc"/>
<rect x="562.5" y="488.0" width="7.7" height="2.7" fill="#adddfc"/>
<rect x="570.0" y="488.0" width="7.7" height="2.7" fill="#bbe3fd"/>
<rect x="577.5" y="488.0" width="7.7" height="2.7" fill="#c9e9fd"/>
<rect x="585.0" y="488.0" width="10.2" height="2.7" fill="#d6eefe"/>
<rect x="595.0" y="488.0" width="12.7" height="2.7" fill="#e4f4fe"/>
<rect x="607.5" y="488.0" width="20.2" height="2.7" fill="#f1f9ff"/>
<rect x="295.0" y="490.5" width="27.7" height="2.7" fill="#fff7dd"/>
<rect x="322.5" y="490.5" width="12.7" height="2.7" fill="#fffbee"/>
<rect x="350.0" y="490.5" width="67.7" height="2.7" fill="#f1f9ff"/>
<rect x="450.0" y="490.5" width="22.7" height="2.7" fill="#f1f9ff"/>
<rect x="472.5" y="490.5" width="10.2" height="2.7" fill="#e4f4fe"/>
<rect x="482.5" y="490.5" width="10.2" height="2.7" fill="#d6eefe"/>
<rect x="492.5" y="490.5" width="10.2" height="2.7" fill="#c9e9fd"/>
<rect x="502.5" y="490.5" width="7.7" height="2.7" fill="#bbe3fd"/>
<rect x="510.0" y="490.5" width="10.2" height="2.7" fill="#adddfc"/>
<rect x="520.0" y="490.5" width="12.7" height="2.7" fill="#9fd6fc"/>
<rect x="532.5" y="490.5" width="17.7" height="2.7" fill="#8fcefb"/>
<rect x="550.0" y="490.5" width="15.2" height="2.7" fill="#9fd6fc"/>
<rect x="565.0" y="490.5" width="10.2" height="2.7" fill="#adddfc"/>
<rect x="575.0" y="490.5" width="10.2" height="2.7" fill="#bbe3fd"/>
<rect x="585.0" y="490.5" width="7.7" height="2.7" fill="#c9e9fd"/>
<rect x="592.5" y="490.5" width="10.2" height="2.7" fill="#d6eefe"/>
<rect x="602.5" y="490.5" width="12.7" height="2.7" fill="#e4f4fe"/>
<rect x="615.0" y="490.5" width="17.7" height="2.7" fill="#f1f9ff"/>
<rect x="295.0" y="493.0" width="27.7" height="2.7" fill="#fff7dd"/>
<rect x="322.5" y="493.0" width="12.7" height="2.7" fill="#fffbee"/>
<rect x="352.5" y="493.0" width="57.7" height="2.7" fill="#f1f9ff"/>
<rect x="480.0" y="493.0" width="15.2" height="2.7" fill="#f1f9ff"/>
<rect x="495.0" y="493.0" width="10.2" height="2.7" fill="#e4f4fe"/>
<rect x="505.0" y="493.0" width="10.2" height="2.7" fill="#d6eefe"/>
<rect x="515.0" y="493.0" width="7.7" height="2.7" fill="#c9e9fd"/>
<rect x="522.5" y="493.0" width="12.7" height="2.7" fill="#bbe3fd"/>
<rect x="535.0" y="493.0" width="40.2" height="2.7" fill="#adddfc"/>
<rect x="575.0" y="493.0" width="12.7" height="2.7" fill="#bbe3fd"/>
<rect x="587.5" y="493.0" width="10.2" height="2.7" fill="#c9e9fd"/>
<rect x="597.5" y="493.0" width="10.2" height="2.7" fill="#d6eefe"/>
<rect x="607.5" y="493.0" width="12.7" height="2.7" fill="#e4f4fe"/>
<rect x="620.0" y="493.0" width="12.7" height="2.7" fill="#f1f9ff"/>
<rect x="295.0" y="495.5" width="25.2" height="2.7" fill="#fff7dd"/>
<rect x="320.0" y="495.5" width="15.2" height="2.7" fill="#fffbee"/>
<rect x="352.5" y="495.5" width="50.2" height="2.7" fill="#f1f9ff"/>
<rect x="437.5" y="495.5" width="62.7" height="2.7" fill="#fffbee"/>
<rect x="512.5" y="495.5" width="10.2" height="2.7" fill="#f1f9ff"/>
<rect x="522.5" y="495.5" width="10.2" height="2.7" fill="#e4f4fe"/>
<rect x="532.5" y="495.5" width="7.7" height="2.7" fill="#d6eefe"/>
<rect x="540.0" y="495.5" width="12.7" height="2.7" fill="#c9e9fd"/>
<rect x="552.5" y="495.5" width="32.7" height="2.7" fill="#bbe3fd"/>
<rect x="585.0" y="495.5" width="15.2" height="2.7" fill="#c9e9fd"/>
<rect x="600.0" y="495.5" width="12.7" height="2.7" fill="#d6eefe"/>
<rect x="612.5" y="495.5" width="15.2" height="2.7" fill="#e4f4fe"/>
<rect x="627.5" y="495.5" width="5.2" height="2.7" fill="#f1f9ff"/>
<rect x="295.0" y="498.0" width="25.2" height="2.7" fill="#fff7dd"/>
<rect x="320.0" y="498.0" width="17.7" height="2.7" fill="#fffbee"/>
<rect x="355.0" y="498.0" width="42.7" height="2.7" fill="#f1f9ff"/>
<rect x="427.5" y="498.0" width="22.7" height="2.7" fill="#fffbee"/>
<rect x="450.0" y="498.0" width="20.2" height="2.7" fill="#fff7dd"/>
<rect x="470.0" y="498.0" width="40.2" height="2.7" fill="#fff3cd"/>
<rect x="510.0" y="498.0" width="12.7" height="2.7" fill="#fff7dd"/>
<rect x="522.5" y="498.0" width="10.2" height="2.7" fill="#fffbee"/>
<rect x="540.0" y="498.0" width="7.7" height="2.7" fill="#f1f9ff"/>
<rect x="547.5" y="498.0" width="10.2" height="2.7" fill="#e4f4fe"/>
<rect x="557.5" y="498.0" width="12.7" height="2.7" fill="#d6eefe"/>
<rect x="570.0" y="498.0" width="30.2" height="2.7" fill="#c9e9fd"/>
<rect x="600.0" y="498.0" width="17.7" height="2.7" fill="#d6eefe"/>
<rect x="617.5" y="498.0" width="15.2" height="2.7" fill="#e4f4fe"/>
<rect x="295.0" y="500.5" width="25.2" height="2.7" fill="#fff7dd"/>
<rect x="320.0" y="500.5" width="17.7" height="2.7" fill="#fffbee"/>
<rect x="357.5" y="500.5" width="35.2" height="2.7" fill="#f1f9ff"/>
<rect x="422.5" y="500.5" width="20.2" height="2.7" fill="#fffbee"/>
<rect x="442.5" y="500.5" width="15.2" height="2.7" fill="#fff7dd"/>
<rect x="457.5" y="500.5" width="12.7" height="2.7" fill="#fff3cd"/>
<rect x="470.0" y="500.5" width="17.7" height="2.7" fill="#feefbc"/>
<rect x="487.5" y="500.5" width="27.7" height="2.7" fill="#feebab"/>
<rect x="515.0" y="500.5" width="12.7" height="2.7" fill="#feefbc"/>
<rect x="527.5" y="500.5" width="10.2" height="2.7" fill="#fff3cd"/>
<rect x="537.5" y="500.5" width="7.7" height="2.7" fill="#fff7dd"/>
<rect x="545.0" y="500.5" width="7.7" height="2.7" fill="#fffbee"/>
<rect x="560.0" y="500.5" width="7.7" height="2.7" fill="#f1f9ff"/>
<rect x="567.5" y="500.5" width="10.2" height="2.7" fill="#e4f4fe"/>
<rect x="577.5" y="500.5" width="45.2" height="2.7" fill="#d6eefe"/>
<rect x="622.5" y="500.5" width="10.2" height="2.7" fill="#e4f4fe"/>
<rect x="295.0" y="503.0" width="25.2" height="2.7" fill="#fff7dd"/>
<rect x="320.0" y="503.0" width="17.7" height="2.7" fill="#fffbee"/>
<rect x="362.5" y="503.0" width="25.2" height="2.7" fill="#f1f9ff"/>
<rect x="420.0" y="503.0" width="17.7" height="2.7" fill="#fffbee"/>
<rect x="437.5" y="503.0" width="15.2" height="2.7" fill="#fff7dd"/>
<rect x="452.5" y="503.0" width="12.7" height="2.7" fill="#fff3cd"/>
<rect x="465.0" y="503.0" width="12.7" height="2.7" fill="#feefbc"/>
<rect x="477.5" y="503.0" width="12.7" height="2.7" fill="#feebab"/>
<rect x="490.0" y="503.0" width="35.2" height="2.7" fill="#fee79a"/>
<rect x="525.0" y="503.0" width="10.2" height="2.7" fill="#feebab"/>
<rect x="535.0" y="503.0" width="10.2" height="2.7" fill="#feefbc"/>
<rect x="545.0" y="503.0" width="5.2" height="2.7" fill="#fff3cd"/>
<rect x="550.0" y="503.0" width="7.7" height="2.7" fill="#fff7dd"/>
<rect x="557.5" y="503.0" width="7.7" height="2.7" fill="#fffbee"/>
<rect x="570.0" y="503.0" width="10.2" height="2.7" fill="#f1f9ff"/>
<rect x="580.0" y="503.0" width="10.2" height="2.7" fill="#e4f4fe"/>
<rect x="590.0" y="503.0" width="40.2" height="2.7" fill="#d6eefe"/>
<rect x="630.0" y="503.0" width="2.7" height="2.7" fill="#e4f4fe"/>
<rect x="295.0" y="505.5" width="25.2" height="2.7" fill="#fff7dd"/>
<rect x="320.0" y="505.5" width="20.2" height="2.7" fill="#fffbee"/>
<rect x="420.0" y="505.5" width="17.7" height="2.7" fill="#fffbee"/>
<rect x="437.5" y="505.5" width="15.2" height="2.7" fill="#fff7dd"/>
<rect x="452.5" y="505.5" width="12.7" height="2.7" fill="#fff3cd"/>
<rect x="465.0" y="505.5" width="12.7" height="2.7" fill="#feefbc"/>
<rect x="477.5" y="505.5" width="12.7" height="2.7" fill="#feebab"/>
<rect x="490.0" y="505.5" width="42.7" height="2.7" fill="#fee79a"/>
<rect x="532.5" y="505.5" width="10.2" height="2.7" fill="#feebab"/>
<rect x="542.5" y="505.5" width="7.7" height="2.7" fill="#feefbc"/>
<rect x="550.0" y="505.5" width="7.7" height="2.7" fill="#fff3cd"/>
<rect x="557.5" y="505.5" width="7.7" height="2.7" fill="#fff7dd"/>
<rect x="565.0" y="505.5" width="5.2" height="2.7" fill="#fffbee"/>
<rect x="577.5" y="505.5" width="7.7" height="2.7" fill="#f1f9ff"/>
<rect x="585.0" y="505.5" width="12.7" height="2.7" fill="#e4f4fe"/>
<rect x="597.5" y="505.5" width="35.2" height="2.7" fill="#d6eefe"/>
<rect x="295.0" y="508.0" width="27.7" height="2.7" fill="#fff7dd"/>
<rect x="322.5" y="508.0" width="22.7" height="2.7" fill="#fffbee"/>
<rect x="420.0" y="508.0" width="22.7" height="2.7" fill="#fffbee"/>
<rect x="442.5" y="508.0" width="15.2" height="2.7" fill="#fff7dd"/>
<rect x="457.5" y="508.0" width="15.2" height="2.7" fill="#fff3cd"/>
<rect x="472.5" y="508.0" width="12.7" height="2.7" fill="#feefbc"/>
<rect x="485.0" y="508.0" width="20.2" height="2.7" fill="#feebab"/>
<rect x="505.0" y="508.0" width="20.2" height="2.7" fill="#fee79a"/>
<rect x="525.0" y="508.0" width="17.7" height="2.7" fill="#feebab"/>
<rect x="542.5" y="508.0" width="7.7" height="2.7" fill="#feefbc"/>
<rect x="550.0" y="508.0" width="10.2" height="2.7" fill="#fff3cd"/>
<rect x="560.0" y="508.0" width="7.7" height="2.7" fill="#fff7dd"/>
<rect x="567.5" y="508.0" width="5.2" height="2.7" fill="#fffbee"/>
<rect x="582.5" y="508.0" width="7.7" height="2.7" fill="#f1f9ff"/>
<rect x="590.0" y="508.0" width="12.7" height="2.7" fill="#e4f4fe"/>
<rect x="602.5" y="508.0" width="30.2" height="2.7" fill="#d6eefe"/>
<rect x="295.0" y="510.5" width="35.2" height="2.7" fill="#fff7dd"/>
<rect x="330.0" y="510.5" width="25.2" height="2.7" fill="#fffbee"/>
<rect x="422.5" y="510.5" width="27.7" height="2.7" fill="#fffbee"/>
<rect x="450.0" y="510.5" width="20.2" height="2.7" fill="#fff7dd"/>
<rect x="470.0" y="510.5" width="17.7" height="2.7" fill="#fff3cd"/>
<rect x="487.5" y="510.5" width="55.2" height="2.7" fill="#feefbc"/>
<rect x="542.5" y="510.5" width="12.7" height="2.7" fill="#fff3cd"/>
<rect x="555.0" y="510.5" width="10.2" height="2.7" fill="#fff7dd"/>
<rect x="565.0" y="510.5" width="10.2" height="2.7" fill="#fffbee"/>
<rect x="582.5" y="510.5" width="10.2" height="2.7" fill="#f1f9ff"/>
<rect x="592.5" y="510.5" width="12.7" height="2.7" fill="#e4f4fe"/>
<rect x="605.0" y="510.5" width="27.7" height="2.7" fill="#d6eefe"/>
<rect x="295.0" y="513.0" width="47.7" height="2.7" fill="#fff7dd"/>
<rect x="342.5" y="513.0" width="37.7" height="2.7" fill="#fffbee"/>
<rect x="427.5" y="513.0" width="37.7" height="2.7" fill="#fffbee"/>
<rect x="465.0" y="513.0" width="27.7" height="2.7" fill="#fff7dd"/>
<rect x="492.5" y="513.0" width="47.7" height="2.7" fill="#fff3cd"/>
<rect x="540.0" y="513.0" width="17.7" height="2.7" fill="#fff7dd"/>
<rect x="557.5" y="513.0" width="15.2" height="2.7" fill="#fffbee"/>
<rect x="582.5" y="513.0" width="12.7" height="2.7" fill="#f1f9ff"/>
<rect x="595.0" y="513.0" width="17.7" height="2.7" fill="#e4f4fe"/>
<rect x="612.5" y="513.0" width="20.2" height="2.7" fill="#d6eefe"/>
<rect x="295.0" y="515.5" width="60.2" height="2.7" fill="#fff7dd"/>
<rect x="355.0" y="515.5" width="47.7" height="2.7" fill="#fffbee"/>
<rect x="442.5" y="515.5" width="52.7" height="2.7" fill="#fffbee"/>
<rect x="495.0" y="515.5" width="45.2" height="2.7" fill="#fff7dd"/>
<rect x="540.0" y="515.5" width="27.7" height="2.7" fill="#fffbee"/>
<rect x="585.0" y="515.5" width="15.2" height="2.7" fill="#f1f9ff"/>
<rect x="600.0" y="515.5" width="27.7" height="2.7" fill="#e4f4fe"/>
<rect x="627.5" y="515.5" width="5.2" height="2.7" fill="#d6eefe"/>
<rect x="295.0" y="518.0" width="17.7" height="2.7" fill="#fff7dd"/>
<rect x="312.5" y="518.0" width="17.7" height="2.7" fill="#fff3cd"/>
<rect x="330.0" y="518.0" width="37.7" height="2.7" fill="#fff7dd"/>
<rect x="367.5" y="518.0" width="40.2" height="2.7" fill="#fffbee"/>
<rect x="467.5" y="518.0" width="87.7" height="2.7" fill="#fffbee"/>
<rect x="585.0" y="518.0" width="25.2" height="2.7" fill="#f1f9ff"/>
<rect x="610.0" y="518.0" width="22.7" height="2.7" fill="#e4f4fe"/>
<rect x="295.0" y="520.5" width="70.2" height="2.7" fill="#fff7dd"/>
<rect x="365.0" y="520.5" width="42.7" height="2.7" fill="#fffbee"/>
<rect x="590.0" y="520.5" width="35.2" height="2.7" fill="#f1f9ff"/>
<rect x="625.0" y="520.5" width="7.7" height="2.7" fill="#e4f4fe"/>
<path d="M279.0,319.8 L448.9,319.8 L448.9,326.2 L450.5,328.1 L445.7,332.7 L439.3,335.9 L429.7,335.9 L428.9,338.3 L426.4,342.4 L423.2,345.6 L420.8,347.5 L418.0,350.4 L416.8,347.2 L416.5,342.4 L418.4,339.5 L423.2,335.1 L420.0,333.0 L413.6,336.7 L407.2,336.7 L399.2,337.0 L394.4,337.5 L392.0,339.1 L387.2,343.2 L386.4,345.6 L392.0,346.7 L393.6,348.3 L392.0,352.1 L391.7,354.5 L388.0,357.7 L383.6,362.5 L380.0,363.7 L377.6,364.0 L376.3,364.5 L374.7,366.6 L372.4,368.5 L374.0,372.2 L374.3,375.5 L372.7,376.4 L369.5,377.2 L369.1,375.5 L369.9,373.0 L367.1,371.8 L366.8,368.8 L362.6,367.6 L360.9,369.8 L362.0,366.9 L360.7,366.7 L358.3,368.4 L355.9,369.7 L355.3,370.6 L357.4,372.4 L358.0,372.9 L360.2,371.8 L363.1,372.9 L359.6,374.7 L358.0,376.6 L359.6,378.5 L360.7,380.8 L362.2,381.6 L362.2,382.9 L360.7,383.9 L362.5,384.7 L361.5,386.8 L359.9,388.7 L358.5,390.8 L356.7,393.1 L354.3,394.8 L351.9,396.0 L349.5,396.8 L348.2,397.1 L345.5,398.1 L343.7,398.6 L343.4,400.0 L342.6,398.1 L340.7,397.9 L338.3,398.9 L337.5,400.2 L336.4,402.1 L337.6,404.5 L339.4,406.5 L341.2,408.3 L342.0,411.8 L341.8,414.1 L339.9,415.4 L338.0,416.2 L335.2,418.9 L334.8,417.3 L335.2,416.2 L334.1,415.7 L331.9,414.4 L330.9,413.1 L328.5,412.3 L328.0,411.0 L327.1,411.2 L325.8,415.8 L326.7,417.9 L327.7,421.0 L329.0,421.8 L330.6,422.8 L332.5,425.0 L332.5,427.3 L333.8,430.5 L332.7,430.7 L331.1,429.6 L329.1,428.3 L328.2,426.5 L327.5,423.6 L327.4,422.3 L324.3,419.6 L324.7,416.7 L324.8,412.6 L324.0,410.5 L323.4,406.2 L321.9,406.0 L319.5,407.3 L317.9,406.8 L318.1,402.9 L316.6,401.3 L314.9,399.4 L313.9,396.8 L311.8,397.1 L309.4,397.6 L306.2,398.1 L306.1,399.4 L305.1,400.7 L303.0,401.6 L301.6,403.2 L298.7,406.0 L297.1,407.1 L295.5,407.8 L295.3,411.0 L295.5,413.4 L294.7,416.2 L293.4,416.7 L279.0,416.7 Z" fill="#d4d4d4" stroke="#111" stroke-width="0.7" stroke-linejoin="round"/>
<path d="M294.8,417.0 L296.9,419.1 L298.0,421.2 L297.7,422.5 L296.0,423.3 L295.0,422.6 L294.7,420.2 Z" fill="#d4d4d4" stroke="#111" stroke-width="0.7" stroke-linejoin="round"/>
<path d="M394.2,359.3 L396.3,361.3 L398.4,361.8 L399.8,361.3 L399.7,362.9 L397.3,364.2 L396.5,365.1 L393.9,364.0 L392.6,365.3 L391.2,365.9 L391.0,364.5 L392.0,362.9 L393.4,362.9 L393.7,361.3 Z" fill="#d4d4d4" stroke="#111" stroke-width="0.7" stroke-linejoin="round"/>
<path d="M392.6,365.8 L393.6,367.4 L394.4,369.0 L393.6,370.9 L392.8,371.8 L392.8,374.2 L392.6,375.1 L390.9,376.4 L389.7,376.0 L389.3,376.9 L386.9,376.9 L385.1,377.6 L384.4,378.7 L383.3,378.1 L383.8,376.8 L381.9,376.8 L380.0,377.2 L378.4,378.1 L376.6,377.2 L379.0,375.6 L380.8,375.5 L383.6,375.3 L384.8,374.7 L386.1,372.6 L386.9,373.4 L388.8,372.4 L390.4,370.9 L391.2,368.8 L391.0,367.2 L391.7,366.3 Z" fill="#d4d4d4" stroke="#111" stroke-width="0.7" stroke-linejoin="round"/>
<path d="M375.0,378.5 L376.6,378.1 L377.7,379.0 L378.2,380.6 L377.2,382.3 L376.1,382.6 L375.5,381.9 L375.5,380.2 L374.5,379.7 Z" fill="#d4d4d4" stroke="#111" stroke-width="0.7" stroke-linejoin="round"/>
<path d="M379.3,379.2 L380.8,379.0 L382.7,378.2 L382.4,377.6 L380.6,377.2 L379.3,378.1 Z" fill="#d4d4d4" stroke="#111" stroke-width="0.7" stroke-linejoin="round"/>
<path d="M394.4,345.3 L396.0,346.4 L396.3,349.3 L396.8,353.2 L395.2,356.9 L394.4,358.3 L394.1,357.5 L394.4,354.5 L394.5,351.2 L393.9,348.0 Z" fill="#d4d4d4" stroke="#111" stroke-width="0.7" stroke-linejoin="round"/>
<path d="M360.7,392.1 L362.3,392.4 L361.5,394.8 L360.4,397.3 L359.3,395.7 L359.6,393.6 Z" fill="#d4d4d4" stroke="#111" stroke-width="0.7" stroke-linejoin="round"/>
<path d="M341.0,401.6 L343.9,400.3 L344.7,401.1 L343.4,403.2 L341.5,403.1 Z" fill="#d4d4d4" stroke="#111" stroke-width="0.7" stroke-linejoin="round"/>
<path d="M360.1,402.9 L361.2,402.8 L362.6,402.9 L362.8,405.2 L362.6,406.5 L361.7,407.3 L361.4,408.9 L362.3,410.0 L363.9,410.4 L365.4,410.5 L365.7,412.5 L363.3,411.3 L360.4,410.4 L360.1,409.4 L359.4,408.9 L358.8,406.5 L359.8,404.4 Z" fill="#d4d4d4" stroke="#111" stroke-width="0.7" stroke-linejoin="round"/>
<path d="M362.3,421.5 L363.6,420.5 L365.9,419.6 L366.8,418.4 L367.9,417.1 L369.1,417.9 L369.7,421.0 L369.1,422.6 L367.8,423.8 L367.5,422.8 L365.9,422.5 L365.2,420.7 L363.9,420.7 L362.5,421.7 Z" fill="#d4d4d4" stroke="#111" stroke-width="0.7" stroke-linejoin="round"/>
<path d="M366.2,412.6 L367.9,412.9 L368.3,414.7 L367.1,416.3 L366.7,416.3 L366.0,414.4 Z" fill="#d4d4d4" stroke="#111" stroke-width="0.7" stroke-linejoin="round"/>
<path d="M362.2,413.6 L364.2,414.1 L365.5,414.9 L364.6,417.8 L363.0,417.3 L362.2,415.7 Z" fill="#d4d4d4" stroke="#111" stroke-width="0.7" stroke-linejoin="round"/>
<path d="M354.6,419.2 L356.4,417.5 L358.0,415.8 L358.5,414.6 L358.0,415.0 L355.4,418.3 Z" fill="#d4d4d4" stroke="#111" stroke-width="0.7" stroke-linejoin="round"/>
<path d="M359.6,411.0 L361.0,411.2 L361.5,412.5 L361.0,413.1 L360.2,412.6 Z" fill="#d4d4d4" stroke="#111" stroke-width="0.7" stroke-linejoin="round"/>
<path d="M341.3,430.4 L342.4,429.6 L345.0,428.9 L347.9,427.6 L349.3,425.7 L351.7,424.4 L352.7,423.1 L353.8,421.5 L355.4,423.1 L358.0,424.4 L355.6,426.0 L355.3,427.6 L357.4,431.2 L355.8,431.2 L355.1,432.8 L354.6,434.3 L353.7,436.0 L353.3,438.3 L352.7,439.1 L350.5,439.4 L347.9,438.0 L346.0,438.5 L343.6,437.5 L343.1,435.5 L342.1,433.9 L341.5,432.2 Z" fill="#d4d4d4" stroke="#111" stroke-width="0.7" stroke-linejoin="round"/>
<path d="M319.5,423.8 L323.1,424.4 L324.3,426.0 L326.6,427.6 L327.9,429.4 L330.6,430.9 L332.0,432.2 L333.2,433.4 L334.3,435.7 L336.7,437.8 L336.5,440.1 L336.4,442.2 L334.4,442.3 L330.7,439.3 L329.1,437.3 L327.2,433.6 L325.8,432.2 L325.0,430.1 L322.1,427.0 L320.5,425.7 Z" fill="#d4d4d4" stroke="#111" stroke-width="0.7" stroke-linejoin="round"/>
<path d="M335.4,443.8 L336.7,442.3 L340.4,443.0 L343.7,443.9 L347.3,443.9 L350.1,445.2 L350.1,446.7 L344.7,446.0 L341.0,445.2 L337.3,444.8 Z" fill="#d4d4d4" stroke="#111" stroke-width="0.7" stroke-linejoin="round"/>
<path d="M351.3,445.9 L357.5,446.5 L363.8,446.0 L366.3,445.9 L370.3,446.2 L370.0,447.0 L367.1,448.1 L364.7,449.4 L359.1,448.9 L355.9,447.3 L351.9,447.0 Z" fill="#d4d4d4" stroke="#111" stroke-width="0.7" stroke-linejoin="round"/>
<path d="M358.2,441.7 L358.3,438.5 L357.2,437.3 L358.8,432.6 L359.3,431.5 L360.7,430.7 L363.9,431.3 L366.3,430.4 L367.5,430.4 L366.0,432.2 L363.9,432.0 L361.0,432.2 L359.9,433.6 L361.5,434.4 L364.4,434.1 L362.3,435.9 L361.2,435.9 L363.1,437.8 L363.6,440.6 L361.5,440.4 L360.4,437.2 L359.6,437.5 L359.8,441.7 Z" fill="#d4d4d4" stroke="#111" stroke-width="0.7" stroke-linejoin="round"/>
<path d="M371.1,429.2 L373.1,430.4 L372.3,432.0 L373.1,433.6 L371.6,434.1 L371.0,432.0 Z" fill="#d4d4d4" stroke="#111" stroke-width="0.7" stroke-linejoin="round"/>
<path d="M376.8,434.7 L379.2,433.4 L381.6,434.3 L382.4,436.8 L384.0,438.1 L387.2,435.2 L392.8,437.0 L398.4,438.9 L400.8,441.7 L403.2,442.5 L403.7,445.7 L407.2,449.4 L404.0,449.3 L400.8,445.9 L397.6,445.1 L396.5,447.3 L392.8,447.5 L389.6,445.9 L388.0,446.4 L387.7,444.9 L389.3,443.8 L387.2,440.9 L383.5,439.9 L380.0,439.3 L378.4,437.3 Z" fill="#d4d4d4" stroke="#111" stroke-width="0.7" stroke-linejoin="round"/>
<path d="M404.8,441.7 L408.0,441.7 L410.4,440.1 L410.9,441.7 L408.0,443.0 L404.8,442.7 Z" fill="#d4d4d4" stroke="#111" stroke-width="0.7" stroke-linejoin="round"/>
<path d="M348.7,468.3 L349.5,474.8 L351.1,481.2 L351.1,487.1 L352.7,489.3 L355.9,489.3 L360.7,487.4 L365.5,486.1 L368.7,484.8 L373.5,483.8 L376.8,483.7 L381.6,485.3 L384.0,489.0 L387.2,486.1 L388.0,490.1 L391.2,493.4 L393.6,494.7 L397.6,494.8 L401.3,495.8 L404.0,493.8 L407.2,493.4 L409.1,487.5 L412.0,482.9 L412.8,478.0 L412.0,474.0 L408.5,469.1 L405.6,465.9 L401.3,463.5 L399.8,458.6 L399.7,456.7 L396.8,455.4 L395.2,450.2 L393.7,453.1 L393.6,457.0 L392.0,461.1 L389.6,460.3 L387.2,458.6 L384.4,457.0 L384.0,452.5 L386.1,452.7 L385.6,451.0 L381.6,451.9 L379.2,451.4 L376.8,452.5 L374.3,456.7 L371.9,457.0 L369.5,455.4 L367.1,457.0 L364.7,460.3 L362.6,462.2 L360.7,464.3 L354.3,466.1 L350.3,467.8 Z" fill="#d4d4d4" stroke="#111" stroke-width="0.7" stroke-linejoin="round"/>
<path d="M398.6,498.5 L404.5,498.9 L404.5,501.0 L402.4,503.1 L400.0,501.4 Z" fill="#d4d4d4" stroke="#111" stroke-width="0.7" stroke-linejoin="round"/>
<path d="M443.6,488.4 L446.2,490.1 L448.6,492.6 L452.9,493.7 L450.5,496.3 L448.9,499.8 L447.0,499.5 L447.3,497.1 L445.4,496.1 L446.6,493.4 Z" fill="#d4d4d4" stroke="#111" stroke-width="0.7" stroke-linejoin="round"/>
<path d="M443.6,498.2 L446.2,500.1 L444.9,502.2 L441.2,504.7 L440.1,507.1 L437.7,508.1 L433.7,507.1 L433.7,505.8 L436.5,503.9 L440.1,501.9 L442.5,499.8 Z" fill="#d4d4d4" stroke="#111" stroke-width="0.7" stroke-linejoin="round"/>
<path d="M477.7,319.8 L477.7,327.8 L481.7,328.5 L485.8,329.0 L485.0,330.7 L480.9,331.9 L480.1,334.3 L483.4,336.2 L485.0,337.8 L489.8,338.3 L491.4,339.9 L487.4,342.4 L480.9,344.0 L480.1,344.3 L485.8,343.5 L490.6,342.0 L493.8,340.4 L497.0,338.3 L501.0,336.7 L504.2,335.1 L508.2,335.1 L512.2,335.9 L517.8,337.0 L521.8,338.6 L525.8,340.7 L529.0,344.0 L530.6,345.6 L533.8,348.0 L537.1,351.2 L540.3,353.3 L544.3,354.6 L545.1,356.9 L545.1,358.5 L544.9,361.7 L544.4,365.0 L544.6,367.6 L546.0,369.2 L547.5,371.4 L548.4,373.4 L548.6,374.7 L550.5,377.1 L553.7,377.9 L556.0,379.5 L556.3,380.3 L556.8,381.6 L557.9,383.9 L559.3,385.5 L560.8,388.1 L561.9,389.2 L564.0,392.1 L567.3,395.8 L568.0,394.8 L566.4,393.2 L564.8,390.0 L562.9,387.7 L561.1,385.2 L560.0,382.7 L559.8,381.4 L561.4,382.3 L563.2,384.4 L565.1,387.6 L566.4,390.0 L569.1,392.4 L572.3,395.3 L574.7,398.1 L574.9,399.9 L576.0,401.8 L579.5,403.4 L584.3,405.0 L588.8,407.0 L593.2,407.4 L596.4,409.9 L599.6,411.3 L603.3,413.1 L606.3,415.8 L607.6,417.3 L610.5,418.9 L613.4,420.7 L615.6,420.7 L616.1,419.4 L617.7,419.6 L618.8,420.5 L619.6,420.7 L619.6,423.9 L620.1,426.7 L618.5,428.8 L617.2,430.4 L615.9,431.2 L615.0,433.1 L614.2,435.2 L614.5,437.0 L615.9,438.3 L613.7,439.7 L613.8,441.7 L615.3,443.8 L616.9,447.0 L618.8,450.6 L621.4,454.8 L622.5,457.5 L625.2,459.4 L628.4,461.5 L631.1,462.7 L631.5,465.1 L631.3,469.9 L631.0,473.2 L630.5,477.2 L629.4,481.2 L629.1,484.5 L628.7,487.7 L627.1,490.9 L626.5,493.5 L625.9,496.6 L625.7,499.8 L626.0,502.2 L625.5,505.5 L624.6,508.7 L622.8,511.1 L623.6,514.4 L624.4,516.8 L625.2,519.2 L626.8,520.8 L634.8,523.2 L634.8,414.2 L629.2,414.2 L628.4,412.8 L626.0,414.7 L622.8,415.4 L622.0,417.5 L620.4,418.7 L618.0,417.8 L615.6,417.5 L614.0,417.9 L611.8,418.6 L610.5,417.3 L609.7,415.2 L609.8,413.4 L610.3,410.2 L610.3,408.6 L606.8,407.0 L602.8,407.3 L602.1,406.5 L602.3,404.5 L603.6,402.9 L603.7,400.5 L604.4,398.1 L600.4,398.4 L599.1,398.7 L598.8,400.5 L596.4,402.1 L594.8,402.8 L592.0,403.2 L590.0,402.4 L588.3,401.3 L587.7,398.9 L587.2,396.5 L587.1,393.2 L587.5,390.8 L588.0,388.4 L589.3,386.8 L592.4,385.2 L595.2,384.7 L598.0,385.6 L600.5,383.9 L602.5,384.0 L608.4,383.9 L609.2,384.8 L611.3,384.7 L611.3,386.8 L612.4,389.2 L613.7,391.1 L614.6,392.1 L615.6,391.1 L615.6,389.2 L614.5,386.8 L614.0,384.4 L613.7,382.7 L615.6,380.8 L618.0,379.2 L619.6,377.9 L622.0,376.0 L622.8,373.9 L622.0,372.2 L623.3,370.1 L625.2,367.4 L627.6,366.6 L631.3,365.8 L634.8,365.6 L634.8,319.8 Z" fill="#d4d4d4" stroke="#111" stroke-width="0.7" stroke-linejoin="round"/>
<path d="M607.9,397.6 L611.6,395.7 L615.6,395.5 L618.8,397.3 L622.8,399.7 L624.9,400.2 L618.8,400.7 L615.6,397.9 L611.8,397.3 Z" fill="#d4d4d4" stroke="#111" stroke-width="0.7" stroke-linejoin="round"/>
<path d="M627.6,400.8 L632.4,400.7 L634.0,402.9 L629.2,403.7 L627.8,403.1 Z" fill="#d4d4d4" stroke="#111" stroke-width="0.7" stroke-linejoin="round"/>
<path d="M618.2,403.1 L621.4,403.4 L620.7,404.1 L618.5,403.6 Z" fill="#d4d4d4" stroke="#111" stroke-width="0.7" stroke-linejoin="round"/>
<path d="M307.5,353.3 L305.9,353.7 L304.6,354.5 L303.8,356.7 L299.8,356.6 L298.7,359.3 L295.0,360.1 L295.5,362.5 L295.3,364.8 L292.6,365.8 L290.2,366.4 L288.6,367.6 L286.7,367.6 L284.9,369.0 L286.7,370.6 L287.0,372.4 L286.2,372.9 L287.8,373.4 L288.6,373.9 L291.5,375.5 L293.2,377.4 L292.9,380.2 L293.9,380.3 L293.1,382.4 L295.3,383.4 L296.8,384.2 L298.2,383.9 L300.6,385.5 L303.0,386.8 L304.6,387.7 L307.8,387.7 L309.1,388.7 L310.4,387.4 L311.8,387.6 L314.2,387.9 L316.6,386.4 L319.0,385.6 L320.6,385.3 L322.7,387.1 L324.3,388.4 L325.0,390.8 L323.4,392.7 L325.3,393.9 L326.3,395.8 L327.4,398.1 L329.0,398.2 L329.9,396.6 L330.6,396.6 L331.9,396.3 L333.5,396.0 L335.6,395.2 L337.8,396.0 L337.6,396.9 L339.7,398.1" fill="none" stroke="#111" stroke-width="0.6"/>
<path d="M307.5,353.3 L307.8,354.5 L311.0,355.6 L312.2,358.5 L312.6,359.8 L316.6,360.1 L319.7,361.3 L321.1,363.8 L322.3,363.7 L327.1,364.0 L329.9,364.2 L331.9,365.0 L335.1,365.6 L338.3,364.5 L341.2,364.3 L343.7,363.7 L346.1,362.2 L345.7,361.3 L346.0,360.0 L347.1,360.3 L348.9,360.4 L351.1,359.5 L352.7,359.0 L354.3,357.9 L355.9,357.4 L359.0,357.4 L357.5,356.2 L353.8,355.8 L352.1,355.4 L353.8,352.4 L355.6,352.9 L356.7,351.2" fill="none" stroke="#111" stroke-width="0.6"/>
<path d="M370.3,351.2 L371.1,352.4 L374.3,353.0 L376.0,353.8 L376.8,355.8 L379.2,355.8 L382.7,354.8" fill="none" stroke="#111" stroke-width="0.6"/>
<path d="M366.0,368.4 L367.1,367.4 L368.7,366.1 L370.3,365.5 L371.9,365.8 L373.4,365.0 L374.7,364.3 L376.1,364.3 L377.1,363.5 L376.8,361.7 L377.1,360.1 L380.0,360.1" fill="none" stroke="#111" stroke-width="0.6"/>
<path d="M592.4,337.8 L595.6,340.7 L600.4,341.1 L602.8,343.7 L611.6,344.0 L614.0,350.0 L616.4,348.8 L618.0,343.2 L619.6,339.1 L618.0,335.9 L618.8,333.0 L622.0,331.9 L612.4,331.4 L606.8,329.4 L605.2,326.2 L594.8,326.2 L594.0,332.7 L591.6,335.9 Z" fill="#a8d8fa" stroke="#111" stroke-width="0.6" stroke-linejoin="round"/>
<path d="M596.4,357.2 L602.8,354.0 L608.1,354.5 L608.1,357.5 L602.8,357.5 Z" fill="#b8e0fa" stroke="#111" stroke-width="0.6" stroke-linejoin="round"/>
<path d="M603.6,358.5 L604.7,358.5 L605.2,363.4 L603.6,365.3 L602.9,363.4 Z" fill="#c8e6fb" stroke="#111" stroke-width="0.6" stroke-linejoin="round"/>
<path d="M609.2,358.2 L613.2,358.8 L614.8,360.9 L612.7,363.2 L611.6,360.9 L610.0,359.8 Z" fill="#c8e6fb" stroke="#111" stroke-width="0.6" stroke-linejoin="round"/>
<path d="M610.1,365.6 L612.4,364.6 L617.2,363.5 L616.4,364.5 L612.4,365.8 Z" fill="#d8eefc" stroke="#111" stroke-width="0.6" stroke-linejoin="round"/>
<line x1="311.03" y1="328.00" x2="311.03" y2="521.00" stroke="#555" stroke-width="0.6" stroke-dasharray="1,2.5"/>
<line x1="359.12" y1="328.00" x2="359.12" y2="521.00" stroke="#555" stroke-width="0.6" stroke-dasharray="1,2.5"/>
<line x1="407.21" y1="328.00" x2="407.21" y2="521.00" stroke="#555" stroke-width="0.6" stroke-dasharray="1,2.5"/>
<line x1="455.30" y1="328.00" x2="455.30" y2="521.00" stroke="#555" stroke-width="0.6" stroke-dasharray="1,2.5"/>
<line x1="503.39" y1="328.00" x2="503.39" y2="521.00" stroke="#555" stroke-width="0.6" stroke-dasharray="1,2.5"/>
<line x1="551.48" y1="328.00" x2="551.48" y2="521.00" stroke="#555" stroke-width="0.6" stroke-dasharray="1,2.5"/>
<line x1="599.57" y1="328.00" x2="599.57" y2="521.00" stroke="#555" stroke-width="0.6" stroke-dasharray="1,2.5"/>
<line x1="295.00" y1="352.05" x2="631.60" y2="352.05" stroke="#555" stroke-width="0.6" stroke-dasharray="1,2.5"/>
<line x1="295.00" y1="392.43" x2="631.60" y2="392.43" stroke="#555" stroke-width="0.6" stroke-dasharray="1,2.5"/>
<line x1="295.00" y1="432.80" x2="631.60" y2="432.80" stroke="#555" stroke-width="0.6" stroke-dasharray="1,2.5"/>
<line x1="295.00" y1="473.18" x2="631.60" y2="473.18" stroke="#555" stroke-width="0.6" stroke-dasharray="1,2.5"/>
<line x1="295.00" y1="513.55" x2="631.60" y2="513.55" stroke="#555" stroke-width="0.6" stroke-dasharray="1,2.5"/>
</g>
<rect x="295.0" y="328.0" width="336.6" height="193.0" fill="none" stroke="#333" stroke-width="1"/>
<line x1="311.03" y1="328.00" x2="311.03" y2="325.00" stroke="#333" stroke-width="0.8" />
<text x="313.4" y="320.9" font-size="7.4" font-weight="normal" fill="#333" text-anchor="middle" >90°E</text>
<line x1="359.12" y1="328.00" x2="359.12" y2="325.00" stroke="#333" stroke-width="0.8" />
<text x="361.5" y="320.9" font-size="7.4" font-weight="normal" fill="#333" text-anchor="middle" >120°E</text>
<line x1="407.21" y1="328.00" x2="407.21" y2="325.00" stroke="#333" stroke-width="0.8" />
<text x="409.6" y="320.9" font-size="7.4" font-weight="normal" fill="#333" text-anchor="middle" >150°E</text>
<line x1="455.30" y1="328.00" x2="455.30" y2="325.00" stroke="#333" stroke-width="0.8" />
<text x="455.3" y="320.9" font-size="7.4" font-weight="normal" fill="#333" text-anchor="middle" >180°</text>
<line x1="503.39" y1="328.00" x2="503.39" y2="325.00" stroke="#333" stroke-width="0.8" />
<text x="505.8" y="320.9" font-size="7.4" font-weight="normal" fill="#333" text-anchor="middle" >150°W</text>
<line x1="551.48" y1="328.00" x2="551.48" y2="325.00" stroke="#333" stroke-width="0.8" />
<text x="553.9" y="320.9" font-size="7.4" font-weight="normal" fill="#333" text-anchor="middle" >120°W</text>
<line x1="599.57" y1="328.00" x2="599.57" y2="325.00" stroke="#333" stroke-width="0.8" />
<text x="602.0" y="320.9" font-size="7.4" font-weight="normal" fill="#333" text-anchor="middle" >90°W</text>
<line x1="631.60" y1="352.05" x2="638.60" y2="352.05" stroke="#333" stroke-width="0.9" />
<text transform="translate(650.3,351.1) rotate(-90)" font-size="7.2" fill="#333" text-anchor="middle">50°N</text>
<line x1="631.60" y1="392.43" x2="638.60" y2="392.43" stroke="#333" stroke-width="0.9" />
<text transform="translate(650.3,389.6) rotate(-90)" font-size="7.2" fill="#333" text-anchor="middle">25°N</text>
<line x1="631.60" y1="432.80" x2="638.60" y2="432.80" stroke="#333" stroke-width="0.9" />
<text transform="translate(650.3,426.8) rotate(-90)" font-size="7.2" fill="#333" text-anchor="middle">0°</text>
<line x1="631.60" y1="473.18" x2="638.60" y2="473.18" stroke="#333" stroke-width="0.9" />
<text transform="translate(650.3,466.5) rotate(-90)" font-size="7.2" fill="#333" text-anchor="middle">25°S</text>
<line x1="631.60" y1="513.55" x2="638.60" y2="513.55" stroke="#333" stroke-width="0.9" />
<text transform="translate(650.3,505.0) rotate(-90)" font-size="7.2" fill="#333" text-anchor="middle">50°S</text>
<text x="305.5" y="518.0" font-size="9.6" font-weight="bold" fill="#222" text-anchor="start" textLength="49.5" lengthAdjust="spacingAndGlyphs" >FOV [62%]</text>
<text x="458.5" y="534.2" font-size="10" font-weight="normal" fill="#222" text-anchor="middle" textLength="136.4" lengthAdjust="spacingAndGlyphs" >Homogenous Regression Map</text>
<rect x="283.10" y="546.40" width="7.59" height="11.00" fill="#2125d9" />
<rect x="290.39" y="546.40" width="7.59" height="11.00" fill="#232fdc" />
<rect x="297.68" y="546.40" width="7.59" height="11.00" fill="#2539df" />
<rect x="304.97" y="546.40" width="7.59" height="11.00" fill="#2743e2" />
<rect x="312.26" y="546.40" width="7.59" height="11.00" fill="#294de5" />
<rect x="319.55" y="546.40" width="7.59" height="11.00" fill="#2b57e9" />
<rect x="326.84" y="546.40" width="7.59" height="11.00" fill="#2e62ec" />
<rect x="334.13" y="546.40" width="7.59" height="11.00" fill="#336eee" />
<rect x="341.42" y="546.40" width="7.59" height="11.00" fill="#387af0" />
<rect x="348.71" y="546.40" width="7.59" height="11.00" fill="#3d86f3" />
<rect x="356.00" y="546.40" width="7.59" height="11.00" fill="#4192f5" />
<rect x="363.29" y="546.40" width="7.59" height="11.00" fill="#469ef8" />
<rect x="370.58" y="546.40" width="7.59" height="11.00" fill="#4baafa" />
<rect x="377.87" y="546.40" width="7.59" height="11.00" fill="#5ab2fa" />
<rect x="385.16" y="546.40" width="7.59" height="11.00" fill="#69bafb" />
<rect x="392.45" y="546.40" width="7.59" height="11.00" fill="#79c2fb" />
<rect x="399.74" y="546.40" width="7.59" height="11.00" fill="#88cafb" />
<rect x="407.03" y="546.40" width="7.59" height="11.00" fill="#97d2fc" />
<rect x="414.32" y="546.40" width="7.59" height="11.00" fill="#a6dafc" />
<rect x="421.61" y="546.40" width="7.59" height="11.00" fill="#b4e0fc" />
<rect x="428.90" y="546.40" width="7.59" height="11.00" fill="#c2e6fd" />
<rect x="436.19" y="546.40" width="7.59" height="11.00" fill="#cfebfd" />
<rect x="443.48" y="546.40" width="7.59" height="11.00" fill="#ddf1fe" />
<rect x="450.77" y="546.40" width="7.59" height="11.00" fill="#ebf7fe" />
<rect x="458.06" y="546.40" width="7.59" height="11.00" fill="#f8fcff" />
<rect x="465.35" y="546.40" width="7.59" height="11.00" fill="#fffdf7" />
<rect x="472.64" y="546.40" width="7.59" height="11.00" fill="#fff9e6" />
<rect x="479.93" y="546.40" width="7.59" height="11.00" fill="#fff5d5" />
<rect x="487.22" y="546.40" width="7.59" height="11.00" fill="#fef1c4" />
<rect x="494.51" y="546.40" width="7.59" height="11.00" fill="#feedb3" />
<rect x="501.80" y="546.40" width="7.59" height="11.00" fill="#fee9a3" />
<rect x="509.09" y="546.40" width="7.59" height="11.00" fill="#fee492" />
<rect x="516.38" y="546.40" width="7.59" height="11.00" fill="#fdde82" />
<rect x="523.67" y="546.40" width="7.59" height="11.00" fill="#fdd872" />
<rect x="530.96" y="546.40" width="7.59" height="11.00" fill="#fcd162" />
<rect x="538.25" y="546.40" width="7.59" height="11.00" fill="#fbcb52" />
<rect x="545.54" y="546.40" width="7.59" height="11.00" fill="#fbc442" />
<rect x="552.83" y="546.40" width="7.59" height="11.00" fill="#fabe32" />
<rect x="560.12" y="546.40" width="7.59" height="11.00" fill="#f9b22f" />
<rect x="567.41" y="546.40" width="7.59" height="11.00" fill="#f7a62c" />
<rect x="574.70" y="546.40" width="7.59" height="11.00" fill="#f69a29" />
<rect x="581.99" y="546.40" width="7.59" height="11.00" fill="#f58e26" />
<rect x="589.28" y="546.40" width="7.59" height="11.00" fill="#f48224" />
<rect x="596.57" y="546.40" width="7.59" height="11.00" fill="#f27621" />
<rect x="603.86" y="546.40" width="7.59" height="11.00" fill="#f1681e" />
<rect x="611.15" y="546.40" width="7.59" height="11.00" fill="#ef591c" />
<rect x="618.44" y="546.40" width="7.59" height="11.00" fill="#ee4a19" />
<rect x="625.73" y="546.40" width="7.59" height="11.00" fill="#ec3b16" />
<rect x="633.02" y="546.40" width="7.59" height="11.00" fill="#ea2c14" />
<rect x="640.31" y="546.40" width="7.59" height="11.00" fill="#e91d11" />
<rect x="283.1" y="546.4" width="364.5" height="11.0" fill="none" stroke="#333" stroke-width="0.7"/>
<line x1="283.10" y1="557.40" x2="283.10" y2="555.40" stroke="#333" stroke-width="0.8" />
<text x="283.1" y="568.8" font-size="8.8" font-weight="bold" fill="#222" text-anchor="middle" >-1</text>
<line x1="374.23" y1="557.40" x2="374.23" y2="555.40" stroke="#333" stroke-width="0.8" />
<text x="374.2" y="568.8" font-size="8.8" font-weight="bold" fill="#222" text-anchor="middle" >-0.5</text>
<line x1="465.35" y1="557.40" x2="465.35" y2="555.40" stroke="#333" stroke-width="0.8" />
<text x="465.4" y="568.8" font-size="8.8" font-weight="bold" fill="#222" text-anchor="middle" >0</text>
<line x1="556.48" y1="557.40" x2="556.48" y2="555.40" stroke="#333" stroke-width="0.8" />
<text x="556.5" y="568.8" font-size="8.8" font-weight="bold" fill="#222" text-anchor="middle" >0.5</text>
<line x1="647.60" y1="557.40" x2="647.60" y2="555.40" stroke="#333" stroke-width="0.8" />
<text x="648.8" y="568.8" font-size="8.8" font-weight="bold" fill="#222" text-anchor="middle" >1</text>
<text x="466.2" y="584" font-size="10.8" font-weight="bold" fill="#222" text-anchor="middle" textLength="35" lengthAdjust="spacingAndGlyphs">SST (°C)</text>
<line x1="285.20" y1="117.80" x2="651.60" y2="117.80" stroke="#808080" stroke-width="1.8" />
<line x1="292.50" y1="142.40" x2="651.60" y2="142.40" stroke="#111" stroke-width="0.9" stroke-dasharray="3,2"/>
<line x1="307.79" y1="117.80" x2="307.79" y2="208.50" stroke="#ee1c1c" stroke-width="1.1" />
<line x1="328.31" y1="117.80" x2="328.31" y2="208.50" stroke="#ee1c1c" stroke-width="1.1" />
<line x1="359.09" y1="117.80" x2="359.09" y2="208.50" stroke="#ee1c1c" stroke-width="1.1" />
<line x1="369.35" y1="117.80" x2="369.35" y2="208.50" stroke="#ee1c1c" stroke-width="1.1" />
<line x1="405.26" y1="117.80" x2="405.26" y2="208.50" stroke="#ee1c1c" stroke-width="1.1" />
<line x1="430.91" y1="117.80" x2="430.91" y2="208.50" stroke="#ee1c1c" stroke-width="1.1" />
<line x1="456.56" y1="117.80" x2="456.56" y2="208.50" stroke="#ee1c1c" stroke-width="1.1" />
<line x1="482.21" y1="117.80" x2="482.21" y2="208.50" stroke="#ee1c1c" stroke-width="1.1" />
<line x1="502.73" y1="117.80" x2="502.73" y2="208.50" stroke="#ee1c1c" stroke-width="1.1" />
<line x1="512.99" y1="117.80" x2="512.99" y2="208.50" stroke="#ee1c1c" stroke-width="1.1" />
<line x1="533.51" y1="117.80" x2="533.51" y2="208.50" stroke="#ee1c1c" stroke-width="1.1" />
<line x1="559.16" y1="117.80" x2="559.16" y2="208.50" stroke="#ee1c1c" stroke-width="1.1" />
<line x1="569.42" y1="117.80" x2="569.42" y2="208.50" stroke="#ee1c1c" stroke-width="1.1" />
<line x1="595.07" y1="117.80" x2="595.07" y2="208.50" stroke="#ee1c1c" stroke-width="1.1" />
<line x1="620.72" y1="117.80" x2="620.72" y2="208.50" stroke="#ee1c1c" stroke-width="1.1" />
<line x1="641.24" y1="117.80" x2="641.24" y2="208.50" stroke="#ee1c1c" stroke-width="1.1" />
<line x1="625.85" y1="117.80" x2="625.85" y2="208.50" stroke="#ee1c1c" stroke-width="1.1" />
<path d="M297.5,138.0 L302.7,102.0 L307.8,131.0 L312.9,82.0 L318.0,66.0 L323.2,90.0 L328.3,145.0 L333.4,112.0 L338.6,108.0 L343.7,116.0 L348.8,108.0 L354.0,105.0 L359.1,143.0 L364.2,84.0 L369.3,158.0 L374.5,120.0 L379.6,107.0 L384.7,120.0 L389.9,134.0 L395.0,93.0 L400.1,88.0 L405.3,159.0 L410.4,72.0 L415.5,95.0 L420.6,66.0 L425.8,134.0 L430.9,134.0 L436.0,98.0 L441.2,123.0 L446.3,115.0 L451.4,113.0 L456.6,164.0 L461.7,110.0 L466.8,94.0 L471.9,91.0 L477.1,118.0 L482.2,172.0 L487.3,56.0 L492.5,110.0 L497.6,120.0 L502.7,141.0 L507.9,129.0 L513.0,137.0 L518.1,135.0 L523.2,108.0 L528.4,108.0 L533.5,188.0 L538.6,100.0 L543.8,80.0 L548.9,100.0 L554.0,109.0 L559.2,146.0 L564.3,120.0 L569.4,137.0 L574.5,121.0 L579.7,130.0 L584.8,91.0 L589.9,110.0 L595.1,143.0 L600.2,75.0 L605.3,110.0 L610.5,131.0 L615.6,108.0 L620.7,150.0 L625.8,187.0 L631.0,109.0 L636.1,115.0 L641.2,125.0 L646.4,135.0 L651.5,100.0" fill="none" stroke="#1e9e50" stroke-width="1.3" stroke-linejoin="miter" stroke-miterlimit="6"/>
<path d="M297.5,131.0 L302.7,131.0 L307.8,164.0 L312.9,61.0 L318.0,63.0 L323.2,60.0 L328.3,140.0 L333.4,115.0 L338.6,117.0 L343.7,128.0 L348.8,124.0 L354.0,99.0 L359.1,159.0 L364.2,110.0 L369.3,151.0 L374.5,66.0 L379.6,139.0 L384.7,139.0 L389.9,120.0 L395.0,65.0 L400.1,85.0 L405.3,180.0 L410.4,52.0 L415.5,123.0 L420.6,75.0 L425.8,154.0 L430.9,151.0 L436.0,96.0 L441.2,146.0 L446.3,101.0 L451.4,115.0 L456.6,186.0 L461.7,93.0 L466.8,126.0 L471.9,112.0 L477.1,125.0 L482.2,194.0 L487.3,86.0 L492.5,130.0 L497.6,120.0 L502.7,177.0 L507.9,134.0 L513.0,150.0 L518.1,140.0 L523.2,93.0 L528.4,65.0 L533.5,160.0 L538.6,69.0 L543.8,106.0 L548.9,108.0 L554.0,112.0 L559.2,155.0 L564.3,95.0 L569.4,121.0 L574.5,99.0 L579.7,126.0 L584.8,57.0 L589.9,72.0 L595.1,145.0 L600.2,33.0 L605.3,100.0 L610.5,151.0 L615.6,82.0 L620.7,160.0 L625.8,190.0 L631.0,115.0 L636.1,61.0 L641.2,160.0 L646.4,165.0 L651.5,33.0" fill="none" stroke="#1a1aff" stroke-width="1.3" stroke-linejoin="miter" stroke-miterlimit="6"/>
<path d="M297.5,126.0 L302.7,106.0 L307.8,170.0 L312.9,69.0 L318.0,104.0 L323.2,83.0 L328.3,157.0 L333.4,107.0 L338.6,156.0 L343.7,147.0 L348.8,74.0 L354.0,59.0 L359.1,150.0 L364.2,46.0 L369.3,166.0 L374.5,149.0 L379.6,139.0 L384.7,94.0 L389.9,144.0 L395.0,107.0 L400.1,104.0 L405.3,204.0 L410.4,35.0 L415.5,156.0 L420.6,58.0 L425.8,150.0 L430.9,175.0 L436.0,112.0 L441.2,125.0 L446.3,61.0 L451.4,85.0 L456.6,165.0 L461.7,101.0 L466.8,104.0 L471.9,89.0 L477.1,120.0 L482.2,175.0 L487.3,118.0 L492.5,115.0 L497.6,116.0 L502.7,170.0 L507.9,183.0 L513.0,138.0 L518.1,110.0 L523.2,74.0 L528.4,91.0 L533.5,172.0 L538.6,99.0 L543.8,82.0 L548.9,112.0 L554.0,56.0 L559.2,108.0 L564.3,71.0 L569.4,123.0 L574.5,123.0 L579.7,150.0 L584.8,100.0 L589.9,84.0 L595.1,181.0 L600.2,51.0 L605.3,77.0 L610.5,145.0 L615.6,93.0 L620.7,150.0 L625.8,217.0 L631.0,110.0 L636.1,71.0 L641.2,171.0 L646.4,163.0 L651.5,60.0" fill="none" stroke="#111111" stroke-width="1.3" stroke-linejoin="miter" stroke-miterlimit="6"/>
<text x="307.8" y="219.2" font-size="13.5" font-weight="bold" fill="#222" text-anchor="middle" >*</text>
<text x="328.3" y="219.2" font-size="13.5" font-weight="bold" fill="#222" text-anchor="middle" >*</text>
<text x="359.1" y="219.2" font-size="13.5" font-weight="bold" fill="#222" text-anchor="middle" >*</text>
<text x="369.3" y="219.2" font-size="13.5" font-weight="bold" fill="#222" text-anchor="middle" >*</text>
<text x="405.3" y="219.2" font-size="13.5" font-weight="bold" fill="#222" text-anchor="middle" >*</text>
<text x="430.9" y="219.2" font-size="13.5" font-weight="bold" fill="#222" text-anchor="middle" >*</text>
<text x="456.6" y="219.2" font-size="13.5" font-weight="bold" fill="#222" text-anchor="middle" >*</text>
<text x="482.2" y="219.2" font-size="13.5" font-weight="bold" fill="#222" text-anchor="middle" >*</text>
<text x="502.7" y="219.2" font-size="13.5" font-weight="bold" fill="#222" text-anchor="middle" >*</text>
<text x="513.0" y="219.2" font-size="13.5" font-weight="bold" fill="#ee2a2a" text-anchor="middle" >*</text>
<text x="533.5" y="219.2" font-size="13.5" font-weight="bold" fill="#222" text-anchor="middle" >*</text>
<text x="559.2" y="219.2" font-size="13.5" font-weight="bold" fill="#222" text-anchor="middle" >*</text>
<text x="569.4" y="219.2" font-size="13.5" font-weight="bold" fill="#ee2a2a" text-anchor="middle" >*</text>
<text x="595.1" y="219.2" font-size="13.5" font-weight="bold" fill="#222" text-anchor="middle" >*</text>
<text x="620.7" y="219.2" font-size="13.5" font-weight="bold" fill="#ee2a2a" text-anchor="middle" >*</text>
<text x="641.2" y="219.2" font-size="13.5" font-weight="bold" fill="#222" text-anchor="middle" >*</text>
<line x1="292.50" y1="35.00" x2="292.50" y2="218.50" stroke="#333" stroke-width="1" />
<line x1="292.50" y1="218.90" x2="651.60" y2="218.90" stroke="#9a9a9a" stroke-width="1.6" />
<line x1="292.50" y1="35.20" x2="287.50" y2="35.20" stroke="#333" stroke-width="0.9" />
<line x1="292.50" y1="43.46" x2="289.50" y2="43.46" stroke="#333" stroke-width="0.9" />
<line x1="292.50" y1="51.72" x2="289.50" y2="51.72" stroke="#333" stroke-width="0.9" />
<line x1="292.50" y1="59.98" x2="289.50" y2="59.98" stroke="#333" stroke-width="0.9" />
<line x1="292.50" y1="68.24" x2="289.50" y2="68.24" stroke="#333" stroke-width="0.9" />
<line x1="292.50" y1="76.50" x2="287.50" y2="76.50" stroke="#333" stroke-width="0.9" />
<line x1="292.50" y1="84.76" x2="289.50" y2="84.76" stroke="#333" stroke-width="0.9" />
<line x1="292.50" y1="93.02" x2="289.50" y2="93.02" stroke="#333" stroke-width="0.9" />
<line x1="292.50" y1="101.28" x2="289.50" y2="101.28" stroke="#333" stroke-width="0.9" />
<line x1="292.50" y1="109.54" x2="289.50" y2="109.54" stroke="#333" stroke-width="0.9" />
<line x1="292.50" y1="117.80" x2="287.50" y2="117.80" stroke="#333" stroke-width="0.9" />
<line x1="292.50" y1="126.06" x2="289.50" y2="126.06" stroke="#333" stroke-width="0.9" />
<line x1="292.50" y1="134.32" x2="289.50" y2="134.32" stroke="#333" stroke-width="0.9" />
<line x1="292.50" y1="142.58" x2="289.50" y2="142.58" stroke="#333" stroke-width="0.9" />
<line x1="292.50" y1="150.84" x2="289.50" y2="150.84" stroke="#333" stroke-width="0.9" />
<line x1="292.50" y1="159.10" x2="287.50" y2="159.10" stroke="#333" stroke-width="0.9" />
<line x1="292.50" y1="167.36" x2="289.50" y2="167.36" stroke="#333" stroke-width="0.9" />
<line x1="292.50" y1="175.62" x2="289.50" y2="175.62" stroke="#333" stroke-width="0.9" />
<line x1="292.50" y1="183.88" x2="289.50" y2="183.88" stroke="#333" stroke-width="0.9" />
<line x1="292.50" y1="192.14" x2="289.50" y2="192.14" stroke="#333" stroke-width="0.9" />
<line x1="292.50" y1="200.40" x2="287.50" y2="200.40" stroke="#333" stroke-width="0.9" />
<line x1="292.50" y1="208.66" x2="289.50" y2="208.66" stroke="#333" stroke-width="0.9" />
<line x1="292.50" y1="216.92" x2="289.50" y2="216.92" stroke="#333" stroke-width="0.9" />
<text x="283.3" y="38.8" font-size="10" font-weight="bold" fill="#222" text-anchor="end" >-2</text>
<text x="283.3" y="80.1" font-size="10" font-weight="bold" fill="#222" text-anchor="end" >-1</text>
<text x="283.3" y="121.4" font-size="10" font-weight="bold" fill="#222" text-anchor="end" >0</text>
<text x="283.3" y="162.7" font-size="10" font-weight="bold" fill="#222" text-anchor="end" >1</text>
<text x="283.3" y="204.0" font-size="10" font-weight="bold" fill="#222" text-anchor="end" >2</text>
<line x1="292.40" y1="218.50" x2="292.40" y2="228.00" stroke="#333" stroke-width="0.9" />
<text x="294.0" y="238.5" font-size="9.6" font-weight="bold" fill="#222" text-anchor="middle" textLength="22.8" lengthAdjust="spacingAndGlyphs" >1950</text>
<line x1="302.66" y1="218.50" x2="302.66" y2="223.50" stroke="#333" stroke-width="0.9" />
<line x1="312.92" y1="218.50" x2="312.92" y2="223.50" stroke="#333" stroke-width="0.9" />
<line x1="323.18" y1="218.50" x2="323.18" y2="223.50" stroke="#333" stroke-width="0.9" />
<line x1="333.44" y1="218.50" x2="333.44" y2="223.50" stroke="#333" stroke-width="0.9" />
<line x1="343.70" y1="218.50" x2="343.70" y2="228.00" stroke="#333" stroke-width="0.9" />
<text x="345.3" y="238.5" font-size="9.6" font-weight="bold" fill="#222" text-anchor="middle" textLength="22.8" lengthAdjust="spacingAndGlyphs" >1960</text>
<line x1="353.96" y1="218.50" x2="353.96" y2="223.50" stroke="#333" stroke-width="0.9" />
<line x1="364.22" y1="218.50" x2="364.22" y2="223.50" stroke="#333" stroke-width="0.9" />
<line x1="374.48" y1="218.50" x2="374.48" y2="223.50" stroke="#333" stroke-width="0.9" />
<line x1="384.74" y1="218.50" x2="384.74" y2="223.50" stroke="#333" stroke-width="0.9" />
<line x1="395.00" y1="218.50" x2="395.00" y2="228.00" stroke="#333" stroke-width="0.9" />
<text x="396.6" y="238.5" font-size="9.6" font-weight="bold" fill="#222" text-anchor="middle" textLength="22.8" lengthAdjust="spacingAndGlyphs" >1970</text>
<line x1="405.26" y1="218.50" x2="405.26" y2="223.50" stroke="#333" stroke-width="0.9" />
<line x1="415.52" y1="218.50" x2="415.52" y2="223.50" stroke="#333" stroke-width="0.9" />
<line x1="425.78" y1="218.50" x2="425.78" y2="223.50" stroke="#333" stroke-width="0.9" />
<line x1="436.04" y1="218.50" x2="436.04" y2="223.50" stroke="#333" stroke-width="0.9" />
<line x1="446.30" y1="218.50" x2="446.30" y2="228.00" stroke="#333" stroke-width="0.9" />
<text x="447.9" y="238.5" font-size="9.6" font-weight="bold" fill="#222" text-anchor="middle" textLength="22.8" lengthAdjust="spacingAndGlyphs" >1980</text>
<line x1="456.56" y1="218.50" x2="456.56" y2="223.50" stroke="#333" stroke-width="0.9" />
<line x1="466.82" y1="218.50" x2="466.82" y2="223.50" stroke="#333" stroke-width="0.9" />
<line x1="477.08" y1="218.50" x2="477.08" y2="223.50" stroke="#333" stroke-width="0.9" />
<line x1="487.34" y1="218.50" x2="487.34" y2="223.50" stroke="#333" stroke-width="0.9" />
<line x1="497.60" y1="218.50" x2="497.60" y2="228.00" stroke="#333" stroke-width="0.9" />
<text x="499.2" y="238.5" font-size="9.6" font-weight="bold" fill="#222" text-anchor="middle" textLength="22.8" lengthAdjust="spacingAndGlyphs" >1990</text>
<line x1="507.86" y1="218.50" x2="507.86" y2="223.50" stroke="#333" stroke-width="0.9" />
<line x1="518.12" y1="218.50" x2="518.12" y2="223.50" stroke="#333" stroke-width="0.9" />
<line x1="528.38" y1="218.50" x2="528.38" y2="223.50" stroke="#333" stroke-width="0.9" />
<line x1="538.64" y1="218.50" x2="538.64" y2="223.50" stroke="#333" stroke-width="0.9" />
<line x1="548.90" y1="218.50" x2="548.90" y2="228.00" stroke="#333" stroke-width="0.9" />
<text x="550.5" y="238.5" font-size="9.6" font-weight="bold" fill="#222" text-anchor="middle" textLength="22.8" lengthAdjust="spacingAndGlyphs" >2000</text>
<line x1="559.16" y1="218.50" x2="559.16" y2="223.50" stroke="#333" stroke-width="0.9" />
<line x1="569.42" y1="218.50" x2="569.42" y2="223.50" stroke="#333" stroke-width="0.9" />
<line x1="579.68" y1="218.50" x2="579.68" y2="223.50" stroke="#333" stroke-width="0.9" />
<line x1="589.94" y1="218.50" x2="589.94" y2="223.50" stroke="#333" stroke-width="0.9" />
<line x1="600.20" y1="218.50" x2="600.20" y2="228.00" stroke="#333" stroke-width="0.9" />
<text x="601.8" y="238.5" font-size="9.6" font-weight="bold" fill="#222" text-anchor="middle" textLength="22.8" lengthAdjust="spacingAndGlyphs" >2010</text>
<line x1="610.46" y1="218.50" x2="610.46" y2="223.50" stroke="#333" stroke-width="0.9" />
<line x1="620.72" y1="218.50" x2="620.72" y2="223.50" stroke="#333" stroke-width="0.9" />
<line x1="630.98" y1="218.50" x2="630.98" y2="223.50" stroke="#333" stroke-width="0.9" />
<line x1="641.24" y1="218.50" x2="641.24" y2="223.50" stroke="#333" stroke-width="0.9" />
<line x1="651.50" y1="218.50" x2="651.50" y2="228.00" stroke="#333" stroke-width="0.9" />
<text x="653.1" y="238.5" font-size="9.6" font-weight="bold" fill="#222" text-anchor="middle" textLength="22.8" lengthAdjust="spacingAndGlyphs" >2020</text>
<line x1="651.60" y1="14.00" x2="651.60" y2="218.50" stroke="#22a556" stroke-width="1" />
<line x1="651.60" y1="35.30" x2="659.10" y2="35.30" stroke="#22a556" stroke-width="1" />
<text x="662.4" y="38.9" font-size="10" font-weight="bold" fill="#22a556" text-anchor="start" >-2</text>
<line x1="651.60" y1="76.90" x2="659.10" y2="76.90" stroke="#22a556" stroke-width="1" />
<text x="662.4" y="80.5" font-size="10" font-weight="bold" fill="#22a556" text-anchor="start" >-1</text>
<line x1="651.60" y1="118.50" x2="659.10" y2="118.50" stroke="#22a556" stroke-width="1" />
<text x="662.4" y="122.1" font-size="10" font-weight="bold" fill="#22a556" text-anchor="start" >0</text>
<line x1="651.60" y1="160.10" x2="659.10" y2="160.10" stroke="#22a556" stroke-width="1" />
<text x="662.4" y="163.7" font-size="10" font-weight="bold" fill="#22a556" text-anchor="start" >1</text>
<line x1="651.60" y1="201.70" x2="659.10" y2="201.70" stroke="#22a556" stroke-width="1" />
<text x="662.4" y="205.3" font-size="10" font-weight="bold" fill="#22a556" text-anchor="start" >2</text>
<text transform="translate(682.8,120.9) rotate(-90)" font-size="9" font-weight="bold" fill="#22a556" text-anchor="middle" textLength="156" lengthAdjust="spacingAndGlyphs">Niño 3.4 SST Anom. (°C, Summer-Half)</text>
<text transform="translate(277.7,119) rotate(-90)" font-size="10" font-weight="bold" fill="#222" text-anchor="middle">Z-score</text>
<text x="472.9" y="260.7" font-size="10.5" font-weight="bold" fill="#222" text-anchor="middle" textLength="35.2" lengthAdjust="spacingAndGlyphs" >Year CE</text>
<line x1="307.70" y1="30.70" x2="334.00" y2="30.70" stroke="#ee1c1c" stroke-width="1.1" />
<text x="348.6" y="34.2" font-size="9.6" font-weight="normal" fill="#222" text-anchor="start" textLength="120.6" lengthAdjust="spacingAndGlyphs" >Growing-Phase of El Niño Year</text>
<text x="498.2" y="25.2" font-size="9.6" font-weight="bold" fill="#222" textLength="47.2" lengthAdjust="spacingAndGlyphs">δ<tspan font-size="6" dy="-3.5">18</tspan><tspan dy="3.5">O vs </tspan><tspan fill="#1a1aff">PC1</tspan></text>
<text x="498.2" y="36.2" font-size="9.6" font-weight="bold" fill="#222" textLength="64.7" lengthAdjust="spacingAndGlyphs">δ<tspan font-size="6" dy="-3.5">18</tspan><tspan dy="3.5">O vs </tspan><tspan fill="#22a556">Niño3.4</tspan></text>
<text x="498.2" y="47.4" font-size="9.6" font-weight="bold" fill="#1a1aff" textLength="63" lengthAdjust="spacingAndGlyphs">PC1 <tspan fill="#222">vs </tspan><tspan fill="#22a556">Niño3.4</tspan></text>
<text x="565.9" y="25.2" font-size="9.6" font-weight="bold" fill="#222" textLength="77.1" lengthAdjust="spacingAndGlyphs"><tspan font-style="italic">r</tspan> = 0.71 (p&lt;0.01)</text>
<text x="565.9" y="36.2" font-size="9.6" font-weight="bold" fill="#222" textLength="77.1" lengthAdjust="spacingAndGlyphs"><tspan font-style="italic">r</tspan> = 0.67 (p&lt;0.01)</text>
<text x="565.9" y="47.4" font-size="9.6" font-weight="bold" fill="#222" textLength="77.1" lengthAdjust="spacingAndGlyphs"><tspan font-style="italic">r</tspan> = 0.81 (p&lt;0.01)</text></svg></body></html>
